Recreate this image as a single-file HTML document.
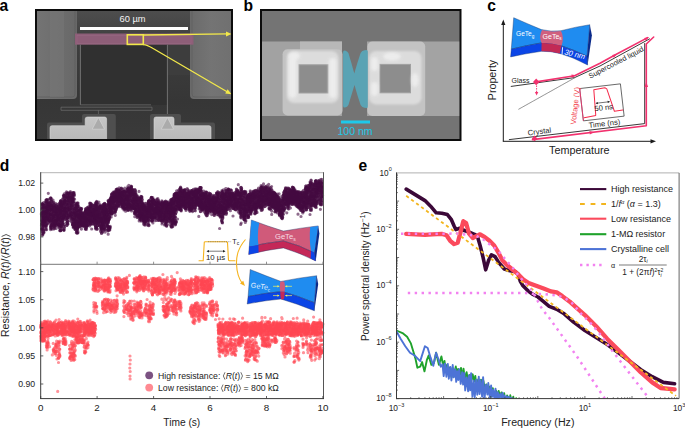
<!DOCTYPE html>
<html><head><meta charset="utf-8"><title>Figure</title>
<style>html,body{margin:0;padding:0;background:#fff;width:685px;height:428px;overflow:hidden;font-family:"Liberation Sans", sans-serif;}</style>
</head><body>
<svg width="685" height="428" viewBox="0 0 685 428" style="display:block;font-family:'Liberation Sans', sans-serif">
<rect width="685" height="428" fill="#fff"/>
<g id="pa">
<defs><linearGradient id="agbg" x1="0" y1="0" x2="0" y2="1"><stop offset="0" stop-color="#4e4e4e"/><stop offset="0.25" stop-color="#3e3e3e"/><stop offset="0.7" stop-color="#363636"/><stop offset="1" stop-color="#3a3a3a"/></linearGradient><linearGradient id="agpad" x1="0" y1="0" x2="1" y2="0"><stop offset="0" stop-color="#747474"/><stop offset="0.5" stop-color="#6e6e6e"/><stop offset="1" stop-color="#686868"/></linearGradient><linearGradient id="agpad2" x1="0" y1="0" x2="1" y2="0"><stop offset="0" stop-color="#6a6a6a"/><stop offset="0.5" stop-color="#747474"/><stop offset="1" stop-color="#707070"/></linearGradient><linearGradient id="agbot" x1="0" y1="0" x2="0" y2="1"><stop offset="0" stop-color="#c6c6c6"/><stop offset="1" stop-color="#b8b8b8"/></linearGradient></defs>
<rect x="36" y="10" width="196" height="130" fill="url(#agbg)"/>
<rect x="80.4" y="44.7" width="87" height="60.1" fill="#303030"/>
<rect x="167.4" y="44.7" width="23" height="30.3" fill="#3d3d3d"/>
<path d="M36 10 H77 V95 Q77 99 73 99 H36 Z" fill="url(#agpad)"/>
<path d="M36 10 H75 V94 Q75 97 72 97 H36 Z" fill="none" stroke="#5e5e5e" stroke-width="0.8"/>
<rect x="50" y="10" width="14" height="87" fill="#787878" opacity="0.5"/>
<path d="M232 10 H190 V95 Q190 99 194 99 H232 Z" fill="url(#agpad2)"/>
<path d="M232 10 H192 V94 Q192 97 195 97 H232 Z" fill="none" stroke="#606060" stroke-width="0.8"/>
<rect x="75" y="33.5" width="118.5" height="11.2" fill="#8e5e78"/>
<rect x="77" y="35.5" width="114" height="8" fill="none" stroke="#9a6a84" stroke-width="0.5"/>
<line x1="80.4" y1="44.7" x2="80.4" y2="104.8" stroke="#808080" stroke-width="0.8"/>
<line x1="167.4" y1="44.7" x2="167.4" y2="118" stroke="#808080" stroke-width="0.8"/>
<path d="M80.4 104.8 H151 M61 107.2 H152 M61 110.3 H152 M61 107.2 V110.3 M152 107.2 V110.3 M98.4 110.3 V117.5" stroke="#777" stroke-width="0.6" fill="none"/>
<path d="M84 114 Q82 114 82 116 V122.6 H49 Q47 122.6 47 124.6 V140 H115.8 V116 Q115.8 114 113.8 114 Z" fill="#4f4f4f"/>
<path d="M152 114 Q150 114 150 116 V140 H215 V124.6 Q215 122.6 213 122.6 H181 V116 Q181 114 179 114 Z" fill="#4f4f4f"/>
<path d="M87.5 117 H104.6 Q106.6 117 106.6 119 V140 H52 Q50 140 50 138 V127.7 Q50 125.7 52 125.7 H85.2 V119 Q85.2 117 87.5 117 Z" fill="url(#agbot)" stroke="#d8d8d8" stroke-width="0.6"/>
<path d="M156 117 H172 Q174 117 174 119 V125.7 H209 Q211 125.7 211 127.7 V140 H154 V119 Q154 117 156 117 Z" fill="url(#agbot)" stroke="#d8d8d8" stroke-width="0.6"/>
<path d="M98.4 117.5 L104.6 129.2 H92.2 Z" fill="#ababab" stroke="#d2d2d2" stroke-width="0.7"/>
<path d="M167.4 117.5 L173.6 129.2 H161.2 Z" fill="#ababab" stroke="#d2d2d2" stroke-width="0.7"/>
<rect x="80" y="27" width="108" height="3" fill="#fff"/>
<text x="132.5" y="22" fill="#f4f4f4" text-anchor="middle" style="font-size:9.3px;" >60 µm</text>
<rect x="127.3" y="34.8" width="16" height="9.6" fill="none" stroke="#f2e84a" stroke-width="1.6"/>
<line x1="143.3" y1="35" x2="228" y2="33.9" stroke="#f2e84a" stroke-width="1.3"/>
<path d="M231.5 34 L226 31.5 L226 36.5 Z" fill="#f2e84a"/>
<path d="M143.3 44.6 Q147 44.6 152.7 48.3 L227.5 92" fill="none" stroke="#f2e84a" stroke-width="1.3"/>
<path d="M231.5 94.2 L225.2 93.6 L227.6 89.3 Z" fill="#f2e84a"/>
<rect x="36" y="10" width="196" height="130" fill="none" stroke="#0c0c0c" stroke-width="2"/>
</g>
<g id="pb">
<rect x="261" y="10" width="199.5" height="130" fill="#747474"/>
<rect x="261" y="41.5" width="81" height="74.5" fill="#a2a2a2"/>
<rect x="367" y="41.5" width="93" height="74.5" fill="#a3a3a3"/>
<rect x="300" y="41.5" width="42" height="10" fill="#b8b8b8"/>
<defs><filter id="bblur" x="-10%" y="-10%" width="120%" height="120%"><feGaussianBlur stdDeviation="1.2"/></filter></defs>
<defs><filter id="bblur2" x="-50%" y="-50%" width="200%" height="200%"><feGaussianBlur stdDeviation="1.8"/></filter><clipPath id="bclip"><rect x="261" y="10" width="199.5" height="130"/></clipPath></defs>
<rect x="282.6" y="49.3" width="59.89999999999998" height="66.2" rx="5" fill="#c3c3c3"/>
<rect x="287" y="51" width="51.5" height="52" rx="7" fill="#dcdcdc" filter="url(#bblur)"/>
<rect x="299" y="64.8" width="29" height="28.200000000000003" fill="#8d8d8d" stroke="#a0a0a0" stroke-width="1"/>
<rect x="367.4" y="41.5" width="57.80000000000001" height="74.5" rx="5" fill="#c3c3c3"/>
<rect x="369" y="51" width="52.5" height="53.400000000000006" rx="7" fill="#dcdcdc" filter="url(#bblur)"/>
<rect x="380" y="64.4" width="30.5" height="28.39999999999999" fill="#8d8d8d" stroke="#a0a0a0" stroke-width="1"/>
<g filter="url(#bblur2)" fill="#efefef" opacity="0.9"><rect x="288.5" y="56" width="8" height="42" rx="4"/><rect x="329" y="58" width="7.5" height="40" rx="3.5"/><ellipse cx="294" cy="56" rx="6" ry="4"/><rect x="371" y="57" width="7" height="14" rx="3.5"/><rect x="371" y="82" width="7" height="14" rx="3.5"/><ellipse cx="392" cy="56.5" rx="9" ry="4"/><ellipse cx="415" cy="80" rx="3.5" ry="7"/></g>
<path d="M343.1 52 Q343.1 50.3 345 50.5 Q347.3 51 348.4 53 Q351.5 63 354.3 73.6 Q357.2 63 360.6 53 Q362 50.5 364.5 50.2 L366.5 50 Q367.8 50 367.8 51.5 V106.5 Q367.8 108 366.5 108 L364.5 107.8 Q362 107.5 360.6 105 Q357.2 95 354.5 85 Q351.5 95 348.4 105 Q347.3 107 345 107.5 Q343.1 107.7 343.1 106 Z" fill="#5aa3b4"/>
<rect x="341" y="120.5" width="29" height="3" fill="#1ec9ea"/>
<text x="355" y="134.6" fill="#1ec9ea" text-anchor="middle" style="font-size:10.5px;" >100 nm</text>
<rect x="261" y="10" width="199.5" height="130" fill="none" stroke="#0c0c0c" stroke-width="2"/>
</g>
<g id="pc">
<line x1="503.3" y1="141.3" x2="503.3" y2="23" stroke="#1a1a1a" stroke-width="1"/>
<path d="M503.3 19.5 L501.2 25 L505.4 25 Z" fill="#1a1a1a"/>
<line x1="502.8" y1="141.3" x2="652" y2="141.3" stroke="#1a1a1a" stroke-width="1"/>
<path d="M656 141.3 L650.5 139.2 L650.5 143.4 Z" fill="#1a1a1a"/>
<text x="496" y="80" fill="#222" text-anchor="middle" style="font-size:10.7px;" transform="rotate(-90 496 80)">Property</text>
<text x="579.3" y="154.3" fill="#222" text-anchor="middle" style="font-size:10.8px;" >Temperature</text>
<polyline points="511.2,86.4 574.6,77.6 600.0,66.0 649.5,38.9" fill="none" stroke="#222" stroke-width="0.9" stroke-linejoin="round" stroke-linecap="round" />
<polyline points="644.7,43.5 644.7,123.6 509.3,139.6" fill="none" stroke="#222" stroke-width="0.9" stroke-linejoin="round" stroke-linecap="round" />
<polyline points="518.7,109.2 574.6,77.9" fill="none" stroke="#555" stroke-width="0.6" stroke-linejoin="round" stroke-linecap="round" stroke-dasharray="1.2 0.6"/>
<polyline points="536.2,81.9 574.6,75.8 600.0,63.2 615.4,54.8 647.7,37.6" fill="none" stroke="#f2316e" stroke-width="1.6" stroke-linejoin="round" stroke-linecap="round" />
<polyline points="532.5,139.6 646.3,125.8 646.3,44.0 653.7,37.0" fill="none" stroke="#f2316e" stroke-width="1.6" stroke-linejoin="round" stroke-linecap="round" />
<path d="M646.3 82 L644.5 87 L648.1 87 Z" fill="#f2316e"/>
<path d="M594 132.3 L589.5 131 L589.8 134.4 Z" fill="#f2316e"/>
<path d="M576 75.3 L571.4 74.6 L571.9 77.9 Z" fill="#f2316e"/><path d="M617 53.9 L612.2 54.9 L613.8 57.8 Z" fill="#f2316e"/><path d="M649 36.9 L644.2 37.9 L645.8 40.8 Z" fill="#f2316e"/>
<path d="M536.2 78.6 L539.4 81.9 L536.2 85.2 L533 81.9 Z" fill="#f2316e"/>
<path d="M534.6 135.6 L537.4 138.4 L534.6 141.2 L531.8 138.4 Z" fill="#f2316e"/>
<line x1="536.6" y1="85.5" x2="536.6" y2="92" stroke="#f2316e" stroke-width="1" stroke-dasharray="1.4 1.2"/>
<path d="M536.6 95.5 L534.9 92 L538.3 92 Z" fill="#f2316e"/>
<text x="511.6" y="82.9" fill="#222" text-anchor="start" style="font-size:7.0px;" >Glass</text>
<text x="590.3" y="78.8" fill="#222" text-anchor="start" style="font-size:7.4px;" transform="rotate(-27.5 590.3 78.8)">Supercooled liquid</text>
<text x="528" y="135.5" fill="#222" text-anchor="start" style="font-size:7.6px;" transform="rotate(-7 528 135.5)">Crystal</text>
<g transform="rotate(-6.6 601.9 102.3)">
<rect x="581.4" y="86.1" width="41" height="32.5" fill="#fff" stroke="#333" stroke-width="0.7"/>
<line x1="581.4" y1="86.1" x2="581.4" y2="118.6" stroke="#f2316e" stroke-width="0.8"/>
<polyline points="582.5,115.5 594.3,114.6 595.3,89.0 606.5,88.2 608.3,89.5 613.3,112.6 621.8,112.3" fill="none" stroke="#f52a4a" stroke-width="1.0" stroke-linejoin="round" stroke-linecap="round" />
<line x1="596" y1="102.6" x2="609.5" y2="102.6" stroke="#222" stroke-width="0.6"/>
<path d="M595.5 102.6 L597.8 101.4 L597.8 103.8 Z" fill="#222"/><path d="M610 102.6 L607.7 101.4 L607.7 103.8 Z" fill="#222"/>
<text x="603" y="110.4" fill="#222" text-anchor="middle" style="font-size:7.6px;" >50 ns</text>
<text x="602" y="126.3" fill="#222" text-anchor="middle" style="font-size:7.6px;" >Time (ns)</text>
</g>
<text x="577.8" y="106" fill="#f23a4a" text-anchor="middle" style="font-size:7.6px;" transform="rotate(-84 577.8 106)">Voltage (V)</text>
<path d="M513.7 17.7 Q528 24 541.4 29.6 Q551 32 561 30.7 Q575 27 589.8 24.7 L587 56.2 Q574 50 561 45.7 Q551 42.5 541.4 42.9 Q526 45.5 511.3 49.2 Z" fill="#1f8cf0" stroke="#10306a" stroke-width="0.4"/>
<path d="M511.3 49.2 Q526 45.5 541.4 42.9 Q551 42.5 561 45.7 Q574 50 587 56.2 L587.6 65 Q573 57 559.6 53.4 Q550 51 541.4 51.3 Q526 53.5 510.6 56.9 Z" fill="#0b45e6" stroke="#10306a" stroke-width="0.4"/>
<path d="M589.8 24.7 L591.9 35.2 L587.6 65 L587 56.2 Z" fill="#0a2a8a"/>
<path d="M542 30 Q551 32.2 561 30.9 Q564.5 37 561.5 45.8 Q551 42.7 541.6 43 Q538.5 36.5 542 30 Z" fill="#d0607e"/>
<path d="M541.6 43 Q551 42.7 561.5 45.8 L559.8 53.4 Q550 51 541.4 51.3 Z" fill="#c22a55"/>
<text x="516" y="36.3" fill="#fff" text-anchor="start" style="font-size:6.6px;" >GeTe<tspan font-size="4.6" dy="1.6">g</tspan></text>
<text x="542.6" y="38.6" fill="#fff" text-anchor="start" style="font-size:7.0px;" >GeTe<tspan font-size="4.6" dy="1.6">s</tspan></text>
<line x1="562.6" y1="47.2" x2="562" y2="54.8" stroke="#fff" stroke-width="0.9"/>
<text x="564" y="54.3" fill="#fff" text-anchor="start" style="font-size:7.6px;" transform="rotate(14 564 54.3)" font-style="italic">30 nm</text>
</g>
<g id="pd">
<path d="M223.7 203.4h0M215.0 210.4h0M206.1 199.4h0M72.6 199.1h0M236.4 195.1h0M209.2 195.5h0M94.9 218.5h0M182.0 196.6h0M284.2 196.3h0M42.5 204.8h0M308.4 189.6h0M173.9 216.3h0M43.4 205.5h0M70.1 207.4h0M137.7 217.1h0M224.8 200.5h0M242.7 204.6h0M82.4 221.0h0M287.0 204.5h0M226.3 191.9h0M78.6 220.8h0M235.0 202.8h0M307.2 191.3h0M122.0 205.5h0M142.5 199.5h0M182.1 201.5h0M109.2 201.8h0M98.6 219.2h0M259.3 196.6h0M272.0 199.5h0M288.1 198.8h0M292.3 197.1h0M47.7 209.2h0M235.6 205.2h0M190.4 203.1h0M168.5 213.8h0M178.7 196.2h0M232.3 197.1h0M264.0 204.5h0M106.6 225.1h0M93.2 224.1h0M140.1 198.8h0M237.5 203.1h0M302.6 196.5h0M86.9 220.8h0M165.0 206.6h0M286.4 196.3h0M219.4 212.8h0M132.1 202.5h0M212.4 207.6h0M174.3 203.4h0M255.0 202.0h0M107.7 214.6h0M294.5 199.1h0M60.7 228.7h0M131.8 192.0h0M235.8 199.3h0M200.7 194.9h0M134.0 197.0h0M269.8 196.3h0M321.1 182.7h0M76.0 205.0h0M103.4 224.8h0M88.3 225.1h0M172.2 199.7h0M237.2 192.1h0M249.7 206.1h0M42.4 209.3h0M204.6 196.6h0M72.7 219.5h0M148.9 211.5h0M277.7 208.7h0M245.6 205.8h0M111.7 194.4h0M105.2 220.1h0M171.7 207.5h0M313.9 196.5h0M53.8 227.1h0M190.0 203.8h0M46.9 216.4h0M284.0 205.4h0M202.7 194.9h0M54.5 216.4h0M161.6 206.0h0M178.5 193.8h0M46.0 228.3h0M243.4 201.7h0M152.4 210.3h0M144.9 206.1h0M207.7 202.3h0M65.6 208.1h0M213.0 202.2h0M293.9 197.4h0M321.1 184.7h0M71.6 219.4h0M226.4 212.9h0M62.6 209.8h0M223.6 212.3h0M226.8 205.5h0M96.7 211.8h0M226.4 206.9h0M179.7 195.0h0M270.6 209.0h0M143.1 205.2h0M279.7 213.7h0M305.4 188.8h0M196.3 198.8h0M217.5 193.3h0M117.2 198.4h0M161.6 219.8h0M138.7 212.2h0M205.0 202.3h0M76.4 220.9h0M51.5 210.9h0M141.0 201.3h0M242.9 201.0h0M246.1 201.1h0M256.9 196.9h0M218.6 202.1h0M284.2 196.1h0M79.7 216.1h0M321.0 190.9h0M48.5 209.0h0M291.2 191.3h0M233.1 205.6h0M303.6 202.2h0M284.7 190.9h0M247.7 197.7h0M153.4 210.0h0M302.5 199.9h0M236.4 195.2h0M204.7 194.0h0M161.1 211.1h0M147.9 216.5h0M124.2 190.3h0M228.1 202.1h0M276.2 208.1h0M255.3 210.6h0M180.3 206.9h0M293.6 199.6h0M109.6 204.2h0M231.4 197.7h0M108.0 222.1h0M150.8 215.8h0M245.4 215.3h0M178.6 209.2h0M272.1 196.6h0M50.1 213.8h0M291.4 197.6h0M288.0 193.0h0M198.8 195.1h0M315.7 202.4h0M95.7 213.0h0M135.7 203.3h0M125.6 205.1h0M96.2 227.1h0M259.8 192.1h0M92.7 218.0h0M110.7 201.2h0M214.2 206.5h0M147.3 214.2h0M111.5 202.7h0M182.1 199.9h0M305.4 189.0h0M216.1 211.1h0M282.9 207.0h0M110.9 202.4h0M245.2 201.5h0M131.0 191.4h0M46.3 217.9h0M158.3 207.5h0M261.8 207.5h0M96.0 206.0h0M95.4 211.5h0M254.8 210.0h0M219.8 203.1h0M261.8 193.4h0M42.7 227.6h0M122.1 205.2h0M176.0 205.1h0M51.3 206.2h0M48.2 216.6h0M252.3 200.6h0M166.5 222.3h0M203.0 206.6h0M164.9 219.1h0M143.4 217.3h0M156.2 208.0h0M80.2 210.5h0M88.0 212.2h0M126.8 205.2h0M127.4 208.5h0M243.5 201.1h0M73.8 214.2h0M284.2 194.4h0M125.9 196.1h0M115.5 197.8h0M46.0 210.2h0M313.8 195.6h0M112.8 194.3h0M179.7 198.4h0M112.1 210.2h0M311.6 204.9h0M95.3 216.4h0M247.0 201.9h0M303.0 206.6h0M210.2 205.3h0M235.8 209.9h0M263.6 191.4h0M93.6 217.8h0M257.1 205.6h0M268.8 197.1h0M50.2 214.4h0M60.1 226.2h0M155.6 209.8h0M222.2 206.2h0M85.2 219.4h0M301.5 210.5h0M51.1 199.7h0M316.0 193.2h0M263.3 199.3h0M243.9 217.6h0M162.3 204.1h0M277.2 197.0h0M138.1 208.4h0M188.3 203.1h0M197.6 190.8h0M105.2 210.9h0M46.2 215.1h0M46.0 212.4h0M152.7 211.9h0M149.1 215.2h0M96.9 204.5h0M114.2 205.5h0M168.2 218.0h0M273.1 195.4h0M166.7 202.9h0M215.2 203.3h0M170.7 212.9h0M102.2 222.4h0M206.6 210.4h0M172.5 224.9h0M76.9 203.2h0M125.5 197.2h0M198.0 201.6h0M309.1 198.2h0M81.4 211.3h0M303.0 195.5h0M263.5 202.8h0M100.6 231.4h0M194.1 203.9h0M233.6 195.6h0M129.2 206.0h0M133.7 194.4h0M71.8 200.2h0M313.3 184.7h0M203.0 199.2h0M121.8 201.3h0M209.5 197.0h0M120.3 197.4h0M156.6 201.5h0M297.6 198.5h0M50.7 215.4h0M127.1 192.6h0M277.3 203.4h0M157.0 199.9h0M306.8 196.5h0M278.9 200.9h0M211.5 206.8h0M177.7 207.6h0M286.6 193.8h0M85.1 216.9h0M224.2 203.4h0M111.8 203.9h0M302.9 211.4h0M116.4 189.7h0M312.3 203.3h0M153.9 218.0h0M47.7 204.9h0M80.1 222.6h0M219.4 192.8h0M237.7 195.8h0M292.6 187.3h0M258.1 196.7h0M199.9 195.5h0M299.3 191.8h0M72.6 220.7h0M97.8 214.2h0M50.2 209.6h0M92.3 217.5h0M295.7 195.2h0M73.0 213.0h0M126.2 195.5h0M170.0 208.0h0M62.6 209.2h0M289.7 193.5h0M172.3 201.9h0M97.7 208.6h0M128.6 192.9h0M288.5 202.6h0M76.2 227.6h0M268.4 204.7h0M256.9 197.2h0M236.6 206.9h0M305.7 190.3h0M306.2 193.3h0M230.5 194.6h0M189.4 205.9h0M167.8 210.4h0M248.5 215.9h0M241.4 191.3h0M249.5 194.4h0M268.2 193.9h0M111.9 211.6h0M201.6 204.1h0M97.8 215.9h0M180.1 189.2h0M65.9 199.9h0M156.8 211.8h0M270.0 204.6h0M260.0 199.0h0M237.4 192.8h0M83.5 221.4h0M96.7 218.7h0M283.2 200.2h0M103.6 216.9h0M104.0 207.1h0M78.8 215.0h0M289.0 203.1h0M272.3 200.6h0M236.4 209.8h0M73.3 224.7h0M322.1 194.3h0M290.9 190.9h0M113.9 193.5h0M240.6 198.2h0M269.2 201.4h0M262.2 193.9h0M262.5 190.7h0M127.7 203.3h0M128.2 189.2h0M186.5 195.9h0M132.2 204.0h0M46.1 213.2h0M180.3 205.9h0M78.0 223.8h0M107.9 221.9h0M81.8 224.8h0M310.2 191.8h0M139.3 210.9h0M129.3 205.0h0M113.0 201.2h0M45.6 211.6h0M271.2 192.8h0M68.2 203.3h0M86.3 213.3h0M75.6 214.4h0M59.3 224.0h0M198.3 198.3h0M94.7 214.1h0M252.6 202.5h0M207.0 212.7h0M271.7 189.5h0M106.1 226.1h0M305.4 201.1h0M96.9 203.2h0M266.5 204.0h0M281.2 217.2h0M273.3 194.3h0M118.2 195.2h0M200.9 208.4h0M220.1 204.6h0M240.3 196.1h0M141.5 201.7h0M148.4 207.2h0M177.0 198.6h0M296.4 200.6h0M305.5 198.1h0M260.1 206.1h0M310.4 196.7h0M316.1 193.1h0M279.8 211.1h0M307.9 207.5h0M287.4 196.4h0M83.5 221.4h0M82.0 222.0h0M185.0 193.7h0M318.6 181.6h0M92.5 215.8h0M251.8 197.6h0M162.8 215.9h0M250.0 199.2h0M68.3 202.1h0M231.5 201.2h0M316.7 194.8h0M307.0 203.3h0M245.9 203.7h0M94.4 220.3h0M148.5 220.2h0M270.7 190.1h0M241.2 213.1h0M181.8 196.8h0M75.8 224.5h0M46.7 223.4h0M174.5 209.1h0M144.3 221.7h0M50.6 216.3h0M102.7 209.4h0M48.4 203.3h0M271.6 186.5h0M72.1 195.4h0M71.0 214.7h0M96.2 221.2h0M182.3 195.7h0M279.3 213.0h0M318.0 197.3h0M279.3 203.4h0M291.5 194.1h0M240.8 201.9h0M199.9 196.6h0M292.5 190.1h0M251.9 200.2h0M230.0 203.1h0M196.4 192.9h0M197.6 197.5h0M210.0 196.6h0M218.8 212.8h0M191.9 199.3h0M86.0 219.2h0M71.2 207.3h0M284.2 206.2h0M56.8 220.0h0M159.5 212.4h0M148.2 211.5h0M155.7 212.3h0M187.9 202.8h0M184.4 199.4h0M303.1 195.3h0M57.4 223.2h0M190.7 207.8h0M157.6 204.3h0M289.4 190.0h0M149.6 203.9h0M199.4 195.3h0M47.8 210.4h0M247.7 195.0h0M128.0 208.4h0M207.8 210.9h0M88.1 211.3h0M209.4 198.7h0M47.0 212.9h0M286.0 196.5h0M256.3 211.9h0M255.4 203.2h0M76.8 231.5h0M244.7 192.0h0M123.2 207.6h0M127.4 192.0h0M193.1 201.3h0M54.4 211.9h0M277.4 206.4h0M182.9 190.0h0M126.2 194.9h0M277.2 206.1h0M301.7 197.5h0M89.9 208.3h0M70.7 204.0h0M317.9 186.6h0M319.8 192.4h0M256.5 194.9h0M311.2 182.2h0M312.5 188.8h0M318.5 199.6h0M275.6 194.6h0M94.3 205.9h0M82.5 221.9h0M295.6 198.9h0M94.7 211.6h0M109.5 199.7h0M255.0 202.5h0M241.4 205.8h0M191.9 207.9h0M219.9 213.9h0M226.5 210.6h0M266.2 200.1h0M59.9 224.7h0M278.5 203.2h0M313.5 197.5h0M307.5 188.6h0M67.5 195.0h0M104.1 228.2h0M178.6 197.4h0M62.7 208.6h0M302.9 207.5h0M58.8 212.2h0M111.1 204.0h0M250.9 194.6h0M245.8 220.6h0M106.4 213.8h0M122.8 203.4h0M273.7 207.9h0M159.7 204.0h0M110.1 212.8h0M253.7 191.2h0M253.8 208.2h0M146.4 209.2h0M260.2 201.0h0M53.0 223.6h0M109.0 209.2h0M44.0 221.1h0M307.4 199.7h0M111.8 207.9h0M240.9 195.8h0M132.9 206.6h0M72.7 202.5h0M170.9 208.7h0M119.9 193.6h0M52.4 221.0h0M175.7 198.7h0M49.2 221.0h0M220.2 210.1h0M209.1 201.3h0M281.6 213.6h0M289.4 202.4h0M191.3 198.0h0M146.5 211.3h0M158.2 213.5h0M312.3 185.3h0M144.4 216.2h0M132.8 202.5h0M225.4 198.6h0M226.4 209.9h0M150.4 213.2h0M158.5 212.2h0M63.7 229.9h0M199.9 196.5h0M128.2 209.0h0M165.1 224.5h0M223.5 211.7h0M163.0 211.5h0M109.9 207.7h0M47.5 204.8h0M75.2 222.9h0M242.1 199.8h0M213.4 212.0h0M250.6 207.7h0M307.5 200.1h0M127.2 196.7h0M42.4 224.0h0M138.2 210.6h0M186.6 207.0h0M224.4 213.6h0M291.5 202.8h0M175.3 195.9h0M317.3 188.6h0M84.0 219.9h0M210.0 201.4h0M174.3 200.8h0M294.7 192.0h0M260.7 195.4h0M61.4 213.9h0M200.4 201.2h0M80.6 214.3h0M229.5 208.9h0M98.8 213.0h0M311.1 180.2h0M318.3 191.1h0M233.9 206.1h0M232.6 193.0h0M192.0 192.9h0M75.6 208.4h0M72.0 221.9h0M261.8 204.2h0M174.2 212.0h0M128.7 209.1h0M181.1 207.4h0M114.9 211.2h0M277.8 207.0h0M176.1 204.3h0M292.0 202.7h0M237.6 208.3h0M224.2 210.2h0M100.7 211.1h0M275.0 202.6h0M50.7 229.6h0M263.6 196.7h0M153.5 199.3h0M50.5 217.5h0M115.3 215.3h0M147.3 212.2h0M213.3 203.1h0M299.1 194.9h0M276.6 195.6h0M114.4 198.4h0M174.4 209.9h0M102.2 220.8h0M296.1 201.3h0M77.5 228.5h0M66.0 200.8h0M228.0 205.5h0M251.1 197.1h0M266.9 187.5h0M102.9 218.3h0M80.4 211.0h0M292.7 191.0h0M306.0 205.0h0M193.4 193.7h0M97.5 214.3h0M287.8 207.8h0M140.2 198.4h0M44.2 216.0h0M175.2 203.3h0M122.2 192.6h0M294.9 199.4h0M161.0 212.7h0M89.2 217.8h0M172.9 221.1h0M234.8 200.1h0M227.0 209.7h0M41.9 212.6h0M278.7 206.4h0M79.5 218.0h0M277.2 201.5h0M158.7 210.4h0M118.3 202.8h0M48.2 217.1h0M99.1 215.8h0M166.6 209.5h0M82.5 212.9h0M42.3 235.2h0M278.4 197.3h0M70.7 205.4h0M145.8 217.0h0M134.4 191.4h0M99.3 215.9h0M140.0 219.3h0M284.3 207.1h0M129.4 205.3h0M81.1 217.0h0M137.5 209.6h0M180.8 207.7h0M152.4 217.5h0M136.4 211.5h0M150.9 204.1h0M146.0 211.3h0M311.3 187.9h0M173.2 202.0h0M180.9 199.3h0M231.3 206.3h0M101.3 215.3h0M276.6 211.1h0M139.9 212.5h0M157.4 202.9h0M245.4 193.1h0M271.7 214.4h0M137.8 209.1h0M195.4 202.3h0M269.8 187.7h0M125.2 203.4h0M45.2 213.6h0M108.5 227.3h0M183.9 190.5h0M240.5 192.8h0M77.4 217.3h0M207.6 209.5h0M122.5 190.4h0M186.7 198.1h0M167.3 206.6h0M110.9 203.7h0M151.9 220.6h0M138.0 204.6h0M253.8 202.1h0M215.3 202.3h0M220.0 208.5h0M305.0 202.1h0M222.9 195.9h0M264.1 197.1h0M210.9 204.4h0M272.9 191.7h0M305.3 203.8h0M188.5 200.9h0M73.9 192.8h0M185.8 192.5h0M58.1 211.5h0M143.5 219.4h0M86.1 228.3h0M62.3 217.6h0M252.6 204.1h0M130.9 193.5h0M112.1 211.1h0M216.2 205.3h0M141.0 213.0h0M165.9 203.7h0M260.0 191.5h0M234.0 198.9h0M226.3 194.4h0M89.9 204.6h0M322.5 188.0h0M158.7 209.9h0M299.9 194.5h0M145.3 218.3h0M235.8 205.7h0M284.7 201.2h0M61.5 226.5h0M128.0 209.6h0M77.0 229.0h0M310.3 203.5h0M228.4 202.9h0M85.4 222.6h0M194.4 196.5h0M53.7 210.4h0M240.1 198.2h0M58.8 206.6h0M113.2 206.9h0M90.2 221.2h0M175.7 197.0h0M85.2 217.3h0M272.3 190.7h0M122.2 188.8h0M194.4 193.1h0M200.1 204.4h0M176.3 202.0h0M272.8 196.6h0M319.0 192.1h0M284.0 192.5h0M281.9 217.5h0M236.3 191.4h0M49.9 215.1h0M49.4 220.7h0M73.4 226.8h0M187.4 193.8h0M171.1 204.2h0M104.9 214.7h0M253.3 193.2h0M228.8 202.5h0M260.0 195.5h0M61.8 216.8h0M229.2 193.5h0M121.6 197.0h0M119.2 203.0h0M87.7 215.7h0M42.2 209.4h0M168.7 204.4h0M42.4 228.8h0M171.6 204.6h0M215.6 210.9h0M195.6 200.7h0M129.9 194.1h0M212.3 203.5h0M226.6 190.7h0M310.0 214.5h0M260.9 195.3h0M262.7 193.3h0M95.5 216.3h0M93.0 210.4h0M163.4 203.6h0M294.2 193.1h0M136.5 210.4h0M50.8 198.7h0M241.1 207.9h0M75.0 216.1h0M176.5 203.2h0M95.6 227.9h0M219.4 202.0h0M43.2 215.6h0M241.5 206.3h0M135.6 212.2h0M77.1 212.9h0M109.6 204.6h0M86.6 210.7h0M76.1 218.0h0M233.8 207.2h0M290.9 200.7h0M83.7 216.5h0M305.3 197.9h0M64.0 196.7h0M277.6 204.0h0M129.4 190.6h0M183.5 196.8h0M98.8 210.1h0M128.6 207.2h0M155.2 217.8h0M92.3 212.2h0M262.6 203.3h0M314.1 203.7h0M46.4 224.5h0M60.5 220.9h0M55.6 225.6h0M175.7 196.3h0M295.6 204.2h0M130.8 200.5h0M59.6 230.6h0M67.7 199.8h0M85.7 229.0h0M255.9 206.6h0M287.0 190.5h0M247.7 204.8h0M96.8 201.3h0M53.0 207.9h0M248.3 207.2h0M148.7 207.1h0M257.4 194.8h0M260.8 202.1h0M263.6 195.7h0M97.5 222.7h0M125.9 193.3h0M45.8 202.0h0M201.2 202.9h0M299.8 206.5h0M264.9 197.4h0M136.7 200.6h0M101.2 218.2h0M192.7 203.4h0M119.2 189.4h0M49.1 205.6h0M108.9 230.1h0M227.1 201.0h0M255.2 208.3h0M306.8 187.9h0M221.0 214.3h0M148.7 217.1h0M171.6 221.7h0M120.4 202.3h0M78.6 210.5h0M306.5 205.1h0M184.9 207.1h0M314.1 199.7h0M88.6 208.6h0M175.0 221.8h0M151.5 197.3h0M243.5 205.3h0M148.5 203.7h0M152.5 213.0h0M319.6 184.8h0M90.0 203.2h0M87.6 221.9h0M200.5 199.9h0M81.6 219.6h0M313.6 205.2h0M215.0 203.4h0M62.0 214.8h0M245.8 210.4h0M83.9 224.3h0M320.8 191.5h0M218.7 202.8h0M115.2 205.9h0M176.7 201.5h0M45.4 210.7h0M128.9 192.8h0M211.7 207.6h0M210.1 208.9h0M282.4 214.0h0M98.6 211.6h0M203.6 207.8h0M255.6 209.1h0M202.3 204.5h0M202.8 210.3h0M294.8 191.5h0M288.7 200.0h0M101.5 227.5h0M134.1 208.3h0M312.9 188.2h0M54.4 207.1h0M153.2 199.1h0M221.9 219.8h0M268.1 197.0h0M275.7 208.2h0M136.6 214.2h0M258.2 200.7h0M133.3 203.7h0M258.6 202.3h0M117.6 193.7h0M299.8 208.3h0M98.6 220.3h0M172.5 219.9h0M244.0 197.2h0M152.2 210.2h0M166.0 204.9h0M131.1 207.9h0M317.1 183.7h0M44.1 214.7h0M70.9 218.5h0M321.3 192.0h0M265.9 199.4h0M119.2 187.9h0M170.1 203.9h0M321.4 197.7h0M55.4 219.9h0M130.2 194.0h0M149.7 216.3h0M70.4 191.6h0M68.6 192.9h0M111.0 211.7h0M131.6 211.0h0M135.9 209.2h0M268.0 202.3h0M82.5 219.6h0M205.8 197.7h0M45.1 218.7h0M295.4 193.3h0M74.1 192.5h0M222.5 198.5h0M88.0 216.6h0M278.4 198.9h0M120.7 196.8h0M151.5 218.0h0M152.1 204.6h0M178.5 198.4h0M221.6 205.6h0M58.3 225.0h0M199.4 200.3h0M312.9 197.9h0M111.3 205.5h0M211.6 210.2h0M93.5 221.6h0M101.6 225.7h0M93.6 212.8h0M322.0 194.2h0M66.9 197.7h0M41.7 215.7h0M268.1 201.6h0M255.3 203.6h0M144.4 219.4h0M127.0 194.8h0M113.7 208.8h0M284.6 196.1h0M200.6 193.3h0M169.2 214.1h0M296.7 202.2h0M90.2 207.4h0M316.7 189.0h0M152.8 220.1h0M268.0 194.6h0M92.4 219.5h0M178.8 202.1h0M192.5 195.3h0M288.0 202.4h0M200.8 201.9h0M131.5 208.2h0M171.3 207.8h0M45.8 208.9h0M183.7 193.8h0M100.6 215.0h0M90.6 212.6h0M315.7 192.3h0M214.8 198.6h0M190.4 197.5h0M206.7 208.8h0M284.6 202.0h0M182.1 205.1h0M231.1 193.9h0M43.3 210.3h0M257.4 204.6h0M222.0 201.3h0M255.1 197.3h0M75.3 225.6h0M168.9 213.9h0M128.3 204.0h0M266.3 200.0h0M61.9 213.2h0M125.5 207.6h0M273.1 194.9h0M119.3 196.2h0M200.1 189.7h0M241.4 202.1h0M47.1 202.9h0M261.2 199.0h0M221.1 216.8h0M88.0 219.5h0M215.6 202.8h0M158.8 210.4h0M297.1 192.9h0M186.4 195.4h0M63.5 200.9h0M307.0 200.1h0M216.6 199.8h0M157.4 202.8h0M315.9 182.2h0M222.1 221.5h0M290.2 197.2h0M195.8 192.2h0M59.3 218.3h0M181.4 207.8h0M292.3 193.4h0M58.0 217.4h0M214.6 205.6h0M49.8 205.7h0M96.1 219.8h0M93.8 207.3h0M182.4 204.6h0M209.1 196.6h0M142.9 204.2h0M127.5 199.9h0M60.7 230.4h0M286.5 199.4h0M142.8 216.6h0M297.0 196.6h0M181.0 200.7h0M245.5 204.1h0M248.3 204.7h0M206.2 206.0h0M78.8 216.1h0M164.7 202.9h0M157.7 207.0h0M208.9 196.6h0M89.8 219.2h0M130.1 203.0h0M209.0 202.9h0M310.8 206.2h0M163.3 207.2h0M301.1 196.1h0M231.4 205.7h0M271.0 201.9h0M247.8 210.3h0M228.6 189.9h0M159.7 217.6h0M291.2 192.5h0M71.0 214.6h0M244.9 215.7h0M133.5 194.1h0M130.2 192.0h0M167.7 208.2h0M287.3 190.9h0M207.7 208.6h0M288.3 197.5h0M170.9 214.9h0M283.7 206.9h0M96.5 205.0h0M137.0 211.4h0M266.4 200.4h0M150.1 208.5h0M113.2 192.2h0M61.8 216.8h0M115.2 198.2h0M45.5 211.9h0M146.3 218.7h0M214.4 215.4h0M195.6 192.1h0M252.1 198.5h0M280.7 202.6h0M57.9 219.3h0M241.7 206.3h0M81.5 213.2h0M235.6 209.8h0M206.7 201.4h0M295.5 195.7h0M180.1 192.7h0M122.3 194.7h0M57.7 223.6h0M91.3 224.1h0M167.0 215.6h0M141.6 205.8h0M155.0 209.4h0M211.6 201.3h0M188.6 196.3h0M187.9 198.7h0M62.1 206.8h0M195.0 196.4h0M83.3 222.0h0M304.4 205.6h0M45.1 204.7h0M100.2 219.5h0M90.1 220.7h0M181.2 204.5h0M213.9 209.2h0M100.1 220.9h0M159.3 204.3h0M266.7 191.2h0M133.5 207.6h0M317.0 191.2h0M51.1 225.2h0M279.4 210.1h0M282.3 209.2h0M283.1 198.3h0M127.5 194.1h0M78.9 219.3h0M183.9 198.6h0M229.9 201.0h0M227.5 197.5h0M318.0 187.8h0M245.6 207.5h0M130.9 190.8h0M50.8 205.6h0M189.7 209.1h0M249.2 196.1h0M79.8 212.9h0M310.3 210.3h0M117.4 203.1h0M184.6 197.5h0M244.5 208.4h0M209.8 205.2h0M243.4 213.7h0M292.9 190.8h0M265.5 187.0h0M207.1 198.1h0M268.2 187.7h0M163.7 214.8h0M198.4 196.3h0M318.4 192.5h0M238.6 201.6h0M293.2 191.7h0M288.0 203.8h0M240.8 209.7h0M125.5 207.5h0M318.7 189.8h0M92.2 218.7h0M174.0 201.4h0M116.8 199.6h0M310.5 208.1h0M62.7 213.1h0M261.8 188.6h0M276.3 203.8h0M225.1 207.2h0M262.3 187.3h0M94.2 212.7h0M181.5 197.9h0M230.7 204.8h0M208.3 207.6h0M98.6 221.2h0M162.2 210.6h0M140.3 216.2h0M187.2 193.7h0M300.1 201.7h0M226.9 199.5h0M57.0 213.1h0M128.8 208.6h0M174.3 195.8h0M226.6 200.8h0M217.6 208.5h0M236.3 195.1h0M256.2 206.7h0M269.4 201.8h0M85.5 219.5h0M90.9 211.8h0M124.9 188.1h0M50.5 229.4h0M78.5 226.0h0M46.1 201.7h0M112.6 194.1h0M262.6 189.5h0M292.0 196.6h0M250.3 196.0h0M135.1 205.7h0M85.3 218.4h0M206.9 210.7h0M319.7 185.8h0M76.3 213.1h0M126.8 203.7h0M86.1 208.8h0M275.3 198.9h0M107.1 205.5h0M108.5 201.3h0M134.9 199.4h0M258.1 194.1h0M119.1 203.2h0M302.0 201.1h0M222.2 222.2h0M141.6 216.4h0M266.7 197.4h0M42.7 208.8h0M306.4 188.3h0M119.9 202.4h0M142.4 213.8h0M153.0 213.7h0M107.1 212.9h0M166.4 209.6h0M270.4 191.7h0M251.8 209.3h0M277.8 197.9h0M222.9 195.3h0M85.4 217.5h0M71.4 208.1h0M134.7 189.7h0M187.9 200.5h0M195.7 193.8h0M320.4 183.8h0M259.9 206.9h0M226.0 199.5h0M128.5 189.3h0M47.5 219.7h0M267.3 191.8h0M129.8 201.4h0M183.7 203.6h0M120.0 197.3h0M63.0 198.9h0M107.0 217.8h0M181.2 207.2h0M250.1 210.9h0M100.9 208.0h0M210.6 196.9h0M317.2 186.0h0M261.3 193.0h0M45.2 213.9h0M121.1 201.1h0M313.0 188.4h0M216.0 198.5h0M233.0 194.9h0M222.8 216.1h0M177.7 193.7h0M74.4 213.7h0M97.7 225.6h0M202.5 202.6h0M43.7 229.7h0M298.6 206.7h0M117.4 190.3h0M216.5 201.7h0M123.0 196.0h0M254.3 205.4h0M130.5 192.3h0M72.9 194.3h0M79.8 223.6h0M143.6 207.4h0M47.7 202.4h0M188.4 194.3h0M131.0 187.5h0M281.8 217.8h0M160.6 218.6h0M120.5 188.8h0M309.2 204.7h0M74.9 220.4h0M135.1 212.9h0M55.8 215.1h0M164.7 208.6h0M151.4 217.9h0M270.7 204.5h0M179.6 190.6h0M271.3 194.2h0M304.0 203.9h0M85.2 215.5h0M124.8 192.1h0M117.4 194.5h0M82.6 217.5h0M294.5 191.5h0M299.6 199.6h0M101.1 217.5h0M258.7 203.8h0M123.5 200.5h0M101.7 213.7h0M301.7 205.1h0M237.3 202.6h0M45.9 200.0h0M314.3 189.4h0M263.2 189.5h0M171.6 211.2h0M56.9 210.8h0M220.2 207.7h0M154.5 208.8h0M180.6 209.9h0M115.7 209.8h0M242.7 199.5h0M248.1 198.1h0M129.9 191.0h0M301.0 193.1h0M248.7 201.6h0M193.8 204.5h0M49.1 207.2h0M125.6 195.2h0M228.7 208.0h0M76.8 218.2h0M299.4 206.6h0M59.5 210.4h0M149.5 209.3h0M89.0 211.7h0M49.5 220.3h0M213.7 213.3h0M200.9 188.2h0M133.3 200.2h0M208.5 203.4h0M135.3 190.9h0M267.1 199.4h0M63.0 203.5h0M71.0 215.0h0M45.2 209.6h0M55.7 211.2h0M286.8 204.6h0M137.8 205.3h0M219.0 208.9h0M73.5 227.7h0M238.6 202.1h0M276.8 196.8h0M212.5 205.4h0M96.8 217.7h0M87.5 219.8h0M95.7 222.5h0M85.8 218.0h0M180.2 204.5h0M178.3 203.2h0M211.0 200.6h0M249.8 195.9h0M253.7 208.8h0M132.2 203.2h0M191.2 192.8h0M241.0 212.6h0M254.1 205.2h0M168.7 205.2h0M180.7 206.7h0M42.6 221.4h0M309.8 184.9h0M124.7 209.1h0M151.7 201.6h0M141.9 199.6h0M156.9 199.2h0M149.2 211.0h0M225.5 192.4h0M61.2 215.9h0M221.3 196.6h0M288.7 201.1h0M147.4 225.1h0M100.1 208.2h0M176.8 211.1h0M244.2 210.9h0M109.4 204.2h0M83.0 217.5h0M77.1 233.2h0M138.7 210.7h0M60.7 213.6h0M81.1 211.5h0M63.5 218.3h0M316.1 188.8h0M303.3 204.9h0M81.2 209.0h0M44.0 218.1h0M318.1 197.9h0M69.3 210.0h0M89.8 219.6h0M92.5 223.4h0M69.4 209.9h0M154.7 206.4h0M273.0 194.1h0M192.6 211.6h0M109.1 203.4h0M199.1 203.8h0M42.9 213.2h0M160.9 202.9h0M197.7 189.2h0M82.5 221.1h0M99.5 213.9h0M84.2 220.0h0M275.5 204.2h0M232.9 195.4h0M92.0 221.3h0M195.1 196.3h0M312.2 193.7h0M274.7 208.8h0M95.4 211.1h0M212.4 196.2h0M266.2 198.6h0M69.1 207.9h0M290.0 201.1h0M303.8 203.3h0M41.6 223.9h0M148.4 217.6h0M181.4 207.0h0M198.1 204.3h0M135.0 202.8h0M81.2 218.1h0M216.5 203.8h0M307.2 191.3h0M127.8 197.6h0M214.2 209.1h0M211.0 201.5h0M85.0 225.8h0M195.8 190.1h0M248.9 198.2h0M242.2 208.5h0M218.3 196.5h0M141.3 216.9h0M233.0 206.2h0M222.8 193.4h0M162.3 215.3h0M67.1 222.5h0M240.3 211.7h0M313.7 200.6h0M105.2 211.9h0M58.8 225.5h0M135.7 194.4h0M73.6 199.0h0M131.6 190.6h0M217.6 212.4h0M279.3 210.9h0M160.8 208.2h0M265.5 194.7h0M150.8 207.4h0M236.1 199.0h0M310.9 182.6h0M124.7 200.2h0M180.6 187.8h0M78.8 221.3h0M101.3 209.9h0M127.5 202.8h0M191.2 190.9h0M62.2 221.1h0M133.9 198.4h0M291.6 201.2h0M109.1 227.6h0M210.1 209.8h0M117.3 190.4h0M154.2 211.8h0M217.2 207.0h0M188.9 192.7h0M251.0 209.5h0M84.5 217.1h0M132.1 202.8h0M199.8 205.2h0M182.9 191.3h0M308.5 197.1h0M43.6 224.5h0M88.1 209.7h0M246.3 204.5h0M96.8 225.2h0M303.7 194.9h0M282.9 205.1h0M47.2 210.9h0M205.5 202.4h0M190.6 206.8h0M264.8 191.4h0M241.5 207.5h0M114.4 201.2h0M100.6 212.1h0M310.4 186.9h0M91.0 220.0h0M64.5 212.0h0M51.6 207.7h0M133.6 197.3h0M215.1 198.8h0M199.1 190.7h0M308.7 199.4h0M50.7 207.0h0M153.2 204.4h0M178.8 195.2h0M63.7 214.1h0M158.5 206.4h0M89.0 223.6h0M123.9 190.9h0M107.4 212.9h0M184.8 207.8h0M100.8 207.4h0M43.7 219.9h0M163.5 215.1h0M179.5 206.6h0M205.8 192.7h0M193.1 201.3h0M285.1 192.1h0M297.9 206.8h0M104.5 206.9h0M250.9 212.6h0M243.8 218.7h0M121.2 200.4h0M184.5 205.1h0M100.1 206.4h0M111.6 214.3h0M282.9 205.8h0M54.0 226.1h0M73.2 227.6h0M72.6 225.1h0M46.3 225.9h0M315.1 195.7h0M149.9 209.0h0M112.2 193.6h0M313.2 204.7h0M272.6 200.7h0M197.5 193.8h0M168.1 206.4h0M60.4 219.4h0M261.8 200.5h0M198.0 196.8h0M280.8 205.2h0M82.6 213.6h0M166.1 218.8h0M170.1 218.7h0M51.3 204.4h0M118.2 197.6h0M284.1 207.0h0M217.7 207.5h0M241.0 212.4h0M298.1 193.3h0M216.0 199.4h0M46.0 207.7h0M193.8 195.7h0M83.1 223.3h0M110.4 208.2h0M170.5 219.6h0M226.2 199.2h0M115.7 193.8h0M205.8 205.7h0M122.0 197.7h0M257.1 195.6h0M195.0 204.5h0M104.8 203.7h0M185.2 201.2h0M174.4 196.5h0M101.0 212.7h0M251.3 200.8h0M91.7 215.4h0M74.3 208.6h0M298.2 201.9h0M58.3 209.2h0M109.5 210.5h0M130.7 205.5h0M306.2 189.3h0M274.9 196.9h0M237.4 192.9h0M84.4 220.6h0M99.6 213.5h0M322.2 187.6h0M183.6 195.7h0M195.3 204.6h0M87.8 212.7h0M112.5 204.5h0M63.7 200.2h0M247.2 198.4h0M271.8 206.3h0M286.6 198.7h0M70.0 197.3h0M171.3 215.3h0M146.1 217.5h0M123.8 190.3h0M263.3 201.6h0M185.3 202.2h0M302.0 209.6h0M190.5 191.8h0M277.1 209.8h0M42.7 206.5h0M173.1 201.3h0M186.1 194.8h0M272.0 192.3h0M268.4 195.3h0M151.5 204.2h0M166.7 204.1h0M165.5 216.8h0M131.9 193.7h0M223.2 210.3h0M266.0 192.6h0M200.7 188.2h0M46.3 202.4h0M50.9 206.0h0M238.0 199.0h0M253.9 193.5h0M248.3 197.8h0M42.9 206.0h0M255.8 193.6h0M143.0 209.9h0M255.3 194.7h0M137.6 196.7h0M202.6 210.1h0M310.0 182.0h0M245.5 219.7h0M148.7 201.0h0M262.7 194.2h0M59.7 204.6h0M248.7 197.2h0M224.2 198.8h0M88.1 212.9h0M81.3 216.4h0M180.6 206.3h0M132.2 203.7h0M293.8 187.8h0M125.2 197.8h0M65.0 212.1h0M56.7 208.8h0M199.2 192.7h0M51.8 218.8h0M142.1 207.2h0M84.6 221.8h0M162.7 220.7h0M220.0 201.8h0M200.6 207.4h0M93.8 209.7h0M319.5 181.7h0M131.1 209.0h0M272.2 204.6h0M135.7 192.7h0M124.9 208.4h0M172.0 214.0h0M171.1 202.3h0M93.1 213.3h0M256.1 206.9h0M321.3 199.8h0M290.7 195.0h0M312.3 194.9h0M132.6 191.0h0M41.4 214.6h0M61.2 226.2h0M239.0 207.5h0M114.7 200.0h0M221.5 209.0h0M303.9 195.8h0M320.3 182.1h0M281.4 203.2h0M253.8 201.9h0M195.4 204.7h0M128.2 204.5h0M113.4 196.1h0M235.3 204.4h0M314.2 202.1h0M171.3 213.2h0M239.7 207.2h0M158.0 209.2h0M166.4 216.9h0M280.6 213.0h0M283.4 198.7h0M108.4 221.1h0M315.3 181.9h0M192.5 205.5h0M104.3 221.2h0M266.8 200.6h0M52.6 218.0h0M232.5 207.2h0M191.9 195.4h0M60.0 211.7h0M101.7 216.9h0M62.0 220.0h0M240.4 204.6h0M196.2 194.7h0M282.7 201.2h0M121.1 199.9h0M223.9 197.5h0M67.0 215.7h0M60.1 229.2h0M254.8 204.0h0M220.1 215.5h0M195.0 190.9h0M174.8 210.2h0M311.8 199.1h0M310.9 206.9h0M132.6 201.9h0M60.2 211.2h0M222.6 209.9h0M169.0 212.7h0M136.9 204.4h0M186.0 202.1h0M43.6 205.9h0M300.1 206.1h0M201.6 208.1h0M161.9 214.8h0M166.0 212.1h0M185.8 199.9h0M106.5 209.6h0M88.7 208.6h0M250.9 203.4h0M57.8 209.5h0M138.5 208.7h0M198.9 203.6h0M200.6 190.4h0M231.2 190.0h0M73.4 214.5h0M170.5 219.8h0M72.2 197.0h0M58.6 215.1h0M56.4 210.0h0M307.7 188.7h0M254.2 206.1h0M102.2 214.8h0M43.0 217.9h0M227.5 201.2h0M135.3 208.8h0M262.2 200.3h0M111.3 197.7h0M113.4 200.4h0M133.4 202.4h0M270.0 197.8h0M185.9 208.0h0M236.1 205.1h0M153.3 205.9h0M248.0 201.7h0M243.8 198.5h0M275.1 193.9h0M305.5 188.4h0M232.4 195.6h0M90.6 214.2h0M190.6 192.1h0M60.8 201.2h0M116.2 194.2h0M271.3 191.4h0M81.4 208.9h0M195.1 201.7h0M175.0 209.2h0M218.5 205.4h0M174.2 204.1h0M244.2 210.8h0M159.0 214.3h0M257.1 212.4h0M262.7 197.1h0M287.6 192.5h0M235.2 193.1h0M169.3 215.8h0M273.6 204.3h0M182.0 203.1h0M311.2 208.2h0M251.5 199.3h0M171.9 220.4h0M179.2 193.3h0M86.5 212.2h0M183.8 192.3h0M201.2 193.3h0M210.5 206.4h0M283.3 204.0h0M286.3 201.4h0M134.4 212.2h0M86.0 226.5h0M173.7 212.6h0M50.2 217.0h0M99.9 220.5h0M184.4 204.8h0M71.2 207.9h0M191.0 194.0h0M138.7 213.5h0M229.4 199.0h0M172.1 202.1h0M86.7 211.9h0M171.2 215.4h0M66.4 212.1h0M107.1 217.8h0M49.6 202.8h0M252.3 203.4h0M181.0 192.1h0M117.7 197.0h0M188.3 201.3h0M112.0 193.9h0M163.4 213.1h0M228.8 197.3h0M193.8 192.9h0M280.5 211.4h0M132.6 192.3h0M306.6 207.6h0M253.1 201.9h0M68.1 199.2h0M154.4 211.9h0M284.8 194.9h0M294.1 204.0h0M60.0 219.1h0M287.3 195.2h0M200.1 208.4h0M237.1 190.8h0M175.5 194.4h0M264.0 200.7h0M82.4 219.5h0M219.6 228.5h0M202.1 195.4h0M241.0 201.8h0M60.8 203.8h0M96.9 221.6h0M204.5 194.0h0M207.5 196.8h0M137.7 213.0h0M275.6 206.9h0M149.2 204.6h0M117.6 194.1h0M160.0 212.6h0M246.5 211.2h0M298.9 203.3h0M263.8 187.1h0M157.8 203.9h0M263.8 195.8h0M163.7 203.8h0M302.3 207.9h0M172.5 203.5h0M148.3 224.0h0M116.0 199.8h0M73.0 192.9h0M309.1 200.2h0M185.3 203.2h0M254.8 204.8h0M105.8 222.0h0M108.3 229.6h0M55.1 217.2h0M269.2 193.1h0M129.3 205.0h0M245.3 192.2h0M278.6 201.0h0M91.4 207.9h0M210.6 203.8h0M55.0 206.7h0M152.5 210.9h0M222.7 216.4h0M216.0 205.4h0M244.9 195.2h0M219.1 205.7h0M276.5 200.8h0M194.8 196.0h0M102.0 210.8h0M214.7 214.2h0M53.8 216.0h0M320.0 192.4h0M95.1 207.9h0M72.0 213.3h0M237.6 191.7h0M171.9 227.2h0M223.1 194.8h0M170.4 211.5h0M155.7 205.7h0M228.4 189.4h0M108.8 203.0h0M81.0 216.9h0M182.7 193.2h0M123.9 205.3h0M181.4 207.2h0M73.2 225.1h0M61.4 202.9h0M43.7 232.1h0M116.4 200.0h0M77.2 214.1h0M299.4 196.0h0M163.7 205.6h0M195.7 195.3h0M70.7 199.3h0M133.7 205.7h0M316.8 192.0h0M247.5 199.8h0M65.6 215.9h0M192.1 206.9h0M250.0 205.2h0M254.5 196.3h0M74.1 226.7h0M275.5 208.7h0" stroke="#420840" stroke-width="3.2" stroke-linecap="round" fill="none" stroke-opacity="0.6"/>
<path d="M138.9 202.8h0M182.3 194.8h0M266.3 205.5h0M200.3 207.9h0M110.6 199.7h0M259.7 192.8h0M66.1 209.8h0M144.3 204.2h0M179.9 209.1h0M174.9 196.1h0M63.7 204.0h0M199.1 209.0h0M172.7 209.8h0M298.4 205.1h0M162.5 220.8h0M182.3 196.4h0M103.9 224.5h0M163.2 214.4h0M51.7 223.2h0M76.9 214.6h0M248.2 195.8h0M164.5 210.9h0M117.9 206.1h0M229.7 200.0h0M50.4 220.0h0M131.6 186.6h0M312.5 183.3h0M126.5 207.0h0M58.9 210.3h0M250.4 205.1h0M101.9 210.9h0M94.1 216.4h0M97.0 209.7h0M192.4 190.3h0M179.2 198.1h0M179.4 206.4h0M101.6 228.5h0M316.4 203.1h0M259.2 196.6h0M46.3 203.2h0M281.0 209.0h0M301.1 198.7h0M62.0 218.2h0M288.7 196.6h0M245.1 210.0h0M252.3 199.8h0M210.3 194.0h0M288.8 202.8h0M135.3 213.9h0M252.8 209.6h0M110.0 202.6h0M92.4 222.6h0M310.3 205.9h0M131.1 206.0h0M256.3 197.8h0M180.1 188.2h0M269.1 204.3h0M119.7 202.8h0M118.8 193.5h0M140.3 210.4h0M149.4 209.1h0M269.6 198.2h0M80.5 216.7h0M100.8 206.7h0M154.7 213.5h0M41.8 215.5h0M293.2 201.3h0M223.1 210.8h0M307.1 199.8h0M309.1 197.6h0M217.5 207.0h0M287.6 205.3h0M68.6 214.2h0M204.1 212.0h0M164.0 211.4h0M85.8 221.3h0M274.8 193.5h0M319.2 187.9h0M173.5 217.9h0M157.5 208.6h0M315.3 181.0h0M234.6 200.7h0M119.2 203.1h0M133.3 197.9h0M297.9 203.1h0M131.1 191.2h0M245.2 192.8h0M267.2 200.5h0M120.1 189.4h0M73.6 212.3h0M60.3 210.4h0M62.2 205.6h0M236.4 196.9h0M54.9 213.9h0M162.0 217.2h0M188.3 205.4h0M77.5 222.3h0M217.8 191.5h0M239.1 196.2h0M286.4 189.2h0M155.9 203.2h0M198.6 202.1h0M301.6 193.4h0M227.3 201.9h0M81.2 220.4h0M228.9 204.5h0M223.0 196.5h0M321.3 185.3h0M165.5 201.3h0M116.2 205.9h0M270.8 208.6h0M265.5 197.5h0M254.8 203.1h0M43.3 231.6h0M81.0 208.7h0M63.4 206.1h0M185.2 199.3h0M223.4 204.0h0M207.0 205.0h0M207.0 214.0h0M241.7 204.7h0M248.7 217.4h0M294.7 193.6h0M302.3 211.3h0M309.2 206.9h0M311.3 200.3h0M177.3 201.5h0M196.9 191.0h0M135.0 192.6h0M65.3 209.4h0M308.4 195.1h0M93.3 210.7h0M56.5 214.7h0M238.7 199.7h0M76.0 209.3h0M250.0 201.2h0M106.9 210.7h0M206.3 210.0h0M79.2 217.0h0M73.5 212.7h0M125.0 192.2h0M118.7 194.0h0M289.0 195.5h0M191.2 202.1h0M142.1 201.8h0M137.1 197.6h0M205.6 199.0h0M138.8 205.9h0M165.1 204.6h0M50.8 209.1h0M42.4 228.2h0M134.5 195.6h0M202.4 202.8h0M109.0 207.6h0M63.1 205.2h0M192.4 201.1h0M260.5 193.1h0M260.9 201.7h0M205.7 212.8h0M194.5 199.3h0M54.6 222.8h0M289.3 192.0h0M183.7 201.0h0M110.8 198.7h0M193.8 203.3h0M218.9 215.0h0M227.9 192.9h0M214.2 203.5h0M119.5 199.8h0M223.5 207.3h0M261.8 197.0h0M266.2 190.4h0M251.3 198.5h0M181.1 196.4h0M103.5 225.9h0M93.8 213.7h0M110.3 210.4h0M174.3 205.4h0M64.2 227.5h0M179.9 208.9h0M84.7 213.5h0M109.7 214.1h0M162.5 206.6h0M57.6 222.2h0M248.9 206.4h0M150.0 207.9h0M252.8 206.8h0M79.9 216.6h0M263.0 205.8h0M53.9 222.4h0M235.1 196.8h0M249.3 197.0h0M55.3 205.4h0M103.4 217.0h0M287.7 201.9h0M169.0 209.4h0M257.6 193.2h0M277.4 209.2h0M313.5 203.6h0M275.2 203.5h0M254.0 194.0h0M218.1 207.6h0M241.0 187.5h0M63.3 217.8h0M257.2 198.1h0M213.1 199.1h0M69.9 196.8h0M214.9 203.4h0M299.5 203.0h0M318.0 182.8h0M163.9 210.1h0M238.2 200.1h0M64.7 201.6h0M118.4 197.2h0M85.1 222.8h0M165.5 211.6h0M215.3 208.7h0M205.9 211.0h0M157.2 214.7h0M256.4 197.9h0M298.7 199.0h0M211.5 208.2h0M146.8 210.0h0M108.9 202.3h0M189.5 204.8h0M125.2 205.5h0M83.9 225.6h0M82.7 214.0h0M104.2 205.0h0M266.6 195.7h0M116.1 205.5h0M236.0 206.0h0M219.5 210.3h0M138.6 200.4h0M307.5 197.2h0M183.4 206.0h0M72.5 199.1h0M77.5 214.4h0M241.0 192.9h0M90.2 209.0h0M310.6 182.3h0M189.6 208.9h0M161.9 208.7h0M271.8 191.7h0M237.6 208.8h0M152.6 201.5h0M103.1 208.1h0M275.1 195.7h0M88.2 219.5h0M46.0 204.3h0M136.5 207.7h0M162.8 209.8h0M249.8 202.8h0M47.1 218.0h0M44.0 232.5h0M102.9 223.8h0M166.2 208.2h0M61.6 216.5h0M69.0 193.2h0M321.3 187.8h0M307.8 195.4h0M314.5 196.5h0M221.6 202.7h0M308.3 188.9h0M237.5 203.1h0M226.1 208.6h0M209.2 206.7h0M216.7 201.6h0M171.7 224.0h0M224.0 208.2h0M315.3 185.6h0M105.0 204.1h0M264.2 198.7h0M165.7 217.0h0M310.7 205.1h0M101.8 222.4h0M180.4 200.7h0M166.7 202.9h0M303.1 211.3h0M143.7 224.3h0M168.7 204.4h0M89.9 213.4h0M94.9 206.1h0M262.4 203.7h0M60.5 230.8h0M243.6 216.8h0M282.0 212.9h0M162.6 212.5h0M205.3 197.9h0M150.1 212.9h0M221.8 203.9h0M302.7 191.9h0M195.8 199.7h0M80.2 222.5h0M67.9 204.6h0M174.5 196.6h0M221.3 204.9h0M234.0 205.7h0M87.1 220.5h0M209.4 209.0h0M236.6 200.0h0M313.3 190.1h0M85.4 228.4h0M46.3 207.2h0M180.1 209.4h0M205.8 196.2h0M251.1 195.2h0M92.2 205.0h0M316.2 204.1h0M173.4 207.6h0M175.8 195.8h0M176.4 195.2h0M73.5 226.4h0M176.2 221.5h0M63.7 229.9h0M52.2 211.5h0M271.6 207.2h0M316.9 186.6h0M144.2 217.5h0M291.4 198.8h0M241.0 207.4h0M176.3 196.3h0M143.2 209.3h0M306.3 203.1h0M299.7 202.6h0M93.2 224.0h0M135.3 197.4h0M287.4 196.8h0M312.0 196.7h0M86.2 210.8h0M317.5 193.8h0M246.1 204.7h0M138.4 209.2h0M275.6 208.9h0M315.1 191.5h0M226.1 194.1h0M240.3 206.4h0M255.5 193.6h0M316.9 192.4h0M52.9 217.8h0M96.9 217.6h0M148.3 212.2h0M250.4 205.1h0M86.5 219.8h0M184.3 191.9h0M113.9 207.6h0M163.8 214.5h0M252.2 191.9h0M164.0 204.1h0M50.8 197.8h0M278.3 204.3h0M193.8 193.6h0M63.8 217.0h0M69.7 199.9h0M177.8 196.6h0M192.8 203.8h0M158.1 211.6h0M121.6 191.5h0M210.6 204.9h0M41.7 219.9h0M45.1 211.7h0M57.9 221.9h0M283.5 199.6h0M116.5 195.9h0M278.7 204.8h0M218.7 205.6h0M99.4 206.8h0M92.1 207.6h0M59.9 215.4h0M214.1 207.0h0M119.9 206.6h0M99.3 222.6h0M179.9 206.5h0M142.4 208.5h0M265.7 199.8h0M144.3 204.2h0M220.8 199.1h0M197.8 191.1h0M287.1 203.0h0M228.1 200.2h0M275.6 195.9h0M146.5 208.0h0M280.8 206.7h0M104.5 217.6h0M42.2 207.9h0M194.2 193.2h0M234.7 194.4h0M174.9 209.4h0M226.9 198.8h0M279.8 214.0h0M226.0 205.8h0M143.2 206.4h0M166.6 202.1h0M172.2 201.5h0M73.4 193.3h0M167.1 217.9h0M240.8 217.4h0M167.0 215.5h0M126.1 199.7h0M86.3 223.1h0M274.4 199.4h0M175.9 222.0h0M91.0 218.3h0M262.9 196.6h0M101.6 233.2h0M140.1 217.6h0M147.7 206.7h0M268.7 184.4h0M61.0 216.5h0M201.1 205.9h0M309.3 204.0h0M149.5 207.5h0M239.5 206.4h0M212.1 206.0h0M141.1 203.0h0M52.3 212.4h0M157.2 211.7h0M44.3 216.8h0M297.7 204.8h0M96.5 206.6h0M219.0 211.4h0M87.9 218.8h0M152.7 209.1h0M125.2 206.2h0M120.1 198.6h0M121.0 195.6h0M145.6 217.6h0M213.7 208.3h0M304.6 197.5h0M205.8 209.4h0M318.0 187.7h0M178.9 205.5h0M296.9 196.3h0M95.5 217.5h0M178.6 207.5h0M156.2 204.6h0M274.2 205.4h0M166.8 209.7h0M233.5 196.8h0M72.9 217.3h0M68.0 200.4h0M56.4 211.5h0M272.0 192.3h0M131.8 193.0h0M146.8 214.5h0M95.8 227.2h0M165.7 218.2h0M116.8 194.4h0M135.2 210.0h0M48.7 220.8h0M107.0 214.1h0M171.1 199.6h0M320.0 201.8h0M141.1 213.2h0M230.6 189.9h0M193.6 192.8h0M207.2 200.0h0M261.6 190.6h0M127.0 200.3h0M298.6 197.1h0M241.4 216.1h0M112.8 201.4h0M315.3 183.7h0M152.1 202.8h0M254.3 191.2h0M92.3 220.9h0M200.1 207.1h0M52.0 210.7h0M298.0 214.2h0M63.1 219.9h0M188.2 196.3h0M144.2 219.7h0M153.7 210.6h0M315.2 186.7h0M151.3 208.1h0M293.4 195.5h0M81.6 222.9h0M153.5 215.5h0M244.3 195.2h0M107.7 214.3h0M167.7 219.0h0M280.2 214.9h0M317.3 190.3h0M131.1 194.2h0M103.3 206.5h0M249.2 194.5h0M240.1 211.8h0M241.6 188.4h0M275.3 207.5h0M210.2 200.6h0M123.8 200.0h0M213.9 201.9h0M165.7 202.5h0M153.5 202.5h0M89.3 210.3h0M259.1 194.7h0M123.3 202.1h0M279.4 214.1h0M121.2 196.3h0M268.1 202.3h0M90.4 223.1h0M180.7 191.0h0M137.4 210.5h0M226.4 213.2h0M149.2 204.2h0M147.0 218.4h0M195.3 204.6h0M250.4 195.6h0M78.3 226.5h0M139.0 209.3h0M75.9 225.2h0M275.6 208.2h0M79.1 219.5h0M146.0 203.5h0M95.9 218.1h0M308.1 200.5h0M201.6 201.5h0M228.6 204.9h0M103.8 210.0h0M267.0 198.0h0M194.5 210.5h0M56.7 223.9h0M136.3 201.6h0M244.5 219.9h0M217.3 207.6h0M110.0 205.9h0M178.0 194.9h0M186.3 209.9h0M288.1 201.9h0M250.4 213.9h0M306.9 194.7h0M159.9 216.4h0M180.5 209.2h0M47.3 216.0h0M100.7 226.9h0M77.7 219.5h0M231.0 197.5h0M140.5 200.4h0M51.2 226.8h0M148.2 202.0h0M71.6 204.1h0M122.6 207.1h0M99.9 207.3h0M212.9 200.3h0M162.0 220.9h0M91.9 220.6h0M67.1 212.7h0M300.8 197.9h0M246.2 207.3h0M308.3 192.5h0M134.4 213.7h0M159.1 212.5h0M235.6 196.0h0M258.2 206.2h0M49.4 214.6h0M223.3 201.1h0M118.7 193.7h0M287.7 207.0h0M269.2 200.9h0M156.7 220.3h0M232.4 201.5h0M161.3 213.8h0M204.6 205.7h0M64.7 200.0h0M278.0 205.4h0M77.4 225.4h0M267.1 202.8h0M190.0 209.0h0M158.7 220.1h0M75.8 214.9h0M257.8 191.5h0M199.9 206.4h0M311.9 203.9h0M315.4 190.4h0M290.5 201.3h0M132.9 194.3h0M102.9 212.8h0M289.2 203.1h0M248.7 200.9h0M244.1 201.5h0M177.1 197.6h0M260.7 207.9h0M247.8 203.4h0M131.2 193.9h0M319.5 201.3h0M303.4 197.1h0M278.0 210.6h0M49.6 209.4h0M83.1 216.5h0M70.6 198.5h0M219.4 193.0h0M186.0 210.4h0M307.1 191.2h0M215.7 207.8h0M292.3 194.2h0M274.9 207.2h0M180.7 200.7h0M178.2 206.4h0M148.3 219.3h0M117.3 192.5h0M303.4 209.2h0M62.6 219.1h0M120.8 202.9h0M120.6 201.7h0M213.9 204.6h0M261.0 193.3h0M245.7 207.0h0M198.3 204.5h0M159.3 207.3h0M61.3 221.2h0M92.7 208.5h0M272.3 199.7h0M86.0 219.0h0M51.7 220.5h0M116.9 201.3h0M149.3 211.6h0M320.5 203.3h0M291.8 199.0h0M304.5 208.3h0M277.3 194.1h0M41.7 218.4h0M173.7 207.3h0M174.4 221.4h0M202.1 204.0h0M227.5 194.6h0M43.0 209.3h0M74.4 224.7h0M46.3 212.4h0M247.6 195.4h0M166.2 211.4h0M153.8 216.0h0M56.6 220.1h0M120.3 200.5h0M193.6 198.4h0M263.9 205.2h0M322.5 196.6h0M53.9 224.9h0M306.3 189.3h0M206.7 215.8h0M87.9 218.8h0M222.5 209.4h0M245.4 218.0h0M60.3 225.3h0M62.6 221.3h0M231.2 201.1h0M129.2 206.6h0M93.2 210.0h0M82.9 213.4h0M151.9 205.4h0M105.1 232.1h0M293.3 190.7h0M174.2 221.3h0M95.4 216.0h0M207.2 207.0h0M72.9 201.6h0M313.7 205.6h0M46.2 203.6h0M315.0 202.4h0M131.1 199.2h0M255.2 199.1h0M258.3 202.3h0M278.9 198.7h0M236.1 201.8h0M315.7 200.7h0M239.3 192.3h0M250.8 200.2h0M84.9 221.5h0M214.4 205.0h0M144.5 211.1h0M208.5 211.3h0M200.7 188.7h0M265.1 203.2h0M177.6 193.5h0M176.9 193.4h0M60.8 212.7h0M222.7 192.4h0M163.0 208.5h0M128.7 204.2h0M84.3 217.4h0M246.0 205.9h0M139.8 210.2h0M268.5 190.7h0M78.0 232.5h0M288.0 200.3h0M110.0 201.6h0M66.0 211.6h0M79.8 219.5h0M194.7 192.6h0M112.1 196.9h0M96.0 210.6h0M105.1 221.8h0M88.3 210.0h0M111.5 200.3h0M191.4 210.3h0M166.2 201.8h0M145.6 209.3h0M105.2 213.0h0M271.2 202.3h0M224.9 208.3h0M129.0 191.3h0M320.2 203.5h0M65.0 219.4h0M86.4 227.3h0M191.1 200.7h0M249.9 195.3h0M146.8 211.1h0M313.3 193.0h0M64.8 226.6h0M250.6 191.8h0M131.0 209.0h0M300.3 198.4h0M99.3 225.5h0M144.9 223.1h0M196.1 194.9h0M159.8 209.0h0M154.0 210.1h0M136.1 208.3h0M194.8 209.6h0M163.7 219.3h0M185.0 204.0h0M276.9 203.7h0M98.6 211.1h0M65.8 219.1h0M50.8 198.0h0M157.9 203.2h0M179.8 205.4h0M266.1 189.5h0M61.7 226.8h0M174.5 221.7h0M251.3 195.5h0M274.2 199.5h0M164.5 219.0h0M57.3 218.8h0M131.8 201.6h0M208.4 204.9h0M235.4 192.7h0M246.9 197.8h0M161.6 211.6h0M42.7 226.3h0M206.6 206.8h0M143.3 208.6h0M254.7 203.9h0M53.3 216.2h0M205.4 201.4h0M180.2 202.7h0M85.9 211.9h0M204.6 199.1h0M228.5 199.3h0M293.7 195.9h0M291.1 192.8h0M321.4 186.2h0M51.5 222.1h0M320.2 181.0h0M41.9 229.1h0M206.8 212.8h0M290.7 191.1h0M305.7 188.9h0M268.9 189.9h0M176.3 203.0h0M163.2 204.0h0M70.0 201.3h0M294.2 194.0h0M77.0 224.1h0M242.8 204.8h0M293.2 188.9h0M288.1 189.5h0M127.8 197.6h0M166.4 202.1h0M157.7 214.2h0M114.0 203.1h0M316.0 205.0h0M276.7 208.0h0M276.4 204.1h0M270.8 202.7h0M209.0 201.9h0M145.9 210.7h0M301.0 196.5h0M173.8 216.7h0M275.2 206.9h0M109.4 219.0h0M79.5 224.2h0M167.2 216.7h0M55.0 220.9h0M277.7 204.6h0M303.6 206.8h0M316.0 190.5h0M135.0 207.2h0M315.1 185.0h0M86.7 223.2h0M181.6 203.2h0M175.0 217.1h0M143.6 211.7h0M182.3 200.0h0M223.9 204.2h0M103.4 229.0h0M132.4 206.5h0M66.2 215.4h0M189.4 202.2h0M212.8 211.0h0M124.1 203.2h0M135.0 204.5h0M83.4 218.4h0M101.3 228.6h0M233.7 204.8h0M121.5 204.8h0M252.4 207.9h0M125.3 199.8h0M167.5 218.3h0M67.7 210.7h0M155.6 210.0h0M206.0 194.4h0M71.7 215.8h0M200.6 190.0h0M58.6 211.1h0M191.6 199.7h0M152.0 200.7h0M57.2 209.9h0M208.9 202.0h0M321.8 190.9h0M96.1 211.6h0M250.3 204.7h0M51.0 225.3h0M215.4 203.0h0M192.7 198.5h0M319.1 200.9h0M117.7 193.2h0M277.4 200.1h0M241.8 202.5h0M97.5 207.7h0M145.6 208.3h0M94.2 216.3h0M273.9 205.9h0M165.9 220.9h0M217.9 194.0h0M130.9 187.9h0M76.1 223.3h0M203.6 199.5h0M106.3 224.7h0M144.0 215.6h0M301.0 216.5h0M272.8 192.4h0M97.7 215.6h0M42.7 209.3h0M232.1 203.4h0M298.6 206.3h0M132.2 204.1h0M227.0 201.7h0M159.8 214.2h0M174.9 195.7h0M60.5 226.5h0M50.1 209.4h0M130.7 207.8h0M74.3 224.1h0M147.4 215.9h0M227.6 205.1h0M151.7 216.2h0M301.2 203.9h0M225.5 210.9h0M169.8 212.5h0M246.4 201.2h0M221.3 198.1h0M58.6 216.8h0M204.3 200.4h0M103.5 220.3h0M145.4 221.0h0M104.1 228.7h0M270.3 195.2h0M175.9 204.3h0M310.2 204.0h0M181.1 203.1h0M49.5 223.2h0M274.3 205.8h0M203.3 203.7h0M160.5 214.8h0M57.9 206.8h0M75.9 226.3h0M61.6 205.9h0M131.7 191.8h0M75.5 221.2h0M221.5 203.5h0M166.8 217.4h0M148.7 225.7h0M196.9 194.6h0M42.4 232.0h0M166.7 210.3h0M147.5 209.0h0M94.6 211.3h0M177.6 205.2h0M106.5 216.4h0M141.7 196.9h0M141.1 215.9h0M282.3 217.3h0M263.4 197.8h0M106.0 212.6h0M95.1 210.3h0M111.7 203.1h0M247.4 213.1h0M56.1 228.5h0M103.4 204.3h0M63.5 214.5h0M193.9 209.9h0M185.4 202.6h0M44.0 222.4h0M67.6 207.6h0M248.7 205.3h0M228.3 206.6h0M239.5 195.0h0M76.6 210.4h0M57.9 226.9h0M259.5 204.1h0M269.2 208.3h0M265.1 191.3h0M82.3 223.3h0M259.4 202.0h0M211.3 204.9h0M267.6 197.9h0M261.0 187.5h0M124.2 191.7h0M234.3 199.0h0M297.9 195.8h0M276.5 209.5h0M194.6 197.3h0M222.6 202.3h0M227.5 204.5h0M258.2 204.7h0M49.0 206.1h0M182.8 191.3h0M234.4 202.5h0M43.3 212.7h0M78.1 218.1h0M63.6 201.3h0M306.1 186.0h0M146.9 211.0h0M250.2 200.5h0M43.3 208.9h0M181.0 188.3h0M248.5 202.6h0M178.0 203.7h0M232.4 202.2h0M76.8 220.8h0M156.4 207.3h0M166.3 221.9h0M305.6 194.8h0M218.1 195.1h0M180.4 202.1h0M135.3 199.1h0M157.2 212.5h0M244.9 193.1h0M73.2 224.7h0M153.6 216.2h0M67.1 193.6h0M299.0 207.9h0M124.3 204.0h0M210.1 196.5h0M171.9 211.8h0M74.6 229.1h0M257.8 194.3h0M93.1 216.7h0M278.8 202.8h0M161.0 209.8h0M270.6 193.3h0M320.6 204.7h0M196.6 200.9h0M106.3 217.0h0M91.5 211.3h0M114.2 193.4h0M174.2 220.5h0M89.3 220.6h0M192.8 191.1h0M312.8 190.7h0M199.1 189.7h0M133.0 208.2h0M167.2 211.6h0M108.9 218.1h0M165.3 213.7h0M173.6 203.9h0M277.2 202.0h0M311.0 194.3h0M233.8 208.4h0M56.1 224.6h0M153.5 216.2h0M222.6 191.6h0M226.7 194.5h0M190.7 193.8h0M216.4 209.0h0M261.6 190.3h0M261.4 205.3h0M225.9 194.8h0M140.7 200.5h0M42.2 212.4h0M274.9 203.8h0M321.3 188.9h0M124.0 196.7h0M140.4 202.4h0M233.1 194.7h0M208.3 199.1h0M106.6 214.9h0M281.0 215.0h0M309.2 203.2h0M130.2 207.4h0M114.4 212.4h0M52.2 206.0h0M152.1 217.7h0M136.0 211.0h0M68.0 198.2h0M77.4 228.5h0M250.3 205.5h0M83.4 214.0h0M90.4 210.6h0M182.5 204.7h0M256.7 196.3h0M307.2 196.9h0M112.8 201.2h0M255.9 210.8h0M87.3 219.6h0M121.3 204.3h0M167.3 219.9h0M209.5 209.0h0M163.9 216.7h0M210.0 208.1h0M114.1 203.9h0M266.8 192.6h0M274.9 199.9h0M292.2 198.8h0M233.0 193.2h0M138.0 199.4h0M164.5 207.6h0M82.8 224.1h0M86.8 225.0h0M296.6 201.5h0M214.0 207.0h0M49.4 213.6h0M318.8 200.6h0M189.8 199.6h0M268.9 200.7h0M187.6 206.4h0M231.9 202.8h0M240.8 200.1h0M258.6 192.7h0M285.5 200.4h0M69.8 195.1h0M114.7 197.1h0M186.7 196.8h0M250.0 201.2h0M306.5 206.8h0M64.5 202.8h0M152.2 217.0h0M170.6 203.7h0M215.3 207.0h0M76.0 211.5h0M221.9 209.6h0M169.5 224.4h0M294.2 195.5h0M193.3 205.7h0M59.4 220.2h0M101.3 221.8h0M71.1 194.0h0M91.0 203.4h0M225.8 196.9h0M181.8 202.9h0M64.7 213.3h0M72.8 211.7h0M245.6 205.5h0M81.6 218.2h0M173.2 220.5h0M67.5 204.9h0M267.2 189.3h0M129.5 199.9h0M317.9 183.3h0M200.5 199.0h0M49.6 214.1h0M268.7 191.2h0M127.9 191.2h0M77.9 231.3h0M264.7 200.8h0M89.3 217.6h0M49.5 218.0h0M108.0 207.0h0M174.2 213.4h0M239.3 200.9h0M127.0 196.7h0M317.9 190.4h0M69.6 215.5h0M179.7 191.5h0M175.7 197.3h0M248.9 209.5h0M253.6 195.7h0M79.1 215.7h0M98.4 207.0h0M253.3 199.3h0M249.1 195.6h0M320.8 198.8h0M66.3 215.2h0M80.6 221.9h0M218.6 211.7h0M269.4 191.4h0M187.9 194.1h0M255.1 208.2h0M220.2 194.7h0M92.9 211.7h0M95.3 220.4h0M262.3 197.5h0M204.7 206.9h0M310.6 193.6h0M202.9 208.2h0M54.3 204.1h0M243.3 195.3h0M293.1 202.8h0M302.7 205.2h0M105.7 214.7h0M169.2 216.4h0M53.9 216.4h0M309.3 196.4h0M90.4 223.7h0M308.2 200.2h0M60.5 220.9h0M136.6 209.4h0M51.6 222.3h0M281.2 205.5h0M139.1 207.7h0M148.8 215.2h0M256.0 203.5h0M143.2 211.4h0M60.8 222.6h0M280.0 213.2h0M183.8 191.0h0M64.4 196.7h0M285.4 200.2h0M52.1 207.6h0M145.6 208.5h0M170.7 216.8h0M121.0 188.7h0M186.4 198.5h0M178.3 203.4h0M258.1 207.1h0M278.6 208.7h0M319.6 182.8h0M264.8 196.0h0M138.7 205.8h0M190.5 208.4h0M66.6 210.6h0M316.8 202.9h0M120.7 194.8h0M154.7 202.1h0M100.0 218.0h0M170.2 207.6h0M272.2 194.4h0M271.2 191.3h0M96.0 222.4h0M120.6 191.5h0M170.7 215.0h0M308.1 206.0h0M175.7 209.7h0M304.1 194.0h0M205.9 207.6h0M178.6 198.1h0M234.2 199.5h0M90.1 209.9h0M307.9 191.5h0M197.5 193.7h0M136.8 194.9h0M145.2 207.5h0M262.5 198.7h0M319.5 188.4h0M264.1 198.9h0M89.8 214.8h0M299.4 196.5h0M322.1 202.0h0M128.2 196.8h0M197.1 197.8h0M321.9 182.5h0M68.3 214.1h0M67.3 213.8h0M165.8 217.1h0M80.9 209.3h0M139.2 217.0h0M63.5 206.0h0M65.1 206.6h0M280.9 211.8h0M209.9 198.8h0M149.0 209.6h0M271.9 203.8h0M256.2 200.0h0M141.0 215.5h0M110.7 208.8h0M230.5 197.4h0M94.5 206.0h0M227.8 192.3h0M148.0 208.4h0M96.5 221.1h0M133.9 200.0h0M207.1 211.0h0M292.4 197.1h0M93.5 217.4h0M292.0 195.9h0M232.9 196.9h0M251.6 201.5h0M131.3 194.8h0M91.8 216.0h0M266.5 204.5h0M285.6 198.6h0M65.8 216.7h0M108.6 220.1h0M308.1 198.5h0M277.5 201.8h0M241.4 201.0h0M296.6 191.7h0M271.7 202.5h0M241.5 200.9h0M189.1 209.5h0M43.8 207.7h0M250.4 210.5h0M44.7 213.9h0M276.5 195.2h0M52.7 225.0h0M124.5 208.2h0M201.0 202.4h0M306.2 192.5h0M199.0 197.0h0M176.0 194.2h0M315.6 188.7h0M221.8 209.3h0M302.2 201.0h0M317.3 202.2h0M107.7 225.3h0M104.6 211.5h0M42.9 234.5h0M306.1 195.5h0M185.2 199.2h0M203.4 201.5h0M218.4 209.5h0M115.7 207.9h0M153.0 203.6h0M255.2 208.3h0M260.8 192.4h0M120.8 193.9h0M141.1 214.0h0M197.6 198.7h0M229.3 196.4h0M198.8 216.4h0M130.6 192.1h0M231.8 204.5h0M179.2 196.0h0M182.1 196.3h0M108.4 205.4h0M77.0 222.6h0M102.6 218.2h0M123.7 196.2h0M308.1 207.6h0M83.4 226.1h0M184.6 206.8h0M60.0 215.0h0M63.4 195.8h0M138.0 206.2h0M104.7 224.5h0M318.4 182.4h0M61.2 226.2h0M210.8 205.2h0M320.3 204.7h0M177.6 205.8h0M68.7 213.4h0M289.3 189.1h0M128.2 199.8h0M271.9 194.9h0M65.8 215.6h0M218.7 208.9h0M185.0 205.7h0M288.3 193.8h0M131.6 199.7h0M69.5 212.8h0M259.8 205.8h0M114.9 208.5h0M297.4 197.0h0M193.5 204.8h0M158.0 213.5h0M210.1 208.4h0M195.2 192.0h0M176.8 194.3h0M59.3 208.7h0M186.1 194.6h0M182.3 193.2h0M161.8 211.7h0M293.1 201.1h0M61.0 203.9h0M97.4 223.2h0M100.5 210.3h0M132.8 189.8h0M151.3 215.0h0M48.1 216.6h0M294.1 200.5h0M145.0 208.9h0M123.1 205.9h0M320.2 200.8h0M195.2 196.4h0M43.0 204.4h0M127.1 205.4h0M114.4 196.3h0M294.4 195.4h0M260.3 194.8h0M59.0 207.7h0M300.0 206.6h0M132.9 193.1h0M222.2 216.7h0M75.3 222.5h0M195.6 203.6h0M164.0 207.7h0M263.8 205.3h0M256.0 212.5h0M103.6 220.0h0M74.7 205.5h0M200.4 195.9h0M117.7 204.1h0M209.0 204.8h0M86.9 224.3h0M231.5 200.2h0M102.1 218.4h0M139.9 198.2h0M267.5 193.2h0M87.9 213.8h0M66.7 225.4h0M225.2 196.4h0M52.7 211.7h0M315.0 203.9h0M278.2 204.2h0M116.0 197.2h0M161.1 214.3h0M92.2 213.1h0M188.5 202.8h0M228.5 190.2h0M123.3 200.2h0M259.0 192.7h0M304.0 193.0h0M175.5 220.6h0M215.2 209.3h0M91.1 211.8h0M56.0 207.9h0M198.3 191.7h0M105.6 210.0h0M162.0 219.0h0M134.7 213.7h0M213.5 205.9h0M195.5 198.3h0M211.5 197.3h0M274.3 200.0h0M245.2 205.2h0M143.9 218.2h0M232.5 199.6h0M208.8 210.3h0M185.4 197.5h0M202.3 201.7h0M271.4 199.0h0M268.8 203.6h0M97.3 214.0h0M196.2 191.8h0M79.6 221.6h0M191.0 192.7h0M77.3 205.4h0M112.9 203.3h0M139.7 201.9h0M203.1 197.8h0M204.3 200.6h0M109.3 205.5h0M63.9 196.3h0M140.5 211.9h0M72.4 201.2h0M74.0 225.6h0M134.1 204.0h0M314.8 187.4h0M86.1 222.3h0M322.4 193.2h0M142.1 204.8h0M147.9 210.6h0M259.3 203.7h0M160.1 209.6h0M297.9 197.0h0M308.1 188.7h0M239.7 210.3h0M236.2 205.1h0M124.6 207.6h0M237.1 202.9h0M74.6 205.6h0M44.7 221.8h0M164.0 206.7h0M149.5 202.1h0M213.1 207.0h0M309.7 192.0h0M72.3 203.9h0M91.0 208.2h0M243.9 208.9h0M138.1 205.0h0M245.7 192.6h0M215.3 197.3h0M289.7 197.7h0M210.4 200.0h0M221.5 202.7h0M247.5 216.6h0M238.4 205.8h0M75.0 222.8h0M269.6 200.6h0M286.0 193.2h0M142.0 209.5h0M306.0 186.0h0M189.0 198.8h0M230.6 196.9h0M266.4 188.0h0M114.9 207.6h0M92.2 219.3h0M177.4 196.3h0M117.4 201.3h0M162.5 202.5h0M69.5 207.1h0M201.4 200.9h0M236.6 194.2h0M309.9 200.1h0M320.5 190.0h0M321.8 193.6h0M185.8 204.0h0M270.9 199.3h0M123.6 191.5h0M157.7 215.5h0M59.1 224.3h0M264.5 206.6h0M289.9 191.9h0M244.9 216.6h0M113.7 202.0h0M255.6 197.0h0M67.1 216.4h0M122.5 193.7h0M310.5 209.4h0M287.5 194.9h0M129.3 190.5h0M298.5 193.5h0M50.9 205.2h0M131.0 195.7h0M54.3 215.0h0M71.2 196.0h0M76.6 208.1h0M223.8 208.7h0M172.2 209.7h0M284.0 194.5h0M241.9 191.6h0M135.9 205.9h0M84.5 224.8h0M129.9 193.0h0M61.5 214.8h0M261.4 210.5h0M240.7 187.7h0M313.0 189.4h0M169.6 208.5h0M172.7 223.5h0M97.3 211.3h0M169.5 221.5h0M118.0 193.4h0M257.0 199.6h0M204.6 193.8h0M200.0 206.0h0M89.5 216.3h0M118.5 198.3h0M216.4 193.1h0M102.7 222.7h0M93.4 218.3h0M309.4 201.8h0M64.3 202.2h0M126.5 206.5h0M131.2 196.8h0M167.7 208.1h0M85.8 225.5h0M227.3 203.7h0M105.8 208.5h0M146.3 209.2h0M296.7 199.9h0M81.4 222.7h0M63.6 210.6h0M219.6 202.4h0M134.4 208.5h0M169.0 218.6h0M304.9 204.2h0M166.7 207.3h0M156.3 213.8h0M306.0 207.7h0M183.2 190.3h0M199.5 206.8h0M232.0 202.8h0M48.9 206.5h0M175.0 201.2h0M219.9 204.3h0M221.9 198.6h0M194.4 203.8h0M57.2 219.7h0M82.7 216.7h0M318.5 195.8h0M310.4 184.8h0M48.9 213.4h0M244.1 208.6h0M260.7 201.4h0M286.1 192.6h0M248.6 202.0h0M222.5 206.7h0M91.1 212.6h0M113.7 203.1h0M134.8 200.7h0M65.8 196.9h0M104.1 221.5h0M283.2 197.8h0M205.4 201.0h0M67.4 209.8h0M179.5 208.4h0M207.5 195.8h0M279.9 208.6h0M51.3 214.1h0M250.8 210.9h0M198.8 191.8h0M43.3 230.9h0M283.7 192.3h0M99.7 206.8h0M284.4 203.8h0M303.9 204.1h0M61.5 225.7h0M76.6 211.5h0M110.6 211.7h0M116.7 207.0h0M199.0 205.6h0M278.3 200.7h0M154.5 216.7h0M271.6 196.2h0M136.5 204.5h0M234.0 201.4h0M318.9 190.4h0M47.8 206.1h0M69.2 209.8h0M144.8 213.0h0M194.4 208.3h0M91.2 212.7h0M308.4 198.2h0M46.8 210.5h0M265.2 193.3h0M160.5 211.3h0M264.4 202.0h0M252.8 200.9h0M52.6 211.2h0M237.3 198.8h0M179.8 208.9h0M131.5 206.9h0M91.5 223.1h0M157.5 211.9h0M118.2 194.2h0M158.4 208.6h0M257.0 193.2h0M117.9 206.8h0M103.8 214.5h0M309.1 197.0h0M53.9 221.7h0M216.3 207.5h0M95.4 210.5h0M119.5 198.8h0M283.0 214.3h0M182.9 197.1h0M182.3 194.3h0M271.9 194.6h0M244.7 204.6h0M222.4 209.3h0M274.8 211.8h0M89.6 208.3h0M200.9 187.5h0M85.3 225.9h0M73.7 206.8h0M56.7 206.4h0M96.5 212.8h0M79.7 215.1h0M256.4 205.8h0M305.1 194.7h0M201.9 200.5h0M49.2 199.2h0M241.7 191.4h0M206.4 201.0h0M152.6 203.4h0M226.0 207.3h0M72.6 216.9h0M296.1 198.4h0M47.4 216.6h0M222.4 194.8h0M122.7 199.2h0M213.7 201.8h0M173.6 217.7h0M161.1 204.6h0M141.9 204.9h0M216.8 198.0h0M42.5 215.6h0M106.1 213.2h0M184.6 195.9h0M193.5 194.9h0M154.6 216.9h0M54.7 227.2h0M305.1 192.7h0M264.0 190.2h0M124.3 192.0h0M130.8 192.5h0M290.2 197.4h0M112.0 198.0h0M214.0 206.1h0M106.4 224.6h0M227.1 201.2h0M81.8 226.1h0M258.7 200.8h0M95.6 204.4h0M85.4 211.2h0M128.9 196.5h0M250.8 199.5h0M172.2 226.4h0M317.7 187.4h0M217.8 210.6h0M148.5 213.9h0M150.8 216.2h0M278.6 207.4h0M230.0 203.6h0M104.1 226.9h0M43.6 230.3h0M48.7 216.4h0M171.1 221.1h0M44.4 219.5h0M50.5 214.0h0M66.7 218.3h0M236.8 191.1h0M235.8 203.2h0M285.1 197.0h0M224.1 204.2h0M166.5 218.5h0M60.1 224.8h0M262.3 198.8h0M72.9 195.0h0M61.3 216.4h0M92.0 210.5h0M290.9 201.4h0M133.8 198.0h0M132.5 193.4h0M224.5 206.1h0M101.0 219.5h0M156.7 204.3h0M143.7 218.4h0M120.4 203.8h0M73.3 224.2h0M293.0 196.6h0M202.7 194.7h0M285.5 188.9h0M270.4 194.0h0M104.7 204.7h0M63.0 223.1h0M137.2 215.6h0M226.0 209.3h0M274.4 199.9h0M224.8 195.0h0M193.2 194.7h0M247.9 204.8h0M144.2 221.8h0M194.5 198.4h0M203.0 204.1h0M234.7 205.8h0M108.8 227.1h0M103.5 206.8h0M285.1 201.3h0M154.6 207.8h0M74.4 217.9h0M219.6 208.1h0M223.4 200.8h0M286.2 205.0h0M55.8 212.4h0M160.5 215.8h0M46.7 217.0h0M135.7 211.6h0M96.7 221.8h0M60.0 217.3h0M312.3 192.8h0M117.3 188.8h0M301.0 200.0h0M273.8 197.9h0M253.9 203.5h0M86.9 220.0h0M43.6 202.6h0M226.4 199.6h0M51.4 210.0h0M198.3 193.5h0M321.5 202.6h0M205.2 206.2h0M143.9 215.2h0M315.4 189.1h0M167.3 214.0h0M125.5 198.6h0M109.7 218.0h0M141.5 202.1h0M224.8 198.7h0M164.0 211.6h0M65.1 195.4h0M233.2 201.4h0M47.2 218.1h0M42.6 222.8h0M246.3 213.2h0M43.0 223.8h0M155.2 213.2h0M106.6 219.2h0M67.2 220.6h0M262.2 199.9h0M273.8 196.2h0M270.8 193.8h0M282.2 206.7h0M278.4 203.0h0M166.3 211.6h0M171.1 226.8h0M284.2 210.9h0M77.9 210.3h0M304.6 194.8h0M282.0 208.2h0M315.9 184.7h0M62.2 207.7h0M320.8 186.5h0M192.2 210.6h0M114.6 194.9h0M301.6 205.9h0M52.4 206.3h0M85.8 221.8h0M140.3 207.4h0M206.2 205.1h0M58.2 211.1h0M170.6 207.2h0M267.2 198.9h0M290.2 191.9h0M167.0 206.6h0M212.2 197.5h0M147.1 212.7h0M254.0 199.0h0M134.3 199.6h0M164.5 208.9h0M260.4 197.6h0M194.9 205.1h0M95.5 216.9h0M173.5 202.6h0M101.2 211.4h0M169.3 213.4h0M250.4 200.3h0M284.6 208.8h0M168.6 210.8h0M175.2 202.5h0M72.9 198.3h0M230.3 199.6h0M51.0 205.8h0M248.4 207.7h0M151.5 207.7h0M271.2 198.5h0M101.4 218.0h0M77.0 206.4h0M109.1 206.9h0M163.3 212.0h0M177.6 200.8h0M201.4 207.2h0M290.9 194.2h0M69.1 199.6h0M296.2 197.8h0M274.2 193.2h0M131.8 195.5h0M302.8 204.5h0M266.5 191.9h0M168.7 216.8h0M145.9 215.5h0M109.9 203.7h0M310.9 201.0h0M152.8 197.6h0M103.7 210.2h0M235.9 206.2h0M276.4 204.6h0M210.6 198.3h0M141.9 217.0h0M149.9 217.0h0M140.6 215.8h0M55.8 224.9h0M238.2 197.3h0M203.7 205.1h0M123.6 195.9h0M188.0 198.5h0M300.9 204.6h0M171.7 204.4h0M279.4 207.7h0M274.4 193.8h0M114.4 206.9h0M162.3 222.4h0M41.5 219.9h0M121.3 191.4h0M238.3 191.9h0M237.3 193.0h0M295.0 202.1h0M304.0 202.6h0M131.3 196.9h0M115.8 192.7h0M217.9 198.1h0M177.9 195.0h0M285.2 192.2h0M149.0 206.3h0M216.1 201.6h0M260.8 197.4h0M274.5 202.2h0M285.6 203.4h0M315.8 200.6h0M209.5 199.6h0M148.9 221.6h0M188.9 196.2h0M189.2 204.1h0M251.5 205.8h0M318.9 196.0h0M236.8 192.8h0M193.1 200.5h0M183.6 202.9h0M236.2 193.2h0M205.8 210.5h0M312.1 199.3h0M83.7 224.6h0M221.0 196.6h0M235.5 192.2h0" stroke="#420840" stroke-width="3.2" stroke-linecap="round" fill="none" stroke-opacity="0.6"/>
<path d="M161.1 211.0h0M108.3 200.9h0M180.5 205.8h0M215.7 209.7h0M195.8 204.5h0M314.6 188.5h0M152.5 219.0h0M200.4 204.1h0M176.6 195.5h0M109.5 209.6h0M96.7 209.4h0M191.9 199.9h0M255.4 196.3h0M239.9 193.7h0M314.5 192.0h0M144.2 220.8h0M141.0 207.1h0M114.4 192.5h0M99.6 219.8h0M151.5 217.1h0M81.6 217.6h0M66.6 204.1h0M242.3 198.9h0M250.5 198.9h0M250.4 204.8h0M158.8 204.8h0M287.4 193.2h0M241.6 196.4h0M272.7 198.6h0M191.8 205.9h0M107.4 220.5h0M142.6 212.0h0M147.8 205.5h0M229.1 204.9h0M222.4 222.9h0M179.9 197.3h0M169.7 210.4h0M237.6 202.8h0M161.5 214.8h0M77.8 214.5h0M183.9 196.7h0M237.1 192.4h0M201.6 193.7h0M211.2 204.6h0M80.4 219.7h0M188.0 201.6h0M294.4 191.9h0M117.2 200.0h0M109.7 200.5h0M320.9 203.7h0M272.3 195.2h0M297.4 202.7h0M204.0 207.8h0M96.2 202.1h0M108.6 207.5h0M202.0 201.5h0M96.7 204.6h0M137.7 211.3h0M70.9 216.3h0M201.1 203.8h0M91.3 221.9h0M254.3 203.6h0M174.4 194.4h0M68.0 221.7h0M184.8 199.4h0M222.1 198.2h0M274.8 199.9h0M207.1 198.1h0M315.8 204.9h0M174.9 211.6h0M221.0 208.8h0M229.1 199.8h0M109.6 216.5h0M89.4 221.0h0M165.0 221.5h0M296.5 193.3h0M46.5 217.9h0M321.1 192.2h0M312.5 196.5h0M114.7 194.1h0M305.5 206.8h0M212.3 200.5h0M294.7 198.8h0M245.2 210.2h0M63.7 200.6h0M264.0 191.5h0M219.9 202.5h0M234.0 197.6h0M89.0 207.7h0M231.9 193.3h0M175.7 196.0h0M169.6 205.5h0M193.0 204.7h0M204.2 209.4h0M209.4 195.1h0M304.1 196.5h0M307.3 192.6h0M154.3 212.3h0M281.3 215.1h0M196.9 194.5h0M158.5 219.5h0M157.7 213.8h0M310.0 189.8h0M306.7 188.8h0M312.9 203.8h0M308.3 204.0h0M80.3 218.9h0M242.2 198.4h0M200.1 200.0h0M129.0 209.5h0M133.5 194.9h0M107.1 205.2h0M309.0 198.0h0M251.3 198.3h0M295.0 202.1h0M266.2 195.6h0M296.4 192.2h0M43.3 224.9h0M180.6 207.6h0M311.3 209.1h0M132.4 200.4h0M206.9 192.4h0M307.5 193.8h0M78.3 227.3h0M209.6 212.3h0M86.9 216.5h0M71.0 212.3h0M311.8 199.6h0M299.1 201.7h0M189.2 190.8h0M155.5 204.4h0M211.0 208.1h0M306.6 209.0h0M160.1 216.8h0M72.9 201.0h0M47.0 208.5h0M291.7 193.3h0M190.1 192.7h0M135.3 201.6h0M246.2 209.8h0M216.4 199.2h0M150.9 207.2h0M286.9 198.1h0M321.4 186.8h0M198.5 192.4h0M242.7 197.6h0M195.7 205.5h0M74.6 220.5h0M275.6 198.9h0M66.7 196.7h0M129.3 203.8h0M143.4 213.4h0M268.2 201.1h0M126.2 203.9h0M244.4 216.4h0M170.3 214.0h0M172.7 219.1h0M206.1 212.6h0M287.1 200.3h0M249.4 208.7h0M185.5 195.2h0M135.2 213.2h0M223.5 202.2h0M235.7 205.6h0M238.1 193.1h0M77.6 206.2h0M127.5 197.3h0M65.2 209.7h0M148.4 224.6h0M199.0 200.5h0M241.6 207.1h0M124.5 196.1h0M213.9 210.5h0M96.2 208.2h0M317.4 190.8h0M201.2 194.4h0M91.6 206.0h0M203.9 206.2h0M155.9 216.2h0M320.2 194.1h0M165.9 221.7h0M310.2 202.5h0M285.2 197.4h0M107.8 229.7h0M167.2 203.4h0M117.8 192.8h0M258.9 205.6h0M82.0 224.6h0M152.4 206.5h0M178.4 204.2h0M290.4 208.0h0M174.6 198.8h0M187.4 193.4h0M252.3 196.8h0M135.4 211.8h0M200.4 195.1h0M311.5 187.9h0M254.6 206.0h0M188.4 206.6h0M169.1 213.7h0M158.1 199.6h0M107.8 220.4h0M267.0 202.0h0M305.0 195.3h0M174.2 195.6h0M183.3 193.5h0M302.2 193.1h0M172.3 210.1h0M290.3 201.2h0M130.5 205.5h0M75.8 229.7h0M84.9 224.5h0M154.9 203.4h0M157.7 211.1h0M318.3 188.0h0M294.1 194.1h0M267.4 196.2h0M77.3 227.8h0M115.6 195.2h0M77.4 211.6h0M133.5 199.2h0M274.3 197.2h0M225.1 206.2h0M265.4 199.8h0M50.2 204.6h0M251.7 209.4h0M153.0 200.0h0M67.2 220.6h0M272.3 193.0h0M237.7 194.4h0M152.5 201.6h0M99.4 208.1h0M151.8 213.1h0M63.5 209.5h0M131.4 187.4h0M124.3 207.9h0M291.7 203.8h0M203.4 197.5h0M307.6 191.5h0M77.3 209.4h0M181.6 204.9h0M245.3 222.4h0M91.2 206.0h0M42.3 204.7h0M286.5 198.3h0M144.9 221.6h0M309.6 187.0h0M156.8 218.6h0M43.7 204.9h0M254.7 200.8h0M78.2 210.3h0M292.6 190.5h0M57.3 219.6h0M131.1 196.6h0M242.5 192.9h0M245.7 221.6h0M250.0 203.5h0M99.0 225.5h0M187.6 201.7h0M257.7 191.0h0M157.5 213.1h0M124.4 199.7h0M64.5 202.9h0M186.5 198.6h0M236.2 192.2h0M148.9 200.6h0M199.4 205.2h0M190.6 198.1h0M245.7 221.3h0M144.3 208.7h0M128.0 206.4h0M261.0 189.4h0M261.4 207.5h0M205.4 210.3h0M49.3 208.1h0M283.3 200.4h0M220.3 209.9h0M66.4 217.6h0M237.0 203.2h0M223.2 206.4h0M108.3 210.1h0M90.4 224.0h0M119.8 196.2h0M200.4 211.4h0M230.7 207.6h0M313.4 200.1h0M277.0 209.3h0M176.7 205.8h0M229.0 199.2h0M223.9 213.3h0M196.2 192.7h0M96.4 220.6h0M289.5 193.4h0M161.8 216.1h0M96.4 215.8h0M293.8 191.6h0M255.7 201.8h0M80.8 212.6h0M270.7 201.0h0M180.5 197.4h0M293.2 203.6h0M128.7 194.0h0M139.3 215.7h0M233.9 199.8h0M111.3 211.2h0M314.8 201.5h0M189.3 205.4h0M59.2 210.3h0M262.7 199.6h0M197.8 199.9h0M255.2 207.4h0M155.3 218.0h0M157.6 201.8h0M119.2 193.7h0M123.3 198.4h0M143.5 217.6h0M243.0 199.3h0M256.6 202.6h0M110.0 201.6h0M112.1 198.4h0M54.3 225.9h0M166.9 221.2h0M255.8 191.9h0M79.3 208.7h0M76.0 215.2h0M126.6 191.5h0M66.8 209.0h0M172.4 208.5h0M262.1 193.9h0M162.3 216.0h0M54.8 207.3h0M86.4 216.8h0M263.8 196.0h0M79.2 213.0h0M290.1 195.2h0M302.4 202.0h0M275.2 194.5h0M102.1 225.4h0M173.2 198.8h0M224.7 197.0h0M90.3 210.8h0M132.2 192.1h0M259.4 193.1h0M269.8 193.5h0M81.2 214.7h0M131.2 208.7h0M165.8 208.9h0M137.2 202.7h0M179.3 209.0h0M320.3 186.3h0M162.9 210.3h0M143.3 206.5h0M115.6 193.1h0M276.9 198.0h0M64.1 201.7h0M61.4 204.0h0M311.1 184.3h0M168.9 205.8h0M142.3 211.1h0M231.6 193.9h0M179.4 199.4h0M74.5 217.7h0M157.9 198.6h0M148.5 213.2h0M180.9 209.5h0M240.6 213.3h0M127.8 204.6h0M207.1 196.3h0M275.4 204.4h0M202.3 204.9h0M114.5 202.0h0M113.0 200.9h0M251.0 195.6h0M309.9 195.1h0M59.9 206.6h0M163.5 206.8h0M102.2 208.5h0M249.5 206.9h0M157.4 212.4h0M308.1 191.5h0M151.5 214.4h0M116.4 208.3h0M55.6 211.3h0M224.5 204.4h0M182.1 191.9h0M42.9 211.6h0M187.7 203.9h0M204.9 208.9h0M271.2 199.3h0M117.2 192.1h0M107.5 210.3h0M186.0 203.0h0M155.4 210.2h0M282.0 206.9h0M290.7 201.0h0M291.2 194.6h0M249.4 205.8h0M140.4 200.7h0M315.8 185.4h0M140.9 200.0h0M286.5 195.4h0M74.4 208.9h0M46.0 222.1h0M165.4 222.7h0M135.3 206.5h0M66.8 217.5h0M124.9 194.9h0M67.8 218.1h0M217.2 204.5h0M51.4 226.0h0M93.7 212.1h0M92.7 221.5h0M206.3 215.2h0M89.2 222.2h0M213.3 207.8h0M292.9 187.7h0M67.7 208.7h0M199.8 189.6h0M116.6 207.1h0M81.1 215.3h0M193.2 196.7h0M309.5 197.5h0M288.5 203.4h0M272.7 193.5h0M49.2 203.2h0M274.6 194.1h0M147.7 207.5h0M320.1 203.1h0M315.1 196.9h0M83.6 217.2h0M304.1 210.8h0M309.0 198.8h0M257.5 202.1h0M220.7 199.8h0M269.6 200.9h0M221.0 198.5h0M255.1 191.3h0M203.7 209.1h0M190.0 201.5h0M153.8 210.3h0M147.1 213.2h0M150.2 205.9h0M205.0 199.8h0M90.1 214.9h0M320.6 192.9h0M62.8 212.1h0M251.9 194.2h0M210.3 209.8h0M46.5 199.9h0M177.1 194.6h0M275.9 211.2h0M282.3 199.4h0M110.7 198.9h0M288.5 204.0h0M77.6 203.1h0M169.4 205.4h0M116.0 192.5h0M280.1 210.2h0M244.7 215.7h0M106.3 209.3h0M73.7 201.6h0M282.3 216.6h0M256.8 206.8h0M300.8 209.7h0M192.9 192.7h0M231.4 200.4h0M139.2 204.1h0M262.8 196.1h0M286.2 200.0h0M118.9 200.3h0M230.4 203.8h0M139.5 198.9h0M276.4 200.1h0M153.1 211.8h0M176.2 197.7h0M61.4 228.0h0M110.1 228.0h0M82.8 226.0h0M61.2 215.5h0M304.4 200.1h0M297.8 194.2h0M112.1 199.9h0M59.8 205.0h0M257.2 195.0h0M237.8 199.1h0M201.2 210.4h0M296.6 193.5h0M128.1 209.3h0M299.9 199.3h0M114.9 210.5h0M226.4 200.4h0M280.1 213.5h0M86.6 227.2h0M195.1 194.0h0M64.5 199.1h0M215.3 206.0h0M157.0 210.9h0M67.5 223.5h0M120.3 197.7h0M184.9 205.0h0M59.4 227.7h0M172.7 200.9h0M256.1 205.1h0M249.2 204.9h0M104.4 216.8h0M77.3 215.5h0M280.1 198.5h0M151.2 217.4h0M181.8 204.3h0M78.3 227.3h0M280.0 206.1h0M208.3 210.7h0M91.5 215.8h0M190.7 204.8h0M272.7 204.8h0M127.7 188.4h0M142.3 211.8h0M56.9 223.5h0M171.6 202.9h0M208.2 201.4h0M45.4 218.8h0M284.4 193.2h0M164.7 206.7h0M256.0 212.8h0M260.4 193.4h0M301.0 193.0h0M165.4 215.2h0M182.3 200.2h0M105.4 218.2h0M283.1 208.1h0M104.2 229.5h0M52.8 215.3h0M77.8 211.2h0M267.4 188.1h0M199.5 201.7h0M122.3 192.5h0M277.6 209.5h0M266.9 201.9h0M291.1 194.7h0M125.5 198.7h0M205.8 197.3h0M67.3 192.9h0M60.9 202.5h0M95.6 216.4h0M259.2 199.6h0M215.9 205.7h0M68.8 217.4h0M54.5 210.2h0M224.5 207.0h0M298.4 206.9h0M205.7 204.3h0M192.0 202.8h0M287.7 196.9h0M60.4 214.4h0M221.8 220.6h0M252.3 193.1h0M182.0 206.4h0M97.2 202.8h0M159.1 210.9h0M315.5 190.5h0M243.4 200.0h0M164.5 204.5h0M290.3 200.2h0M245.3 202.8h0M94.9 219.7h0M255.8 190.3h0M115.2 193.5h0M164.3 219.7h0M80.1 213.6h0M101.1 225.2h0M270.5 204.6h0M122.0 204.8h0M64.2 198.4h0M314.6 194.8h0M208.5 198.8h0M203.7 199.8h0M257.0 198.9h0M78.1 206.7h0M126.9 204.0h0M273.6 206.0h0M222.1 195.7h0M88.3 215.2h0M122.8 208.5h0M309.1 206.2h0M262.8 201.2h0M280.7 199.4h0M280.0 208.9h0M87.4 210.2h0M64.1 230.3h0M318.3 186.1h0M298.7 199.3h0M143.4 209.5h0M268.2 198.3h0M156.2 204.6h0M142.5 214.4h0M260.0 193.9h0M111.6 214.0h0M137.2 198.0h0M78.3 220.4h0M131.4 204.5h0M160.3 204.0h0M304.4 204.5h0M46.5 200.5h0M194.1 196.8h0M108.6 220.0h0M159.9 212.6h0M208.2 213.8h0M138.4 207.2h0M203.3 196.9h0M41.9 214.1h0M110.3 226.4h0M296.9 196.3h0M310.5 200.7h0M156.1 213.7h0M184.1 192.4h0M185.7 196.1h0M196.8 204.2h0M181.0 190.5h0M295.1 196.1h0M64.0 217.9h0M126.6 204.5h0M175.4 217.3h0M191.6 202.7h0M273.5 201.7h0M69.8 215.4h0M130.9 209.6h0M104.5 225.9h0M259.5 197.4h0M93.3 210.5h0M230.7 199.6h0M92.8 214.0h0M192.1 207.7h0M245.3 221.9h0M260.5 188.5h0M291.7 203.5h0M218.5 212.8h0M112.7 202.2h0M219.3 209.5h0M190.7 199.8h0M158.3 207.1h0M90.1 224.4h0M224.7 193.1h0M64.7 214.1h0M210.1 209.4h0M154.6 204.5h0M228.9 199.5h0M268.1 188.5h0M77.6 233.0h0M229.2 197.0h0M276.6 203.8h0M280.5 200.5h0M147.9 208.6h0M45.2 213.1h0M75.1 215.7h0M187.7 202.6h0M310.8 186.0h0M251.1 205.1h0M147.4 209.5h0M80.6 218.8h0M199.9 187.6h0M108.1 226.7h0M100.1 214.1h0M118.6 190.1h0M239.8 210.2h0M44.2 220.1h0M117.4 199.7h0M292.4 201.7h0M229.0 189.8h0M195.6 204.9h0M241.3 195.6h0M152.9 201.5h0M85.3 211.6h0M258.8 205.1h0M305.8 207.5h0M262.3 209.3h0M108.5 219.0h0M215.3 213.5h0M319.1 186.7h0M242.6 206.2h0M172.0 201.5h0M138.6 205.1h0M287.9 197.5h0M230.0 204.0h0M72.8 213.8h0M211.7 214.6h0M106.2 222.7h0M58.4 212.8h0M246.6 211.6h0M188.3 196.3h0M73.0 223.8h0M147.8 217.2h0M66.6 193.2h0M56.0 208.6h0M146.9 213.2h0M79.3 222.1h0M208.6 202.5h0M58.5 216.0h0M152.8 209.9h0M320.9 193.6h0M245.1 210.9h0M291.2 197.8h0M165.0 206.0h0M78.8 222.2h0M129.8 202.7h0M146.4 220.1h0M251.8 206.9h0M48.1 207.7h0M71.3 217.8h0M200.2 207.5h0M241.2 206.4h0M181.1 200.4h0M242.2 206.6h0M203.8 198.8h0M88.3 215.3h0M183.9 197.5h0M91.8 214.4h0M77.2 207.5h0M260.6 194.4h0M52.8 229.2h0M281.4 208.5h0M249.4 208.1h0M182.6 205.0h0M198.3 198.4h0M95.7 215.5h0M96.1 209.8h0M86.9 219.5h0M297.0 199.2h0M249.6 207.9h0M220.7 206.6h0M277.2 202.7h0M255.6 211.2h0M181.1 191.1h0M236.9 191.5h0M316.5 190.0h0M109.6 212.7h0M146.3 210.9h0M197.4 189.8h0M152.6 199.2h0M316.1 190.2h0M258.0 197.9h0M130.4 197.2h0M290.4 197.9h0M77.7 216.2h0M152.3 209.5h0M207.8 201.0h0M199.9 204.4h0M205.5 208.7h0M192.5 208.6h0M216.7 206.7h0M80.9 217.8h0M200.9 205.8h0M151.7 201.0h0M71.3 205.5h0M184.2 195.9h0M305.7 199.1h0M122.9 189.5h0M136.8 199.6h0M123.2 202.3h0M127.5 205.8h0M150.0 204.8h0M111.6 205.8h0M195.1 188.8h0M86.1 211.1h0M264.0 199.8h0M73.7 223.4h0M287.4 192.6h0M192.4 200.6h0M285.5 198.7h0M260.4 190.9h0M185.4 205.8h0M243.7 206.1h0M128.9 202.1h0M221.9 199.1h0M127.5 189.9h0M311.8 199.0h0M108.4 212.2h0M236.9 198.4h0M181.2 210.9h0M314.0 199.0h0M313.9 186.1h0M76.5 222.1h0M251.5 204.7h0M284.5 190.9h0M86.7 217.9h0M164.3 217.5h0M306.2 187.5h0M80.3 213.4h0M289.2 190.9h0M229.6 199.2h0M185.4 206.3h0M280.9 212.0h0M269.6 204.8h0M128.0 202.6h0M198.4 191.5h0M249.6 197.9h0M223.7 195.9h0M57.3 208.8h0M294.1 190.1h0M268.6 189.5h0M174.1 220.5h0M121.4 198.2h0M254.1 205.2h0M252.1 204.6h0M115.6 209.6h0M50.6 214.6h0M97.9 215.3h0M84.1 219.0h0M315.6 180.8h0M162.3 203.2h0M313.5 200.7h0M295.4 193.0h0M290.2 191.6h0M247.5 196.5h0M233.2 202.1h0M302.0 192.7h0M206.7 213.4h0M274.7 207.6h0M153.4 203.2h0M63.8 195.4h0M167.6 206.5h0M225.3 190.5h0M264.5 203.2h0M48.8 212.8h0M167.5 202.3h0M304.5 202.6h0M124.7 200.1h0M105.6 207.6h0M265.4 192.2h0M231.9 206.8h0M303.4 202.3h0M184.4 203.8h0M157.1 211.7h0M224.0 199.6h0M248.3 216.4h0M261.1 185.7h0M162.0 204.8h0M54.3 210.6h0M278.9 208.9h0M96.4 204.0h0M115.0 209.0h0M47.3 220.1h0M83.8 212.8h0M58.5 215.6h0M171.6 226.2h0M188.8 195.1h0M89.9 212.0h0M232.9 207.4h0M139.9 217.0h0M183.3 198.5h0M144.9 212.1h0M69.3 196.3h0M270.3 189.9h0M140.0 216.9h0M98.7 223.0h0M175.6 222.3h0M313.2 195.9h0M99.3 214.0h0M186.9 205.7h0M310.9 188.9h0M70.3 214.1h0M300.3 200.8h0M304.4 203.1h0M141.8 214.8h0M239.9 203.5h0M98.9 218.0h0M224.9 202.2h0M179.2 206.4h0M179.2 201.6h0M237.7 195.3h0M314.8 196.3h0M278.8 201.3h0M235.1 197.4h0M167.4 207.3h0M130.0 195.7h0M90.3 212.8h0M72.5 224.4h0M154.0 208.1h0M237.5 199.4h0M190.1 198.2h0M199.7 205.9h0M85.8 214.0h0M130.1 195.4h0M297.6 200.3h0M109.1 230.1h0M245.2 193.8h0M56.1 209.3h0M307.3 196.4h0M141.6 217.3h0M204.9 201.2h0M306.3 209.4h0M64.5 195.4h0M161.3 216.5h0M203.0 197.5h0M211.6 199.6h0M89.1 220.5h0M310.1 188.0h0M132.3 190.1h0M130.6 188.7h0M57.2 220.8h0M257.6 203.7h0M265.4 189.4h0M203.5 197.2h0M128.5 210.1h0M220.3 199.8h0M154.6 201.7h0M116.3 195.3h0M166.9 205.9h0M60.0 207.6h0M309.2 196.7h0M234.5 199.2h0M311.5 187.6h0M101.8 228.9h0M192.3 198.6h0M222.2 203.7h0M275.9 210.7h0M181.2 192.0h0M154.2 217.1h0M195.4 193.1h0M59.9 227.0h0M129.2 194.8h0M142.8 204.4h0M140.7 215.3h0M64.8 201.7h0M103.5 212.2h0M305.4 198.4h0M56.0 216.5h0M191.8 200.7h0M235.1 194.5h0M88.5 207.8h0M274.8 203.2h0M66.6 219.9h0M169.2 204.1h0M206.5 196.8h0M166.1 206.6h0M200.4 190.2h0M203.7 207.2h0M158.8 202.2h0M100.8 230.2h0M166.6 203.7h0M87.6 216.6h0M258.5 191.9h0M283.1 207.1h0M311.2 186.1h0M256.2 207.1h0M224.0 197.4h0M188.7 201.6h0M211.3 202.1h0M139.8 203.4h0M149.5 210.2h0M166.0 203.5h0M243.9 193.4h0M223.3 197.9h0M120.7 193.9h0M155.2 217.1h0M185.4 204.9h0M213.8 205.5h0M89.0 210.4h0M137.3 200.1h0M244.5 212.5h0M157.1 214.6h0M234.1 196.7h0M318.6 183.6h0M180.6 204.4h0M173.8 202.3h0M128.3 191.6h0M226.9 205.5h0M309.2 201.0h0M300.0 200.9h0M157.2 201.1h0M153.1 211.4h0M58.6 212.7h0M241.7 209.3h0M269.1 207.9h0M196.3 200.9h0M48.5 203.2h0M183.3 202.1h0M232.8 202.3h0M96.3 209.7h0M230.7 207.7h0M109.4 205.3h0M175.6 222.1h0M278.1 197.9h0M220.8 198.2h0M251.2 206.9h0M108.9 210.4h0M73.6 224.3h0M72.0 199.2h0M73.9 219.0h0M147.8 208.5h0M129.3 189.6h0M270.3 192.4h0M172.0 213.2h0M164.5 215.8h0M310.8 183.4h0M311.2 191.2h0M189.5 204.0h0M130.1 192.7h0M172.1 217.7h0M196.5 195.9h0M137.6 212.1h0M203.9 195.6h0M118.9 201.3h0M245.5 212.7h0M119.8 199.2h0M140.4 207.1h0M117.3 189.4h0M114.4 200.8h0M169.3 206.9h0M264.7 203.4h0M81.2 223.3h0M162.7 210.7h0M141.4 204.3h0M293.7 203.3h0M95.8 229.1h0M76.9 213.9h0M50.0 205.4h0M117.7 199.4h0M55.5 221.4h0M202.4 205.7h0M196.9 198.0h0M230.4 210.7h0M288.1 195.8h0M167.8 209.6h0M165.9 223.9h0M141.3 198.9h0M229.5 193.9h0M262.7 194.7h0M130.4 198.2h0M244.2 214.9h0M261.4 188.1h0M87.3 210.1h0M193.7 190.8h0M175.6 214.0h0M142.3 209.6h0M190.3 208.3h0M204.4 200.8h0M141.1 207.6h0M162.0 203.4h0M229.4 197.1h0M175.2 223.6h0M247.9 196.5h0M258.1 205.4h0M258.7 200.5h0M105.0 210.1h0M148.6 202.0h0M142.6 206.1h0M197.8 190.2h0M163.6 204.9h0M122.7 203.7h0M235.2 209.4h0M77.7 207.6h0M119.4 192.2h0M62.0 213.9h0M94.4 216.1h0M101.8 222.1h0M314.3 191.4h0M181.3 198.8h0M283.3 203.0h0M62.8 223.6h0M299.0 203.7h0M100.4 215.7h0M172.6 200.4h0M104.2 214.5h0M101.8 206.9h0M108.1 221.1h0M304.6 195.3h0M42.8 206.9h0M81.7 220.3h0M128.3 200.8h0M143.0 204.4h0M50.3 213.0h0M176.8 200.5h0M58.7 219.9h0M122.3 193.7h0M96.3 228.7h0M152.9 223.0h0M115.2 197.9h0M157.0 217.2h0M241.5 209.3h0M64.5 213.1h0M288.9 200.9h0M259.3 193.3h0M276.0 198.4h0M185.7 208.1h0M202.2 196.6h0M121.8 200.2h0M280.2 211.4h0M218.0 209.8h0M227.9 202.4h0M212.3 204.2h0M315.9 197.2h0M63.7 201.8h0M168.4 215.7h0M172.7 203.9h0M207.2 206.0h0M306.1 200.1h0M248.3 204.5h0M85.9 217.5h0M308.6 202.0h0M216.0 200.4h0M108.8 219.7h0M172.5 210.7h0M178.3 201.9h0M268.4 192.6h0M155.5 216.2h0M307.7 202.9h0M238.4 203.2h0M283.9 197.9h0M270.2 203.9h0M168.9 213.6h0M165.6 202.9h0M104.7 203.4h0M173.1 202.1h0M208.5 208.9h0M63.0 220.3h0M312.0 190.9h0M254.6 196.6h0M174.5 219.6h0M255.1 192.6h0M268.4 202.5h0M213.6 198.5h0M47.8 219.2h0M170.7 201.7h0M58.7 204.1h0M184.1 190.7h0M136.2 197.5h0M261.2 193.4h0M322.6 195.8h0M301.6 207.7h0M305.4 192.6h0M63.9 216.9h0M108.7 220.6h0M277.0 198.5h0M45.9 211.7h0M132.8 189.6h0M131.8 204.7h0M45.8 201.8h0M151.9 214.0h0M109.0 204.5h0M169.7 217.8h0M133.9 205.5h0M146.5 208.2h0M52.0 205.5h0M166.4 204.4h0M131.2 206.9h0M130.8 193.9h0M181.7 198.8h0M296.9 202.4h0M204.8 208.4h0M244.5 198.5h0M138.2 197.1h0M157.0 199.7h0M187.3 198.1h0M158.0 208.1h0M284.7 204.7h0M212.0 209.4h0M194.0 191.6h0M244.5 208.6h0M284.7 194.7h0M76.7 210.6h0M78.4 224.0h0M139.5 215.3h0M122.7 196.4h0M51.6 201.8h0M178.1 202.9h0M51.9 213.1h0M214.3 203.9h0M94.4 218.4h0M304.3 192.8h0M77.6 212.4h0M146.8 206.8h0M269.6 205.7h0M212.8 204.1h0M145.1 223.4h0M281.7 213.3h0M217.3 208.2h0M139.0 212.8h0M127.9 191.8h0M43.6 221.9h0M114.6 198.6h0M260.0 194.8h0M250.5 200.2h0M152.9 218.3h0M281.8 204.2h0M115.0 199.8h0M286.8 198.6h0M73.7 194.8h0M121.7 201.4h0M216.0 201.3h0M253.1 198.9h0M60.3 204.2h0M140.0 208.6h0M203.6 199.5h0M74.1 225.3h0M163.7 202.9h0M54.0 228.4h0M250.3 193.5h0M190.1 196.9h0M241.5 190.2h0M273.3 193.7h0M78.3 218.1h0M267.1 192.5h0M171.6 208.1h0M291.8 191.9h0M263.1 201.0h0M105.0 212.8h0M171.2 226.0h0M289.0 208.8h0M281.8 207.6h0M53.8 229.0h0M246.4 212.9h0M118.5 205.7h0M54.2 226.4h0M232.2 192.8h0M237.1 205.9h0M271.4 205.6h0M48.2 203.7h0M48.6 204.7h0M173.3 198.4h0M291.2 191.6h0M60.7 201.2h0M281.3 215.8h0M110.9 206.4h0M53.4 215.6h0M195.4 195.2h0M109.0 208.7h0M101.9 228.6h0M156.5 216.6h0M60.9 203.7h0M176.7 197.8h0M115.3 207.8h0M231.2 193.0h0M206.5 207.3h0M313.3 198.7h0M131.8 201.8h0M289.2 195.2h0M217.6 198.3h0M250.9 202.0h0M316.2 182.7h0M99.8 219.2h0M173.1 222.6h0M90.2 212.8h0M268.7 193.6h0M181.3 190.7h0M135.9 208.6h0M196.5 202.7h0M46.4 211.3h0M42.9 216.9h0M122.8 202.7h0M93.4 209.5h0M286.9 200.9h0M168.3 212.9h0M249.0 202.0h0M188.8 202.2h0M59.9 210.2h0M160.3 220.4h0M45.1 218.9h0M174.0 216.2h0M285.1 193.2h0M247.8 216.1h0M161.3 215.4h0M247.5 211.5h0M294.7 194.1h0M152.7 220.3h0M74.1 226.6h0M315.5 206.0h0M71.5 208.9h0M229.3 190.6h0M281.8 202.0h0M179.8 206.8h0M264.7 193.3h0M154.3 213.9h0M133.1 203.5h0M151.4 197.7h0M179.8 197.9h0M245.6 203.7h0M69.4 195.9h0M321.4 188.2h0M303.5 198.6h0M264.9 199.4h0M174.5 211.1h0M215.8 199.9h0M317.1 201.8h0M225.8 209.3h0M69.6 195.8h0M172.0 203.6h0M183.7 191.7h0M223.2 209.7h0M197.6 198.5h0M74.9 220.6h0M179.9 189.0h0M162.1 203.2h0M193.5 195.3h0M264.9 191.2h0M174.8 208.7h0M207.3 211.6h0M134.5 200.4h0M205.4 201.1h0M144.9 215.3h0M110.8 206.7h0M251.7 195.9h0M287.4 199.8h0M285.3 191.4h0M282.2 218.6h0M184.5 195.2h0M145.7 210.7h0M302.2 200.7h0M180.6 194.1h0M245.8 209.5h0M302.4 206.9h0M292.6 196.6h0M245.5 213.5h0M269.1 200.6h0M131.5 205.4h0M47.6 210.8h0M201.8 206.3h0M192.0 203.2h0M129.4 194.8h0M161.4 204.1h0M106.3 212.4h0M62.2 219.6h0M59.2 213.0h0M308.0 187.6h0M151.7 209.3h0M315.1 184.1h0M303.3 206.1h0M245.7 210.1h0M79.7 226.7h0M145.4 203.4h0M296.7 204.4h0M74.2 212.4h0M74.3 224.1h0M214.9 199.9h0M210.4 201.3h0M64.2 208.1h0M278.2 199.4h0M233.5 208.7h0M175.5 196.7h0M88.2 221.4h0M249.5 209.5h0M175.4 224.8h0M247.5 197.5h0M125.3 191.4h0M284.4 208.7h0M192.7 204.6h0M62.5 211.1h0M93.1 209.7h0M101.7 218.9h0M251.2 208.8h0M232.3 194.7h0M127.4 199.5h0M104.3 210.8h0M247.6 201.8h0M117.9 198.4h0M115.9 206.8h0M51.4 210.9h0M221.6 202.7h0M200.8 206.8h0M249.5 211.3h0M315.7 183.6h0M316.5 192.8h0M271.7 206.6h0M195.6 197.4h0M129.0 194.4h0M139.0 191.4h0M136.5 206.8h0M306.9 189.1h0M194.3 193.6h0M101.7 205.8h0M258.0 199.0h0M275.5 198.7h0M294.2 198.0h0M104.4 224.0h0M250.6 195.8h0M157.9 217.4h0M315.1 198.7h0M206.4 206.0h0M184.0 193.7h0M126.6 208.2h0M193.1 202.4h0M285.0 203.4h0M196.5 195.2h0M158.5 220.5h0M68.2 210.5h0M72.4 202.0h0M215.5 209.4h0M253.0 197.9h0M171.2 201.9h0M139.4 201.4h0M55.9 203.5h0M192.6 198.8h0M93.8 211.0h0M143.5 214.9h0M186.4 196.6h0M302.4 198.7h0M310.6 208.4h0M287.5 196.5h0M46.6 214.1h0M195.3 204.3h0M167.6 208.0h0M201.5 201.9h0M226.9 203.9h0M259.8 205.5h0M233.4 200.1h0M263.8 187.1h0M237.0 195.1h0M244.4 204.5h0M140.8 212.3h0M152.1 207.3h0M296.6 198.0h0M186.9 197.3h0M304.4 193.7h0M229.5 206.3h0M322.0 191.8h0M222.1 202.7h0M84.6 221.7h0M105.8 205.7h0M200.2 207.0h0M206.6 195.7h0M254.7 193.7h0M175.5 208.7h0M236.6 203.2h0M140.2 211.0h0M220.8 211.7h0M295.7 195.2h0M206.2 200.6h0M236.1 202.9h0M236.1 206.2h0M240.7 209.4h0M284.0 195.7h0M87.4 224.9h0M269.5 204.0h0M56.0 217.3h0M237.4 190.3h0M304.4 202.1h0M229.0 190.3h0M294.7 195.2h0M121.9 190.8h0M106.8 215.7h0M171.5 225.4h0M296.8 205.2h0M108.8 205.4h0M80.2 215.2h0M109.2 202.7h0M255.3 195.8h0M259.4 205.4h0M49.4 209.9h0M183.6 191.6h0M253.9 194.8h0M276.3 206.5h0M278.3 197.1h0M123.9 201.2h0M162.6 203.9h0M61.3 202.4h0M111.7 208.1h0M208.7 203.6h0M260.9 189.7h0M59.0 217.7h0M258.6 202.7h0M233.1 207.4h0M258.4 205.0h0M91.0 213.6h0M55.2 223.5h0M150.5 205.9h0M209.3 194.4h0M85.5 219.4h0M223.5 211.0h0M164.6 225.1h0M261.1 199.7h0M280.2 203.2h0M179.3 204.6h0M269.0 200.5h0M162.3 215.0h0M174.7 222.5h0M140.8 209.4h0M297.5 192.1h0M84.7 214.4h0M142.9 204.1h0M217.8 194.4h0M212.0 205.3h0M62.3 205.2h0M42.1 221.2h0M226.8 201.0h0M204.7 204.1h0M264.0 203.3h0M98.4 216.2h0M197.0 199.7h0M232.5 204.1h0M67.4 211.0h0M112.5 197.3h0M176.7 195.4h0M84.5 215.7h0M115.9 203.1h0M274.8 197.6h0M240.2 202.5h0M68.3 213.7h0M132.2 205.8h0M47.8 206.4h0M127.0 196.7h0M226.4 202.1h0M64.3 199.8h0M309.7 201.4h0M188.3 203.8h0M141.5 210.6h0M239.9 194.7h0M165.1 214.0h0M299.9 202.2h0M104.0 223.9h0M279.4 200.5h0M55.2 211.5h0M225.7 204.3h0M120.4 202.2h0M283.2 209.4h0M85.1 225.3h0M99.1 219.2h0M97.1 228.9h0M239.4 198.5h0M156.5 208.0h0M144.7 212.6h0M200.9 209.7h0M219.7 204.2h0M189.8 197.9h0M132.7 208.7h0M215.9 211.2h0M244.7 212.7h0M75.4 227.5h0M148.9 207.9h0M171.8 213.2h0M71.8 205.5h0M216.1 200.4h0M190.0 209.3h0M244.3 216.0h0M212.5 202.0h0M164.8 207.6h0M202.7 193.5h0M255.0 212.9h0M247.7 196.7h0M102.9 212.1h0M160.4 204.4h0M268.9 188.5h0M47.7 219.2h0M93.9 211.4h0M189.8 203.5h0M122.6 196.1h0M120.6 200.5h0M104.8 226.5h0M268.3 200.2h0M256.0 208.7h0M298.1 203.8h0M101.1 226.1h0M172.9 201.6h0M248.8 203.0h0M202.2 199.2h0M122.8 199.1h0M169.7 205.5h0M88.2 214.0h0M140.7 213.6h0M86.1 220.9h0M212.2 207.0h0M56.7 221.2h0M65.0 210.3h0M101.7 230.4h0M106.6 223.8h0M128.7 208.6h0M230.0 205.3h0M64.5 195.6h0M55.6 214.3h0M54.5 215.7h0M234.0 203.4h0M54.4 224.0h0M228.0 196.8h0M61.4 228.1h0M91.7 229.0h0M255.9 209.5h0M102.2 225.7h0M127.5 195.9h0M44.5 220.7h0M193.5 196.2h0M139.6 203.0h0M191.1 208.5h0M53.8 219.1h0M243.9 191.6h0M89.8 206.9h0M112.7 200.7h0M48.2 213.3h0M107.1 204.4h0M298.5 197.8h0M206.3 196.8h0M64.6 215.5h0M222.2 192.4h0M166.0 208.2h0M258.8 200.2h0M222.7 205.3h0M165.2 206.0h0M218.1 209.5h0M162.4 201.7h0M138.9 211.1h0M170.9 206.7h0M265.5 190.9h0M73.7 218.9h0M136.6 208.3h0M289.1 194.9h0M105.3 212.3h0M86.7 214.6h0M93.9 216.3h0M156.9 205.6h0M257.0 194.1h0M163.9 219.2h0M265.6 188.0h0M61.4 210.3h0M229.8 204.5h0M319.2 184.0h0M120.1 201.7h0M62.8 198.8h0M94.8 208.9h0M212.1 205.7h0M85.1 216.4h0M105.4 209.8h0M85.6 212.3h0M141.6 211.3h0M246.2 203.0h0M247.2 204.2h0M122.2 207.5h0M91.3 214.3h0M56.8 208.7h0M242.6 212.0h0M141.6 211.8h0M148.4 205.0h0M128.7 204.5h0M134.5 194.4h0M141.6 219.8h0M59.7 213.7h0M162.1 214.9h0M61.0 225.7h0M163.1 208.3h0M173.0 210.0h0M306.0 203.5h0M126.7 208.5h0M225.9 208.3h0M201.4 190.7h0M241.8 197.2h0M80.2 213.4h0M157.6 208.2h0M106.5 221.4h0M275.1 204.4h0M43.3 206.5h0M205.8 197.7h0M167.7 210.5h0M61.5 213.5h0M220.7 196.9h0M137.6 206.5h0M216.7 204.9h0M214.0 200.5h0M124.8 196.6h0M57.1 221.4h0M122.9 201.6h0M131.8 202.3h0M52.9 208.5h0M69.1 193.3h0M94.7 215.7h0M136.7 196.0h0M289.7 189.7h0M248.2 199.8h0M249.9 202.3h0M136.7 198.4h0M162.9 206.1h0M196.9 203.8h0M41.7 213.9h0M74.3 224.8h0M256.4 207.9h0M321.2 193.5h0M83.4 220.5h0M151.4 217.6h0M233.6 205.8h0M250.3 203.9h0M205.8 213.8h0M147.6 213.1h0M177.8 203.1h0M144.8 217.5h0M140.8 209.4h0M86.3 210.8h0M136.0 197.6h0M264.0 188.2h0M78.2 213.2h0M279.1 206.3h0M187.5 201.2h0M104.2 215.7h0M165.5 222.1h0M311.3 205.4h0M134.9 194.3h0M114.4 203.3h0M176.6 196.6h0M234.3 205.9h0M236.7 189.7h0M204.4 198.3h0M110.7 206.9h0M119.6 195.6h0M220.7 217.6h0M218.3 199.3h0M78.1 217.2h0M290.3 201.2h0M83.7 219.4h0M270.4 199.3h0M148.6 210.8h0M47.5 224.1h0M204.4 200.5h0M64.4 200.0h0M267.7 189.5h0M165.6 211.0h0M288.9 188.8h0M161.5 210.4h0M263.4 199.2h0M56.6 215.5h0M289.6 191.6h0M293.6 200.3h0M284.5 207.8h0M76.6 204.4h0M235.0 199.3h0M171.0 220.2h0M288.2 199.8h0M42.1 213.9h0M161.6 213.0h0M43.1 211.3h0M63.5 218.4h0M228.7 205.3h0M186.1 208.9h0M240.3 205.2h0M192.5 200.8h0M93.6 215.4h0M279.1 193.8h0M50.4 205.3h0M184.2 195.8h0M140.8 208.8h0M158.5 215.2h0M246.7 204.3h0M171.3 206.7h0M84.9 217.8h0M131.1 204.0h0M321.8 189.2h0M249.2 198.9h0M172.1 201.8h0M293.2 196.0h0M50.6 210.5h0M221.2 216.5h0M208.2 198.6h0M121.2 203.7h0M108.8 209.5h0M190.4 200.5h0M196.7 189.4h0M261.1 193.6h0M291.0 201.1h0M139.5 210.0h0M259.4 200.4h0M89.5 222.9h0M141.2 221.1h0M201.6 205.2h0M110.7 209.8h0M257.8 189.8h0M105.7 220.4h0M215.5 202.7h0M201.7 207.0h0M164.9 205.9h0M300.3 192.8h0M311.2 186.6h0M113.3 193.9h0M125.1 200.1h0M84.1 224.7h0M139.7 215.4h0M277.0 196.2h0M207.2 212.5h0M80.9 222.6h0M136.7 207.3h0M216.2 203.2h0M159.3 218.8h0M288.4 202.7h0M221.3 212.9h0M301.0 197.2h0M142.3 216.8h0M209.7 205.6h0M277.8 203.9h0M220.3 207.5h0M226.2 196.2h0M220.0 212.1h0M91.8 211.1h0M257.9 191.1h0M214.7 213.0h0M234.0 197.2h0M103.1 206.3h0M247.3 199.9h0M86.3 212.4h0M128.2 205.6h0M245.9 213.1h0M311.5 201.6h0M233.5 201.6h0M70.7 211.2h0M268.4 194.4h0M60.1 225.3h0M174.1 207.0h0M104.8 226.8h0M79.5 210.4h0M122.4 207.2h0M183.2 197.0h0M45.6 226.2h0M219.1 208.8h0M302.9 194.7h0M72.1 213.2h0M322.1 189.8h0M322.3 189.1h0M107.0 219.6h0M76.6 207.5h0M151.1 212.7h0M86.0 220.8h0M59.9 207.3h0M87.7 213.8h0M115.5 196.4h0" stroke="#420840" stroke-width="3.2" stroke-linecap="round" fill="none" stroke-opacity="0.6"/>
<path d="M295.8 195.4h0M187.7 194.3h0M71.8 217.0h0M133.8 203.6h0M178.0 194.1h0M243.7 210.3h0M53.3 209.3h0M244.0 219.5h0M79.9 226.3h0M194.7 197.1h0M56.0 209.4h0M71.9 204.9h0M49.1 208.8h0M170.0 208.4h0M82.3 224.9h0M212.9 209.4h0M103.8 204.2h0M72.7 217.2h0M227.2 204.7h0M145.0 224.4h0M265.6 189.8h0M56.4 211.7h0M67.8 207.0h0M222.8 211.9h0M261.1 205.8h0M99.1 208.3h0M128.5 208.1h0M118.4 201.7h0M229.0 205.2h0M161.4 204.7h0M269.8 207.2h0M298.1 198.2h0M295.6 195.7h0M146.3 217.7h0M270.0 207.3h0M266.7 192.3h0M134.3 202.0h0M135.1 208.4h0M239.9 193.8h0M174.1 218.7h0M177.1 192.6h0M254.8 213.5h0M265.5 188.7h0M61.9 211.0h0M85.5 218.4h0M54.9 205.9h0M191.8 194.9h0M186.7 204.9h0M48.2 201.4h0M190.3 195.1h0M53.7 211.4h0M60.5 213.8h0M170.9 210.8h0M176.3 193.5h0M308.8 192.0h0M139.1 207.0h0M214.3 207.6h0M58.5 216.7h0M236.1 204.1h0M58.6 220.7h0M300.0 200.3h0M223.3 196.1h0M166.3 224.4h0M60.8 215.6h0M233.0 197.1h0M152.2 214.2h0M206.4 213.6h0M103.8 204.2h0M168.5 210.6h0M272.9 197.5h0M322.0 200.3h0M169.1 209.6h0M219.1 199.3h0M116.9 198.7h0M126.6 204.7h0M297.4 197.1h0M270.2 205.1h0M86.2 212.5h0M109.5 216.0h0M181.5 194.3h0M91.0 204.7h0M126.3 199.4h0M312.5 191.8h0M234.3 208.5h0M308.9 185.6h0M98.2 213.1h0M280.8 201.1h0M269.2 209.0h0M119.6 194.3h0M301.7 208.7h0M243.1 202.4h0M200.4 198.2h0M70.6 200.8h0M266.4 196.0h0M166.6 207.8h0M194.5 199.6h0M312.4 190.5h0M219.2 203.9h0M42.3 218.9h0M86.0 225.5h0M252.3 211.1h0M248.3 215.7h0M160.1 216.9h0M225.2 194.7h0M124.3 208.2h0M211.1 211.7h0M114.2 197.4h0M293.8 195.4h0M245.2 209.7h0M193.6 194.2h0M206.0 192.8h0M154.5 215.1h0M230.3 193.3h0M269.3 191.4h0M210.8 205.4h0M97.1 229.3h0M165.3 210.0h0M283.3 214.2h0M149.1 225.2h0M143.7 221.2h0M308.3 203.4h0M55.4 213.6h0M275.8 198.0h0M299.6 195.0h0M80.8 217.6h0M263.5 183.9h0M102.5 228.1h0M298.7 195.4h0M171.9 222.9h0M59.9 221.2h0M214.0 199.2h0M168.3 214.2h0M160.2 211.3h0M157.5 213.7h0M139.6 208.5h0M183.3 205.5h0M248.0 195.8h0M301.2 197.5h0M140.2 206.9h0M318.1 195.4h0M261.0 201.6h0M315.7 187.3h0M260.3 202.6h0M300.7 205.8h0M136.8 202.7h0M100.9 228.7h0M131.3 206.1h0M273.3 197.4h0M134.5 194.4h0M145.5 211.3h0M191.5 200.1h0M175.5 209.0h0M237.0 205.0h0M239.2 206.8h0M108.2 220.6h0M88.8 220.8h0M250.6 194.3h0M237.0 192.0h0M201.0 190.5h0M243.8 214.6h0M159.4 212.2h0M107.5 216.9h0M260.2 190.4h0M48.4 206.3h0M159.1 206.0h0M127.1 203.0h0M315.9 195.4h0M106.0 211.4h0M142.4 217.8h0M251.3 200.7h0M193.4 189.3h0M137.8 205.2h0M185.3 208.7h0M273.5 201.9h0M133.6 203.9h0M170.5 222.0h0M187.3 202.5h0M96.6 209.0h0M119.8 193.8h0M102.0 214.3h0M195.2 198.3h0M135.0 212.3h0M293.4 189.8h0M320.1 188.3h0M110.4 201.1h0M43.9 217.1h0M283.8 206.4h0M46.0 214.8h0M43.8 220.6h0M62.4 207.7h0M184.4 205.6h0M305.1 204.9h0M274.1 192.8h0M73.2 219.2h0M160.4 216.2h0M301.4 200.8h0M101.6 216.9h0M161.9 200.9h0M319.4 183.5h0M206.5 211.0h0M307.7 198.9h0M146.8 207.6h0M182.6 197.1h0M265.1 206.5h0M195.1 203.1h0M149.0 218.0h0M151.6 205.6h0M249.8 202.6h0M281.8 202.4h0M165.8 204.3h0M78.2 222.4h0M149.5 204.8h0M113.0 200.6h0M77.4 206.8h0M141.4 211.2h0M64.8 210.2h0M70.3 198.9h0M89.7 225.9h0M265.0 201.5h0M210.1 202.6h0M144.4 217.3h0M228.5 207.7h0M262.0 195.3h0M226.6 204.0h0M150.4 207.7h0M148.1 213.5h0M172.8 212.9h0M291.5 195.8h0M227.9 192.3h0M294.4 200.3h0M45.1 215.8h0M145.1 221.5h0M185.8 203.1h0M173.0 202.8h0M175.6 201.0h0M159.9 216.2h0M316.1 183.9h0M255.9 206.5h0M160.7 219.0h0M41.8 216.1h0M126.4 194.4h0M42.5 228.8h0M317.8 188.5h0M51.7 215.4h0M150.5 207.5h0M151.8 200.6h0M167.4 204.8h0M105.9 218.6h0M273.6 205.4h0M109.3 208.6h0M248.9 194.1h0M217.3 193.3h0M56.1 214.3h0M70.2 197.4h0M127.8 188.6h0M210.4 200.2h0M214.2 201.9h0M198.9 205.6h0M270.8 199.0h0M155.4 201.5h0M41.5 225.7h0M317.8 197.1h0M176.4 206.2h0M277.5 209.3h0M142.7 206.2h0M49.8 214.6h0M214.9 201.8h0M245.8 210.9h0M237.4 201.4h0M148.8 218.3h0M207.0 206.7h0M218.2 213.8h0M119.7 193.7h0M114.6 199.9h0M254.9 204.9h0M206.7 198.3h0M127.6 195.2h0M172.9 212.8h0M303.5 190.3h0M181.3 198.8h0M272.2 192.0h0M164.0 206.8h0M49.8 221.5h0M68.8 199.8h0M94.4 222.0h0M144.8 221.3h0M247.7 212.0h0M244.6 196.8h0M135.3 190.9h0M192.4 194.3h0M319.3 189.2h0M189.9 195.7h0M147.9 218.5h0M79.8 219.9h0M165.2 222.1h0M182.8 205.7h0M188.1 198.1h0M290.0 193.4h0M161.3 212.8h0M81.5 215.6h0M114.4 198.4h0M307.0 198.5h0M198.3 199.1h0M269.9 199.0h0M146.4 210.3h0M87.4 218.8h0M151.4 197.6h0M114.0 197.4h0M240.7 196.0h0M116.6 197.5h0M262.6 192.1h0M129.5 196.8h0M285.9 202.2h0M289.7 191.9h0M83.1 216.3h0M304.0 196.5h0M178.9 196.7h0M273.0 206.5h0M200.4 202.3h0M186.3 202.7h0M234.9 199.4h0M144.6 219.4h0M129.6 193.5h0M261.8 206.6h0M229.5 195.7h0M121.5 197.3h0M56.8 207.9h0M227.3 205.6h0M199.9 191.9h0M101.0 227.7h0M192.0 199.5h0M176.6 201.2h0M42.0 216.8h0M157.5 200.0h0M77.0 216.8h0M54.7 212.7h0M220.5 209.0h0M212.5 201.7h0M187.1 194.9h0M185.9 198.4h0M143.3 209.6h0M162.9 211.9h0M59.9 224.3h0M105.8 209.9h0M239.6 198.7h0M274.3 200.1h0M135.0 191.2h0M241.4 212.9h0M293.6 188.2h0M82.5 222.9h0M98.3 204.5h0M100.8 220.5h0M255.8 195.0h0M52.5 222.7h0M260.8 205.2h0M189.5 192.5h0M290.6 200.1h0M257.9 201.5h0M164.7 205.1h0M92.3 207.4h0M71.4 206.7h0M157.9 201.9h0M241.8 214.9h0M60.4 230.2h0M83.6 224.9h0M310.4 186.4h0M88.6 212.2h0M314.3 192.3h0M53.9 208.5h0M66.2 202.4h0M76.3 232.7h0M141.9 197.1h0M318.7 180.6h0M177.4 199.1h0M122.6 194.2h0M184.0 202.1h0M107.2 212.3h0M258.6 202.2h0M186.3 198.8h0M128.0 210.0h0M78.9 210.2h0M119.3 195.1h0M86.5 222.1h0M289.6 198.9h0M197.7 192.3h0M59.9 226.0h0M261.7 194.4h0M87.2 225.5h0M142.0 207.3h0M280.1 210.9h0M311.8 201.2h0M225.6 210.5h0M148.1 211.6h0M296.1 200.7h0M250.9 194.8h0M175.1 196.8h0M102.4 212.6h0M319.1 189.9h0M315.6 195.4h0M238.2 192.4h0M265.9 201.7h0M70.2 213.7h0M215.2 203.6h0M213.0 196.9h0M226.2 193.3h0M180.8 196.5h0M267.6 201.8h0M186.3 197.6h0M304.9 197.1h0M201.2 203.5h0M85.1 213.2h0M306.9 199.0h0M205.4 195.6h0M230.9 197.7h0M257.0 202.7h0M145.7 206.1h0M87.4 207.7h0M95.7 225.7h0M164.9 215.4h0M290.8 197.4h0M287.1 203.4h0M165.9 217.3h0M60.9 213.2h0M102.4 219.0h0M119.0 191.2h0M273.0 194.2h0M317.6 200.9h0M175.5 214.1h0M141.2 217.8h0M199.6 205.7h0M122.9 197.6h0M112.6 213.6h0M238.3 184.7h0M107.9 230.3h0M219.6 215.4h0M282.8 211.6h0M284.2 198.3h0M315.7 207.1h0M154.3 210.0h0M41.6 223.6h0M187.4 199.9h0M46.3 206.5h0M309.2 188.2h0M288.4 205.6h0M152.6 210.2h0M128.2 202.6h0M71.5 203.1h0M286.5 201.4h0M150.8 215.8h0M311.1 193.7h0M154.0 203.6h0M301.3 194.5h0M154.7 200.7h0M47.8 200.7h0M149.9 207.2h0M41.8 225.9h0M297.5 204.1h0M321.5 182.8h0M140.5 219.3h0M235.3 197.4h0M315.1 196.0h0M113.3 201.6h0M48.5 217.5h0M66.1 212.5h0M188.8 200.5h0M273.3 195.1h0M198.5 198.4h0M142.6 205.1h0M129.9 192.1h0M47.4 217.0h0M123.3 204.3h0M133.1 201.1h0M166.6 217.5h0M96.5 217.8h0M109.7 201.7h0M272.2 193.6h0M309.8 201.7h0M160.8 208.0h0M90.3 217.9h0M271.7 204.4h0M266.1 198.7h0M241.0 210.2h0M311.1 180.5h0M53.8 218.9h0M192.8 197.9h0M42.8 227.7h0M266.3 201.5h0M77.2 204.7h0M279.6 215.7h0M194.4 193.5h0M64.0 214.9h0M97.7 220.5h0M211.1 206.9h0M135.9 197.8h0M205.6 213.5h0M76.6 210.3h0M65.6 199.7h0M137.3 215.9h0M281.4 205.3h0M121.6 200.3h0M247.2 201.0h0M73.0 196.3h0M197.4 202.4h0M94.8 212.2h0M108.2 234.2h0M186.0 192.8h0M189.2 192.5h0M153.6 215.2h0M143.2 220.2h0M274.4 205.4h0M113.7 199.1h0M228.3 207.1h0M122.2 192.3h0M188.6 192.2h0M172.8 203.9h0M109.1 214.8h0M60.3 209.9h0M162.6 206.5h0M91.0 207.9h0M155.6 210.2h0M165.2 204.5h0M159.2 203.7h0M60.2 215.5h0M154.5 216.0h0M207.3 206.5h0M144.4 222.3h0M81.0 213.0h0M281.2 201.6h0M175.3 198.7h0M176.0 206.3h0M96.5 225.5h0M183.0 195.9h0M207.8 205.9h0M49.9 214.5h0M275.4 207.8h0M235.1 200.1h0M168.7 220.5h0M99.1 213.1h0M243.8 213.4h0M308.6 192.2h0M280.0 214.2h0M230.2 200.4h0M103.2 225.8h0M133.3 202.6h0M215.7 210.6h0M134.6 195.9h0M304.3 191.5h0M309.5 193.0h0M217.5 200.8h0M68.6 200.4h0M241.0 213.7h0M66.6 218.8h0M207.4 205.2h0M185.3 208.2h0M316.2 196.1h0M111.6 194.4h0M235.5 203.2h0M120.7 199.9h0M174.8 194.0h0M107.3 225.3h0M185.1 197.2h0M77.8 226.5h0M201.1 187.6h0M206.8 203.2h0M320.1 200.5h0M136.9 204.2h0M109.0 207.5h0M261.4 196.6h0M322.5 191.2h0M321.6 190.8h0M194.3 200.0h0M170.9 216.6h0M209.8 196.1h0M223.3 214.5h0M90.6 221.1h0M134.0 208.2h0M227.9 195.0h0M53.3 212.9h0M57.9 220.1h0M177.2 201.4h0M162.3 202.9h0M58.9 215.9h0M111.9 211.6h0M310.4 196.8h0M170.2 204.6h0M280.4 201.4h0M158.4 203.8h0M82.8 215.1h0M260.2 201.7h0M190.8 207.5h0M301.9 194.8h0M63.4 215.1h0M234.4 204.2h0M116.6 191.4h0M61.8 211.5h0M172.8 198.4h0M171.6 202.3h0M138.4 211.5h0M135.2 189.9h0M101.0 205.8h0M110.4 200.1h0M244.9 204.1h0M73.2 222.2h0M157.1 202.0h0M219.1 194.5h0M97.1 206.4h0M161.8 218.6h0M283.7 207.6h0M115.2 212.2h0M208.9 201.2h0M288.8 201.6h0M260.2 191.6h0M144.8 208.9h0M225.2 209.1h0M233.0 205.1h0M206.4 207.4h0M102.0 223.2h0M86.6 210.6h0M312.6 187.8h0M214.2 201.2h0M209.7 193.3h0M95.5 225.9h0M262.1 186.0h0M276.3 208.7h0M98.2 205.3h0M100.2 216.2h0M241.1 187.3h0M87.8 210.8h0M262.0 206.3h0M315.0 202.5h0M253.3 191.9h0M189.2 194.6h0M81.2 223.6h0M111.9 199.6h0M315.7 183.4h0M204.8 207.6h0M43.8 215.7h0M124.9 195.1h0M87.0 214.5h0M89.3 221.6h0M104.3 216.3h0M177.6 201.9h0M93.4 220.7h0M46.2 208.0h0M48.7 209.9h0M313.5 190.3h0M214.8 208.2h0M191.5 203.6h0M139.9 219.3h0M315.3 196.5h0M192.0 207.9h0M123.8 200.5h0M288.5 205.9h0M244.5 191.3h0M131.9 192.6h0M54.3 228.6h0M85.6 211.5h0M97.0 211.1h0M100.5 217.7h0M297.2 192.1h0M248.7 206.7h0M310.5 186.2h0M170.3 219.2h0M64.2 208.6h0M250.8 193.9h0M302.2 207.7h0M205.1 202.8h0M303.9 197.0h0M265.5 193.3h0M314.5 195.8h0M145.5 215.4h0M84.9 217.1h0M140.1 201.9h0M129.6 204.1h0M288.3 198.0h0M310.2 194.2h0M227.4 196.2h0M158.6 200.6h0M204.7 195.9h0M168.4 207.7h0M129.3 200.3h0M112.3 208.2h0M72.8 202.0h0M242.8 202.0h0M244.2 217.9h0M88.6 209.8h0M207.8 208.1h0M191.2 208.2h0M244.4 212.2h0M320.2 184.6h0M226.1 209.8h0M53.4 213.3h0M80.1 218.6h0M67.4 198.2h0M301.7 201.9h0M186.9 193.7h0M230.3 193.4h0M53.5 213.9h0M242.3 208.2h0M141.1 218.1h0M195.3 207.7h0M209.0 208.7h0M80.5 212.7h0M311.9 195.2h0M54.5 210.8h0M222.2 191.5h0M226.1 198.3h0M318.6 186.8h0M85.9 214.3h0M110.1 205.4h0M177.5 195.3h0M166.2 205.4h0M144.7 218.6h0M237.4 191.4h0M132.3 194.6h0M205.1 202.9h0M218.8 208.2h0M64.9 202.1h0M209.0 198.9h0M251.9 201.2h0M105.0 214.7h0M278.8 210.2h0M150.3 215.6h0M56.2 210.8h0M321.4 204.5h0M70.9 211.5h0M156.5 210.6h0M184.7 190.1h0M102.3 212.0h0M187.9 204.4h0M153.5 208.0h0M271.7 199.6h0M46.6 229.7h0M80.3 208.6h0M292.9 195.9h0M166.0 204.4h0M53.0 200.1h0M220.0 204.0h0M196.9 197.2h0M265.8 194.8h0M291.9 191.2h0M148.3 219.1h0M162.5 220.0h0M267.6 198.0h0M127.8 197.4h0M160.1 209.9h0M104.4 206.9h0M90.0 215.2h0M277.4 206.0h0M310.5 197.0h0M258.5 188.2h0M51.3 228.6h0M106.5 219.2h0M273.1 205.3h0M46.9 209.4h0M262.0 188.9h0M132.5 192.3h0M69.9 201.7h0M46.3 212.0h0M271.0 195.6h0M86.1 221.7h0M230.4 203.7h0M267.9 199.5h0M128.6 195.4h0M191.2 196.9h0M184.8 189.6h0M98.6 216.1h0M292.9 200.5h0M243.0 207.7h0M239.0 193.1h0M293.7 189.0h0M142.4 214.3h0M124.2 193.4h0M76.4 224.5h0M282.6 206.2h0M175.6 224.1h0M253.3 208.4h0M82.2 222.6h0M272.1 202.8h0M261.3 206.3h0M93.9 217.6h0M164.7 202.0h0M309.0 192.1h0M288.2 198.2h0M297.0 198.7h0M122.1 192.5h0M148.0 211.7h0M244.9 217.9h0M146.9 205.1h0M50.2 203.2h0M92.9 214.4h0M160.8 207.1h0M118.2 196.8h0M134.4 208.7h0M54.2 211.0h0M243.1 208.6h0M102.9 224.0h0M124.8 209.4h0M254.3 196.8h0M222.8 207.2h0M165.4 206.3h0M101.5 220.8h0M111.3 197.2h0M267.5 197.0h0M317.7 193.3h0M41.6 216.8h0M259.4 198.5h0M312.3 190.4h0M89.1 211.2h0M87.0 215.0h0M70.2 193.0h0M124.4 191.7h0M43.1 228.0h0M251.7 210.3h0M78.1 204.8h0M310.9 193.5h0M279.6 202.9h0M252.2 201.7h0M144.3 216.3h0M207.5 212.7h0M67.7 217.7h0M246.5 212.5h0M212.7 202.0h0M121.1 203.8h0M116.9 202.4h0M155.3 202.6h0M109.4 227.9h0M113.1 198.3h0M241.2 209.6h0M192.3 199.8h0M140.5 198.4h0M42.3 204.0h0M269.7 197.3h0M97.7 208.1h0M239.8 199.2h0M232.2 208.5h0M243.8 208.3h0M242.0 205.1h0M277.0 197.0h0M78.1 216.6h0M46.1 220.6h0M254.5 198.5h0M48.4 202.8h0M260.6 207.0h0M203.1 207.1h0M286.5 203.6h0M132.5 192.8h0M307.9 188.9h0M123.0 205.2h0M301.2 199.1h0M201.4 203.6h0M134.9 194.8h0M142.2 214.9h0M256.9 190.7h0M310.0 188.9h0M204.9 193.9h0M245.4 206.2h0M60.1 212.0h0M309.2 201.1h0M312.6 184.0h0M144.7 213.5h0M46.0 205.5h0M251.1 197.4h0M152.5 203.0h0M200.1 187.6h0M314.4 199.2h0M211.4 206.9h0M158.3 218.8h0M41.5 228.3h0M233.9 206.3h0M317.1 196.9h0M88.8 222.7h0M133.3 192.6h0M108.6 228.5h0M262.7 205.6h0M111.3 206.8h0M188.4 198.4h0M246.9 199.9h0M152.2 200.9h0M253.5 196.6h0M104.9 214.3h0M110.3 200.6h0M59.6 217.9h0M227.4 190.5h0M287.9 196.0h0M68.5 209.1h0M96.3 221.7h0M250.3 209.2h0M215.7 211.6h0M83.9 218.8h0M162.6 219.4h0M288.4 199.6h0M133.8 207.0h0M313.4 200.6h0M217.1 195.9h0M102.4 210.1h0M103.1 221.5h0M294.2 198.1h0M56.8 220.6h0M104.1 220.4h0M52.7 216.3h0M127.8 189.2h0M109.5 210.7h0M137.0 202.9h0M64.6 203.0h0M104.1 212.7h0M174.4 222.0h0M305.5 198.1h0M60.9 214.6h0M296.3 194.9h0M105.4 216.5h0M225.0 208.6h0M244.9 204.9h0M259.7 200.9h0M306.3 194.1h0M201.1 203.1h0M90.8 206.6h0M311.1 203.0h0M261.2 192.8h0M250.6 194.5h0M44.7 222.3h0M202.6 193.0h0M135.3 193.3h0M257.2 206.4h0M55.3 213.2h0M46.9 211.6h0M226.9 193.4h0M302.2 208.5h0M123.7 193.9h0M218.5 198.0h0M100.3 209.6h0M298.7 198.1h0M293.2 190.5h0M227.2 202.3h0M139.4 204.9h0M283.0 200.5h0M228.6 193.8h0M264.6 190.9h0M216.3 201.6h0M85.7 210.6h0M246.1 197.9h0M218.8 204.2h0M155.8 208.8h0M50.9 209.9h0M315.8 199.7h0M163.8 212.8h0M151.8 221.1h0M296.6 199.1h0M140.4 216.8h0M280.5 210.1h0M214.7 205.1h0M157.8 200.0h0M58.6 214.6h0M62.7 224.6h0M94.2 215.4h0M54.1 226.6h0M46.6 215.6h0M224.0 209.8h0M302.0 191.8h0M130.8 200.9h0M48.8 219.3h0M309.5 200.4h0M276.2 195.9h0M221.5 209.0h0M306.8 196.3h0M179.0 207.8h0M294.8 195.4h0M81.9 214.1h0M88.4 219.6h0M147.4 214.0h0M162.0 203.2h0M205.5 193.8h0M139.8 207.3h0M56.9 207.6h0M84.0 217.2h0M110.5 208.2h0M172.1 209.1h0M160.4 207.9h0M234.4 195.0h0M218.4 198.3h0M295.0 200.6h0M47.3 214.9h0M64.4 216.4h0M166.5 212.4h0M192.2 190.3h0M112.0 203.3h0M164.4 217.6h0M267.2 197.6h0M183.6 207.5h0M43.6 231.4h0M295.1 201.5h0M76.6 222.0h0M180.5 206.0h0M211.5 208.2h0M116.8 205.5h0M65.0 205.3h0M189.3 208.2h0M299.7 202.6h0M112.3 209.1h0M109.0 219.1h0M304.9 200.0h0M80.9 225.5h0M269.5 194.3h0M138.4 215.1h0M149.1 205.2h0M77.7 207.1h0M322.3 187.3h0M117.3 204.1h0M281.9 207.8h0M121.1 193.1h0M135.1 212.8h0M262.2 209.9h0M195.3 203.3h0M86.4 229.4h0M226.6 199.1h0M154.3 215.0h0M151.6 214.8h0M46.0 216.7h0M56.2 213.4h0M156.8 201.3h0M95.9 228.3h0M205.1 208.5h0M222.0 208.3h0M102.9 215.9h0M281.7 196.3h0M88.0 208.1h0M102.3 228.3h0M267.4 194.6h0M51.5 217.0h0M173.6 203.2h0M108.3 222.7h0M156.1 211.6h0M123.6 205.1h0M144.1 215.4h0M115.5 195.9h0M286.6 188.8h0M210.2 194.3h0M137.9 215.9h0M99.7 209.1h0M98.5 220.7h0M202.3 199.2h0M198.8 189.4h0M155.7 204.7h0M74.8 226.6h0M184.5 191.5h0M256.7 207.8h0M189.6 197.5h0M50.6 220.4h0M210.2 209.0h0M250.0 209.5h0M316.7 193.7h0M279.8 206.1h0M125.5 192.0h0M276.8 202.1h0M56.6 206.1h0M95.8 203.6h0M113.3 196.0h0M300.2 205.8h0M97.8 216.9h0M279.0 205.5h0M180.9 191.6h0M309.0 199.9h0M166.1 211.7h0M262.2 199.9h0M163.2 206.1h0M105.9 206.7h0M321.4 190.5h0M300.2 203.6h0M183.6 203.1h0M65.2 204.6h0M155.1 216.8h0M225.1 202.6h0M114.8 196.6h0M140.5 218.3h0M241.7 199.7h0M41.9 216.3h0M301.8 205.8h0M147.3 222.6h0M188.4 193.6h0M163.7 207.7h0M291.1 195.7h0M203.3 198.0h0M208.3 208.8h0M287.1 200.9h0M96.2 211.5h0M252.9 196.3h0M271.4 205.6h0M265.3 194.0h0M113.6 202.8h0M55.2 223.5h0M104.5 214.9h0M234.3 198.5h0M92.4 214.5h0M93.4 208.0h0M242.2 213.6h0M310.9 205.6h0M75.1 214.9h0M245.7 210.7h0M153.3 216.8h0M90.7 206.3h0M298.9 204.4h0M43.2 213.6h0M281.3 214.6h0M76.1 222.6h0M133.4 198.1h0M91.2 215.0h0M134.9 200.4h0M316.7 193.6h0M104.3 210.4h0M108.9 203.7h0M123.4 192.3h0M189.9 211.1h0M54.5 223.0h0M305.6 198.4h0M158.0 202.5h0M63.4 211.9h0M60.2 204.6h0M140.2 213.5h0M226.5 196.2h0M57.4 219.5h0M108.5 204.5h0M255.9 210.6h0M175.6 194.1h0M122.3 199.2h0M216.3 197.4h0M313.9 203.6h0M147.3 216.6h0M131.6 206.8h0M233.2 207.4h0M91.3 215.4h0M149.0 210.8h0M131.1 186.2h0M288.5 198.7h0M171.8 200.7h0M194.4 199.7h0M73.7 219.7h0M272.5 195.4h0M68.9 198.6h0M287.2 197.0h0M238.8 204.0h0M272.0 197.8h0M242.3 200.2h0M248.4 197.5h0M243.4 210.4h0M241.3 207.7h0M171.2 207.1h0M290.2 199.3h0M301.4 200.0h0M261.6 210.0h0M312.8 186.2h0M57.0 215.4h0M292.4 198.6h0M267.4 199.9h0M284.5 197.8h0M150.1 209.5h0M141.1 204.0h0M248.7 200.6h0M305.4 197.7h0M164.7 212.5h0M239.0 194.2h0M135.4 209.5h0M107.3 226.7h0M316.7 189.8h0M210.5 206.5h0M235.5 197.8h0M42.9 233.6h0M108.8 207.6h0M166.7 226.1h0M69.2 203.4h0M162.5 203.8h0M277.7 203.9h0M119.0 190.6h0M147.1 218.3h0M50.8 208.9h0M99.1 205.7h0M204.7 201.6h0M254.3 205.6h0M291.2 200.3h0M78.6 215.1h0M75.8 223.4h0M231.9 206.9h0M61.0 226.6h0M304.3 199.4h0M279.4 206.2h0M292.0 190.8h0M302.2 196.4h0M114.7 194.7h0M91.3 214.6h0M106.1 205.9h0M195.8 198.7h0M97.3 213.4h0M200.1 203.7h0M67.9 215.1h0M137.0 197.7h0M252.8 195.3h0M48.5 209.9h0M270.0 202.8h0M222.4 194.1h0M175.2 203.4h0M259.0 196.8h0M130.4 190.8h0M222.9 217.7h0M170.0 212.5h0M176.4 209.5h0M267.3 197.8h0M310.9 193.0h0M203.0 197.7h0M173.9 208.9h0M283.2 195.7h0M285.1 195.4h0M219.1 210.1h0M222.0 192.2h0M155.3 213.5h0M123.6 207.1h0M143.1 211.2h0M208.4 202.8h0M225.6 198.8h0M215.0 212.7h0M108.1 218.1h0M182.9 193.6h0M53.2 219.7h0M89.9 220.9h0M189.6 208.8h0M275.8 205.9h0M82.0 219.7h0M84.5 217.8h0M218.6 212.7h0M269.2 203.2h0M184.5 200.5h0M181.9 194.3h0M76.7 206.5h0M181.1 203.0h0M255.6 205.7h0M127.4 196.8h0M250.4 211.3h0M124.3 203.6h0M176.8 203.4h0M166.3 209.0h0M303.6 202.5h0M237.0 206.2h0M197.2 199.9h0M255.7 204.3h0M213.1 204.9h0M129.2 204.4h0M108.2 207.0h0M52.6 224.3h0M97.4 217.5h0M118.8 205.4h0M303.3 196.5h0M282.0 200.8h0M94.6 206.8h0M191.7 193.8h0M314.2 199.2h0M158.1 200.5h0M50.2 219.1h0M164.8 217.1h0M150.5 218.6h0M315.8 192.2h0M206.1 199.0h0M199.6 189.1h0M152.7 218.1h0M317.6 193.3h0M100.9 220.7h0M238.8 190.5h0M190.1 208.5h0M170.2 203.2h0M104.3 217.1h0M312.7 192.2h0M128.5 194.9h0M90.8 211.2h0M145.9 219.5h0M93.9 210.9h0M53.2 207.7h0M133.1 201.9h0M61.5 204.7h0M154.4 213.2h0M227.9 209.3h0M253.6 196.9h0M141.5 206.4h0M167.7 210.2h0M97.0 220.9h0M102.9 211.1h0M103.9 207.3h0M176.0 203.2h0M105.4 207.7h0M129.9 197.7h0M203.7 205.8h0M208.4 202.1h0M259.1 202.2h0M200.6 194.5h0M180.2 197.5h0M219.0 212.6h0M191.0 198.8h0M172.8 215.0h0M62.3 223.8h0M179.7 201.5h0M80.2 209.3h0M43.5 225.8h0M216.1 200.1h0M76.4 221.1h0M296.9 206.6h0M95.0 224.1h0M63.5 218.8h0M97.5 225.8h0M189.5 195.5h0M162.9 211.7h0M281.0 209.1h0M67.8 205.9h0M247.1 204.2h0M98.2 211.8h0M134.9 206.8h0M217.9 210.2h0M261.6 195.7h0M114.3 202.2h0M48.2 207.5h0M103.1 225.3h0M195.8 195.8h0M43.5 221.2h0M148.1 210.9h0M180.0 193.1h0M160.7 216.5h0M178.4 194.3h0M151.0 204.5h0M241.1 216.2h0M261.7 201.3h0M311.7 196.6h0M141.4 218.2h0M205.0 204.2h0M300.7 198.8h0M179.9 199.8h0M114.9 197.5h0M150.8 213.9h0M99.7 216.1h0M292.9 201.0h0M214.3 212.8h0M102.8 223.9h0M279.5 207.1h0M239.5 205.2h0M228.6 189.1h0M167.2 209.1h0M54.6 221.0h0M245.4 212.7h0M144.5 219.0h0M63.4 215.6h0M224.8 208.2h0M266.1 196.7h0M119.8 200.8h0M280.6 204.3h0M256.7 202.7h0M316.6 194.9h0M322.2 197.3h0M169.4 218.3h0M180.2 206.8h0M177.1 197.5h0M227.6 206.1h0M300.8 199.2h0M291.5 197.4h0M65.7 206.6h0M318.0 194.9h0M142.8 206.0h0M208.5 201.0h0M189.3 208.9h0M231.7 200.8h0M110.5 203.5h0M140.7 201.0h0M187.5 198.2h0M320.9 186.4h0M112.9 207.1h0M294.1 191.5h0M169.8 208.0h0M187.6 203.5h0M222.3 211.1h0M173.9 206.1h0M209.2 199.3h0M210.6 202.5h0M213.9 201.8h0M231.0 200.4h0M45.5 225.5h0M42.9 228.7h0M244.6 208.5h0M165.2 213.6h0M126.8 201.8h0M310.4 200.3h0M51.1 216.4h0M152.1 199.4h0M158.7 210.5h0M271.1 193.6h0M43.3 207.8h0M111.9 194.1h0M48.8 207.4h0M42.7 208.0h0M311.4 186.3h0M214.1 209.2h0M95.7 224.6h0M219.7 196.4h0M280.6 207.8h0M225.4 208.2h0M264.2 192.7h0M252.8 203.0h0M64.6 204.0h0M160.7 219.6h0M255.5 203.6h0M228.6 208.8h0M215.0 201.5h0M227.8 193.2h0M175.2 193.5h0M294.0 189.2h0M110.3 208.5h0M302.9 193.1h0M212.8 199.4h0M147.5 219.0h0M158.5 219.8h0M293.4 193.2h0M194.2 200.6h0M140.2 210.5h0M161.2 212.7h0M293.0 190.1h0M173.4 211.5h0M191.4 204.1h0M48.0 217.3h0M172.2 211.2h0M248.3 211.3h0M254.3 192.1h0M217.6 195.2h0M201.0 197.1h0M159.5 216.3h0M59.2 209.3h0M268.5 200.4h0M101.2 225.6h0M270.1 199.4h0M213.8 196.7h0M49.9 211.0h0M210.7 193.9h0M222.1 222.3h0M310.7 204.0h0M199.1 202.7h0M260.8 198.5h0M59.4 216.6h0M307.1 196.5h0M206.3 211.3h0M74.0 217.7h0M142.7 208.3h0M262.3 209.1h0M306.5 191.5h0M218.3 212.9h0M110.3 206.9h0M112.3 196.3h0M174.1 222.7h0M220.3 196.2h0M145.2 210.3h0M316.1 203.6h0M205.9 194.9h0M244.2 209.1h0M191.0 208.9h0M221.5 194.9h0M244.1 215.7h0M206.3 192.5h0M137.3 197.9h0M124.4 194.9h0M134.8 216.7h0M188.4 192.5h0M69.0 198.0h0M70.4 193.3h0M156.9 207.4h0M290.7 194.8h0M261.0 208.9h0M58.6 225.0h0M140.3 205.1h0M89.1 211.3h0M141.8 212.2h0M211.2 203.3h0M223.7 198.4h0M114.8 195.9h0M130.2 199.0h0M290.2 194.1h0M237.4 205.0h0M307.4 198.5h0M85.7 226.7h0M229.0 200.3h0M287.1 194.8h0M118.5 198.1h0M96.0 206.1h0M162.3 205.5h0M261.4 208.4h0M231.0 201.9h0M112.5 197.2h0M70.7 208.8h0M80.7 213.8h0M206.9 213.0h0M221.1 210.2h0M50.2 215.0h0M217.4 196.5h0M145.8 212.8h0M320.0 198.9h0M127.7 210.4h0M253.1 205.5h0M190.0 205.6h0M90.8 211.2h0M266.5 199.6h0M308.8 200.1h0M44.4 216.2h0M241.1 211.1h0M197.2 196.6h0M211.0 207.3h0M284.1 205.8h0M249.1 205.9h0M134.4 193.3h0M245.4 212.9h0M292.4 201.8h0M218.4 214.7h0M270.5 187.6h0M44.5 208.1h0M112.4 195.7h0M192.4 207.1h0M256.7 205.4h0M187.6 204.1h0M144.0 214.9h0M111.6 209.0h0M61.1 205.1h0M83.5 222.2h0M50.6 227.0h0M161.7 207.5h0M250.9 199.0h0M272.0 193.3h0M215.1 205.9h0M105.3 208.6h0M300.5 206.3h0M214.5 201.9h0M237.7 191.9h0M101.7 214.8h0M243.2 192.6h0M275.1 197.2h0M296.4 205.9h0M89.8 203.3h0M131.2 193.9h0M249.4 202.4h0M42.4 231.6h0M130.4 195.8h0M44.5 211.9h0M187.0 197.9h0M320.2 190.6h0M95.2 219.9h0M114.7 205.0h0M91.6 216.2h0M212.8 198.3h0M189.7 203.2h0M205.6 195.7h0M125.1 201.6h0M202.1 194.3h0M156.3 206.0h0M205.7 214.2h0M83.8 214.3h0M73.2 192.8h0M148.7 203.4h0M294.7 196.7h0M282.8 207.2h0M247.9 217.6h0M148.0 211.1h0M89.7 218.8h0M183.0 190.9h0M180.3 195.8h0M206.9 209.5h0M90.6 224.2h0M96.2 216.1h0M73.8 210.3h0M75.0 227.5h0M111.2 197.5h0M57.4 215.7h0M145.6 218.1h0M54.6 227.4h0M159.0 205.5h0M141.2 207.5h0M83.4 222.0h0M313.8 188.7h0M60.8 202.2h0M264.0 196.3h0M306.1 202.7h0M291.5 196.7h0M244.5 205.8h0M69.9 193.8h0M302.5 197.4h0M283.6 195.4h0M68.8 196.9h0M72.6 199.3h0M107.5 220.7h0M189.4 191.8h0M93.5 209.2h0M52.2 216.8h0M220.4 205.7h0M150.3 211.0h0M295.3 201.0h0M81.8 223.2h0M226.2 199.5h0M92.7 209.4h0M65.2 207.9h0M202.4 209.4h0M59.5 222.6h0M127.8 207.8h0M176.6 197.9h0M240.7 224.5h0M95.2 212.8h0M68.1 198.4h0M135.0 213.7h0M221.0 213.9h0M238.1 201.8h0M270.2 194.0h0M288.9 202.9h0M73.8 223.4h0M232.8 195.4h0M136.1 200.8h0M118.2 201.0h0M128.7 187.7h0M83.8 215.2h0M103.9 220.9h0M74.6 216.1h0M113.3 194.1h0M286.8 212.8h0M121.0 198.9h0M97.2 217.3h0M240.4 194.7h0M244.8 215.5h0M192.4 191.4h0M85.9 217.0h0M241.9 193.6h0M141.3 212.1h0M202.3 204.9h0M63.2 207.1h0M213.6 200.3h0M293.2 195.4h0M214.8 213.7h0M261.7 202.2h0M269.5 198.2h0M165.2 206.6h0M179.6 193.4h0M257.6 205.1h0M319.9 197.1h0M157.1 201.9h0M261.0 197.3h0M171.4 214.3h0M309.1 202.0h0M163.2 210.5h0M105.3 204.8h0M115.5 200.9h0M283.8 194.8h0M94.2 218.1h0M187.6 189.5h0M175.3 193.8h0M71.8 219.6h0M240.6 208.3h0M200.6 200.1h0M261.0 206.9h0M228.1 203.0h0M81.1 218.7h0M258.8 200.2h0M271.4 189.6h0M80.7 220.1h0M71.0 204.0h0M146.1 218.4h0M246.4 210.1h0M186.0 201.8h0M194.6 200.6h0M185.1 204.4h0M207.7 209.3h0M153.3 210.6h0M52.1 218.8h0M310.6 191.7h0M178.1 208.8h0M127.7 190.7h0M299.1 206.2h0M275.5 207.2h0M155.6 200.7h0M266.4 191.3h0M95.2 217.9h0M241.2 217.9h0M56.8 204.6h0M237.7 202.1h0M195.6 206.9h0M286.2 191.5h0M299.2 199.2h0M321.3 196.7h0M314.6 200.0h0M176.6 190.9h0M149.5 210.4h0M121.0 193.9h0M189.3 193.5h0M180.1 195.4h0M311.5 191.4h0M262.7 192.0h0M313.5 191.3h0M196.6 195.4h0M182.0 205.4h0M251.8 195.0h0M316.0 204.5h0M100.2 212.8h0M100.8 221.9h0M190.1 195.2h0M53.8 202.2h0M97.0 217.0h0M170.4 204.4h0M144.8 215.0h0M79.1 217.5h0M194.7 190.0h0M269.9 193.9h0M90.5 211.6h0M106.9 218.6h0M113.8 193.8h0M182.5 201.3h0M306.2 187.6h0M274.4 194.3h0M75.9 214.9h0M302.4 195.4h0M226.4 195.7h0M83.1 216.0h0M299.0 198.7h0M62.8 213.7h0M201.6 202.4h0M207.2 211.7h0M62.1 219.0h0M86.1 224.8h0M178.7 205.9h0M131.4 193.1h0M200.7 206.3h0M260.7 203.0h0M185.5 195.1h0M83.0 215.2h0M76.2 222.5h0M110.2 213.5h0M290.3 197.4h0M260.8 196.7h0M290.1 190.1h0M315.2 207.1h0M142.6 213.0h0M130.2 195.2h0M300.2 196.4h0M313.3 186.5h0M74.4 212.8h0M280.4 214.2h0M69.7 215.4h0M294.2 201.5h0M105.2 215.9h0M82.5 224.0h0M187.0 194.6h0M258.1 202.2h0M87.0 212.8h0M240.0 203.5h0M280.9 210.4h0M166.0 219.4h0M145.9 217.2h0M258.9 204.3h0M141.1 209.0h0M260.4 207.6h0M293.4 198.8h0M72.6 205.6h0M62.2 216.1h0M93.4 205.4h0M71.7 216.0h0M126.0 199.2h0M50.7 205.7h0M287.7 197.2h0M71.7 199.2h0M78.1 203.1h0M55.2 218.4h0M92.0 219.4h0M118.0 199.1h0M270.1 198.7h0M119.6 199.7h0M204.7 203.7h0M232.2 206.3h0M42.4 217.3h0M138.2 200.1h0M220.6 213.8h0M169.0 214.2h0M283.8 207.3h0M137.3 199.4h0M307.7 202.3h0M296.1 193.9h0M54.7 224.3h0M53.0 216.2h0M91.3 204.5h0M270.4 194.6h0M130.7 206.0h0M161.8 204.2h0M91.3 213.5h0M67.1 193.3h0M144.0 206.0h0M278.1 204.4h0M316.4 191.8h0M197.8 202.6h0M113.0 207.9h0M279.8 205.1h0M82.2 223.3h0M178.2 208.8h0M239.2 206.1h0M236.9 208.0h0M284.2 209.2h0M52.4 205.0h0M260.8 207.7h0M87.5 209.1h0M213.5 201.7h0M60.7 207.6h0M247.0 209.1h0M262.0 199.3h0M81.7 219.1h0M264.4 189.7h0M285.5 203.7h0M310.9 200.6h0M67.5 221.8h0M99.1 217.3h0M315.3 188.5h0M54.2 225.5h0M102.3 215.1h0M159.6 219.6h0M147.0 212.2h0M304.8 191.3h0M200.5 189.7h0" stroke="#420840" stroke-width="3.2" stroke-linecap="round" fill="none" stroke-opacity="0.6"/>
<path d="M64.3 193.8h0M65.1 200.9h0M86.5 209.9h0M255.3 208.6h0M207.9 207.3h0M182.5 201.6h0M144.4 206.7h0M60.7 201.1h0M187.9 191.8h0M226.8 204.9h0M65.7 211.9h0M202.2 201.9h0M156.2 207.5h0M293.5 203.1h0M97.5 214.1h0M254.2 198.7h0M172.8 211.1h0M87.7 213.5h0M130.6 190.5h0M226.2 190.8h0M51.8 207.5h0M322.2 186.5h0M217.4 197.0h0M77.9 214.2h0M132.9 201.3h0M160.9 204.6h0M318.8 185.8h0M196.8 198.8h0M73.3 219.5h0M278.4 206.5h0M288.7 205.9h0M265.7 203.5h0M280.1 212.6h0M288.3 194.0h0M217.0 194.3h0M261.3 204.7h0M267.8 199.3h0M45.4 212.1h0M119.8 191.5h0M200.6 188.9h0M108.4 226.6h0M191.7 205.0h0M301.9 205.7h0M76.6 206.4h0M105.3 214.0h0M214.5 204.1h0M103.9 230.5h0M250.4 196.8h0M242.1 208.9h0M84.5 221.6h0M173.7 208.6h0M154.4 209.8h0M88.8 209.2h0M102.0 207.4h0M301.6 210.2h0M211.7 203.0h0M166.5 204.6h0M57.9 224.5h0M84.1 226.2h0M189.5 202.1h0M245.7 192.7h0M197.1 198.9h0M215.6 206.0h0M302.9 194.7h0M94.2 216.0h0M157.4 208.9h0M278.9 209.6h0M200.1 187.6h0M172.6 201.3h0M160.1 209.8h0M59.2 212.9h0M64.3 228.0h0M86.9 214.0h0M65.7 213.3h0M149.3 205.4h0M95.3 205.7h0M181.1 193.7h0M162.2 219.9h0M212.9 205.8h0M44.2 224.8h0M214.9 203.4h0M311.7 193.5h0M94.9 211.3h0M141.6 197.9h0M206.8 199.0h0M46.1 226.8h0M258.7 194.5h0M237.4 194.2h0M156.1 214.9h0M99.7 218.8h0M230.3 193.9h0M213.7 197.3h0M314.7 197.6h0M228.6 194.3h0M151.7 203.1h0M208.9 203.9h0M87.4 217.9h0M234.7 209.0h0M321.6 184.2h0M188.1 202.7h0M263.1 202.3h0M116.8 198.5h0M157.3 205.3h0M270.4 197.1h0M172.5 209.2h0M171.1 201.4h0M85.2 219.8h0M88.2 211.6h0M239.5 205.6h0M172.9 199.1h0M82.0 224.0h0M111.2 207.7h0M42.2 203.5h0M206.5 203.3h0M290.1 199.2h0M128.4 199.3h0M140.1 208.0h0M287.3 197.1h0M313.1 187.9h0M143.7 220.5h0M320.1 203.8h0M276.7 199.7h0M181.1 210.1h0M84.7 213.2h0M261.3 189.3h0M131.7 208.2h0M144.9 210.5h0M109.8 210.7h0M94.6 214.0h0M312.3 185.9h0M318.9 199.4h0M89.2 221.4h0M64.8 204.4h0M117.6 197.1h0M209.0 210.6h0M283.6 207.6h0M68.3 194.4h0M85.3 229.1h0M206.1 191.9h0M199.2 191.2h0M57.6 214.0h0M103.8 208.4h0M175.7 196.3h0M277.0 198.1h0M76.7 231.2h0M259.9 199.0h0M51.8 214.6h0M190.9 198.7h0M64.6 194.4h0M46.4 218.6h0M96.6 223.5h0M191.3 208.7h0M76.5 206.1h0M116.2 196.4h0M231.6 196.7h0M75.5 219.1h0M224.7 194.7h0M293.3 201.2h0M212.0 209.9h0M52.7 208.0h0M308.2 200.4h0M285.1 201.3h0M60.4 204.3h0M130.7 205.5h0M273.9 202.4h0M128.0 199.4h0M184.8 206.6h0M108.4 210.4h0M136.6 200.1h0M46.4 224.8h0M255.8 210.9h0M319.7 189.7h0M200.8 205.5h0M294.3 200.3h0M69.2 201.3h0M285.4 199.4h0M291.9 196.0h0M294.0 192.5h0M304.2 207.4h0M244.0 217.2h0M174.4 209.1h0M135.5 198.6h0M112.3 209.3h0M148.6 219.8h0M165.8 223.7h0M293.1 191.7h0M199.8 198.9h0M103.8 226.7h0M85.6 209.4h0M103.4 205.3h0M197.7 203.9h0M62.5 201.8h0M106.5 218.6h0M205.6 207.3h0M104.1 204.4h0M64.4 224.7h0M77.8 213.0h0M129.5 195.9h0M111.4 197.5h0M288.3 203.5h0M260.8 197.1h0M45.1 223.7h0M282.1 218.6h0M173.4 213.7h0M189.9 199.5h0M73.0 195.2h0M259.0 197.7h0M273.1 198.1h0M189.2 201.0h0M80.7 216.7h0M47.2 209.8h0M267.9 196.5h0M260.0 201.3h0M217.5 206.1h0M220.9 214.8h0M245.7 194.4h0M73.2 224.3h0M267.5 186.7h0M161.0 212.2h0M118.1 198.8h0M179.6 208.4h0M124.8 192.7h0M41.7 221.0h0M173.4 203.8h0M182.0 195.3h0M294.9 202.7h0M272.4 202.6h0M138.8 206.5h0M158.3 210.8h0M110.8 212.4h0M221.9 190.6h0M43.1 211.9h0M140.9 196.3h0M241.4 197.5h0M165.3 216.0h0M133.5 208.3h0M234.5 205.4h0M141.7 206.4h0M136.6 206.2h0M194.5 195.0h0M137.0 210.5h0M96.9 221.1h0M298.6 197.4h0M88.5 209.5h0M65.3 209.0h0M301.2 206.7h0M95.4 219.7h0M82.2 224.0h0M315.0 185.9h0M226.0 196.0h0M314.8 187.0h0M174.6 195.7h0M313.9 201.0h0M81.0 209.8h0M176.6 194.4h0M224.4 212.8h0M300.4 210.3h0M127.8 186.6h0M240.8 200.9h0M320.9 183.1h0M174.1 194.3h0M179.8 203.3h0M87.8 212.4h0M160.7 209.5h0M165.8 211.6h0M161.4 219.0h0M197.6 199.9h0M94.2 212.2h0M266.9 195.5h0M128.4 189.6h0M74.1 207.0h0M147.0 213.9h0M246.3 204.3h0M268.6 197.2h0M294.3 190.3h0M302.7 208.4h0M269.1 189.3h0M302.5 197.0h0M186.1 207.6h0M206.5 208.1h0M283.3 206.7h0M103.1 224.3h0M222.0 192.4h0M281.2 213.9h0M192.4 206.3h0M108.1 222.6h0M262.8 198.9h0M320.5 193.2h0M73.5 194.0h0M193.8 202.9h0M147.7 211.7h0M142.0 219.6h0M280.1 214.8h0M268.2 191.0h0M203.4 203.8h0M89.4 218.1h0M74.2 194.4h0M218.4 207.1h0M234.9 205.0h0M311.6 202.4h0M258.6 191.2h0M194.3 193.4h0M189.8 207.0h0M234.6 196.3h0M218.4 201.4h0M244.4 200.2h0M264.8 195.3h0M132.8 206.6h0M295.0 199.0h0M76.6 230.7h0M156.9 216.2h0M318.7 186.5h0M264.0 199.7h0M149.8 211.0h0M95.4 225.9h0M217.4 206.1h0M88.7 214.8h0M233.6 200.0h0M179.1 199.2h0M268.8 194.2h0M220.2 214.3h0M152.3 216.3h0M64.1 228.9h0M308.4 202.7h0M310.0 199.0h0M306.4 209.9h0M187.0 194.3h0M253.0 197.6h0M109.7 228.0h0M108.9 219.6h0M295.6 204.9h0M181.1 197.6h0M77.5 223.6h0M212.8 206.4h0M161.9 206.8h0M287.7 205.2h0M69.7 209.4h0M209.5 207.9h0M180.9 190.7h0M101.4 226.8h0M119.1 197.3h0M201.3 207.2h0M243.5 202.2h0M136.0 208.8h0M109.1 227.3h0M77.2 230.3h0M123.3 194.3h0M102.0 223.7h0M107.7 231.0h0M67.3 214.2h0M273.9 205.4h0M279.4 203.1h0M60.1 202.9h0M306.4 206.4h0M302.9 206.7h0M51.9 219.2h0M183.5 202.0h0M256.5 198.1h0M206.2 196.5h0M220.7 212.6h0M258.5 202.6h0M149.2 210.0h0M241.1 189.5h0M289.1 196.8h0M250.3 203.0h0M185.5 204.4h0M179.7 191.7h0M140.5 197.6h0M68.9 198.4h0M214.1 202.1h0M213.5 211.5h0M232.6 196.7h0M273.5 198.6h0M84.5 226.0h0M189.8 210.4h0M48.7 217.5h0M57.7 206.4h0M285.6 189.4h0M260.4 205.0h0M235.5 194.6h0M102.4 211.5h0M255.0 213.8h0M149.6 211.3h0M182.0 201.7h0M171.1 203.3h0M279.3 214.7h0M117.0 205.9h0M119.0 192.5h0M259.4 194.8h0M289.8 198.9h0M191.2 201.7h0M250.4 208.8h0M67.3 204.3h0M139.4 213.1h0M124.4 203.1h0M66.9 214.5h0M170.8 215.1h0M80.5 212.0h0M256.6 207.3h0M226.9 203.5h0M60.9 208.6h0M250.5 212.9h0M204.0 202.9h0M116.8 193.1h0M131.0 190.4h0M49.5 211.5h0M221.4 216.1h0M233.3 196.6h0M216.7 198.2h0M80.2 213.1h0M142.0 216.0h0M263.3 198.5h0M79.4 215.3h0M254.8 196.7h0M129.2 191.2h0M251.2 211.1h0M133.2 199.0h0M175.2 193.4h0M113.6 201.7h0M248.3 207.0h0M151.7 213.0h0M100.6 208.3h0M320.6 191.6h0M72.8 209.5h0M316.2 180.5h0M272.8 193.5h0M56.0 211.2h0M88.9 211.9h0M217.2 214.7h0M45.3 218.0h0M199.1 202.4h0M307.9 187.6h0M194.6 198.8h0M98.9 220.7h0M159.5 217.8h0M213.3 198.7h0M72.6 200.4h0M80.1 220.8h0M183.2 193.2h0M271.1 193.5h0M297.2 198.4h0M198.1 200.2h0M200.4 191.0h0M61.6 222.0h0M152.0 221.1h0M135.7 204.0h0M59.6 205.7h0M246.6 198.8h0M245.0 212.3h0M224.4 199.3h0M222.1 201.4h0M258.7 196.7h0M283.0 200.9h0M149.4 209.1h0M286.6 194.4h0M285.2 200.2h0M221.8 213.3h0M103.6 218.0h0M292.8 202.1h0M102.8 218.5h0M88.6 220.2h0M53.6 221.3h0M128.8 203.5h0M241.9 203.0h0M252.1 204.1h0M247.4 214.3h0M269.0 195.9h0M197.5 203.1h0M201.6 199.3h0M100.6 224.6h0M289.2 194.7h0M125.6 200.0h0M252.7 206.5h0M252.7 207.0h0M120.6 201.2h0M87.0 219.6h0M196.2 197.4h0M316.2 191.8h0M83.8 216.5h0M59.5 224.5h0M250.9 194.6h0M96.1 205.6h0M228.7 204.6h0M296.7 205.2h0M52.8 220.1h0M98.6 207.4h0M140.8 203.1h0M244.3 218.0h0M207.3 194.4h0M312.3 193.5h0M152.9 212.4h0M213.5 200.0h0M264.3 198.2h0M253.4 204.5h0M104.7 223.0h0M177.9 195.9h0M93.6 215.6h0M274.2 192.4h0M144.2 211.2h0M224.2 203.1h0M184.3 203.6h0M51.3 227.4h0M58.2 218.8h0M226.5 193.6h0M48.3 193.3h0M138.6 204.4h0M187.0 195.1h0M262.1 192.8h0M257.4 198.2h0M77.0 206.8h0M67.9 204.2h0M201.4 209.7h0M108.1 215.0h0M197.5 193.1h0M292.3 191.9h0M52.3 214.2h0M321.2 193.1h0M223.8 205.5h0M55.0 220.5h0M78.9 217.2h0M92.5 205.0h0M59.6 224.0h0M213.3 199.8h0M146.4 215.2h0M246.8 203.0h0M161.8 218.0h0M257.1 197.7h0M95.7 215.1h0M181.1 195.8h0M222.9 204.0h0M78.1 212.7h0M61.4 224.5h0M76.5 216.1h0M82.6 225.4h0M238.7 200.6h0M122.3 198.5h0M143.9 212.8h0M220.6 213.0h0M189.9 208.1h0M217.7 204.8h0M190.7 198.4h0M239.1 208.8h0M314.2 195.5h0M239.2 202.5h0M89.9 210.7h0M210.6 206.3h0M299.2 202.2h0M286.1 191.5h0M294.4 191.7h0M145.2 214.5h0M300.3 192.6h0M311.3 204.4h0M166.9 217.4h0M283.8 194.7h0M203.7 206.6h0M280.1 199.8h0M183.8 197.3h0M311.7 194.6h0M298.5 198.5h0M275.3 211.7h0M165.3 203.7h0M318.7 183.6h0M203.9 204.0h0M124.0 210.0h0M137.9 213.5h0M165.7 201.0h0M146.1 213.6h0M139.7 216.8h0M279.9 204.9h0M170.2 207.2h0M303.2 208.0h0M236.6 192.7h0M294.1 198.6h0M317.7 190.3h0M85.3 218.0h0M147.1 210.4h0M201.4 199.9h0M68.7 196.0h0M71.7 209.9h0M68.5 205.3h0M150.4 216.5h0M115.3 200.3h0M307.2 200.0h0M275.7 197.6h0M172.4 218.9h0M158.1 202.5h0M118.1 199.7h0M198.5 202.2h0M184.0 203.9h0M230.2 193.4h0M292.7 191.9h0M254.2 192.5h0M104.4 210.0h0M51.2 206.1h0M246.7 212.4h0M166.9 219.7h0M227.0 203.4h0M292.7 201.5h0M310.3 189.4h0M305.8 187.1h0M299.7 204.2h0M152.6 201.4h0M270.6 196.1h0M107.9 209.9h0M46.6 208.3h0M246.6 210.7h0M287.6 204.6h0M69.8 205.4h0M177.4 202.3h0M286.0 203.6h0M152.2 217.5h0M222.5 200.9h0M270.9 196.8h0M197.5 203.1h0M274.0 197.7h0M108.0 208.6h0M191.8 200.2h0M155.2 213.8h0M91.9 219.3h0M228.9 205.2h0M196.2 197.8h0M281.5 215.8h0M243.5 203.7h0M256.4 200.7h0M294.7 195.7h0M180.1 207.3h0M295.5 193.0h0M155.9 212.4h0M300.1 205.9h0M152.5 216.0h0M95.7 224.0h0M200.2 206.5h0M112.1 199.4h0M136.4 201.9h0M168.5 212.4h0M69.9 205.6h0M66.5 202.2h0M172.8 204.4h0M277.9 201.7h0M170.9 205.4h0M320.8 184.9h0M209.4 198.1h0M93.7 205.4h0M82.5 217.1h0M167.4 204.1h0M77.2 204.5h0M239.0 199.5h0M129.1 190.2h0M86.9 225.3h0M304.3 194.2h0M270.0 204.7h0M280.8 205.7h0M85.8 215.9h0M126.7 200.3h0M268.9 193.9h0M184.8 191.0h0M276.2 208.6h0M306.6 208.0h0M313.5 195.5h0M160.9 204.1h0M148.4 215.9h0M87.6 210.5h0M177.2 206.7h0M90.2 207.7h0M148.8 201.6h0M242.3 194.2h0M311.9 203.8h0M313.9 200.1h0M291.9 195.8h0M178.5 196.3h0M80.5 222.0h0M148.9 216.6h0M52.9 202.0h0M73.4 223.6h0M232.8 198.1h0M219.9 206.9h0M61.1 211.0h0M143.5 208.5h0M158.0 204.5h0M139.6 210.6h0M314.1 196.2h0M63.9 211.1h0M188.0 203.1h0M209.1 199.0h0M103.6 222.9h0M261.1 195.3h0M143.9 208.3h0M102.3 210.5h0M184.5 201.6h0M100.4 206.4h0M97.7 213.7h0M192.7 201.1h0M299.8 198.6h0M229.7 201.4h0M151.1 207.6h0M247.0 213.9h0M307.8 198.8h0M296.5 201.3h0M158.9 214.9h0M99.5 221.4h0M265.2 188.6h0M237.5 200.2h0M81.6 223.4h0M131.3 191.7h0M296.9 195.2h0M289.7 201.3h0M213.2 206.1h0M66.4 222.8h0M127.4 201.9h0M194.8 206.4h0M109.8 229.9h0M167.8 209.0h0M57.3 216.4h0M316.9 184.7h0M153.3 205.5h0M48.3 214.8h0M269.7 203.9h0M125.7 197.7h0M107.4 229.9h0M140.9 215.3h0M89.8 207.9h0M292.0 197.3h0M319.9 190.7h0M187.4 197.6h0M82.0 217.0h0M277.7 207.0h0M253.1 196.2h0M159.0 212.7h0M109.9 203.1h0M52.6 215.6h0M203.9 205.7h0M177.4 209.0h0M162.7 214.7h0M104.3 221.6h0M246.6 200.4h0M217.1 212.3h0M162.3 208.1h0M248.0 206.6h0M275.9 200.5h0M261.6 205.1h0M167.8 209.0h0M163.5 214.5h0M138.6 208.1h0M283.6 208.0h0M320.1 198.4h0M98.4 219.0h0M148.2 218.0h0M101.5 233.2h0M122.0 206.3h0M230.6 205.0h0M145.2 208.7h0M192.5 199.5h0M301.2 206.5h0M76.0 220.9h0M134.2 203.2h0M44.2 222.1h0M45.7 208.4h0M293.3 193.4h0M169.6 218.6h0M303.2 193.7h0M140.3 210.5h0M121.7 197.9h0M141.3 220.3h0M176.0 196.1h0M270.8 198.4h0M287.0 202.9h0M305.8 201.6h0M184.0 199.8h0M229.8 201.5h0M214.8 202.7h0M305.2 199.9h0M171.0 199.9h0M248.4 214.2h0M259.5 205.4h0M232.1 194.5h0M155.2 215.7h0M166.1 223.5h0M217.6 199.6h0M276.2 203.4h0M140.0 218.7h0M178.9 203.5h0M217.8 194.7h0M279.1 203.2h0M239.0 205.4h0M242.5 199.3h0M245.0 204.9h0M131.3 195.2h0M271.3 198.7h0M76.8 204.1h0M217.3 194.0h0M92.7 218.3h0M58.4 212.4h0M126.3 197.2h0M247.5 202.1h0M320.6 200.9h0M48.1 204.8h0M247.5 198.1h0M280.1 209.1h0M83.8 215.6h0M219.7 213.3h0M214.7 205.4h0M180.7 204.7h0M134.3 202.7h0M106.6 221.0h0M104.0 217.5h0M55.4 220.5h0M197.0 203.1h0M296.3 193.6h0M109.9 204.4h0M295.8 201.6h0M177.2 196.8h0M201.4 206.1h0M220.0 194.7h0M128.9 190.2h0M222.6 217.1h0M234.8 201.0h0M247.7 217.6h0M54.1 205.3h0M104.5 229.9h0M57.7 212.5h0M108.3 227.5h0M229.7 197.3h0M285.9 200.1h0M53.6 209.8h0M299.0 200.8h0M198.1 198.6h0M108.7 203.2h0M196.2 201.4h0M123.0 198.6h0M112.3 212.5h0M172.1 201.5h0M303.3 204.6h0M57.3 217.0h0M45.4 215.8h0M179.2 204.5h0M205.5 205.7h0M244.8 208.5h0M123.3 199.4h0M127.1 206.5h0M193.5 199.7h0M99.7 221.0h0M102.5 217.4h0M222.3 214.6h0M89.9 214.8h0M81.4 222.8h0M102.4 219.4h0M222.2 206.1h0M148.9 202.8h0M197.6 196.5h0M230.8 204.8h0M315.1 206.5h0M260.9 189.2h0M174.8 200.3h0M155.7 204.3h0M308.7 185.6h0M104.7 219.4h0M86.2 212.3h0M148.6 203.4h0M273.4 207.9h0M167.7 218.0h0M202.8 199.2h0M298.6 193.2h0M253.6 201.0h0M185.5 202.9h0M224.6 206.4h0M77.7 215.0h0M272.7 199.9h0M153.0 202.3h0M110.0 227.1h0M125.6 194.3h0M285.5 195.3h0M76.4 227.4h0M295.6 193.4h0M82.0 216.4h0M118.6 191.8h0M249.8 201.2h0M45.2 215.3h0M77.4 207.3h0M99.0 208.8h0M168.0 207.7h0M160.1 213.7h0M263.1 197.3h0M240.4 213.0h0M190.9 210.7h0M319.0 186.5h0M292.0 195.8h0M166.7 207.5h0M156.7 213.1h0M206.0 210.2h0M159.3 218.3h0M178.0 203.8h0M222.1 210.0h0M261.3 190.6h0M100.5 214.4h0M165.6 201.7h0M253.7 192.5h0M277.0 196.0h0M73.3 222.9h0M298.3 197.5h0M222.6 206.7h0M300.4 207.6h0M216.5 207.6h0M317.2 200.1h0M255.3 190.5h0M239.0 201.0h0M65.9 202.8h0M162.7 207.6h0M305.8 189.0h0M306.9 205.8h0M285.0 197.3h0M198.9 201.5h0M240.9 212.8h0M191.5 208.5h0M291.5 204.2h0M169.2 211.7h0M54.7 209.6h0M179.9 209.2h0M118.5 192.4h0M303.8 206.8h0M264.5 188.3h0M254.3 204.0h0M202.2 194.5h0M237.0 195.7h0M104.0 214.2h0M285.6 197.0h0M61.3 217.8h0M148.5 202.4h0M269.1 200.4h0M182.9 204.7h0M253.5 193.4h0M312.0 189.1h0M216.8 194.2h0M201.3 192.2h0M305.7 186.2h0M318.3 193.0h0M51.1 198.7h0M317.4 196.5h0M152.9 217.7h0M192.8 192.6h0M67.0 217.9h0M105.9 218.2h0M320.2 193.8h0M50.7 219.2h0M195.0 208.0h0M97.6 209.1h0M70.5 202.2h0M201.2 203.6h0M286.9 204.4h0M229.9 194.6h0M72.3 214.1h0M276.4 208.3h0M230.7 193.1h0M172.7 202.5h0M228.6 193.7h0M283.6 209.8h0M136.1 199.9h0M240.1 195.6h0M156.6 202.1h0M256.2 208.8h0M104.1 229.5h0M144.8 216.6h0M116.5 208.0h0M195.6 196.4h0M304.6 201.4h0M45.2 221.3h0M311.0 196.0h0M45.6 215.4h0M140.6 205.6h0M239.2 210.3h0M74.2 210.1h0M203.1 194.0h0M97.0 216.4h0M251.7 205.8h0M133.6 207.2h0M96.2 222.3h0M92.8 212.9h0M123.0 191.9h0M279.9 209.0h0M273.3 205.4h0M151.4 216.8h0M100.8 227.7h0M129.8 192.3h0M258.1 192.6h0M227.5 208.7h0M300.7 209.9h0M135.2 199.0h0M304.0 192.9h0M298.5 206.3h0M81.4 229.1h0M317.3 188.0h0M301.9 197.6h0M248.6 203.5h0M139.6 216.3h0M197.1 190.3h0M68.8 204.6h0M176.1 206.4h0M227.0 191.5h0M102.0 230.4h0M171.3 217.2h0M104.8 204.9h0M217.2 193.9h0M197.8 197.9h0M68.8 194.2h0M196.7 205.5h0M120.0 195.4h0M316.0 203.4h0M54.5 214.6h0M226.0 196.1h0M172.3 209.8h0M109.5 217.8h0M198.4 190.5h0M145.1 212.1h0M279.5 204.3h0M305.5 189.2h0M86.0 223.5h0M190.3 195.5h0M133.7 201.7h0M283.0 203.7h0M282.8 209.3h0M203.8 201.0h0M230.0 192.6h0M96.8 228.3h0M177.2 201.9h0M46.3 200.3h0M158.4 202.4h0M128.7 189.4h0M254.3 200.3h0M311.1 204.4h0M293.6 201.0h0M128.8 208.7h0M246.3 202.7h0M138.1 212.5h0M237.9 208.3h0M158.0 213.7h0M42.7 219.7h0M206.7 203.2h0M125.6 204.6h0M53.9 211.2h0M319.1 183.2h0M225.8 204.9h0M172.0 211.3h0M136.2 206.3h0M224.2 205.8h0M251.7 195.7h0M263.5 198.7h0M237.8 204.9h0M226.3 200.6h0M159.2 208.3h0M239.4 201.9h0M82.3 225.2h0M62.9 218.6h0M86.3 211.5h0M248.2 217.0h0M65.4 204.0h0M275.2 197.3h0M183.7 197.2h0M68.5 212.1h0M106.4 212.7h0M224.1 201.6h0M54.8 208.0h0M315.4 194.5h0M307.0 201.8h0M51.9 209.5h0M121.1 194.8h0M78.9 214.7h0M78.0 222.1h0M242.2 196.0h0M204.3 193.0h0M143.5 209.4h0M254.3 200.6h0M291.2 197.6h0M64.9 207.0h0M68.2 198.6h0M248.4 195.2h0M269.9 201.6h0M66.3 196.8h0M272.6 202.0h0M316.9 200.0h0M115.9 197.7h0M102.4 232.6h0M59.4 209.8h0M71.6 211.5h0M123.4 195.1h0M90.3 219.7h0M113.0 196.3h0M175.1 223.9h0M249.5 194.6h0M240.1 204.8h0M151.1 211.2h0M175.0 196.1h0M262.8 199.7h0M269.8 199.7h0M217.1 201.1h0M181.6 191.6h0M163.9 218.3h0M45.0 207.4h0M53.4 203.2h0M243.6 200.5h0M275.3 207.3h0M112.9 198.2h0M121.2 202.0h0M118.5 193.1h0M153.7 200.1h0M185.0 204.7h0M195.4 210.8h0M116.2 189.3h0M285.5 200.0h0M167.1 205.9h0M136.0 211.0h0M173.7 210.6h0M96.4 228.1h0M185.0 192.1h0M160.0 211.4h0M153.2 200.2h0M66.4 212.1h0M70.4 214.3h0M243.7 193.8h0M291.2 198.9h0M304.6 207.9h0M84.9 216.6h0M313.5 204.8h0M285.4 187.9h0M134.7 197.5h0M318.9 195.5h0M270.9 203.4h0M128.1 194.9h0M105.1 207.7h0M133.9 194.1h0M193.2 198.2h0M63.4 217.4h0M128.8 185.3h0M217.8 201.8h0M181.5 199.7h0M292.4 187.1h0M99.7 217.3h0M315.5 184.6h0M237.2 200.7h0M212.3 205.8h0M204.3 197.1h0M226.1 191.0h0M214.1 208.3h0M245.9 197.3h0M244.7 200.8h0M79.0 223.6h0M83.2 216.6h0M142.1 219.0h0M186.3 200.3h0M106.5 216.2h0M237.4 199.1h0M203.2 208.9h0M216.6 200.8h0M244.2 211.4h0M166.7 202.4h0M183.6 197.5h0M200.3 192.9h0M53.6 213.6h0M62.6 205.2h0M134.2 207.7h0M190.8 205.7h0M255.5 196.5h0M144.3 214.8h0M217.7 196.6h0M110.9 211.9h0M121.4 198.8h0M141.6 213.0h0M107.3 214.8h0M298.4 196.4h0M60.3 225.5h0M164.4 214.1h0M207.1 196.9h0M75.1 221.8h0M53.4 215.2h0M310.2 183.8h0M96.5 202.2h0M185.3 190.4h0M199.2 198.2h0M51.2 198.5h0M164.8 202.9h0M304.4 199.3h0M253.8 200.5h0M287.4 188.0h0M233.5 196.9h0M191.4 201.2h0M42.4 221.0h0M205.5 192.3h0M259.2 201.2h0M313.7 202.4h0M268.4 202.0h0M292.9 189.7h0M202.8 204.7h0M274.2 193.4h0M239.7 208.2h0M48.0 214.5h0M267.3 200.8h0M149.9 200.6h0M61.0 204.2h0M85.2 214.5h0M46.1 226.6h0M299.4 192.8h0M227.3 190.9h0M232.0 200.3h0M43.6 217.3h0M301.3 199.2h0M231.0 197.8h0M264.2 197.6h0M223.6 209.3h0M79.0 224.3h0M125.9 198.1h0M248.0 204.7h0M310.1 201.5h0M215.9 210.1h0M180.1 205.9h0M104.4 211.4h0M192.1 192.4h0M253.6 198.1h0M191.5 202.7h0M254.6 196.7h0M198.6 191.8h0M306.0 198.8h0M256.4 199.3h0M189.0 205.6h0M66.1 192.6h0M299.5 202.3h0M300.5 195.2h0M228.0 192.3h0M120.1 198.8h0M146.6 209.7h0M184.0 202.2h0M320.9 184.1h0M220.1 192.8h0M57.8 209.7h0M138.5 199.1h0M260.0 206.6h0M99.4 214.6h0M159.8 204.2h0M316.7 197.1h0M264.5 201.8h0M311.2 194.0h0M208.8 210.5h0M236.2 203.9h0M181.8 192.4h0M64.9 215.4h0M75.3 223.8h0M250.6 194.0h0M76.5 226.4h0M191.3 194.2h0M123.4 205.8h0M128.4 191.5h0M288.2 208.8h0M195.0 191.7h0M171.1 206.4h0M256.0 206.6h0M80.3 213.9h0M199.9 195.9h0M247.1 210.0h0M299.6 207.5h0M321.0 199.4h0M256.6 191.9h0M210.1 204.1h0M105.1 209.7h0M235.9 197.6h0M151.2 206.0h0M274.7 206.5h0M104.3 227.1h0M241.6 209.2h0M222.5 199.1h0M172.9 220.7h0M125.3 208.5h0M255.6 204.0h0M321.9 196.7h0M74.8 226.6h0M187.4 201.3h0M313.9 197.8h0M75.3 208.4h0M83.4 225.0h0M66.6 218.1h0M247.6 211.1h0M74.8 220.5h0M85.5 211.4h0M222.0 197.7h0M154.2 204.2h0M206.1 209.0h0M247.0 209.0h0M104.9 227.6h0M138.6 207.0h0M143.8 213.6h0M77.6 215.9h0M96.2 220.4h0M171.9 210.0h0M202.8 196.5h0M280.9 214.5h0M56.1 213.2h0M140.1 213.1h0M282.5 210.6h0M156.6 210.9h0M238.9 206.6h0M219.5 211.7h0M149.3 204.9h0M168.1 209.4h0M145.9 221.7h0M248.0 204.3h0M88.2 223.1h0M140.1 212.0h0M176.4 222.3h0M245.9 191.6h0M94.5 211.3h0M242.9 200.2h0M306.0 203.5h0M132.3 190.2h0M119.7 190.9h0M122.0 196.3h0M234.2 202.5h0M249.3 201.6h0M241.7 214.5h0M225.0 205.6h0M108.4 228.9h0M240.9 216.4h0M319.4 193.5h0M276.9 203.9h0M223.1 210.5h0M225.9 207.9h0M128.0 208.0h0M121.2 193.6h0M213.9 203.5h0M56.0 212.9h0M303.0 210.5h0M229.7 192.2h0M319.2 198.9h0M70.4 214.8h0M114.7 208.8h0M213.1 201.5h0M211.5 202.2h0M159.8 213.9h0M75.2 224.3h0M126.6 200.0h0M105.5 218.1h0M81.8 214.0h0M244.3 215.9h0M161.9 206.8h0M206.6 197.7h0M166.5 210.6h0M211.0 209.1h0M150.1 206.3h0M170.9 214.6h0M138.0 201.4h0M225.5 205.1h0M235.8 209.6h0M141.6 200.3h0M51.9 224.2h0M246.3 198.6h0M209.7 200.1h0M217.7 207.3h0M305.0 197.7h0M51.1 214.7h0M90.1 213.1h0M51.5 209.3h0M266.0 195.1h0M196.0 200.7h0M154.8 201.3h0M262.0 206.6h0M222.6 218.8h0M237.0 194.6h0M155.7 211.9h0M60.5 230.4h0M290.2 198.6h0M219.2 199.8h0M128.4 195.0h0M42.9 204.8h0M146.2 211.2h0M105.8 209.8h0M143.7 218.0h0M46.7 202.6h0M138.1 213.4h0M53.8 216.8h0M180.7 204.7h0M222.4 193.1h0M131.1 188.0h0M132.8 206.4h0M270.5 205.2h0M150.4 209.2h0M246.9 198.3h0M119.8 192.9h0M257.2 201.3h0M230.9 194.2h0M172.4 203.1h0M112.2 199.0h0M282.7 202.0h0M118.0 201.0h0M172.0 207.4h0M90.1 218.7h0M67.8 224.1h0M299.5 194.7h0M118.2 204.8h0M128.0 203.9h0M171.8 223.4h0M248.5 194.8h0M216.5 193.8h0M213.9 198.2h0M256.1 202.1h0M54.2 212.9h0M200.6 195.5h0M112.7 202.4h0M286.9 194.8h0M250.3 213.4h0M96.3 218.6h0M99.2 217.5h0M173.5 202.4h0M214.8 195.6h0M215.7 208.8h0M74.3 213.8h0M181.7 193.6h0M289.1 206.2h0M134.2 203.2h0M321.8 179.4h0M231.7 203.1h0M176.3 197.7h0M102.2 215.3h0M317.0 185.6h0M97.2 211.8h0M309.8 201.8h0M58.2 212.0h0M109.8 217.2h0M200.9 198.2h0M320.6 194.2h0M67.5 215.1h0M238.3 212.1h0M247.9 207.0h0M113.9 207.4h0M101.1 228.5h0M90.5 207.1h0M92.2 204.8h0M51.2 201.1h0M194.8 193.0h0M63.6 229.4h0M284.8 202.4h0M161.4 207.1h0M297.0 195.2h0M222.0 193.5h0M242.7 199.8h0M212.2 201.3h0M46.2 215.7h0M127.8 189.0h0M127.8 191.6h0M177.5 206.4h0M132.8 201.5h0M292.5 190.5h0M185.6 192.9h0M89.4 218.7h0M141.1 206.3h0M69.3 204.8h0M197.8 201.6h0M186.9 194.6h0M247.4 213.8h0M129.9 195.7h0M98.2 217.4h0M316.5 201.1h0M224.9 205.3h0M271.6 202.4h0M228.3 198.1h0M306.2 194.9h0M77.4 227.7h0M279.2 200.9h0M214.4 198.6h0M223.7 202.5h0M85.8 220.3h0M236.8 207.0h0M66.5 191.9h0M207.8 199.1h0M250.7 202.9h0M58.0 213.6h0M56.2 221.5h0M244.2 192.1h0M295.5 204.9h0M236.1 194.3h0M275.7 202.4h0M109.8 228.0h0M267.3 204.0h0M235.8 196.4h0M279.7 204.5h0M319.1 193.8h0M249.4 203.3h0M263.2 192.4h0M252.2 206.2h0M179.2 206.5h0M275.8 197.3h0M123.0 197.4h0M280.2 213.0h0M48.7 204.0h0M267.9 197.1h0M66.3 201.3h0M273.5 200.7h0M45.9 208.9h0M172.1 220.9h0M231.7 205.8h0M100.0 222.9h0M51.4 218.3h0M168.4 221.5h0M248.7 197.6h0M60.9 211.7h0M287.4 193.9h0M94.8 208.2h0M237.3 195.8h0M135.8 197.6h0M290.2 196.8h0M215.9 206.1h0M166.5 226.0h0M209.3 197.1h0M146.5 216.4h0M87.6 212.6h0M130.3 193.0h0M187.5 192.7h0M306.4 193.2h0M270.9 203.5h0M156.5 216.7h0M80.0 217.4h0M311.2 189.9h0M116.3 197.3h0M91.3 217.0h0M49.0 220.4h0M69.4 201.0h0M251.8 206.5h0M217.6 197.5h0M166.0 213.6h0M102.8 207.8h0M113.5 201.3h0M122.5 192.2h0M238.2 192.3h0M148.8 220.2h0M228.9 202.2h0M294.2 190.1h0M210.0 209.6h0M42.1 229.9h0M139.8 208.2h0M64.2 195.4h0M315.6 206.5h0M164.2 215.2h0M169.2 217.9h0M153.7 214.9h0M206.6 192.9h0M287.2 197.2h0M108.5 202.1h0M137.8 198.8h0M115.5 211.0h0M168.5 207.4h0M298.0 198.1h0M172.9 206.8h0M103.4 207.2h0M135.0 190.7h0M212.4 209.0h0M227.8 193.3h0M190.3 193.2h0M235.5 203.8h0M317.4 193.9h0M155.3 216.0h0M212.0 206.4h0M212.3 199.7h0M42.0 225.1h0M319.8 194.7h0M296.5 201.9h0M275.6 193.8h0M167.5 207.7h0M198.2 204.1h0M276.0 197.1h0M141.5 204.5h0M303.6 202.8h0M62.1 217.1h0M211.0 203.0h0M112.5 194.1h0M207.2 193.0h0M302.2 195.5h0M203.0 206.3h0M128.4 188.0h0M148.0 217.7h0M172.0 209.8h0M155.5 217.4h0M80.7 222.7h0M276.3 201.1h0M127.1 204.2h0M111.4 195.5h0M119.8 193.4h0M71.6 206.3h0M261.9 188.5h0M46.9 211.9h0M88.7 206.6h0M119.5 196.9h0M244.5 213.9h0M190.8 203.0h0M63.9 207.6h0M109.0 228.6h0M57.9 207.9h0M187.3 192.5h0M204.0 196.2h0M276.3 207.8h0M61.7 205.9h0M244.6 193.6h0M178.2 196.3h0M224.4 207.4h0M277.5 207.0h0M233.0 216.0h0M122.6 204.7h0M74.0 203.2h0M80.4 217.9h0M61.1 207.2h0M252.8 193.7h0M274.1 201.1h0M281.7 211.4h0M261.2 206.5h0M192.9 202.2h0M98.9 211.2h0M151.8 220.4h0M296.1 195.6h0M180.6 207.0h0M232.1 199.2h0M189.9 194.4h0M125.6 211.2h0M125.7 200.4h0M111.3 199.4h0M115.3 208.2h0M249.7 202.0h0M233.6 195.0h0M216.8 197.4h0M180.8 193.6h0M304.0 194.8h0M72.4 216.9h0M79.4 224.8h0M47.1 199.6h0M111.1 200.0h0M93.5 220.7h0M174.9 222.5h0M99.9 213.9h0M155.3 202.2h0M91.0 205.0h0M236.1 195.6h0M116.8 195.3h0M139.2 214.7h0M261.3 188.4h0M268.0 189.0h0M286.3 200.7h0M76.6 207.0h0M312.9 188.1h0M119.9 201.4h0M219.1 193.9h0M190.4 204.6h0M252.7 207.0h0M156.3 203.2h0M176.8 193.2h0M219.7 200.3h0M72.2 195.4h0M163.2 214.0h0M136.2 209.9h0M65.7 205.0h0M143.2 213.0h0M178.8 203.5h0M204.4 205.0h0M299.3 199.3h0M96.8 208.5h0M66.9 218.6h0M68.2 198.3h0M279.3 210.7h0M171.8 207.7h0M140.2 216.2h0M44.8 215.5h0M58.2 213.5h0M167.7 210.9h0M68.7 217.1h0M205.7 196.4h0M267.7 194.5h0M151.6 207.7h0M188.9 198.9h0M165.6 211.5h0M103.3 222.3h0M95.0 211.2h0M287.9 206.1h0M41.4 213.6h0M104.0 223.9h0M230.5 203.5h0M288.8 194.4h0M72.1 197.5h0M245.0 203.9h0M168.5 203.3h0M209.5 210.4h0M110.0 207.1h0M311.8 189.1h0M123.7 207.6h0M158.7 215.5h0M210.3 198.2h0M65.4 211.6h0M243.3 201.3h0M238.3 194.3h0M292.5 204.4h0M66.9 209.9h0M191.2 208.6h0M224.4 202.0h0M237.7 193.1h0M196.8 191.2h0M240.7 194.1h0M235.1 196.4h0M179.2 200.3h0M299.0 202.7h0M144.6 205.9h0M267.1 198.6h0M139.2 206.9h0M181.6 195.2h0M173.6 213.3h0M320.6 197.7h0M127.6 209.7h0M276.8 201.7h0M177.5 219.0h0M74.0 212.0h0M266.1 196.2h0M189.8 211.1h0M93.0 222.6h0M154.5 210.5h0M110.1 212.9h0M112.6 200.7h0M233.0 194.0h0M155.9 208.5h0M80.2 210.3h0M44.1 222.7h0M274.9 205.4h0M236.7 194.3h0M310.4 197.0h0M174.0 206.2h0M160.5 210.8h0M68.4 207.2h0M250.2 190.9h0M138.7 213.0h0M234.7 206.6h0M162.2 204.5h0M50.9 220.3h0M174.1 196.2h0M302.5 206.1h0M66.4 201.8h0M62.6 216.9h0M236.7 193.8h0M150.7 215.0h0M49.8 217.5h0M178.6 198.8h0M288.1 206.9h0M174.4 210.9h0M93.0 223.4h0M180.3 188.9h0M266.9 185.9h0M197.9 201.0h0M295.1 202.7h0M237.3 193.7h0M111.9 197.3h0M77.3 225.6h0M293.6 190.2h0M316.5 202.0h0M303.6 197.6h0M140.3 198.8h0M55.3 223.8h0M177.5 198.0h0M278.9 200.0h0M314.8 203.6h0M114.9 191.9h0M292.3 198.4h0M248.1 201.3h0M105.8 215.9h0M159.6 219.3h0M145.3 221.5h0M48.5 213.4h0M213.6 199.0h0M96.6 228.1h0M83.0 222.6h0M221.7 220.7h0M100.4 221.2h0M152.3 220.5h0M272.7 195.1h0M213.3 199.7h0M273.3 192.4h0M296.1 201.8h0M161.5 220.4h0M303.3 203.4h0M169.8 205.3h0M308.2 199.2h0M295.2 191.7h0M112.4 205.2h0M281.2 200.1h0M212.0 199.7h0M143.7 206.7h0M304.9 196.3h0M129.1 210.0h0M74.6 199.2h0M92.5 216.0h0M265.9 199.6h0M319.7 194.2h0M43.6 224.6h0M47.1 216.3h0M115.7 206.8h0M311.8 186.9h0M262.2 201.1h0M163.2 205.2h0M98.8 211.4h0M211.9 208.8h0M193.8 194.4h0M75.3 211.5h0M208.7 199.7h0M248.7 203.7h0M293.0 192.6h0M210.3 210.6h0M161.3 216.2h0M286.7 207.9h0M142.7 203.2h0M89.4 220.3h0M92.2 213.3h0M307.2 190.5h0M64.4 203.1h0M71.8 222.1h0M319.4 185.2h0M75.7 229.8h0M290.9 195.1h0M77.0 212.0h0" stroke="#420840" stroke-width="3.2" stroke-linecap="round" fill="none" stroke-opacity="0.6"/>
<path d="M146.2 208.1h0M147.9 206.7h0M60.8 220.2h0M47.7 203.9h0M209.9 197.9h0M207.4 204.6h0M231.0 197.1h0M278.0 205.7h0M98.3 220.3h0M181.1 210.1h0M314.2 185.0h0M170.8 212.8h0M56.6 220.7h0M274.8 198.3h0M92.5 211.8h0M282.9 197.1h0M161.8 218.5h0M293.4 195.0h0M102.0 218.1h0M175.6 201.8h0M238.7 204.0h0M142.2 211.2h0M209.4 200.8h0M285.9 195.7h0M290.0 189.2h0M269.5 194.6h0M128.6 190.1h0M178.1 196.5h0M126.2 200.9h0M320.3 179.8h0M124.7 206.6h0M91.2 221.8h0M47.8 216.9h0M175.2 207.2h0M132.5 196.9h0M148.6 201.2h0M206.0 212.2h0M316.0 194.2h0M45.1 215.1h0M316.4 186.0h0M142.2 210.1h0M164.9 202.3h0M243.0 205.5h0M102.8 207.1h0M293.2 191.8h0M150.9 213.3h0M219.0 207.4h0M149.4 208.9h0M306.7 196.2h0M251.1 199.3h0M265.7 186.7h0M95.6 225.5h0M186.4 200.2h0M297.1 194.9h0M201.4 198.2h0M293.9 199.6h0M225.7 212.8h0M212.9 200.6h0M197.6 194.2h0M45.4 219.5h0M257.5 193.3h0M97.7 218.6h0M54.3 224.7h0M216.9 195.9h0M236.1 203.3h0M106.0 209.4h0M124.0 201.0h0M202.6 209.3h0M221.6 212.3h0M165.7 209.6h0M196.3 189.2h0M304.6 207.3h0M98.0 213.0h0M159.2 206.7h0M107.3 212.0h0M256.6 194.5h0M179.3 201.8h0M229.7 198.2h0M200.1 204.9h0M228.0 189.2h0M318.7 180.8h0M93.1 214.1h0M215.3 207.2h0M168.3 207.4h0M85.0 211.6h0M136.9 215.8h0M168.7 215.8h0M211.9 198.9h0M127.5 190.5h0M240.5 200.4h0M178.4 205.8h0M295.1 198.5h0M246.6 211.4h0M151.9 210.2h0M273.2 197.5h0M210.7 203.4h0M101.5 226.6h0M188.9 201.2h0M228.6 195.5h0M72.3 218.8h0M211.6 210.5h0M169.2 218.4h0M147.1 220.3h0M177.5 193.9h0M205.6 195.1h0M58.5 211.1h0M147.6 220.8h0M73.1 213.9h0M300.9 202.2h0M210.5 205.8h0M131.9 189.3h0M116.9 198.3h0M288.5 188.2h0M265.1 192.4h0M134.5 198.3h0M94.3 216.5h0M179.8 206.2h0M152.1 199.2h0M170.3 210.8h0M156.6 207.2h0M121.8 194.4h0M67.7 197.6h0M316.0 182.9h0M247.8 202.6h0M147.5 212.5h0M111.2 217.0h0M84.6 217.1h0M205.7 194.5h0M290.6 199.7h0M176.0 198.3h0M199.4 196.4h0M108.8 212.5h0M73.6 192.9h0M152.6 199.5h0M175.3 198.5h0M102.0 229.0h0M258.8 201.7h0M293.8 192.7h0M206.2 197.8h0M246.2 210.9h0M108.1 200.6h0M309.6 196.7h0M115.0 203.1h0M180.3 198.1h0M127.8 201.7h0M105.3 229.1h0M288.4 199.4h0M126.7 206.5h0M239.7 194.4h0M55.9 209.1h0M261.5 189.8h0M168.7 204.4h0M222.5 206.9h0M261.4 191.2h0M285.9 195.0h0M58.7 218.3h0M210.9 208.2h0M229.5 202.6h0M96.6 217.2h0M244.3 219.7h0M241.7 198.0h0M188.8 207.9h0M298.3 191.6h0M128.4 198.4h0M168.7 215.1h0M223.9 201.3h0M139.5 213.3h0M229.6 202.1h0M45.5 222.2h0M220.9 202.0h0M290.9 202.8h0M299.5 199.9h0M285.7 188.9h0M53.2 221.2h0M307.2 190.5h0M280.5 214.3h0M219.1 210.2h0M219.8 204.3h0M314.2 199.8h0M301.5 205.3h0M152.2 206.1h0M59.7 214.0h0M172.2 219.9h0M254.6 196.1h0M288.9 204.1h0M43.5 214.6h0M129.6 204.6h0M64.0 195.3h0M201.3 207.8h0M135.0 194.0h0M299.4 196.6h0M238.8 204.2h0M114.1 198.1h0M239.3 206.9h0M105.1 207.6h0M280.7 209.2h0M225.2 208.5h0M279.3 213.5h0M144.7 208.8h0M147.2 215.0h0M82.0 225.1h0M140.4 208.1h0M106.3 217.3h0M104.0 205.1h0M321.5 184.9h0M121.2 193.9h0M60.3 211.0h0M302.8 212.9h0M164.5 212.6h0M93.3 210.8h0M150.7 214.5h0M252.9 198.6h0M159.9 215.4h0M118.9 202.9h0M184.7 194.5h0M209.8 194.1h0M108.3 218.0h0M247.5 204.6h0M153.4 213.8h0M252.5 197.0h0M78.1 225.8h0M175.4 194.3h0M237.0 193.2h0M305.9 202.8h0M81.7 208.5h0M86.7 215.4h0M232.7 196.8h0M243.9 212.3h0M105.6 221.7h0M196.2 197.7h0M165.6 205.9h0M274.8 208.2h0M120.5 201.2h0M163.2 206.8h0M228.4 206.7h0M97.2 220.5h0M306.6 187.7h0M146.7 218.0h0M102.7 208.0h0M143.7 219.7h0M267.9 191.3h0M142.4 204.2h0M211.8 202.9h0M124.4 199.9h0M170.5 215.7h0M44.8 206.5h0M182.3 198.4h0M67.5 195.5h0M190.4 192.5h0M214.9 210.8h0M101.6 212.0h0M140.9 203.0h0M316.3 181.0h0M236.3 201.5h0M115.1 212.2h0M143.9 223.3h0M162.4 206.4h0M152.0 201.6h0M289.7 201.4h0M153.5 200.4h0M171.2 203.1h0M107.6 222.2h0M55.9 210.8h0M111.7 201.9h0M49.9 202.7h0M111.6 213.3h0M251.0 213.4h0M214.0 215.1h0M50.1 220.1h0M179.4 205.1h0M236.2 199.3h0M171.5 226.2h0M179.2 197.0h0M115.6 209.1h0M170.3 216.4h0M321.5 204.8h0M175.5 210.8h0M231.4 196.6h0M252.1 198.9h0M191.1 193.9h0M74.0 209.5h0M67.8 224.0h0M177.3 199.9h0M228.0 196.9h0M42.2 206.1h0M180.4 193.7h0M41.8 229.4h0M223.6 195.4h0M199.6 198.7h0M152.6 205.1h0M161.8 221.2h0M241.6 189.0h0M249.2 204.2h0M215.5 195.7h0M202.8 204.6h0M162.8 211.3h0M196.2 193.9h0M113.7 192.7h0M242.4 194.9h0M320.7 179.6h0M139.8 212.8h0M257.2 200.1h0M190.3 209.6h0M76.2 208.1h0M129.2 204.1h0M205.9 199.5h0M89.4 219.8h0M61.3 211.6h0M54.3 211.2h0M132.0 207.6h0M285.0 190.5h0M42.9 204.1h0M216.5 204.4h0M280.1 209.0h0M319.2 191.8h0M161.0 215.5h0M51.1 205.4h0M118.2 194.7h0M316.0 197.0h0M232.1 198.0h0M283.4 195.0h0M143.6 215.5h0M73.1 223.8h0M144.9 218.3h0M245.0 208.7h0M52.1 225.2h0M236.8 200.9h0M199.1 202.0h0M322.1 189.8h0M137.1 217.6h0M193.1 199.5h0M220.8 207.3h0M176.4 202.7h0M116.6 206.8h0M184.3 199.0h0M258.4 192.6h0M206.4 213.0h0M62.9 203.2h0M233.0 197.2h0M68.5 216.4h0M280.4 214.0h0M285.0 198.3h0M105.3 207.9h0M271.7 211.1h0M134.3 204.2h0M89.4 211.4h0M115.4 201.5h0M271.7 197.8h0M241.3 192.2h0M166.3 212.4h0M66.6 202.9h0M262.2 206.1h0M128.5 196.6h0M151.4 209.8h0M180.6 200.7h0M281.1 210.4h0M182.2 197.4h0M311.5 193.1h0M166.1 202.6h0M288.9 196.1h0M226.1 214.4h0M121.3 188.2h0M81.0 211.7h0M230.9 205.7h0M189.4 207.2h0M270.7 192.8h0M158.1 214.0h0M113.1 199.5h0M72.3 192.9h0M280.1 213.9h0M269.3 199.2h0M213.1 201.9h0M67.1 225.3h0M126.9 189.5h0M318.1 185.7h0M141.3 201.5h0M151.6 217.2h0M212.0 202.4h0M221.5 207.2h0M242.3 215.4h0M235.2 194.9h0M56.0 215.1h0M58.5 223.7h0M44.2 221.1h0M197.3 204.2h0M265.4 198.6h0M95.5 223.7h0M76.5 224.0h0M78.0 216.3h0M150.2 201.6h0M96.0 217.8h0M208.1 207.7h0M161.2 203.5h0M265.5 194.5h0M96.9 202.9h0M306.4 206.5h0M156.3 208.3h0M69.7 220.5h0M225.0 201.9h0M110.4 210.6h0M63.4 215.9h0M296.0 203.8h0M114.9 199.7h0M95.4 203.1h0M135.6 195.5h0M305.8 207.7h0M274.3 206.7h0M147.2 209.0h0M264.6 198.7h0M315.2 205.5h0M283.4 195.2h0M265.0 197.6h0M300.2 194.0h0M235.2 203.6h0M79.6 223.0h0M310.7 183.0h0M107.3 218.9h0M145.6 221.5h0M132.7 207.1h0M261.9 203.2h0M251.0 214.1h0M272.0 197.0h0M307.2 196.1h0M94.0 212.9h0M52.2 216.2h0M297.1 196.6h0M77.2 209.6h0M56.9 213.5h0M113.9 206.2h0M315.3 202.4h0M275.0 208.6h0M50.6 222.4h0M61.2 204.0h0M143.9 216.3h0M225.7 197.7h0M294.3 202.8h0M254.5 200.4h0M282.5 203.8h0M278.4 198.7h0M231.7 198.2h0M276.7 205.8h0M78.6 213.8h0M81.2 223.3h0M56.5 225.2h0M228.5 200.8h0M216.8 210.5h0M295.2 194.4h0M316.8 191.1h0M226.2 192.8h0M296.6 192.5h0M118.1 190.7h0M94.1 216.8h0M70.0 201.8h0M212.5 199.7h0M286.8 202.8h0M114.4 192.1h0M187.2 188.6h0M76.9 232.2h0M278.3 205.2h0M49.2 222.0h0M270.0 194.0h0M199.5 190.9h0M44.7 205.7h0M233.6 197.0h0M170.0 208.1h0M233.6 198.2h0M241.2 223.0h0M108.7 200.7h0M207.9 199.9h0M96.3 208.3h0M300.0 196.5h0M73.4 226.7h0M312.7 194.8h0M287.9 202.1h0M232.3 201.7h0M103.1 207.8h0M322.5 191.3h0M111.9 209.4h0M73.9 210.0h0M109.0 205.3h0M114.2 209.1h0M160.0 214.0h0M123.3 206.9h0M44.2 221.6h0M244.9 202.5h0M136.2 209.4h0M158.0 208.0h0M109.3 216.6h0M100.1 204.5h0M62.5 213.8h0M243.1 193.7h0M171.2 207.0h0M154.3 202.7h0M104.2 216.5h0M212.6 206.3h0M223.7 202.3h0M229.1 199.4h0M125.8 208.7h0M252.5 198.3h0M96.6 226.9h0M248.8 200.1h0M209.5 201.6h0M305.3 199.2h0M115.1 191.3h0M261.0 205.5h0M269.6 199.4h0M105.0 218.8h0M75.3 228.4h0M76.0 217.9h0M290.1 201.0h0M192.1 206.3h0M48.8 206.9h0M53.4 218.4h0M174.6 212.4h0M50.2 209.2h0M51.4 221.8h0M148.0 208.4h0M43.6 218.3h0M188.2 190.3h0M217.9 199.0h0M175.6 207.3h0M317.2 187.7h0M75.5 208.0h0M147.3 213.8h0M258.2 196.4h0M135.2 212.7h0M203.8 208.1h0M158.1 208.7h0M318.2 186.5h0M319.6 190.5h0M264.8 188.1h0M46.2 223.7h0M51.2 225.3h0M201.9 204.8h0M282.4 200.2h0M322.0 184.8h0M250.9 211.7h0M191.5 190.5h0M227.8 205.4h0M186.3 203.1h0M110.1 204.5h0M63.2 204.2h0M72.6 195.5h0M222.4 212.7h0M107.0 220.2h0M166.7 202.8h0M180.5 193.7h0M266.8 196.7h0M226.1 188.7h0M78.4 206.4h0M273.6 205.2h0M65.9 210.1h0M131.6 206.8h0M201.0 197.5h0M170.7 200.8h0M114.6 201.1h0M143.1 219.4h0M46.2 202.0h0M291.9 191.0h0M99.8 214.8h0M53.7 204.7h0M164.1 209.6h0M60.4 216.8h0M261.8 208.2h0M166.0 216.6h0M211.5 202.2h0M251.1 202.2h0M211.3 200.4h0M319.1 185.0h0M84.2 225.6h0M84.9 220.2h0M152.1 210.4h0M135.5 212.0h0M263.7 195.0h0M258.1 208.0h0M313.7 193.2h0M249.6 196.3h0M320.6 187.5h0M161.5 212.0h0M163.3 217.2h0M213.7 201.2h0M116.6 200.5h0M295.0 202.9h0M127.8 207.3h0M266.2 194.0h0M255.8 198.8h0M231.2 203.6h0M215.0 204.8h0M64.0 216.2h0M159.3 204.9h0M291.3 196.4h0M145.6 207.3h0M126.0 196.4h0M54.5 215.3h0M179.7 201.6h0M111.0 197.2h0M143.6 222.8h0M108.5 218.9h0M287.1 199.3h0M205.0 203.2h0M104.1 222.0h0M207.3 215.5h0M127.0 190.2h0M151.1 212.0h0M260.3 200.9h0M44.7 217.7h0M61.5 207.6h0M73.1 223.3h0M65.6 196.6h0M272.5 199.6h0M145.3 211.9h0M194.4 205.4h0M129.4 189.2h0M217.0 199.7h0M174.4 223.4h0M226.7 205.6h0M205.1 203.9h0M84.0 225.0h0M94.5 209.3h0M234.6 206.4h0M98.1 207.0h0M133.7 203.8h0M227.0 203.2h0M188.0 198.5h0M278.9 206.1h0M137.0 202.3h0M139.2 215.6h0M248.0 203.0h0M71.1 216.9h0M43.3 210.8h0M67.5 205.5h0M115.7 191.0h0M261.2 188.2h0M192.5 203.7h0M146.7 214.4h0M315.2 183.9h0M214.3 212.6h0M319.9 194.2h0M174.7 211.5h0M43.9 216.1h0M252.3 209.4h0M159.9 208.7h0M308.3 188.6h0M269.3 197.9h0M84.4 224.9h0M79.8 214.0h0M93.3 212.2h0M46.7 208.1h0M188.8 203.2h0M164.1 213.2h0M276.8 207.1h0M101.3 227.6h0M315.2 190.2h0M86.4 217.7h0M94.7 222.6h0M321.3 196.6h0M79.1 216.6h0M188.1 193.7h0M306.0 191.0h0M77.1 223.5h0M155.1 220.7h0M137.5 205.9h0M75.2 204.6h0M298.9 198.2h0M281.4 217.3h0M110.1 199.9h0M229.5 195.5h0M169.4 217.6h0M158.5 212.0h0M303.7 206.9h0M239.0 205.2h0M60.6 203.2h0M277.2 212.8h0M289.2 193.4h0M233.8 206.9h0M171.3 226.2h0M297.5 198.1h0M85.7 208.7h0M285.7 199.3h0M55.4 216.2h0M47.1 220.3h0M127.0 199.1h0M315.5 189.4h0M231.4 190.5h0M161.3 209.0h0M196.5 192.1h0M139.8 203.1h0M123.8 202.2h0M66.4 213.6h0M112.5 212.7h0M279.4 205.8h0M217.4 211.1h0M163.6 221.1h0M161.4 204.3h0M59.8 208.9h0M233.4 204.6h0M190.6 209.8h0M242.2 205.1h0M282.0 202.6h0M199.2 204.4h0M142.7 214.4h0M296.0 197.3h0M76.2 217.7h0M315.3 185.2h0M47.3 221.7h0M217.5 196.2h0M239.6 206.1h0M281.0 207.3h0M166.5 202.4h0M289.6 200.1h0M111.8 202.8h0M173.1 215.5h0M101.5 225.9h0M198.0 192.2h0M111.2 207.0h0M303.9 205.3h0M319.3 184.2h0M261.8 206.7h0M50.3 198.5h0M241.4 214.5h0M159.6 202.0h0M156.7 218.5h0M217.0 194.5h0M102.9 213.8h0M260.9 187.3h0M86.8 209.1h0M299.8 208.5h0M217.6 192.3h0M253.1 194.8h0M304.8 192.4h0M312.8 202.9h0M109.6 205.2h0M311.5 210.3h0M149.8 211.7h0M312.4 195.3h0M143.4 218.3h0M61.7 207.0h0M188.8 199.9h0M225.3 204.4h0M320.5 203.7h0M207.9 205.2h0M180.0 206.6h0M263.8 195.0h0M218.7 210.5h0M280.5 207.5h0M306.8 195.6h0M71.1 208.2h0M176.7 206.7h0M225.7 198.3h0M50.8 209.7h0M229.1 193.0h0M273.0 195.8h0M270.5 194.1h0M56.0 222.8h0M80.7 212.7h0M174.0 215.1h0M200.6 211.6h0M218.0 199.5h0M130.8 195.4h0M310.9 199.7h0M187.2 194.1h0M139.6 209.5h0M234.3 205.9h0M179.5 190.2h0M127.9 191.3h0M238.6 202.6h0M164.2 205.1h0M157.4 208.2h0M144.1 208.7h0M268.6 196.2h0M117.6 196.3h0M97.3 221.1h0M278.4 201.5h0M257.7 201.6h0M72.6 224.2h0M68.5 207.8h0M185.5 207.9h0M43.0 211.7h0M241.1 200.0h0M216.7 200.3h0M79.5 226.1h0M316.5 203.5h0M316.5 189.6h0M134.5 199.1h0M87.2 216.9h0M144.0 205.8h0M202.4 207.8h0M209.8 198.7h0M47.0 199.8h0M72.0 213.6h0M184.6 202.9h0M169.2 207.3h0M152.7 217.8h0M189.9 194.2h0M239.7 213.4h0M186.1 206.2h0M125.2 190.9h0M301.1 201.1h0M126.3 193.7h0M116.9 205.9h0M244.0 209.2h0M142.4 204.4h0M220.1 216.7h0M200.3 203.1h0M44.2 214.5h0M321.7 202.2h0M77.8 213.2h0M291.1 203.0h0M90.9 219.8h0M157.7 210.0h0M206.5 200.1h0M136.1 202.9h0M232.8 199.8h0M112.5 204.3h0M192.9 192.4h0M232.1 198.6h0M74.2 219.6h0M118.8 193.0h0M161.7 221.3h0M288.7 195.7h0M117.9 205.9h0M309.2 187.6h0M196.3 201.0h0M113.6 193.9h0M119.0 200.5h0M203.3 207.9h0M298.2 194.6h0M292.3 203.4h0M172.5 219.8h0M153.9 210.4h0M275.9 199.7h0M45.7 229.7h0M64.8 200.5h0M114.2 192.6h0M190.0 208.5h0M206.9 196.9h0M270.4 194.7h0M216.9 192.8h0M322.5 183.3h0M251.0 196.7h0M106.6 220.8h0M62.8 209.7h0M175.3 220.3h0M279.5 214.6h0M104.5 214.9h0M310.2 198.1h0M213.7 198.5h0M126.5 206.7h0M184.7 192.9h0M74.8 219.7h0M96.0 211.0h0M245.9 211.6h0M209.4 199.8h0M86.0 223.1h0M247.9 206.3h0M170.2 210.4h0M135.3 210.6h0M88.8 212.4h0M276.2 202.3h0M115.3 201.3h0M72.9 196.3h0M148.5 214.4h0M217.0 208.3h0M286.2 188.2h0M120.4 194.7h0M306.5 190.0h0M75.1 224.2h0M308.9 190.2h0M256.6 199.0h0M84.9 218.3h0M153.5 211.1h0M292.2 204.2h0M247.8 201.6h0M47.9 206.4h0M240.7 214.0h0M311.5 204.6h0M97.1 218.8h0M278.2 196.6h0M173.3 208.9h0M80.2 208.0h0M158.2 215.8h0M172.3 225.2h0M301.1 203.4h0M205.7 204.8h0M259.3 196.0h0M191.5 193.9h0M59.0 219.5h0M150.5 198.8h0M306.1 195.5h0M160.6 213.2h0M242.3 211.0h0M251.4 201.5h0M276.5 206.1h0M305.3 193.7h0M48.9 212.8h0M301.9 202.2h0M213.5 204.8h0M107.5 225.9h0M185.0 189.8h0M55.4 217.1h0M210.8 202.6h0M59.3 213.9h0M260.9 197.0h0M282.7 217.2h0M84.0 216.4h0M85.2 218.1h0M143.5 221.8h0M44.9 213.5h0M137.3 208.0h0M187.0 197.6h0M321.1 192.0h0M226.1 201.0h0M275.0 203.7h0M297.2 203.0h0M223.6 195.2h0M171.9 206.9h0M57.2 206.4h0M239.6 203.5h0M100.0 205.6h0M321.9 193.2h0M241.3 188.0h0M81.2 219.1h0M217.0 199.1h0M149.9 200.2h0M225.3 204.9h0M232.2 194.9h0M244.1 206.9h0M139.2 220.9h0M210.5 194.7h0M257.8 198.9h0M302.3 205.4h0M260.0 197.9h0M289.6 199.7h0M92.6 209.3h0M113.0 198.0h0M225.4 188.8h0M62.6 222.8h0M211.5 210.7h0M74.1 226.0h0M269.2 203.8h0M143.1 206.9h0M95.2 212.9h0M249.3 198.8h0M238.9 200.9h0M244.0 217.6h0M76.4 211.1h0M305.2 191.9h0M43.6 205.5h0M185.3 203.9h0M51.0 228.4h0M314.5 190.2h0M305.8 201.7h0M301.3 207.2h0M279.5 209.2h0M44.6 224.7h0M148.8 215.4h0M256.5 206.2h0M274.6 196.2h0M124.4 195.0h0M96.3 222.6h0M129.0 201.9h0M128.5 200.2h0M128.7 198.8h0M44.5 216.1h0M192.1 194.7h0M220.9 205.6h0M171.5 202.5h0M284.2 193.2h0M193.4 200.5h0M183.1 196.5h0M243.9 206.7h0M142.1 203.0h0M262.7 192.7h0M321.2 202.2h0M50.7 226.4h0M293.6 200.3h0M306.5 187.7h0M156.5 215.6h0M186.5 194.4h0M75.2 209.9h0M71.4 194.1h0M60.6 219.7h0M200.7 207.0h0M189.7 196.9h0M286.3 192.1h0M201.0 201.4h0M206.4 196.4h0M182.5 204.2h0M308.5 191.7h0M57.9 208.7h0M205.7 204.3h0M277.6 205.2h0M240.0 202.4h0M300.3 197.4h0M216.3 211.9h0M288.3 190.4h0M116.4 191.8h0M234.7 204.6h0M115.3 208.8h0M281.4 212.1h0M297.5 201.9h0M141.8 203.6h0M180.7 188.5h0M105.2 206.6h0M193.9 197.3h0M321.8 190.2h0M319.7 191.8h0M42.6 207.4h0M252.4 206.5h0M211.3 209.7h0M95.6 225.5h0M47.8 203.4h0M199.0 190.1h0M321.6 192.6h0M246.7 206.0h0M297.8 198.3h0M178.4 190.4h0M131.0 204.8h0M169.9 208.4h0M244.4 192.9h0M214.8 212.8h0M290.1 194.3h0M238.4 208.2h0M322.2 185.8h0M257.8 203.3h0M282.7 203.3h0M281.0 207.4h0M108.0 214.9h0M209.4 205.9h0M141.6 209.5h0M73.7 196.2h0M317.1 192.2h0M153.7 214.1h0M151.2 217.6h0M116.2 209.7h0M201.9 197.9h0M253.2 194.5h0M210.4 194.7h0M154.2 210.9h0M103.2 214.2h0M187.1 202.0h0M180.1 192.6h0M54.2 222.3h0M224.9 194.3h0M217.7 201.1h0M195.4 191.2h0M58.4 219.1h0M42.3 223.3h0M236.4 194.7h0M208.0 199.8h0M49.4 202.6h0M186.7 196.6h0M84.4 219.5h0M124.2 191.7h0M167.4 215.5h0M239.9 196.7h0M168.8 206.6h0M79.2 210.0h0M280.5 214.1h0M67.2 201.0h0M262.9 188.3h0M176.3 193.3h0M173.2 203.8h0M70.4 192.8h0M70.1 208.5h0M116.0 196.0h0M204.1 196.8h0M102.4 231.7h0M73.5 220.0h0M322.4 181.7h0M187.4 202.7h0M153.1 213.9h0M269.8 209.1h0M151.8 206.5h0M209.2 193.1h0M188.4 201.6h0M185.3 207.1h0M98.9 202.0h0M110.3 202.4h0M279.4 204.1h0M292.5 198.8h0M127.9 189.1h0M146.9 216.1h0M297.5 202.4h0M199.0 191.1h0M98.3 214.2h0M309.7 198.4h0M77.7 228.6h0M80.6 212.0h0M280.5 203.9h0M43.2 207.7h0M264.9 200.4h0M298.3 206.2h0M225.2 210.9h0M81.5 217.9h0M250.3 206.1h0M292.8 188.1h0M91.3 215.2h0M186.9 193.6h0M237.7 191.5h0M180.5 200.9h0M261.0 189.0h0M317.5 192.5h0M64.1 197.7h0M296.7 196.4h0M104.6 221.5h0M116.0 203.2h0M138.4 201.2h0M118.2 192.4h0M87.1 225.4h0M77.1 219.5h0M143.8 209.6h0M253.3 199.2h0M180.3 202.4h0M267.6 196.5h0M192.0 209.0h0M307.5 201.7h0M148.3 203.9h0M74.5 215.4h0M157.8 203.2h0M300.5 197.6h0M307.8 185.6h0M263.2 189.3h0M205.0 198.3h0M193.2 194.2h0M104.3 207.2h0M113.9 197.7h0M283.3 211.2h0M282.0 204.1h0M162.7 209.2h0M255.2 204.7h0M116.7 198.4h0M60.2 205.1h0M238.4 207.8h0M293.8 194.7h0M281.4 217.1h0M278.4 203.4h0M151.0 213.9h0M282.7 211.8h0M129.2 204.0h0M79.2 215.2h0M141.6 217.6h0M198.8 191.7h0M320.8 187.1h0M190.6 209.6h0M43.3 207.5h0M169.6 209.2h0M229.7 201.5h0M257.6 191.3h0M191.7 196.0h0M128.7 202.8h0M99.4 208.7h0M157.0 206.6h0M153.3 205.2h0M209.9 205.5h0M253.0 199.0h0M70.0 206.4h0M220.9 212.9h0M100.0 225.1h0M136.0 212.3h0M174.0 217.0h0M224.8 203.4h0M308.5 190.6h0M43.9 226.4h0M53.2 207.8h0M106.5 209.7h0M131.2 186.6h0M163.5 206.4h0M175.4 210.4h0M43.0 233.1h0M161.0 204.7h0M46.3 213.7h0M98.3 214.6h0M267.7 196.9h0M49.6 216.5h0M50.8 228.0h0M82.8 215.2h0M263.6 191.7h0M306.5 203.9h0M148.6 216.3h0M275.8 208.0h0M54.2 205.2h0M288.8 196.4h0M273.7 202.7h0M109.7 227.5h0M235.5 204.7h0M199.7 205.4h0M98.3 211.4h0M103.3 211.5h0M133.8 204.2h0M300.9 199.8h0M57.5 223.5h0M235.7 194.8h0M126.1 195.4h0M100.9 212.1h0M285.2 191.6h0M77.9 214.7h0M317.6 184.3h0M71.1 194.1h0M307.7 199.5h0M240.3 195.5h0M103.6 219.5h0M109.9 204.0h0M293.5 197.9h0M158.9 207.6h0M97.8 221.8h0M161.9 203.2h0M145.5 215.4h0M90.8 203.9h0M185.1 208.2h0M192.4 194.6h0M119.3 194.5h0M261.4 197.6h0M195.2 196.0h0M292.5 193.5h0M141.0 207.3h0M277.5 196.3h0M45.1 206.6h0M42.7 222.3h0M105.1 229.4h0M73.2 200.4h0M200.7 198.6h0M90.8 220.2h0M214.8 196.5h0M297.5 203.9h0M295.8 204.2h0M314.9 190.2h0M116.4 194.6h0M59.3 221.4h0M320.0 192.3h0M185.7 208.3h0M150.8 208.7h0M206.1 211.4h0M310.8 193.9h0M234.1 201.3h0M56.4 215.9h0M291.3 195.8h0M223.3 213.9h0M76.1 213.7h0M110.7 197.9h0M197.0 202.0h0M231.1 200.0h0M184.8 193.3h0M166.4 225.1h0M206.5 212.5h0M256.8 191.6h0M160.2 214.8h0M144.9 225.2h0M313.3 197.4h0M186.1 201.6h0M313.6 190.0h0M97.7 223.1h0M158.7 214.9h0M242.4 198.0h0M238.2 207.6h0M78.7 213.6h0M239.8 196.8h0M186.0 202.9h0M256.2 199.9h0M85.4 225.0h0M244.1 193.2h0M211.7 205.7h0M265.2 189.8h0M176.2 208.9h0M295.2 195.2h0M293.2 200.8h0M44.3 214.0h0M297.1 194.5h0M67.6 224.0h0M194.0 203.1h0M215.4 207.1h0M214.2 209.6h0M140.8 206.4h0M64.2 201.2h0M175.2 217.1h0M168.0 202.1h0M217.1 199.3h0M275.4 205.9h0M276.2 209.9h0M279.5 203.3h0M177.4 199.5h0M171.8 208.3h0M253.0 206.8h0M260.1 198.1h0M149.8 202.0h0M184.2 195.7h0M42.6 203.9h0M312.7 198.7h0M125.6 196.1h0M297.9 202.9h0M203.2 193.4h0M240.5 199.2h0M79.3 215.5h0M154.7 220.5h0M89.2 216.5h0M276.0 208.9h0M263.5 197.7h0M56.3 205.9h0M55.1 219.3h0M167.0 210.3h0M301.7 196.0h0M159.2 206.8h0M197.9 191.9h0M280.6 201.9h0M80.2 222.1h0M273.7 200.7h0M267.9 190.5h0M55.7 216.2h0M267.6 204.7h0M129.1 203.3h0M193.1 194.4h0M66.5 205.2h0M306.3 209.6h0M280.6 215.1h0M75.7 209.1h0M109.8 202.8h0M199.8 195.9h0M174.9 203.2h0M161.5 210.2h0M122.9 202.1h0M156.4 210.5h0M195.0 207.5h0M81.0 221.6h0M68.6 209.1h0M52.1 213.6h0M211.1 211.3h0M247.8 208.7h0M83.2 218.0h0M241.7 207.1h0M76.0 223.8h0M127.6 191.8h0M168.1 201.9h0M206.3 208.2h0M310.3 192.7h0M129.6 189.8h0M225.8 210.3h0M175.4 195.6h0M214.2 201.1h0M73.0 197.5h0M146.9 206.6h0M152.8 215.6h0M223.0 196.9h0M316.0 201.5h0M110.4 211.1h0M320.6 187.9h0M126.3 202.4h0M50.5 220.0h0M295.2 195.8h0M263.1 207.0h0M68.8 199.0h0M298.1 202.4h0M163.6 219.7h0M272.6 202.2h0M223.0 208.5h0M147.1 209.4h0M208.2 206.1h0M107.9 225.8h0M74.1 194.3h0M213.2 195.3h0M127.9 204.0h0M48.5 210.0h0M319.9 189.3h0M265.0 204.7h0M289.3 193.0h0M118.0 193.8h0M74.9 207.8h0M84.0 222.9h0M230.6 191.3h0M240.3 193.5h0M263.9 198.0h0M227.0 202.7h0M159.5 208.4h0M162.2 222.2h0M178.6 205.5h0M270.8 201.1h0M51.3 201.2h0M97.9 223.3h0M227.6 199.0h0M52.3 202.8h0M233.3 199.1h0M295.8 203.0h0M59.7 202.8h0M62.9 222.1h0M262.6 201.2h0M57.4 215.0h0M200.1 197.7h0M125.5 199.5h0M112.7 202.2h0M286.0 194.8h0M236.9 205.9h0M243.7 197.2h0M244.2 210.5h0M248.5 203.7h0M194.2 200.0h0M87.0 207.9h0M133.8 203.3h0M90.2 216.8h0M80.8 208.3h0M195.0 192.1h0M46.6 210.6h0M203.6 208.3h0M191.0 202.5h0M247.5 215.3h0M295.5 195.7h0M178.7 201.1h0M243.2 203.2h0M275.0 205.4h0M207.1 203.1h0M257.6 204.9h0M119.3 190.9h0M316.3 207.4h0M214.5 198.0h0M296.1 201.4h0M276.6 203.3h0M150.3 215.3h0M183.1 200.8h0M257.5 206.0h0M71.3 215.1h0M183.0 200.1h0M164.7 211.1h0M61.5 209.9h0M152.3 207.5h0M75.4 203.2h0M236.4 189.0h0M238.4 192.2h0M208.0 195.4h0M232.4 201.3h0M152.9 217.4h0M95.5 212.1h0M175.5 207.3h0M259.6 196.5h0M303.9 200.2h0M92.0 208.7h0M51.6 203.3h0M94.5 218.7h0M217.0 212.2h0M216.5 211.0h0M133.0 192.5h0M275.5 209.9h0M296.1 195.7h0M140.8 211.8h0M176.2 212.4h0M315.6 193.3h0M148.6 207.8h0M182.3 194.1h0M208.9 202.1h0M69.8 207.9h0M158.3 217.7h0M168.0 208.2h0M294.0 199.5h0M94.9 211.2h0M174.6 199.4h0M172.3 212.2h0M69.0 201.5h0M276.2 202.7h0M149.0 204.0h0M162.0 203.9h0M318.7 183.2h0M277.9 208.4h0M200.8 207.7h0M44.3 205.7h0M293.9 194.3h0M167.5 219.3h0M120.3 203.9h0M156.3 205.5h0M73.0 205.1h0M55.0 209.3h0M59.9 213.6h0M141.0 219.1h0M87.4 214.7h0M196.8 203.4h0M224.9 209.8h0M314.6 189.8h0M312.0 205.9h0M199.3 201.5h0M72.2 197.4h0M230.6 204.7h0M70.0 199.1h0M306.8 202.0h0M113.8 198.5h0M172.9 202.8h0M156.8 211.5h0M193.2 206.3h0M185.4 206.7h0M246.8 206.6h0M272.2 205.8h0M123.1 204.2h0M71.3 208.6h0M286.2 190.4h0M133.4 202.7h0M104.6 206.4h0M43.6 214.6h0M82.1 223.2h0M64.0 226.0h0M60.8 200.7h0M198.1 204.2h0M59.8 225.3h0M210.6 195.2h0M145.8 218.3h0M141.2 196.7h0M189.0 204.8h0M61.0 217.5h0M204.2 205.6h0M175.1 196.7h0M185.5 203.9h0M255.4 200.4h0M240.9 214.7h0M318.7 181.6h0M203.9 207.9h0M78.3 215.0h0M286.0 194.9h0M122.2 199.8h0M279.5 208.7h0M247.9 196.3h0M302.5 197.3h0M86.1 215.2h0M211.8 204.2h0M318.0 186.1h0M211.3 208.8h0M230.7 197.6h0M279.9 202.8h0M179.8 205.0h0M175.9 221.1h0M310.9 191.3h0M152.4 212.9h0M145.7 217.9h0M190.6 199.1h0M247.1 197.4h0M176.2 212.6h0M234.3 204.7h0M297.8 206.8h0M307.2 193.8h0M120.6 198.0h0M158.6 201.7h0M242.8 201.3h0M90.5 206.1h0M194.9 202.7h0M226.1 210.7h0M319.8 193.1h0M150.6 202.8h0M232.6 194.2h0M176.3 200.9h0M230.5 194.0h0M134.3 196.7h0M201.8 194.0h0M135.5 197.2h0M155.1 205.0h0M313.6 197.6h0M58.2 214.6h0M125.7 204.3h0M143.1 208.6h0M238.7 194.3h0M282.4 209.7h0M203.8 191.0h0M221.7 195.2h0M43.5 205.5h0M50.6 198.0h0M306.0 188.8h0M256.2 200.5h0M288.9 199.7h0M76.9 205.6h0M186.4 203.2h0M182.8 198.9h0M142.5 213.2h0M260.7 207.8h0M109.4 212.0h0M95.9 206.3h0M125.7 192.0h0M321.7 181.0h0M273.5 205.2h0M232.5 203.0h0M112.0 210.9h0M186.3 204.0h0M67.4 207.3h0M170.0 205.8h0M270.4 194.9h0M65.4 196.5h0M245.7 207.8h0M138.4 200.6h0M158.3 211.3h0M62.9 216.9h0M259.6 198.8h0M171.1 210.1h0M172.9 226.3h0M274.6 193.1h0M151.9 217.9h0M215.9 206.6h0M153.0 214.6h0M246.6 201.0h0M42.2 208.5h0M162.0 224.0h0M218.3 203.9h0M224.1 198.5h0M297.8 206.5h0M97.9 209.2h0M120.5 201.8h0M198.3 192.3h0M288.1 198.5h0M119.7 199.2h0M182.7 195.1h0M54.1 211.1h0M293.0 197.9h0M292.1 195.3h0M217.6 204.0h0M130.1 198.3h0M43.1 209.6h0M222.2 201.4h0M248.1 209.2h0M200.9 200.5h0M195.1 208.3h0M162.1 221.8h0M137.8 210.0h0M67.4 210.2h0M138.4 206.6h0M297.5 200.2h0M289.3 189.5h0M312.3 198.2h0M220.6 198.4h0M118.2 191.7h0M138.5 210.6h0M319.8 185.1h0M242.7 203.5h0M117.4 201.9h0M279.1 207.3h0M195.0 199.7h0M170.8 200.0h0M208.4 203.2h0M44.4 226.1h0M78.3 210.6h0M156.2 209.3h0M209.9 196.3h0M174.8 196.6h0M73.3 199.8h0M157.0 214.2h0M169.3 216.8h0M185.9 207.4h0M246.0 210.2h0M248.5 204.4h0M92.7 210.7h0M278.2 201.6h0M234.1 196.7h0M267.9 191.4h0M45.7 220.9h0M164.8 209.0h0M53.3 216.6h0M196.8 194.8h0M208.1 204.4h0M269.4 189.9h0M243.4 206.3h0M260.9 191.7h0M84.5 219.5h0M317.3 190.9h0M80.0 217.4h0M225.4 209.3h0M132.8 201.5h0M196.1 189.4h0M245.7 200.3h0M234.7 196.6h0M151.2 214.5h0M150.0 211.3h0M285.2 203.0h0M138.8 201.8h0M283.7 210.5h0M81.3 218.4h0M192.7 192.9h0M300.0 200.4h0M189.8 202.8h0M169.5 204.7h0M287.8 205.7h0M104.5 210.4h0M42.0 223.8h0M298.2 196.1h0M262.1 200.2h0M282.3 201.6h0M52.1 218.4h0M321.7 202.6h0M103.2 210.6h0M207.8 212.0h0M229.6 197.1h0M222.5 199.8h0M127.3 190.2h0M251.4 208.9h0M285.8 191.1h0M100.4 222.3h0M241.5 201.0h0M245.3 215.2h0M280.0 199.8h0M65.9 207.9h0M55.6 210.6h0M255.9 196.4h0M91.5 211.2h0M78.7 217.8h0M165.7 213.9h0M207.7 212.7h0M226.5 207.0h0M263.2 198.9h0M280.1 212.4h0M291.6 198.6h0M111.2 203.4h0M231.6 202.7h0M320.4 209.3h0M311.4 196.3h0M295.1 189.9h0M280.4 208.8h0M174.7 195.4h0M79.6 211.9h0M79.0 226.6h0M156.8 215.9h0M300.0 205.4h0M43.1 223.3h0M50.6 215.3h0M218.7 199.0h0M74.4 195.5h0M244.6 219.4h0M171.8 200.4h0M109.6 229.1h0M191.1 195.1h0M237.7 206.7h0M289.4 190.8h0M82.6 219.4h0M148.5 207.8h0M203.2 197.3h0M119.0 198.7h0M112.4 212.2h0M121.8 192.9h0M105.2 217.3h0M209.8 197.6h0M309.6 187.1h0M274.8 205.1h0M49.1 219.9h0M128.5 199.5h0M191.4 199.4h0M170.1 204.1h0M104.9 222.4h0M47.1 205.0h0M144.9 220.9h0M173.9 217.2h0M85.6 220.8h0M114.8 195.3h0M130.6 194.5h0M153.8 209.6h0M295.8 194.4h0M313.7 202.6h0M216.5 206.3h0M253.8 200.9h0M223.4 189.9h0M221.1 207.7h0M251.8 199.7h0M101.3 212.4h0M168.8 216.6h0M291.3 196.0h0M290.1 198.6h0M317.5 203.4h0M135.4 209.8h0M314.5 201.3h0M100.6 219.0h0M43.5 210.1h0M298.7 199.7h0M295.5 193.9h0M247.7 205.4h0M287.8 195.0h0M137.2 199.5h0M51.9 225.8h0M274.5 206.7h0M116.1 206.0h0M238.9 199.4h0M254.5 208.0h0M83.1 222.7h0M180.6 187.0h0M152.9 210.6h0M261.0 195.4h0M178.6 202.6h0M139.6 214.9h0M150.9 208.2h0M151.3 210.0h0M86.4 217.0h0M113.6 197.0h0M121.0 194.8h0M83.6 222.9h0M98.3 218.2h0M165.4 206.0h0M76.1 223.3h0M305.9 188.7h0M208.4 206.8h0M135.1 210.7h0M235.5 202.3h0M67.9 218.0h0M151.6 220.5h0M180.0 203.5h0M156.2 205.9h0M154.9 219.1h0M253.3 197.5h0M123.5 204.6h0M105.1 221.2h0M151.3 197.9h0M230.8 200.6h0M71.0 202.2h0M265.6 186.7h0M195.7 198.5h0M282.0 210.8h0M99.4 219.4h0M284.9 193.4h0M130.0 194.2h0M270.2 196.6h0M172.2 200.3h0M224.4 205.1h0M130.3 199.9h0M112.1 193.8h0M150.0 216.4h0M74.3 224.2h0M70.8 212.6h0M247.2 201.7h0M70.2 203.2h0M65.3 205.0h0" stroke="#420840" stroke-width="3.2" stroke-linecap="round" fill="none" stroke-opacity="0.6"/>
<path d="M58.4 325.9h0M74.2 327.0h0M308.6 332.3h0M127.0 313.6h0M299.7 327.6h0M77.6 341.7h0M126.0 282.5h0M80.9 341.3h0M191.9 285.9h0M207.7 282.8h0M199.6 280.1h0M269.6 331.0h0M136.9 283.1h0M191.5 308.4h0M247.6 324.3h0M277.3 326.0h0M262.2 335.6h0M52.6 334.9h0M121.6 284.5h0M294.0 362.0h0M151.9 291.1h0M187.3 284.2h0M274.1 328.4h0M81.9 324.2h0M224.1 341.6h0M105.2 306.1h0M214.3 309.5h0M195.8 280.7h0M264.9 328.6h0M104.4 286.0h0M79.5 340.3h0M229.9 350.2h0M80.9 324.3h0M48.7 331.4h0M113.5 303.4h0M47.4 342.9h0M137.0 290.1h0M75.4 328.4h0M104.7 309.7h0M206.2 282.5h0M104.2 285.3h0M59.1 319.5h0M71.7 341.4h0M77.4 332.6h0M265.5 328.7h0M232.6 328.7h0M255.7 352.3h0M103.2 308.7h0M43.8 324.1h0M199.6 307.2h0M290.1 332.0h0M310.3 344.6h0M159.4 293.4h0M287.2 325.3h0M254.1 333.6h0M89.9 331.8h0M254.6 328.4h0M157.7 280.9h0M231.5 323.9h0M243.2 332.7h0M171.7 288.3h0M289.4 328.3h0M313.8 329.6h0M94.9 329.1h0M321.1 332.6h0M311.0 355.2h0M301.4 327.9h0M67.4 324.0h0M282.3 324.3h0M148.8 291.1h0M139.0 283.3h0M76.8 326.3h0M203.8 316.0h0M153.2 314.3h0M92.2 329.4h0M72.5 347.5h0M314.6 327.4h0M168.1 302.0h0M145.8 313.2h0M165.2 312.6h0M139.4 310.0h0M84.4 341.1h0M139.7 311.3h0M94.1 331.0h0M46.7 331.9h0M63.4 343.7h0M196.5 278.6h0M234.3 352.7h0M272.7 323.5h0M138.8 303.3h0M319.5 346.5h0M167.1 303.8h0M171.9 282.3h0M259.8 326.4h0M122.4 292.1h0M138.5 277.8h0M272.9 323.9h0M122.0 281.0h0M290.4 323.8h0M86.6 333.6h0M90.1 320.0h0M205.4 319.4h0M234.3 332.0h0M104.4 302.9h0M228.8 322.9h0M261.6 327.4h0M77.2 328.4h0M270.6 331.5h0M73.9 353.4h0M80.9 329.0h0M47.5 322.1h0M201.1 281.5h0M69.3 325.1h0M284.8 325.1h0M221.2 328.1h0M166.7 309.6h0M227.0 345.1h0M298.2 354.4h0M289.2 344.2h0M235.6 341.0h0M174.8 281.5h0M218.7 330.0h0M228.4 328.8h0M238.7 330.6h0M168.2 309.7h0M172.2 290.2h0M228.4 328.8h0M72.3 344.2h0M49.6 326.9h0M84.6 352.2h0M188.9 290.2h0M65.8 332.9h0M165.5 282.5h0M51.1 327.2h0M57.8 335.1h0M110.2 286.7h0M233.9 343.6h0M58.9 332.3h0M194.7 317.3h0M166.4 313.5h0M203.3 309.7h0M198.0 279.3h0M267.6 327.2h0M227.3 325.6h0M252.6 330.6h0M78.0 322.1h0M287.3 351.2h0M158.1 286.7h0M255.4 324.3h0M213.4 312.5h0M244.3 331.7h0M145.3 289.3h0M129.8 368.0h0M51.0 326.1h0M285.1 327.3h0M64.4 334.5h0M125.0 285.4h0M79.9 340.7h0M43.9 332.2h0M238.3 326.2h0M72.8 321.7h0M265.1 339.4h0M74.2 324.7h0M213.8 304.8h0M254.1 358.9h0M322.0 350.7h0M104.1 301.7h0M287.7 351.3h0M109.7 308.5h0M265.8 338.0h0M285.0 328.2h0M104.2 280.0h0M219.0 331.2h0M298.8 345.9h0M304.3 325.5h0M306.9 334.1h0M65.0 324.9h0M210.7 285.0h0M299.4 327.5h0M251.7 333.5h0M94.1 284.6h0M290.7 347.7h0M60.3 325.4h0M94.9 286.6h0M297.7 341.9h0M250.3 354.8h0M252.9 329.4h0M313.9 328.4h0M127.4 281.7h0M139.4 316.6h0M264.6 325.6h0M140.5 305.3h0M167.3 289.4h0M312.1 330.7h0M224.0 344.8h0M223.5 329.5h0M245.5 329.3h0M58.3 323.6h0M72.5 332.1h0M105.4 286.1h0M188.1 288.1h0M194.7 306.2h0M53.7 351.3h0M137.9 284.4h0M46.0 331.2h0M159.5 291.5h0M48.7 331.4h0M233.8 352.4h0M204.4 304.0h0M169.0 288.4h0M303.8 330.5h0M146.0 304.1h0M80.8 329.5h0M199.3 307.6h0M58.8 324.4h0M232.6 345.5h0M98.7 282.3h0M229.8 335.0h0M253.5 324.7h0M87.4 328.7h0M44.4 327.2h0M49.5 346.7h0M117.9 286.6h0M227.8 328.0h0M109.8 285.4h0M151.5 282.7h0M233.4 332.9h0M251.1 328.9h0M262.5 328.3h0M82.1 342.2h0M278.1 330.8h0M250.3 331.9h0M198.4 280.7h0M279.6 324.7h0M199.8 308.8h0M260.2 326.5h0M229.3 332.3h0M164.4 286.4h0M65.4 330.8h0M103.7 312.6h0M79.8 330.1h0M154.1 290.8h0M84.3 328.2h0M194.5 279.8h0M196.1 310.6h0M141.8 281.8h0M290.3 324.8h0M55.1 330.6h0M297.8 333.9h0M292.0 327.5h0M122.5 287.5h0M171.8 290.9h0M63.9 342.1h0M204.6 313.9h0M211.0 311.7h0M51.5 328.0h0M240.2 342.7h0M229.5 343.5h0M127.7 303.6h0M107.9 291.1h0M104.4 299.6h0M144.2 282.1h0M298.5 332.5h0M252.7 352.5h0M296.6 341.1h0M290.7 328.0h0M208.5 286.3h0M266.2 326.9h0M152.3 284.0h0M87.5 329.3h0M223.6 329.0h0M257.1 330.9h0M308.6 326.5h0M252.3 330.1h0M246.4 333.8h0M192.5 315.0h0M225.3 327.2h0M274.9 331.8h0M115.5 285.6h0M275.4 330.6h0M293.0 331.3h0M233.3 335.0h0M144.3 280.0h0M116.8 279.6h0M181.1 283.2h0M243.5 326.3h0M171.0 299.1h0M289.6 333.4h0M232.9 330.6h0M290.2 330.6h0M72.5 334.5h0M258.4 322.9h0M262.8 327.2h0M125.7 279.7h0M78.6 329.8h0M135.2 312.0h0M229.2 332.2h0M128.2 309.6h0M167.1 289.6h0M247.7 325.5h0M47.2 346.3h0M304.3 328.0h0M112.1 308.1h0M94.6 327.4h0M280.3 330.1h0M160.3 286.8h0M282.1 318.7h0M145.4 285.2h0M297.4 346.9h0M290.2 328.7h0M291.7 328.8h0M297.0 331.8h0M61.1 328.3h0M301.6 332.9h0M154.8 279.9h0M270.4 328.9h0M58.4 331.5h0M49.4 332.7h0M228.8 325.8h0M131.7 301.2h0M199.6 314.6h0M139.0 281.0h0M264.4 346.2h0M293.7 324.2h0M191.1 313.3h0M188.4 284.5h0M197.5 289.1h0M297.4 325.6h0M69.2 335.1h0M241.2 338.8h0M251.6 328.2h0M138.2 312.3h0M192.8 314.5h0M289.4 350.6h0M247.8 330.2h0M250.2 330.2h0M73.1 332.6h0M263.0 331.7h0M126.0 308.4h0M253.5 335.5h0M272.6 335.5h0M44.4 324.3h0M228.8 330.0h0M251.7 351.1h0M47.7 342.2h0M242.8 330.9h0M141.0 283.6h0M283.2 347.9h0M54.2 330.2h0M172.8 305.2h0M164.0 311.4h0M118.1 277.6h0M156.7 280.0h0M84.4 350.9h0M60.5 332.1h0M246.8 351.5h0M275.5 333.1h0M314.1 350.0h0M165.8 281.5h0M126.4 280.8h0M175.0 283.3h0M59.0 325.9h0M57.3 333.3h0M70.6 329.7h0M317.9 323.4h0M220.0 323.7h0M149.0 306.3h0M257.5 330.7h0M141.2 303.4h0M59.3 342.3h0M164.4 282.4h0M162.9 289.6h0M313.9 331.2h0M120.3 282.0h0M296.2 331.0h0M292.7 326.6h0M316.8 334.7h0M231.7 331.2h0M102.5 303.1h0M53.1 329.6h0M250.3 325.1h0M108.3 281.7h0M297.8 333.3h0M307.5 325.2h0M73.4 331.6h0M297.8 331.3h0M47.6 325.9h0M312.8 328.0h0M253.4 326.5h0M152.9 292.1h0M309.9 346.2h0M264.1 343.5h0M317.2 334.7h0M233.8 346.0h0M123.5 294.1h0M189.4 281.3h0M180.2 285.6h0M93.7 278.7h0M299.0 333.2h0M89.8 333.2h0M171.1 294.5h0M130.0 302.5h0M264.6 330.2h0M221.6 331.1h0M290.4 347.8h0M255.2 333.3h0M172.1 288.0h0M71.5 355.8h0M225.6 325.4h0M48.1 335.2h0M86.1 325.9h0M256.0 355.8h0M294.2 331.7h0M64.7 342.1h0M191.7 285.2h0M137.5 284.4h0M232.3 329.8h0M270.1 326.9h0M295.7 328.1h0M138.8 280.7h0M207.4 292.2h0M72.9 325.9h0M246.9 330.5h0M46.8 330.9h0M251.0 326.5h0M173.8 282.1h0M229.0 329.6h0M49.1 331.6h0M244.3 322.8h0M211.1 288.4h0M286.0 348.0h0M229.5 326.8h0M315.8 345.3h0M89.0 333.1h0M300.5 324.6h0M219.8 324.2h0M284.0 330.4h0M195.8 281.2h0M73.2 334.4h0M111.4 303.6h0M297.5 324.3h0M231.0 338.8h0M272.2 332.4h0M58.0 327.1h0M245.6 328.7h0M139.3 281.4h0M220.5 351.1h0M275.8 342.3h0M204.6 289.0h0M262.1 338.3h0M151.1 278.9h0M238.3 343.1h0M124.7 286.4h0M262.5 335.0h0M60.5 327.3h0M247.4 325.9h0M222.8 331.9h0M44.1 326.0h0M253.8 332.2h0M149.6 306.6h0M234.8 331.7h0M316.7 330.4h0M186.2 291.3h0M225.3 329.4h0M175.6 291.7h0M165.6 285.7h0M73.9 333.6h0M239.8 329.5h0M225.2 329.8h0M148.8 281.6h0M101.8 283.3h0M74.8 335.0h0M246.2 326.8h0M54.0 350.3h0M87.7 331.3h0M173.0 287.4h0M71.5 342.0h0M287.1 329.4h0M303.1 344.7h0M258.1 326.1h0M213.8 307.1h0M41.2 337.8h0M320.1 329.7h0M225.8 330.1h0M137.2 288.7h0M125.4 284.5h0M109.0 307.5h0M314.9 328.7h0M109.6 287.3h0M122.8 283.2h0M260.0 328.9h0M136.4 287.9h0M94.8 287.5h0M158.0 289.0h0M296.7 324.7h0M202.5 280.4h0M280.0 324.1h0M227.4 346.4h0M148.5 280.4h0M246.2 326.1h0M231.7 323.1h0M128.3 303.4h0M259.6 328.1h0M91.1 324.0h0M94.2 323.0h0M319.9 328.7h0M221.5 342.3h0M167.6 286.4h0M265.7 326.6h0M92.6 322.3h0M77.7 333.5h0M193.6 322.8h0M90.4 330.4h0M50.5 322.2h0M68.8 328.8h0M141.3 286.0h0M201.3 282.9h0M286.8 325.9h0M70.3 326.3h0M276.4 330.7h0M152.4 294.7h0M173.2 288.3h0M242.8 324.5h0M89.1 328.4h0M155.1 288.1h0M191.8 289.8h0M140.9 312.6h0M47.0 329.3h0M141.0 277.7h0M294.0 331.4h0M303.1 325.3h0M56.1 345.8h0M68.4 328.4h0M164.0 281.7h0M263.5 340.5h0M134.4 279.0h0M281.6 329.8h0M61.2 327.4h0M263.1 340.9h0M177.2 272.6h0M308.1 324.5h0M56.2 326.7h0M148.1 282.1h0M41.5 325.8h0M227.4 326.7h0M167.6 306.6h0M317.8 332.2h0M264.0 329.1h0M92.6 326.1h0M222.9 328.9h0M71.8 329.3h0M83.8 322.7h0M147.1 280.4h0M231.4 332.8h0M242.9 326.7h0M206.5 278.9h0M236.5 327.0h0M221.4 329.5h0M65.2 324.5h0M295.4 331.7h0M266.5 335.5h0M219.9 322.9h0M255.6 331.1h0M278.1 330.5h0M167.4 311.5h0M202.6 288.9h0M281.0 330.7h0M85.2 331.0h0M64.6 329.6h0M71.4 324.4h0M301.2 333.7h0M84.8 331.1h0M194.5 311.3h0M301.6 328.6h0M109.7 285.2h0M252.3 334.1h0M185.9 290.5h0M243.9 328.1h0M300.1 331.9h0M253.6 322.6h0M229.0 329.4h0M116.6 284.7h0M129.9 301.6h0M218.8 330.6h0M220.2 329.5h0M282.1 326.6h0M294.5 327.9h0M316.9 353.2h0M315.1 340.3h0M317.2 329.0h0M259.2 326.0h0M90.6 334.4h0M122.0 289.6h0M56.6 349.3h0M137.9 289.4h0M54.5 324.1h0M94.6 335.5h0M67.6 321.7h0M51.6 325.8h0M76.7 339.3h0M110.5 306.0h0M150.1 302.1h0M272.0 340.0h0M286.6 327.2h0M255.8 351.1h0M41.1 331.6h0M51.5 323.5h0M202.7 279.7h0M158.9 288.3h0M257.3 346.3h0M143.2 279.7h0M42.4 335.3h0M76.3 336.6h0M203.2 282.2h0M148.5 310.4h0M242.1 335.4h0M311.4 340.1h0M281.6 326.0h0M47.9 342.2h0M84.0 343.0h0M239.1 343.6h0M321.7 326.4h0M305.2 331.2h0M107.8 303.6h0M258.5 330.8h0M241.0 331.0h0M202.7 280.2h0M257.7 329.2h0M260.6 325.8h0M213.2 309.8h0M133.9 311.3h0M247.9 329.7h0M200.4 309.3h0M208.0 281.8h0M119.3 282.0h0M294.6 324.9h0M134.3 313.4h0M60.9 325.2h0M265.7 324.5h0M258.4 326.6h0M230.3 334.1h0M89.1 325.1h0M60.7 322.6h0M94.6 329.4h0M224.1 338.3h0M296.5 329.7h0M166.4 316.6h0M287.1 332.7h0M122.4 283.1h0M316.1 349.0h0M65.0 332.0h0M138.8 281.0h0M273.9 330.7h0M284.3 329.5h0M177.9 290.0h0M297.4 331.4h0M173.9 283.7h0M192.0 309.8h0M317.0 338.6h0M208.2 287.1h0M319.8 350.2h0M44.1 340.2h0M297.0 331.2h0M281.9 333.9h0M137.2 310.8h0M117.0 306.4h0M106.8 290.1h0M175.0 293.4h0M84.9 331.5h0M64.3 333.9h0M173.4 280.9h0M260.9 333.9h0M92.8 333.6h0M243.7 331.9h0M107.9 286.3h0M185.4 282.8h0M308.6 329.1h0M130.3 360.0h0M80.0 341.5h0M87.1 328.5h0M257.7 329.4h0M286.5 333.7h0M42.4 340.4h0M174.2 285.7h0M139.6 306.0h0M63.9 333.7h0M311.8 350.1h0M286.6 327.9h0M222.7 350.6h0M157.0 284.8h0M69.2 326.2h0M134.1 288.0h0M284.0 324.5h0M241.6 325.8h0M211.5 279.9h0M156.7 283.1h0M247.8 324.9h0M72.5 331.7h0M288.8 331.2h0M304.6 326.0h0M54.5 330.1h0M86.6 328.9h0M153.7 284.5h0M58.2 347.9h0M134.5 289.9h0M151.7 286.1h0M108.3 302.6h0M48.2 324.4h0M245.0 348.5h0M243.9 329.7h0M320.2 332.9h0M60.2 331.6h0M293.2 331.9h0M146.7 310.0h0M77.2 337.2h0M202.5 315.1h0M108.9 302.8h0M289.1 348.9h0M106.9 305.8h0M286.8 332.1h0M253.5 347.4h0M314.9 331.0h0M94.9 326.5h0M312.8 323.7h0M120.2 284.3h0M166.7 315.1h0M285.8 328.5h0M58.9 324.8h0M91.7 326.7h0M84.7 327.1h0M88.5 324.2h0M278.6 331.2h0M224.3 344.6h0M262.7 341.0h0M252.8 332.4h0M257.6 330.8h0M306.1 326.2h0M121.9 283.9h0M87.3 331.3h0M242.1 340.5h0M57.4 324.2h0M58.3 326.8h0M210.8 312.5h0M256.2 327.2h0M245.7 330.3h0M51.1 324.9h0M315.6 323.4h0M317.0 353.2h0M156.0 280.8h0M260.9 323.4h0M252.6 327.8h0M69.3 323.1h0M91.0 335.1h0M270.6 318.7h0M225.3 345.6h0M76.8 326.5h0M308.4 324.5h0M319.6 332.5h0M284.8 348.5h0M195.7 283.7h0M43.5 328.1h0M303.6 326.2h0M305.1 329.2h0M41.7 325.6h0M299.7 328.2h0M305.1 327.9h0M75.1 326.3h0M43.4 338.9h0M105.0 308.9h0M207.3 289.6h0M95.2 328.3h0M239.7 341.6h0M101.8 285.1h0M290.7 332.7h0M131.4 315.3h0M70.1 352.5h0M181.5 284.7h0M202.2 302.9h0M62.8 327.6h0M219.3 349.4h0M296.9 328.1h0M103.6 312.7h0M264.1 330.6h0M262.5 335.6h0M241.9 332.3h0M62.3 328.6h0M276.9 331.3h0M57.9 325.7h0M205.2 318.0h0M46.4 335.7h0M106.6 305.4h0M107.8 292.0h0M221.1 325.8h0M134.3 278.7h0M48.5 325.1h0M74.5 332.5h0M225.2 328.3h0M245.5 359.7h0M239.7 343.3h0M239.0 330.1h0M119.4 287.2h0M85.7 330.3h0M120.4 291.7h0M175.3 307.2h0M106.1 288.4h0M155.3 281.7h0M179.4 294.4h0M223.6 326.8h0M105.1 283.7h0M173.3 286.1h0M41.1 338.7h0M273.9 330.6h0M221.3 350.5h0M240.8 339.8h0M47.7 332.1h0M282.3 335.3h0M54.5 321.8h0M87.9 332.4h0M140.3 279.8h0M281.7 317.6h0M124.9 308.7h0M227.8 333.7h0M303.9 331.6h0M190.5 311.5h0M275.5 332.6h0M197.4 285.6h0M227.8 328.5h0M79.1 342.1h0M86.6 325.1h0M288.8 329.3h0M179.8 303.0h0M230.0 328.8h0M194.7 284.2h0M293.0 328.7h0M229.1 329.6h0M287.6 333.6h0M201.5 286.8h0M46.5 331.7h0M184.2 285.0h0M203.5 285.2h0M94.8 327.7h0M222.7 340.0h0M315.4 327.7h0M248.3 346.8h0M82.5 342.6h0M115.5 284.0h0M231.1 325.0h0M198.4 308.8h0M178.9 306.6h0M293.8 356.6h0M285.2 326.8h0M196.4 288.2h0M158.1 284.7h0M267.5 326.1h0M287.2 327.1h0M55.0 329.3h0M138.0 307.8h0M211.2 288.1h0M175.2 289.7h0M141.7 315.2h0M80.4 329.4h0M196.8 309.7h0M273.6 328.3h0M274.0 326.0h0M287.6 348.7h0M265.3 328.0h0M106.7 280.3h0M156.1 283.8h0M283.3 342.1h0M290.0 331.1h0M72.5 349.6h0M116.2 283.6h0M105.7 302.4h0M270.6 330.0h0M241.4 331.4h0M58.2 327.7h0M316.5 330.3h0M87.8 334.6h0M288.8 332.5h0M223.4 327.3h0M229.2 330.5h0M281.2 329.9h0M88.2 345.4h0M217.5 305.7h0M190.5 289.5h0M278.5 330.5h0M273.0 334.4h0M233.9 329.1h0M49.1 331.2h0M286.0 328.9h0M241.3 327.3h0M305.0 330.0h0M127.6 281.7h0M79.1 330.4h0M291.5 330.7h0M41.5 323.9h0M204.4 285.3h0M278.8 326.7h0M161.0 290.0h0M187.4 285.1h0M293.6 325.3h0M269.8 345.8h0M293.1 324.7h0M74.1 329.5h0M55.5 353.1h0M193.3 317.4h0M317.5 328.2h0M254.9 329.2h0M189.5 289.9h0M292.6 323.4h0M316.3 327.2h0M204.8 280.5h0M67.3 324.1h0M210.2 284.2h0M267.7 328.7h0M226.0 323.2h0M232.9 325.8h0M312.6 326.5h0M197.5 308.4h0M54.9 329.6h0M118.8 281.2h0M273.6 329.6h0M50.9 327.9h0M315.4 348.4h0M258.1 326.3h0M196.5 292.8h0M131.4 308.4h0M116.1 308.9h0M291.3 322.7h0M151.6 292.7h0M126.5 284.5h0M247.2 334.5h0M249.9 325.7h0M253.4 333.1h0M231.1 325.1h0M257.7 325.0h0M154.6 284.8h0M185.7 284.9h0M44.9 335.2h0M265.5 344.2h0M255.9 332.1h0M47.4 331.3h0M254.8 333.7h0M311.4 356.1h0M246.6 331.7h0M183.1 288.5h0M146.2 282.6h0M156.2 279.2h0M130.5 310.0h0M256.6 334.0h0M69.8 357.9h0M63.7 339.0h0M108.2 306.0h0M275.4 341.0h0M276.6 332.9h0M196.7 280.8h0M87.2 327.4h0M95.1 325.9h0M272.6 328.5h0M69.6 335.1h0M311.7 333.9h0M61.9 332.2h0M91.4 327.3h0M280.3 332.9h0M318.7 354.4h0M133.8 282.5h0M292.4 330.8h0M80.3 330.9h0M236.8 327.8h0M277.4 323.9h0M139.7 314.7h0M276.7 330.4h0M278.4 322.9h0M94.1 332.4h0M267.8 332.0h0M200.7 285.1h0M55.5 350.1h0M85.5 328.1h0M132.4 312.7h0M45.4 332.8h0M284.3 322.9h0M199.1 321.4h0M136.2 309.8h0M234.5 328.5h0M243.6 331.4h0M88.8 329.3h0M48.5 332.5h0M201.2 285.3h0M265.5 328.4h0M118.5 288.3h0M73.8 360.3h0M219.3 332.8h0M268.0 335.4h0M61.6 326.0h0M58.3 326.5h0M94.6 331.4h0M197.1 308.5h0M247.9 360.6h0M235.1 346.2h0M271.0 333.9h0M51.7 328.1h0M261.8 318.0h0M68.8 330.5h0M112.6 306.7h0M62.6 324.0h0M45.3 327.7h0M249.1 333.8h0M50.3 329.3h0M70.2 325.8h0M238.7 331.0h0M267.5 327.9h0M194.4 323.6h0M267.7 323.0h0M305.4 329.1h0M106.2 305.1h0M69.5 331.2h0M291.2 334.2h0M261.1 325.3h0M279.2 334.7h0M116.3 285.7h0M150.8 310.6h0M96.0 280.7h0M140.7 301.5h0M246.6 332.7h0M82.0 328.2h0M154.2 282.0h0M313.8 332.5h0M187.4 281.6h0M315.3 330.7h0M152.8 278.3h0M84.0 343.1h0M275.1 326.8h0M168.1 308.5h0M295.0 331.5h0M164.5 282.4h0M211.7 309.3h0M54.1 323.4h0M317.5 333.7h0M82.8 340.8h0M188.8 282.4h0M244.3 334.3h0M206.0 313.0h0M254.4 333.6h0M157.3 288.7h0M192.3 315.3h0M276.6 332.7h0M321.6 327.0h0M170.9 286.4h0M221.2 327.9h0M315.5 322.7h0M196.0 284.9h0M177.4 288.1h0M204.0 302.8h0M96.3 281.9h0M306.8 324.1h0M236.4 332.0h0M270.7 326.3h0M107.7 306.5h0M274.4 332.4h0M226.1 343.4h0M57.3 324.1h0M64.5 332.7h0M227.1 332.3h0M80.4 326.1h0M231.6 325.2h0M133.5 307.4h0M222.5 325.5h0M149.6 311.0h0M105.1 287.8h0M41.0 326.8h0M313.5 330.1h0M164.9 285.9h0M76.8 328.9h0M126.4 305.4h0M256.2 342.6h0M232.5 326.5h0M293.7 328.6h0M80.6 323.1h0M56.4 325.8h0M305.3 333.1h0M254.3 327.1h0M296.5 329.8h0M300.7 324.0h0M69.1 330.2h0M174.5 300.6h0M90.1 329.3h0M57.6 326.7h0M315.1 330.5h0M61.4 333.3h0M267.0 345.5h0M232.4 328.8h0M243.5 328.7h0M254.1 335.1h0M277.9 329.4h0M94.5 285.9h0M223.5 334.3h0M268.7 331.3h0M67.4 325.1h0M300.7 328.4h0M173.0 282.0h0M75.7 331.8h0M314.0 328.2h0M102.2 285.4h0M306.3 334.1h0M170.9 285.3h0M51.7 326.1h0M291.1 328.7h0M192.0 283.7h0M85.4 324.7h0M289.2 333.0h0M184.0 290.1h0M148.5 309.1h0M59.8 349.2h0M47.5 326.6h0M182.3 282.6h0M78.8 332.2h0M211.4 310.2h0M205.0 292.4h0M312.4 331.6h0M93.9 283.0h0M262.4 331.2h0M292.3 324.2h0M280.9 329.1h0M143.7 286.8h0M221.0 329.3h0M104.9 282.7h0M313.3 329.4h0M192.2 312.8h0M144.4 284.3h0M163.8 306.4h0M262.7 332.7h0M306.1 325.2h0M42.1 333.2h0M229.4 341.3h0M116.9 288.0h0M77.3 336.6h0M290.4 325.5h0M276.7 329.8h0M253.8 342.1h0M227.6 327.4h0M52.3 354.9h0M308.9 325.5h0M92.8 332.2h0M79.7 321.5h0M242.3 331.6h0M69.3 325.0h0M299.3 331.3h0M45.4 327.0h0M157.6 294.8h0M271.2 325.1h0M202.7 314.3h0M140.3 280.5h0M198.7 319.4h0M253.6 340.5h0M63.1 334.4h0M87.9 347.7h0M232.6 329.7h0M273.1 333.4h0M146.1 315.6h0M229.9 318.8h0M42.7 340.0h0M252.6 334.7h0M280.6 327.2h0M277.4 330.0h0M135.4 308.0h0M284.0 350.8h0M207.9 288.9h0M252.9 341.6h0M269.8 331.8h0M317.2 326.8h0M137.5 284.4h0M50.6 324.2h0M152.2 282.2h0M152.9 278.8h0M309.3 330.9h0M261.9 317.3h0M96.1 279.9h0M90.2 327.3h0M62.1 334.9h0M206.2 279.2h0M49.2 325.1h0M321.0 323.6h0M295.9 325.4h0M86.5 346.8h0M136.5 310.2h0M313.5 329.0h0M50.8 327.8h0M228.1 330.4h0M85.3 327.6h0M41.0 333.0h0M220.7 326.4h0M254.9 339.9h0M144.8 280.7h0M190.2 310.9h0M195.8 284.2h0M246.8 332.0h0M184.2 287.9h0M315.9 333.2h0M74.7 327.2h0M230.4 333.8h0M226.1 334.3h0M187.0 289.1h0M147.0 280.9h0M276.0 327.5h0M252.9 347.8h0M263.0 341.9h0M256.2 360.0h0M191.4 279.7h0M150.9 312.3h0M257.0 327.7h0M53.5 354.0h0M253.5 323.3h0M48.9 332.6h0M304.9 332.7h0M283.5 328.6h0M275.1 325.9h0M230.6 349.2h0M140.8 311.1h0M103.5 281.9h0M296.1 329.8h0M83.3 335.7h0M54.3 333.5h0M282.3 333.1h0M306.4 343.7h0M255.0 325.8h0M251.5 330.3h0M266.5 339.5h0M41.8 338.9h0M107.6 285.2h0M137.8 283.8h0M263.7 345.2h0M90.7 330.3h0M143.6 290.5h0M93.5 324.6h0M179.4 284.8h0M152.0 283.3h0M95.2 328.3h0M165.3 289.0h0M172.0 306.2h0M286.2 323.7h0M252.0 354.6h0M318.7 346.9h0M56.7 326.6h0M269.9 325.8h0M277.1 321.8h0M247.4 346.4h0M179.7 283.6h0M253.1 354.8h0M293.8 329.6h0M246.2 342.8h0M71.6 355.9h0M173.5 290.5h0M144.4 309.8h0M41.7 339.1h0M58.2 325.8h0M158.6 286.6h0M184.8 288.8h0M285.8 347.5h0M79.5 327.1h0M138.8 286.0h0M267.9 322.7h0M46.2 326.3h0M170.9 306.9h0M46.3 333.3h0M50.1 335.5h0M93.2 279.5h0M232.6 332.4h0M182.2 286.5h0M80.0 324.7h0M282.5 330.2h0M177.3 301.9h0M86.5 332.1h0M196.8 283.6h0M238.5 329.4h0M60.3 322.8h0M289.7 335.4h0M275.6 338.9h0M57.4 328.9h0M322.3 333.7h0M207.0 279.3h0M143.4 282.8h0M56.7 330.2h0M307.2 328.6h0M253.9 328.2h0M190.7 286.8h0M83.7 327.3h0M260.9 333.0h0M194.5 307.1h0M109.6 279.8h0M101.7 286.3h0M236.4 339.4h0M197.5 309.9h0M190.8 307.7h0M143.4 288.5h0M150.1 318.7h0M183.9 281.7h0M228.0 329.9h0M269.8 327.6h0M68.6 321.0h0M322.6 344.5h0M69.2 334.5h0M104.9 287.0h0M198.2 307.1h0M44.1 334.3h0M286.6 333.3h0M116.1 307.6h0M318.8 352.5h0M190.8 310.3h0M134.9 310.6h0M72.3 327.9h0M43.9 339.9h0M93.8 332.7h0M168.7 297.9h0M179.7 304.8h0M228.1 333.6h0M49.0 328.7h0M255.5 353.0h0M81.4 335.6h0M64.7 327.3h0M303.0 330.9h0M147.3 281.8h0M123.8 284.4h0M43.7 328.4h0M62.3 329.9h0M231.8 343.3h0M160.1 280.7h0M44.9 329.6h0M77.2 342.2h0M131.0 307.5h0M67.1 332.5h0M290.2 329.0h0M98.7 287.9h0M76.7 336.1h0M218.3 339.0h0M301.0 334.6h0M121.0 280.6h0M236.6 327.8h0M84.5 329.3h0M210.0 285.9h0M134.8 282.6h0M95.0 329.1h0M236.0 348.3h0M104.5 288.2h0M251.0 354.2h0M260.4 330.6h0M140.2 307.2h0M180.0 284.3h0M289.7 341.3h0M246.0 344.8h0M233.5 347.1h0M64.5 344.1h0M210.4 309.1h0M153.5 291.3h0M247.9 327.9h0M278.6 323.9h0M111.1 302.3h0M286.4 332.6h0M306.1 328.0h0M164.9 292.5h0M53.9 330.5h0M241.4 329.1h0M252.8 345.3h0M308.0 334.0h0M311.8 328.2h0M317.9 327.0h0M64.1 333.3h0M219.0 328.3h0M161.2 293.2h0M108.2 290.1h0M244.9 331.6h0M105.7 312.2h0M230.5 335.3h0M87.1 330.7h0" stroke="#ff4450" stroke-width="3.2" stroke-linecap="round" fill="none" stroke-opacity="0.58"/>
<path d="M54.8 325.8h0M130.6 312.6h0M152.5 295.0h0M202.1 305.4h0M188.0 289.1h0M236.4 350.8h0M246.9 327.1h0M218.7 348.9h0M243.2 326.0h0M145.0 286.6h0M304.9 325.5h0M130.8 310.9h0M289.7 327.5h0M61.2 325.7h0M42.5 328.6h0M55.0 330.8h0M245.9 331.1h0M256.7 353.1h0M142.3 315.4h0M294.9 324.0h0M225.6 329.6h0M84.6 322.6h0M305.3 330.7h0M78.4 328.0h0M75.9 328.0h0M310.2 333.5h0M226.0 350.6h0M119.7 284.9h0M154.3 287.9h0M165.1 286.2h0M138.0 279.8h0M43.0 338.2h0M148.9 312.9h0M246.3 351.8h0M49.9 332.7h0M303.7 324.3h0M233.5 318.9h0M303.2 343.7h0M163.7 289.2h0M156.1 286.6h0M94.0 290.7h0M251.5 330.3h0M159.8 283.1h0M175.6 311.5h0M150.7 310.9h0M260.3 327.4h0M260.1 334.0h0M220.3 328.6h0M263.1 343.7h0M91.9 328.2h0M243.1 328.3h0M57.3 334.7h0M229.7 329.7h0M284.4 328.6h0M251.4 351.2h0M313.6 332.3h0M46.4 332.0h0M209.7 303.6h0M287.2 327.2h0M140.8 314.5h0M252.9 329.3h0M206.4 290.7h0M292.3 328.9h0M179.8 289.2h0M62.4 327.0h0M90.7 330.0h0M164.2 288.4h0M164.9 295.2h0M57.9 324.5h0M227.1 327.1h0M126.4 306.7h0M54.7 327.9h0M205.3 317.0h0M234.6 331.8h0M228.3 332.2h0M42.1 328.2h0M203.9 312.4h0M257.3 325.0h0M190.3 291.7h0M89.9 321.9h0M196.9 282.8h0M125.0 283.5h0M210.4 286.1h0M234.8 350.3h0M155.2 289.5h0M206.8 284.6h0M112.1 309.6h0M72.7 329.7h0M288.4 344.7h0M40.8 332.8h0M229.2 327.5h0M42.1 326.3h0M166.8 289.1h0M197.2 311.9h0M297.1 346.2h0M189.3 285.8h0M117.0 306.1h0M131.2 308.8h0M180.2 301.5h0M204.6 281.0h0M126.6 309.7h0M70.1 325.5h0M238.5 332.4h0M43.3 329.7h0M292.4 335.6h0M251.8 323.5h0M272.2 341.9h0M266.2 333.9h0M101.7 286.1h0M222.0 350.9h0M290.5 329.9h0M86.2 335.0h0M102.3 287.1h0M183.8 292.7h0M219.0 344.4h0M63.0 325.8h0M287.0 332.5h0M311.7 351.9h0M42.0 324.9h0M209.3 281.5h0M219.2 344.4h0M116.0 305.0h0M312.8 331.7h0M220.8 331.2h0M220.8 329.7h0M255.4 334.7h0M174.9 289.2h0M289.3 324.2h0M285.0 356.9h0M281.9 348.7h0M94.3 332.4h0M296.5 334.0h0M161.0 287.8h0M64.3 328.5h0M303.7 333.3h0M54.2 328.0h0M81.2 329.6h0M243.3 333.8h0M216.0 304.4h0M317.0 329.5h0M244.0 331.0h0M165.1 293.6h0M145.7 283.5h0M140.7 280.5h0M262.2 329.9h0M242.4 329.4h0M307.4 327.8h0M191.6 286.3h0M110.1 305.2h0M259.0 329.8h0M197.0 283.7h0M77.0 331.2h0M77.6 328.8h0M317.2 331.6h0M269.3 322.7h0M62.5 324.1h0M289.7 349.6h0M144.0 283.4h0M205.2 288.9h0M295.1 328.5h0M73.3 324.4h0M271.1 327.5h0M248.0 328.7h0M151.3 284.6h0M222.9 332.9h0M275.4 327.7h0M194.2 319.8h0M245.0 326.9h0M300.1 325.3h0M86.9 331.7h0M240.7 339.8h0M84.0 327.2h0M220.5 329.5h0M190.8 307.4h0M192.5 309.4h0M86.3 338.8h0M70.9 329.0h0M238.9 333.0h0M302.1 326.4h0M251.0 327.7h0M137.1 285.8h0M316.2 325.6h0M234.7 328.1h0M102.6 302.8h0M143.2 281.8h0M71.7 331.6h0M251.7 328.6h0M266.1 345.4h0M294.4 333.4h0M67.5 331.4h0M56.4 333.7h0M263.7 344.9h0M253.6 334.5h0M43.6 330.1h0M48.4 326.2h0M151.0 318.9h0M254.9 326.4h0M274.6 328.1h0M314.9 344.6h0M241.8 338.3h0M74.3 321.4h0M301.1 332.5h0M48.0 327.4h0M225.9 346.6h0M290.6 334.2h0M160.7 286.8h0M304.3 328.3h0M261.7 324.5h0M278.4 330.2h0M287.2 344.4h0M310.4 345.4h0M187.1 293.9h0M233.7 325.9h0M83.9 341.5h0M74.8 333.7h0M262.4 332.3h0M289.5 333.0h0M96.1 290.2h0M193.4 308.4h0M64.7 329.3h0M297.2 355.7h0M303.4 344.5h0M155.6 284.3h0M209.6 278.9h0M233.2 325.5h0M117.3 281.9h0M104.3 286.0h0M102.6 308.4h0M70.1 329.1h0M215.5 319.5h0M204.6 319.0h0M247.5 329.7h0M236.9 326.3h0M197.5 288.6h0M170.1 285.1h0M275.3 342.4h0M203.2 317.4h0M276.2 333.3h0M138.8 304.1h0M62.6 333.5h0M94.9 307.2h0M299.2 326.3h0M86.2 326.3h0M41.8 332.4h0M293.2 333.5h0M47.6 332.5h0M198.9 311.8h0M242.7 328.4h0M115.4 312.2h0M246.8 325.2h0M294.4 329.8h0M220.7 351.1h0M277.4 328.9h0M305.5 325.8h0M314.1 323.5h0M312.1 332.9h0M46.1 328.0h0M234.2 328.4h0M126.3 285.4h0M311.0 354.5h0M62.5 332.6h0M269.4 327.4h0M68.7 325.2h0M258.4 332.1h0M198.7 319.9h0M212.1 307.5h0M220.6 334.5h0M232.1 330.2h0M192.3 314.7h0M116.7 301.6h0M78.2 327.1h0M201.7 284.7h0M242.4 334.3h0M256.8 326.5h0M265.5 326.4h0M246.9 353.0h0M188.1 280.4h0M218.4 326.8h0M296.6 329.7h0M166.4 314.7h0M89.2 333.3h0M55.1 328.5h0M240.6 338.5h0M69.6 322.1h0M58.2 341.6h0M77.9 322.6h0M43.7 337.8h0M73.1 320.8h0M248.0 345.5h0M76.9 334.5h0M60.3 333.6h0M90.4 326.3h0M190.5 284.4h0M284.2 326.0h0M54.3 326.3h0M255.4 328.7h0M242.3 329.5h0M50.4 333.1h0M297.8 345.5h0M89.4 329.2h0M315.8 326.0h0M93.0 279.8h0M124.9 285.5h0M118.1 285.5h0M299.8 323.2h0M287.7 329.2h0M296.5 329.5h0M170.6 291.4h0M320.9 347.7h0M291.4 330.9h0M100.2 283.9h0M154.7 285.0h0M192.7 321.9h0M289.3 334.0h0M279.7 324.0h0M254.7 327.9h0M61.8 328.0h0M202.4 281.4h0M303.8 333.3h0M54.7 328.7h0M195.0 313.9h0M86.9 332.7h0M75.7 330.8h0M94.2 287.5h0M87.6 335.1h0M59.5 349.2h0M199.0 305.1h0M156.4 285.1h0M231.7 328.2h0M268.9 331.9h0M319.4 322.1h0M122.3 279.6h0M138.5 283.6h0M111.0 305.3h0M138.3 307.2h0M279.1 327.2h0M245.5 335.8h0M291.4 323.8h0M308.6 325.4h0M188.5 284.8h0M310.8 349.1h0M316.0 358.5h0M298.2 328.7h0M182.9 291.4h0M150.8 313.6h0M194.3 290.0h0M298.0 333.9h0M87.2 328.6h0M315.2 350.4h0M148.2 286.4h0M300.2 325.3h0M58.8 327.5h0M166.5 314.6h0M64.1 334.0h0M240.4 340.5h0M58.6 327.4h0M138.4 302.9h0M73.0 328.1h0M256.1 328.7h0M313.3 322.7h0M238.1 326.3h0M321.7 333.0h0M159.3 292.8h0M221.5 331.2h0M176.8 305.4h0M172.2 307.5h0M91.2 322.8h0M301.4 336.0h0M69.8 358.5h0M230.4 344.3h0M200.2 310.3h0M109.4 285.4h0M53.2 349.8h0M315.6 353.2h0M291.2 323.5h0M57.9 351.6h0M140.2 305.4h0M276.6 330.5h0M269.4 326.9h0M48.9 334.8h0M274.6 341.1h0M192.7 322.0h0M217.5 308.1h0M234.3 348.8h0M234.2 324.3h0M221.6 328.2h0M61.5 330.6h0M203.1 314.6h0M65.0 329.2h0M231.7 347.7h0M77.4 331.9h0M92.7 330.2h0M63.9 326.7h0M79.9 335.9h0M123.9 303.1h0M70.1 327.4h0M306.6 325.5h0M252.0 330.5h0M316.7 324.4h0M124.2 312.3h0M286.6 329.7h0M209.5 309.9h0M312.5 327.5h0M165.1 291.0h0M319.9 326.2h0M201.2 280.8h0M60.5 328.1h0M62.0 333.6h0M143.0 288.0h0M206.5 287.0h0M119.4 288.3h0M229.5 332.2h0M77.9 325.3h0M265.9 329.6h0M84.0 342.3h0M57.5 327.0h0M56.0 344.5h0M71.1 327.1h0M291.0 321.9h0M271.3 329.3h0M105.0 284.5h0M81.9 325.3h0M86.3 326.4h0M308.7 328.3h0M86.1 330.9h0M299.9 327.2h0M79.0 330.3h0M155.8 285.3h0M306.6 332.0h0M43.9 328.6h0M259.6 327.3h0M297.1 330.0h0M49.9 333.8h0M205.8 285.2h0M120.3 281.7h0M312.7 326.8h0M110.5 305.0h0M262.0 330.1h0M210.4 284.2h0M131.5 316.1h0M150.6 318.1h0M246.1 330.8h0M274.9 341.4h0M234.6 340.1h0M140.1 279.9h0M189.4 292.4h0M72.5 326.1h0M311.7 325.4h0M216.6 306.9h0M95.3 287.1h0M149.0 285.0h0M94.9 280.2h0M79.4 333.2h0M246.4 330.1h0M166.6 289.2h0M166.3 282.9h0M225.1 323.8h0M252.4 330.8h0M43.6 335.9h0M138.0 312.8h0M231.0 328.9h0M250.5 330.7h0M321.8 351.9h0M234.4 349.6h0M138.7 304.8h0M275.1 332.1h0M161.1 289.5h0M259.6 327.8h0M290.5 335.2h0M243.7 327.1h0M276.1 342.2h0M266.0 324.0h0M113.7 306.9h0M320.9 322.3h0M62.6 326.0h0M127.3 291.7h0M231.9 334.2h0M54.0 334.1h0M316.4 331.3h0M182.0 293.8h0M91.8 326.4h0M170.1 287.8h0M176.8 305.2h0M267.5 335.2h0M285.1 334.6h0M268.5 328.2h0M137.6 286.2h0M150.9 313.5h0M144.6 287.6h0M248.6 346.3h0M74.3 326.3h0M288.6 349.1h0M247.2 331.0h0M64.9 324.8h0M235.4 349.6h0M276.0 329.3h0M271.0 333.3h0M245.5 360.2h0M294.2 329.7h0M47.5 330.0h0M301.3 333.6h0M160.9 288.4h0M165.0 311.6h0M195.8 292.3h0M294.4 336.3h0M140.1 275.6h0M256.7 350.3h0M197.7 290.0h0M165.0 317.3h0M216.8 315.4h0M209.2 280.3h0M159.3 288.5h0M55.1 351.0h0M181.2 307.6h0M241.9 338.8h0M149.0 318.2h0M190.0 312.3h0M254.4 333.1h0M300.6 325.0h0M317.1 327.4h0M265.4 326.6h0M307.4 325.5h0M77.1 329.7h0M294.0 325.8h0M267.9 328.6h0M180.4 278.8h0M45.3 321.6h0M118.4 289.8h0M308.4 330.3h0M292.7 329.7h0M284.8 327.1h0M312.4 353.3h0M198.5 310.5h0M310.4 328.6h0M50.8 328.6h0M306.0 332.9h0M307.0 333.2h0M234.5 328.5h0M191.2 291.1h0M125.7 289.8h0M131.6 316.8h0M254.6 333.5h0M196.1 313.8h0M145.5 310.3h0M273.7 322.0h0M221.1 326.8h0M311.1 358.1h0M55.6 351.6h0M254.4 356.9h0M70.6 356.5h0M188.8 294.7h0M282.2 326.9h0M176.7 309.6h0M135.7 288.1h0M242.0 324.4h0M276.1 322.9h0M237.9 344.9h0M276.8 332.9h0M255.9 322.7h0M64.9 341.4h0M104.3 285.7h0M112.2 311.0h0M289.7 348.7h0M276.0 333.0h0M128.6 303.7h0M258.9 328.8h0M68.9 323.9h0M87.7 325.2h0M285.6 327.7h0M69.7 324.8h0M321.5 335.1h0M278.2 327.9h0M103.3 285.8h0M163.6 290.9h0M273.7 329.1h0M282.8 345.2h0M223.2 325.1h0M150.1 317.5h0M258.2 326.3h0M228.4 332.2h0M261.3 329.1h0M193.1 311.2h0M79.3 330.5h0M289.8 328.4h0M199.9 319.9h0M302.7 343.3h0M110.0 283.1h0M49.9 329.6h0M131.8 313.0h0M166.0 305.7h0M233.3 326.3h0M94.6 280.7h0M231.8 333.3h0M47.6 343.1h0M92.0 323.9h0M87.2 326.8h0M220.5 323.1h0M96.9 311.3h0M258.5 328.6h0M273.6 330.2h0M42.1 336.0h0M78.2 342.9h0M300.3 326.6h0M253.1 325.9h0M301.4 323.9h0M250.1 323.8h0M50.7 335.3h0M126.6 291.7h0M127.6 283.0h0M121.3 282.8h0M283.8 323.7h0M230.6 327.6h0M205.0 316.7h0M302.0 330.9h0M210.0 289.5h0M316.2 349.5h0M277.6 326.5h0M292.1 330.6h0M152.5 306.1h0M216.2 304.1h0M182.3 284.0h0M231.5 344.8h0M264.3 331.4h0M86.7 345.4h0M256.9 326.9h0M119.9 284.2h0M316.0 351.2h0M129.2 312.1h0M43.3 330.7h0M254.3 345.8h0M64.7 343.1h0M139.3 284.0h0M234.8 348.4h0M93.9 310.4h0M320.6 334.9h0M206.5 287.2h0M268.3 322.2h0M195.3 281.3h0M181.5 287.5h0M274.6 331.6h0M232.4 345.6h0M264.2 345.2h0M205.6 289.5h0M80.1 329.2h0M299.8 325.7h0M86.3 329.3h0M308.4 331.5h0M136.1 287.7h0M313.8 329.9h0M175.4 281.6h0M269.4 329.1h0M168.3 290.6h0M287.2 328.4h0M228.0 352.5h0M271.3 329.3h0M257.5 332.6h0M153.2 287.1h0M274.6 338.0h0M183.5 287.9h0M98.8 290.5h0M232.7 333.0h0M171.2 280.7h0M322.6 325.6h0M246.8 330.0h0M92.3 329.9h0M55.5 344.9h0M260.4 333.6h0M264.2 342.9h0M208.4 285.1h0M139.5 317.6h0M247.9 344.8h0M71.8 354.4h0M318.0 333.1h0M233.4 347.2h0M243.5 330.2h0M62.1 325.7h0M224.9 333.6h0M250.7 351.1h0M229.7 324.8h0M206.5 291.5h0M236.7 327.8h0M281.1 327.4h0M136.1 281.0h0M205.3 288.2h0M197.9 278.4h0M268.8 333.7h0M296.5 348.2h0M225.7 348.8h0M80.5 339.3h0M241.0 333.0h0M243.1 329.5h0M140.5 281.1h0M280.5 324.0h0M179.2 306.6h0M255.5 333.1h0M197.6 282.5h0M75.3 333.9h0M48.0 331.3h0M216.5 302.2h0M153.3 292.7h0M44.8 333.1h0M231.4 347.1h0M212.4 283.6h0M241.7 329.6h0M321.5 345.1h0M258.9 348.6h0M298.0 331.9h0M228.0 328.3h0M180.3 306.7h0M259.7 327.5h0M131.1 311.6h0M57.2 333.7h0M89.6 325.5h0M246.5 354.6h0M94.3 285.6h0M298.1 350.2h0M182.8 286.5h0M63.1 343.4h0M304.3 335.2h0M122.5 290.7h0M197.6 309.3h0M167.9 304.4h0M140.3 307.3h0M310.3 350.1h0M206.3 317.2h0M53.0 326.4h0M247.5 331.4h0M71.3 332.1h0M306.9 326.2h0M57.0 331.3h0M179.8 282.6h0M77.2 340.8h0M275.2 330.2h0M132.2 311.6h0M225.6 348.9h0M93.2 287.7h0M175.9 306.0h0M248.8 331.0h0M62.5 323.1h0M47.6 330.8h0M65.1 331.1h0M251.8 330.6h0M138.5 282.2h0M130.7 317.2h0M173.8 290.3h0M43.5 340.5h0M167.0 307.0h0M133.1 320.0h0M52.9 331.3h0M274.8 328.7h0M222.6 330.2h0M244.5 323.2h0M272.5 329.1h0M281.8 327.8h0M41.5 331.3h0M241.7 336.8h0M72.7 330.3h0M83.9 333.5h0M281.9 326.2h0M296.9 349.0h0M120.6 284.2h0M152.0 305.4h0M232.2 334.2h0M241.1 345.4h0M80.7 331.3h0M77.1 329.7h0M242.2 330.9h0M256.6 325.4h0M270.0 330.2h0M123.7 306.0h0M260.3 331.3h0M41.2 326.2h0M266.4 327.1h0M307.1 323.3h0M218.2 341.7h0M230.4 325.1h0M172.9 283.7h0M120.1 284.8h0M102.9 305.2h0M235.0 326.8h0M115.8 278.0h0M102.3 302.8h0M52.6 325.0h0M270.0 332.9h0M92.7 323.4h0M41.0 327.8h0M191.1 313.6h0M62.9 334.3h0M105.7 303.6h0M250.6 328.1h0M107.5 311.5h0M320.9 330.4h0M126.6 305.3h0M73.6 353.7h0M156.3 291.3h0M116.0 286.4h0M298.0 335.0h0M277.5 329.7h0M320.0 350.5h0M75.0 324.8h0M320.9 326.8h0M222.6 331.7h0M269.9 324.9h0M72.9 357.1h0M272.8 331.2h0M62.0 335.3h0M253.2 344.3h0M227.7 347.0h0M234.2 329.9h0M183.1 290.5h0M122.1 282.0h0M260.5 329.2h0M63.3 323.5h0M58.1 327.5h0M104.9 283.4h0M137.5 288.0h0M108.0 304.6h0M247.2 327.9h0M154.1 281.5h0M150.1 313.5h0M249.8 330.6h0M249.3 351.4h0M238.2 344.0h0M317.6 323.7h0M59.9 356.2h0M206.0 287.8h0M312.3 330.2h0M51.1 330.4h0M48.0 338.4h0M291.6 331.3h0M235.5 355.4h0M299.6 327.3h0M95.9 306.0h0M184.1 293.1h0M267.6 343.9h0M242.2 326.8h0M108.3 291.7h0M94.5 331.9h0M317.0 349.0h0M47.4 330.7h0M208.9 285.3h0M152.7 307.4h0M134.2 279.0h0M267.7 343.7h0M275.7 330.0h0M267.5 338.6h0M108.2 288.8h0M293.3 329.3h0M320.0 323.4h0M48.4 333.0h0M283.6 350.6h0M268.0 343.1h0M48.6 331.3h0M204.9 285.9h0M267.7 330.2h0M289.7 332.6h0M252.5 331.1h0M259.6 331.7h0M239.8 329.7h0M141.5 283.4h0M255.4 323.5h0M278.5 331.9h0M203.5 288.3h0M148.8 282.2h0M184.7 293.5h0M221.2 326.3h0M304.7 329.7h0M189.1 291.0h0M314.6 325.1h0M307.6 349.9h0M163.1 309.4h0M270.3 327.1h0M224.0 326.8h0M247.2 334.7h0M320.5 324.2h0M255.9 336.3h0M208.0 280.6h0M274.6 340.8h0M76.9 337.2h0M188.8 294.1h0M65.3 341.2h0M320.5 329.2h0M46.4 323.5h0M110.7 306.1h0M186.8 282.9h0M72.7 326.7h0M249.9 326.7h0M199.7 285.1h0M58.7 358.3h0M250.2 353.4h0M108.3 289.9h0M269.8 328.6h0M307.4 325.9h0M50.7 327.1h0M210.3 283.1h0M189.4 294.1h0M253.0 325.5h0M197.9 287.4h0M57.8 332.2h0M57.0 359.0h0M175.7 306.6h0M204.9 289.2h0M91.2 327.8h0M142.0 316.1h0M180.9 310.9h0M227.4 329.2h0M174.8 305.4h0M284.5 346.4h0M218.2 326.0h0M269.2 328.7h0M304.7 328.3h0M98.7 278.9h0M262.9 329.3h0M65.5 334.1h0M79.2 325.9h0M42.0 333.6h0M197.7 283.7h0M279.9 330.3h0M266.3 330.8h0M61.7 326.5h0M41.3 322.4h0M109.4 305.1h0M209.6 288.5h0M74.2 354.9h0M137.5 309.5h0M320.7 333.7h0M138.1 288.8h0M145.1 281.3h0M316.0 327.0h0M291.1 333.3h0M232.5 339.7h0M258.0 326.4h0M285.8 329.5h0M123.9 316.6h0M75.3 345.6h0M202.4 283.0h0M101.7 280.3h0M315.0 328.7h0M274.4 332.5h0M243.5 331.0h0M94.8 329.0h0M74.0 327.5h0M283.4 330.1h0M234.6 323.1h0M244.3 327.4h0M230.9 346.0h0M166.4 284.6h0M130.0 356.0h0M73.0 336.2h0M58.3 327.8h0M95.7 329.4h0M280.5 325.3h0M318.9 339.2h0M305.2 327.1h0M271.3 329.5h0M250.7 327.3h0M110.6 310.2h0M73.3 355.8h0M139.9 283.8h0M250.1 323.5h0M164.8 297.5h0M61.7 328.9h0M57.0 327.5h0M203.3 308.0h0M70.7 325.0h0M183.1 286.3h0M102.5 306.4h0M41.4 324.1h0M281.5 327.4h0M182.4 289.1h0M197.9 303.3h0M256.2 329.1h0M245.2 333.5h0M106.7 300.0h0M188.7 282.2h0M236.3 329.5h0M312.9 329.9h0M57.9 328.1h0M176.5 308.8h0M268.8 330.1h0M200.6 283.7h0M198.5 316.8h0M117.5 279.7h0M146.2 311.6h0M59.2 353.7h0M95.0 283.7h0M57.9 329.8h0M64.0 338.0h0M280.4 333.6h0M65.6 328.5h0M280.3 323.5h0M166.0 279.7h0M85.9 332.2h0M234.6 331.6h0M245.5 328.8h0M105.4 280.4h0M204.5 277.7h0M120.9 284.7h0M314.8 349.0h0M169.1 288.2h0M205.9 288.3h0M42.3 336.0h0M134.5 283.7h0M56.9 347.6h0M267.9 326.2h0M300.1 332.8h0M165.8 313.2h0M284.0 330.5h0M62.1 334.0h0M220.3 330.8h0M220.8 345.5h0M301.2 329.5h0M304.7 333.6h0M127.6 287.5h0M126.5 306.2h0M219.4 330.9h0M58.6 326.4h0M321.3 340.2h0M252.3 335.5h0M226.9 352.6h0M109.7 303.8h0M138.0 281.6h0M256.4 343.6h0M85.3 325.4h0M100.4 286.6h0M284.6 336.0h0M145.8 284.0h0M116.0 290.7h0M300.5 323.1h0M73.8 332.1h0M286.4 328.6h0M126.8 277.3h0M230.3 323.4h0M131.1 318.4h0M270.1 327.1h0M258.9 324.7h0M80.1 328.1h0M137.8 313.8h0M246.8 328.2h0M286.3 341.4h0M317.6 335.5h0M192.0 293.7h0M51.1 329.1h0M238.9 332.4h0M58.7 334.3h0M308.1 333.1h0M88.0 322.6h0M91.8 331.8h0M71.5 326.1h0M78.5 342.9h0M158.4 285.9h0M148.7 314.1h0M47.9 326.3h0M79.5 331.0h0M236.9 327.1h0M244.4 332.9h0M286.9 348.5h0M275.0 325.6h0M241.7 328.4h0M85.8 335.5h0M186.1 292.3h0M284.6 323.3h0M241.0 332.6h0M42.5 326.6h0M141.1 283.8h0M123.9 282.7h0M135.3 309.8h0M143.1 281.3h0M107.5 301.8h0M154.4 278.4h0M87.5 343.6h0M292.9 325.0h0M255.8 356.5h0M209.0 289.9h0M159.2 292.2h0M159.6 290.1h0M41.4 328.4h0M48.6 326.2h0M259.2 325.6h0M264.1 328.5h0M196.6 277.0h0M203.6 292.4h0M273.8 321.9h0M314.9 334.0h0M70.6 356.6h0M130.0 364.0h0M229.4 325.7h0M245.9 328.1h0M139.2 277.3h0M320.8 329.0h0M210.7 287.4h0M256.4 328.1h0M152.8 283.7h0M258.5 331.4h0M94.0 328.3h0M240.6 340.4h0M43.1 340.2h0M50.3 330.8h0M105.4 288.2h0M276.6 341.8h0M174.2 305.1h0M257.0 331.8h0M239.8 341.6h0M53.2 343.4h0M125.8 288.9h0M225.8 329.1h0M256.7 349.3h0M238.6 341.2h0M204.2 285.3h0M312.1 325.2h0M67.2 326.4h0M42.0 325.3h0M279.0 329.1h0M287.4 321.9h0M75.6 328.2h0M107.5 280.0h0M258.4 328.9h0M90.6 332.6h0M299.9 326.2h0M290.6 330.9h0M109.4 282.6h0M266.8 339.4h0M277.4 323.1h0M321.2 338.7h0M287.8 328.4h0M224.1 334.5h0M234.9 330.6h0M260.5 325.7h0M93.4 286.0h0M234.8 328.8h0M63.4 323.6h0M93.1 326.5h0M262.1 331.1h0M197.6 312.2h0M222.5 343.7h0M48.8 329.5h0M75.6 329.2h0M294.0 347.6h0M275.2 326.7h0M264.9 325.2h0M121.0 285.3h0M236.8 327.9h0M74.8 351.3h0M205.8 281.8h0M198.2 311.5h0M166.4 304.4h0M104.0 310.2h0M262.7 345.0h0M153.3 310.2h0M143.7 290.9h0M187.7 282.8h0M196.9 282.2h0M318.1 332.9h0M233.5 327.2h0M312.0 333.5h0M74.7 331.8h0M90.4 331.0h0M143.4 283.4h0M229.3 346.6h0M211.5 306.5h0M193.4 320.3h0M184.4 287.9h0M295.5 330.5h0M303.5 327.7h0M71.1 321.8h0M88.5 326.0h0M264.7 324.8h0M151.3 291.0h0M203.5 311.9h0M72.5 331.7h0M256.1 328.2h0M211.5 279.4h0M77.9 332.9h0M120.5 286.5h0M267.9 344.8h0M62.8 331.4h0M228.9 328.1h0M196.5 292.4h0M167.3 290.9h0M276.5 326.1h0M276.5 322.9h0M288.6 347.9h0M142.4 314.1h0M239.2 330.6h0M229.7 325.2h0M265.8 328.7h0M288.1 339.4h0M110.4 286.3h0M48.4 335.9h0M259.0 326.9h0M152.1 286.5h0M74.9 345.0h0M198.2 318.8h0M70.6 326.3h0M98.3 280.1h0M45.2 335.9h0M253.6 330.4h0M261.7 322.8h0M221.1 341.4h0M291.5 324.3h0M218.5 327.5h0M64.0 338.8h0M75.3 324.7h0M58.9 354.0h0M195.3 307.7h0M106.6 307.9h0M50.3 331.4h0M166.8 305.4h0M295.4 333.4h0M89.8 328.5h0M44.2 335.1h0M130.9 306.3h0M268.8 328.1h0M284.6 331.3h0M89.2 325.5h0M249.0 350.7h0M287.1 325.3h0M77.9 332.3h0M197.5 311.9h0M170.4 290.9h0M65.6 322.6h0M72.7 346.5h0M218.2 326.0h0M86.3 338.3h0M233.3 328.1h0M198.2 279.2h0M205.9 316.4h0M186.9 284.0h0M279.6 328.4h0M43.5 324.3h0M190.1 281.7h0M163.2 307.4h0M125.1 285.3h0M161.5 290.1h0M191.6 281.9h0M303.0 330.9h0M272.7 324.8h0M106.3 281.7h0M274.7 333.4h0M296.5 346.4h0M153.8 285.1h0M315.1 333.0h0M43.9 333.5h0M190.3 313.0h0M231.0 329.4h0M44.7 340.2h0M42.4 330.5h0M95.0 283.0h0M290.0 328.5h0M194.3 307.3h0M246.2 330.9h0M249.6 356.7h0M264.5 325.9h0M255.4 326.2h0M275.3 326.0h0M87.1 331.4h0M83.5 327.8h0M153.5 313.1h0M274.1 329.2h0M180.9 305.0h0M223.4 335.4h0M174.0 302.7h0M117.3 288.3h0M156.8 279.7h0M164.4 315.5h0M98.5 284.4h0M149.4 318.0h0M241.7 333.5h0M315.3 331.3h0M307.7 321.2h0M232.8 326.0h0M270.4 329.6h0M258.6 328.9h0M192.3 314.3h0M228.9 325.5h0M291.9 328.9h0M91.3 325.6h0M220.3 326.3h0M74.8 334.4h0M289.3 331.5h0M270.9 330.7h0M284.0 328.8h0M278.2 330.8h0M220.8 325.9h0M272.0 340.2h0M44.5 322.4h0M96.1 305.9h0M315.9 342.4h0M51.5 327.8h0M70.5 332.8h0M206.2 289.2h0M261.5 329.0h0M70.7 332.3h0M82.0 339.5h0M179.8 306.0h0M262.7 326.3h0M134.9 280.9h0M165.4 313.8h0M47.9 329.0h0M117.8 283.8h0M210.8 283.3h0M295.5 336.0h0M275.5 326.9h0M293.2 333.9h0M42.0 333.3h0M268.0 339.4h0M274.3 331.9h0M69.3 333.7h0M194.4 314.6h0M279.5 331.9h0M46.2 327.3h0M320.7 353.5h0M273.5 332.4h0M102.3 286.0h0M161.3 289.6h0M243.9 329.6h0M87.5 335.0h0M209.9 307.8h0M165.2 314.6h0M163.2 306.7h0M90.0 330.0h0M155.7 290.9h0M322.1 352.7h0M296.1 331.4h0M89.8 325.2h0M251.7 333.0h0M46.7 347.0h0M261.6 327.5h0M322.6 348.7h0M94.7 283.2h0M221.6 322.4h0M54.2 332.3h0M314.3 325.3h0M190.2 288.5h0M63.2 342.5h0M210.5 287.8h0M256.1 328.5h0M83.8 326.5h0M220.0 344.7h0M191.6 316.6h0M196.7 305.6h0M75.0 331.1h0M199.2 317.0h0M45.0 321.1h0M157.7 285.8h0M262.2 339.1h0M167.9 305.0h0M284.0 327.4h0M219.2 355.3h0M313.5 327.1h0M238.4 322.3h0M321.4 327.0h0M144.4 311.7h0M209.2 288.2h0M270.4 330.8h0M194.6 283.6h0M156.9 279.2h0M189.8 293.2h0M91.6 333.1h0M74.2 334.9h0M114.0 309.4h0M245.7 329.0h0M105.7 289.7h0M246.2 329.4h0M213.5 310.8h0M163.8 310.2h0M296.4 331.5h0M182.7 284.7h0M228.7 325.9h0M139.2 305.8h0M275.0 330.1h0M232.2 327.7h0" stroke="#ff4450" stroke-width="3.2" stroke-linecap="round" fill="none" stroke-opacity="0.58"/>
<path d="M53.6 351.6h0M153.7 289.0h0M122.5 288.5h0M56.3 351.5h0M46.8 322.6h0M304.7 323.1h0M301.3 331.0h0M97.9 291.4h0M223.5 327.6h0M272.3 329.3h0M47.3 345.9h0M86.2 324.4h0M117.4 308.6h0M158.8 290.5h0M258.1 327.9h0M307.5 326.4h0M140.8 301.4h0M247.6 332.4h0M257.6 332.1h0M110.1 290.1h0M286.8 349.2h0M303.5 352.7h0M185.6 289.4h0M203.8 305.6h0M316.7 354.6h0M285.6 330.6h0M241.5 322.8h0M42.3 328.0h0M286.3 325.1h0M306.9 330.2h0M80.7 337.8h0M315.1 353.5h0M202.2 282.5h0M296.7 329.4h0M198.4 310.8h0M144.6 286.8h0M86.4 328.8h0M306.2 327.2h0M240.7 337.7h0M139.1 312.5h0M166.0 314.5h0M198.0 283.2h0M45.2 332.0h0M66.0 341.9h0M320.9 330.0h0M207.7 292.2h0M224.2 330.8h0M171.7 290.7h0M115.7 279.3h0M290.3 330.0h0M239.3 337.4h0M308.3 324.6h0M266.2 321.8h0M250.8 327.5h0M238.5 340.4h0M308.9 335.6h0M314.1 347.6h0M63.0 341.9h0M180.4 285.7h0M147.3 282.0h0M193.1 310.6h0M104.0 285.3h0M197.4 316.5h0M150.4 314.0h0M213.8 309.5h0M242.9 334.4h0M251.8 349.9h0M73.2 329.6h0M181.5 288.2h0M232.6 331.2h0M86.4 329.8h0M50.5 325.8h0M268.7 330.6h0M95.3 278.9h0M168.9 302.8h0M276.6 328.8h0M167.8 309.8h0M62.0 330.5h0M127.1 308.9h0M265.3 327.6h0M230.7 334.7h0M319.7 349.7h0M305.9 327.0h0M319.7 329.4h0M148.8 288.4h0M44.7 327.8h0M266.0 333.3h0M85.0 331.0h0M210.8 286.2h0M109.4 305.9h0M296.0 328.9h0M313.8 348.0h0M95.9 289.2h0M74.3 323.5h0M258.8 327.6h0M253.0 329.5h0M254.1 350.9h0M81.3 338.1h0M220.9 327.9h0M291.9 333.0h0M254.3 327.8h0M319.7 333.4h0M188.4 286.0h0M255.7 326.9h0M240.6 326.2h0M255.4 327.7h0M145.6 311.4h0M43.9 321.6h0M192.0 305.1h0M306.7 332.7h0M203.1 286.1h0M264.3 341.0h0M117.2 304.2h0M241.8 333.1h0M85.9 344.5h0M107.9 304.9h0M241.8 332.7h0M265.2 324.9h0M307.8 330.7h0M144.4 287.1h0M301.2 329.3h0M269.4 346.8h0M244.9 325.4h0M265.8 329.1h0M85.1 330.2h0M92.9 330.3h0M173.4 311.3h0M71.2 360.4h0M232.1 330.9h0M89.2 330.0h0M227.7 327.2h0M277.5 329.2h0M269.4 345.4h0M41.4 327.8h0M109.3 290.9h0M41.8 337.4h0M80.8 327.9h0M283.2 342.6h0M104.9 308.9h0M219.2 331.2h0M102.1 281.9h0M108.3 278.6h0M259.7 326.3h0M41.7 339.9h0M92.5 322.7h0M168.9 307.9h0M266.2 332.4h0M197.7 312.1h0M248.9 350.2h0M273.1 332.1h0M266.5 326.2h0M92.8 332.7h0M285.9 330.4h0M298.0 342.4h0M73.8 329.2h0M308.0 330.0h0M47.2 323.9h0M230.6 330.6h0M96.0 286.2h0M293.0 329.2h0M234.4 326.7h0M113.9 304.8h0M81.2 339.6h0M257.9 331.2h0M243.5 328.8h0M260.9 333.2h0M234.5 333.6h0M250.1 342.4h0M85.1 333.0h0M242.4 341.5h0M164.7 282.9h0M221.4 326.2h0M73.0 351.9h0M174.7 308.7h0M43.4 328.2h0M90.0 326.9h0M169.1 313.6h0M308.5 325.4h0M174.0 303.0h0M313.8 322.3h0M240.5 329.2h0M240.9 325.1h0M232.5 344.5h0M204.8 285.3h0M143.7 288.2h0M65.6 321.9h0M255.5 329.5h0M94.4 281.7h0M297.5 354.1h0M115.7 308.0h0M47.5 345.5h0M202.6 282.0h0M93.7 327.8h0M106.2 286.0h0M210.2 287.0h0M187.0 290.1h0M223.8 327.5h0M300.1 332.8h0M219.0 331.0h0M277.0 326.8h0M304.0 326.3h0M294.4 328.2h0M213.2 309.9h0M44.5 328.5h0M202.9 277.9h0M153.2 281.7h0M58.9 327.1h0M42.7 336.5h0M41.5 334.3h0M49.4 326.6h0M238.7 330.0h0M282.2 330.0h0M290.7 327.8h0M163.3 290.5h0M231.0 330.0h0M292.8 328.3h0M148.5 286.4h0M297.8 333.5h0M238.9 322.2h0M207.2 285.9h0M118.6 286.3h0M171.6 284.2h0M127.7 288.1h0M167.4 279.5h0M51.3 329.8h0M262.3 335.9h0M195.1 312.2h0M138.3 282.5h0M247.3 355.6h0M211.3 281.2h0M101.6 286.8h0M262.0 331.2h0M174.9 290.5h0M48.4 329.4h0M282.3 329.2h0M303.3 323.6h0M142.8 283.3h0M234.4 328.5h0M300.7 330.0h0M247.4 327.2h0M256.8 328.8h0M200.3 308.1h0M320.1 344.8h0M300.1 328.2h0M245.1 340.3h0M52.2 326.1h0M71.0 328.7h0M241.9 330.3h0M79.3 325.0h0M199.7 310.8h0M69.8 348.8h0M278.1 330.8h0M197.7 307.6h0M264.5 334.6h0M46.4 345.5h0M56.2 343.9h0M234.6 354.5h0M103.3 304.5h0M284.3 328.4h0M178.8 303.3h0M294.1 348.8h0M275.7 327.8h0M223.6 328.7h0M164.8 311.6h0M141.7 313.2h0M43.7 341.1h0M295.4 325.8h0M109.6 307.4h0M86.3 344.0h0M255.3 337.0h0M314.4 329.7h0M316.0 323.1h0M172.0 284.7h0M82.2 342.4h0M140.4 314.8h0M153.4 304.5h0M107.4 284.1h0M179.7 294.6h0M297.3 324.1h0M222.5 350.2h0M157.5 289.4h0M201.0 313.2h0M189.0 290.4h0M64.9 343.2h0M44.7 337.0h0M230.7 332.6h0M198.6 307.7h0M44.5 327.0h0M204.2 285.0h0M238.3 325.7h0M252.2 330.3h0M291.9 327.7h0M222.8 352.6h0M252.0 330.6h0M235.2 344.6h0M128.0 310.2h0M223.4 328.5h0M146.0 305.5h0M245.4 332.5h0M115.9 283.1h0M158.4 278.1h0M79.1 323.6h0M153.3 289.5h0M220.9 342.9h0M58.1 344.5h0M260.5 326.9h0M77.4 331.4h0M248.0 331.7h0M265.5 327.7h0M127.4 286.9h0M151.7 312.1h0M192.7 314.7h0M196.5 308.5h0M61.8 333.7h0M287.3 327.6h0M254.9 322.7h0M322.3 327.0h0M251.9 345.4h0M173.8 306.9h0M322.0 351.0h0M273.6 333.2h0M184.7 281.7h0M84.8 334.0h0M44.5 324.1h0M283.9 324.0h0M285.7 330.8h0M145.7 278.3h0M167.4 285.9h0M149.0 319.8h0M64.9 331.4h0M213.7 310.3h0M251.1 340.7h0M98.0 286.0h0M207.8 287.5h0M238.1 341.9h0M73.6 357.3h0M287.3 329.3h0M242.4 332.3h0M46.8 343.7h0M88.7 331.7h0M171.8 291.3h0M293.2 335.0h0M248.2 347.5h0M268.0 328.9h0M253.8 333.1h0M207.6 283.7h0M319.7 323.3h0M170.9 300.6h0M205.6 317.9h0M76.3 337.7h0M229.9 344.6h0M195.4 281.0h0M236.5 331.7h0M65.6 342.6h0M46.5 322.8h0M130.5 314.6h0M84.8 334.2h0M303.6 328.9h0M249.8 354.4h0M156.5 286.4h0M124.1 288.3h0M314.3 325.5h0M70.5 327.6h0M154.9 292.1h0M59.1 345.8h0M246.2 326.1h0M191.2 313.2h0M218.8 347.3h0M263.0 338.3h0M144.8 279.5h0M227.3 345.0h0M243.0 334.4h0M64.4 327.4h0M70.0 334.2h0M141.4 284.9h0M118.0 285.9h0M213.2 308.9h0M306.8 324.7h0M303.0 339.2h0M231.6 329.2h0M224.0 328.7h0M240.8 326.6h0M84.8 347.5h0M129.4 275.4h0M65.5 328.1h0M127.0 286.9h0M173.4 308.1h0M313.6 317.1h0M290.3 332.2h0M60.1 332.7h0M297.4 326.2h0M136.4 287.1h0M76.7 332.6h0M90.2 326.5h0M76.9 326.0h0M227.4 328.9h0M134.3 286.5h0M155.3 284.5h0M57.4 328.7h0M320.4 332.2h0M297.2 328.1h0M155.2 282.9h0M315.4 331.4h0M293.8 333.8h0M166.0 309.0h0M78.1 342.2h0M42.5 326.0h0M164.2 281.2h0M149.6 306.6h0M92.2 335.4h0M294.8 323.0h0M159.9 291.7h0M283.7 330.8h0M301.9 331.1h0M134.1 304.4h0M97.7 282.7h0M231.8 326.0h0M220.0 322.8h0M209.1 280.8h0M259.2 329.5h0M46.6 347.3h0M291.9 335.9h0M305.1 333.9h0M219.4 329.7h0M245.0 331.4h0M88.0 321.7h0M166.1 287.8h0M117.4 284.4h0M263.6 339.3h0M260.5 323.9h0M264.9 339.0h0M279.2 331.4h0M297.0 326.0h0M104.5 299.9h0M44.8 332.0h0M185.0 286.7h0M260.0 323.3h0M292.3 329.6h0M241.9 340.0h0M153.1 305.9h0M73.1 355.3h0M103.5 304.0h0M254.0 348.8h0M254.4 334.0h0M85.7 324.4h0M265.2 322.7h0M128.4 307.4h0M77.8 330.2h0M227.9 326.2h0M104.1 307.6h0M90.2 326.6h0M66.8 331.8h0M158.6 281.2h0M246.5 331.8h0M218.0 324.3h0M253.7 327.2h0M279.8 335.1h0M50.0 324.7h0M204.4 313.6h0M202.4 312.3h0M120.2 292.4h0M287.8 339.7h0M208.8 280.5h0M319.8 347.9h0M319.7 351.4h0M273.4 333.8h0M64.9 332.1h0M275.6 330.7h0M274.0 323.0h0M259.4 327.7h0M239.0 340.8h0M280.1 328.4h0M296.2 351.2h0M84.1 330.6h0M79.6 335.2h0M285.4 331.2h0M179.9 289.4h0M85.1 346.3h0M79.1 325.6h0M77.8 326.2h0M78.3 339.5h0M317.4 333.8h0M246.3 330.2h0M238.2 326.3h0M174.1 283.8h0M315.2 324.9h0M173.3 310.0h0M236.7 327.2h0M299.8 326.5h0M94.0 330.9h0M59.0 355.4h0M64.1 339.3h0M95.8 309.2h0M279.2 331.2h0M80.4 328.3h0M198.7 291.3h0M175.3 309.0h0M46.0 329.1h0M321.2 340.1h0M194.6 285.7h0M285.0 324.0h0M63.4 342.5h0M167.3 277.6h0M259.3 325.4h0M207.1 284.8h0M202.0 283.0h0M261.5 330.3h0M218.6 334.0h0M52.1 326.5h0M281.2 325.3h0M288.2 339.7h0M306.1 326.6h0M230.7 334.3h0M48.7 343.7h0M223.3 351.2h0M110.0 305.5h0M246.7 330.6h0M43.6 332.4h0M158.9 292.8h0M111.3 305.8h0M124.0 309.9h0M67.6 325.9h0M84.6 345.4h0M190.6 309.1h0M155.5 290.0h0M304.8 326.5h0M188.6 290.7h0M180.0 283.4h0M212.3 305.6h0M92.6 322.8h0M274.7 341.8h0M167.0 305.1h0M316.2 329.7h0M295.9 329.6h0M264.3 334.7h0M289.7 347.7h0M140.2 315.8h0M168.5 284.9h0M202.8 313.5h0M92.9 324.3h0M79.1 341.2h0M306.9 334.5h0M221.1 338.4h0M124.8 301.3h0M61.2 331.3h0M72.5 330.0h0M73.6 325.6h0M52.3 326.1h0M229.9 326.6h0M40.8 336.1h0M146.4 309.9h0M243.3 325.9h0M43.8 330.4h0M255.1 334.2h0M259.9 331.0h0M196.3 281.6h0M272.6 325.2h0M243.9 329.5h0M54.8 325.0h0M42.6 327.3h0M130.8 319.2h0M265.3 327.2h0M192.1 279.6h0M321.6 352.7h0M219.5 344.0h0M233.9 326.7h0M274.3 329.5h0M87.6 327.8h0M235.1 333.5h0M44.8 328.3h0M71.1 348.8h0M270.7 326.3h0M260.5 332.1h0M276.2 333.9h0M82.2 323.0h0M92.4 331.4h0M77.8 319.1h0M233.8 325.4h0M299.7 332.5h0M64.5 332.1h0M278.8 330.0h0M106.6 284.7h0M251.4 328.4h0M56.6 329.4h0M137.0 286.3h0M221.3 328.1h0M64.2 328.5h0M208.0 289.8h0M252.3 339.6h0M63.7 330.1h0M257.7 351.8h0M133.5 313.6h0M296.4 329.9h0M182.2 282.8h0M307.3 335.2h0M277.1 323.4h0M172.7 278.8h0M125.5 286.9h0M45.8 327.8h0M321.7 326.6h0M95.1 327.8h0M156.8 282.0h0M169.0 287.4h0M207.1 279.9h0M64.0 327.9h0M136.8 303.6h0M142.3 284.8h0M254.5 326.9h0M232.9 333.7h0M321.5 332.2h0M96.4 286.2h0M238.3 327.9h0M84.6 332.9h0M191.0 283.5h0M258.8 329.8h0M269.6 322.0h0M43.4 337.4h0M199.7 309.7h0M191.5 281.5h0M230.7 327.2h0M42.2 335.7h0M270.7 331.0h0M87.3 331.1h0M193.6 305.5h0M41.8 336.2h0M203.5 311.7h0M152.1 293.7h0M185.0 285.4h0M131.3 307.4h0M118.3 285.7h0M140.8 289.2h0M239.7 342.2h0M108.4 287.6h0M80.3 333.7h0M54.2 348.2h0M202.8 282.5h0M290.3 323.7h0M127.0 281.3h0M142.0 281.1h0M59.8 355.2h0M116.8 281.2h0M144.8 281.7h0M80.5 340.5h0M269.3 344.0h0M227.4 341.5h0M285.1 347.0h0M76.4 331.9h0M63.4 329.5h0M79.7 326.3h0M110.5 309.4h0M226.1 332.9h0M80.7 339.7h0M298.8 357.9h0M201.4 288.0h0M93.2 323.3h0M41.3 325.3h0M179.9 292.9h0M230.9 333.7h0M260.4 325.7h0M191.0 312.5h0M265.0 341.2h0M62.8 329.5h0M75.5 330.8h0M269.1 324.1h0M210.8 280.0h0M234.5 327.7h0M293.4 328.1h0M272.5 332.4h0M194.1 284.9h0M317.0 348.4h0M163.5 286.7h0M292.0 329.5h0M242.3 340.8h0M87.6 329.9h0M290.9 334.1h0M294.7 353.0h0M288.8 325.7h0M279.7 324.6h0M84.8 352.7h0M316.8 326.2h0M145.6 280.1h0M83.4 340.6h0M61.0 331.8h0M80.8 323.1h0M232.7 334.0h0M204.7 287.2h0M303.9 325.8h0M224.3 327.7h0M137.1 311.7h0M63.3 333.5h0M284.6 349.6h0M148.8 320.8h0M120.8 289.5h0M257.4 328.0h0M286.2 333.5h0M136.2 281.4h0M90.8 324.4h0M150.0 304.8h0M94.7 334.8h0M275.4 339.4h0M165.6 314.9h0M228.6 335.4h0M128.7 305.9h0M236.9 325.6h0M272.3 329.3h0M132.9 320.2h0M321.8 332.1h0M53.0 323.2h0M257.5 333.5h0M50.0 323.0h0M154.1 283.3h0M229.6 326.3h0M64.3 329.5h0M134.0 287.0h0M285.4 327.6h0M86.0 346.4h0M139.6 282.2h0M152.2 307.4h0M93.8 285.4h0M308.6 331.5h0M124.6 312.3h0M107.1 280.1h0M41.4 334.8h0M186.1 288.6h0M81.1 325.6h0M114.1 309.8h0M296.2 333.7h0M307.3 331.3h0M222.8 331.1h0M165.6 284.0h0M103.2 302.4h0M235.9 345.4h0M175.4 305.7h0M46.8 326.5h0M164.8 289.4h0M148.2 317.4h0M294.2 332.3h0M218.3 330.2h0M103.4 280.9h0M46.5 330.3h0M80.5 321.3h0M251.3 327.0h0M252.6 325.8h0M98.4 282.6h0M246.6 350.8h0M93.0 324.8h0M262.1 329.7h0M218.3 338.2h0M223.6 339.2h0M139.9 305.0h0M59.8 341.0h0M298.8 333.4h0M297.3 327.2h0M151.8 288.3h0M56.5 351.1h0M292.1 323.0h0M56.5 326.3h0M241.3 341.5h0M187.9 289.4h0M80.8 332.4h0M236.2 326.8h0M95.2 288.2h0M149.4 309.6h0M65.2 342.7h0M115.9 309.2h0M310.5 327.2h0M61.0 326.1h0M268.1 330.0h0M320.6 328.3h0M105.4 285.2h0M191.3 278.6h0M83.9 343.0h0M184.9 293.6h0M136.8 306.8h0M275.0 328.0h0M108.8 304.1h0M242.6 334.4h0M163.9 310.6h0M108.7 280.0h0M246.1 325.3h0M198.0 312.0h0M260.5 325.4h0M194.8 280.1h0M154.5 283.3h0M225.3 332.6h0M163.3 284.8h0M59.1 351.8h0M225.2 327.0h0M152.0 284.1h0M284.6 348.5h0M94.6 331.0h0M163.3 302.5h0M230.2 349.0h0M180.7 289.2h0M78.5 328.5h0M285.4 332.3h0M70.1 328.8h0M208.5 287.5h0M289.4 331.6h0M200.8 280.2h0M228.1 330.2h0M173.7 287.2h0M260.6 327.2h0M128.6 315.7h0M247.7 359.6h0M288.5 342.8h0M77.6 337.9h0M108.3 281.0h0M63.1 333.7h0M286.1 324.1h0M105.3 305.7h0M69.7 329.1h0M233.1 331.0h0M116.3 287.1h0M306.0 331.6h0M300.9 329.4h0M297.6 335.2h0M91.8 327.0h0M219.4 326.2h0M180.7 309.1h0M285.9 329.5h0M193.9 308.0h0M121.7 289.7h0M94.7 284.8h0M75.9 324.2h0M218.7 348.0h0M297.4 350.9h0M77.8 342.7h0M253.7 327.5h0M163.1 294.4h0M62.7 325.1h0M307.0 330.7h0M255.1 359.7h0M267.8 333.2h0M194.8 293.0h0M297.1 334.0h0M218.2 330.3h0M250.5 339.7h0M185.7 289.3h0M50.2 321.8h0M150.6 311.5h0M247.6 331.5h0M288.9 327.9h0M251.1 347.0h0M93.2 332.0h0M283.6 329.7h0M73.9 330.6h0M67.6 322.8h0M119.5 288.9h0M51.1 326.4h0M290.1 345.4h0M164.0 315.3h0M196.6 306.8h0M145.3 286.6h0M255.0 334.2h0M298.8 329.2h0M108.5 299.9h0M312.5 327.6h0M140.5 277.7h0M52.5 325.9h0M108.9 281.0h0M245.1 327.2h0M83.6 331.5h0M312.4 327.3h0M320.2 354.5h0M321.1 325.3h0M134.1 289.1h0M306.0 330.7h0M241.2 330.6h0M103.7 286.7h0M287.6 328.5h0M57.4 324.6h0M192.5 313.4h0M320.8 326.0h0M141.5 315.1h0M232.4 333.3h0M222.0 339.2h0M95.3 333.2h0M80.4 326.3h0M265.8 346.1h0M139.6 277.1h0M203.6 311.7h0M43.9 339.3h0M176.0 305.6h0M74.1 343.2h0M219.4 345.2h0M250.7 329.9h0M196.4 304.1h0M125.1 306.9h0M269.8 342.8h0M75.9 333.2h0M195.5 303.3h0M241.4 329.7h0M106.1 285.6h0M45.7 331.4h0M185.6 293.0h0M306.1 325.4h0M116.0 302.4h0M109.8 292.3h0M137.8 287.6h0M300.5 324.9h0M224.2 330.1h0M181.5 282.3h0M232.0 353.0h0M253.7 328.9h0M74.9 339.5h0M224.2 333.7h0M145.6 277.2h0M304.5 326.9h0M136.4 279.0h0M55.1 328.9h0M254.8 357.8h0M137.6 306.0h0M296.2 325.3h0M78.9 329.2h0M98.1 278.7h0M297.6 331.5h0M104.7 280.2h0M79.4 331.5h0M207.3 284.5h0M221.2 324.8h0M289.8 325.6h0M209.3 284.7h0M264.3 332.0h0M183.9 287.8h0M313.5 332.0h0M284.4 331.5h0M317.6 334.2h0M282.5 335.5h0M231.3 344.2h0M249.8 329.7h0M284.2 354.5h0M86.6 328.9h0M174.3 284.9h0M244.4 329.7h0M286.3 340.9h0M87.9 344.5h0M281.2 330.3h0M61.5 329.6h0M274.6 331.5h0M224.7 346.8h0M77.9 327.3h0M188.0 285.7h0M315.9 324.5h0M167.2 291.0h0M224.1 331.8h0M43.0 339.1h0M83.3 335.7h0M199.7 314.2h0M252.0 330.4h0M295.5 326.1h0M194.3 283.4h0M163.2 282.6h0M296.1 348.4h0M194.3 279.7h0M201.2 290.0h0M160.9 283.5h0M315.3 343.8h0M143.0 280.1h0M45.6 335.7h0M219.7 352.5h0M180.2 287.8h0M225.3 328.3h0M199.3 308.8h0M94.2 328.5h0M72.0 331.9h0M185.3 283.7h0M202.9 280.9h0M61.4 326.1h0M308.9 324.1h0M230.7 338.6h0M259.4 326.7h0M195.5 320.9h0M56.7 346.1h0M314.0 331.2h0M129.9 301.0h0M106.5 304.8h0M223.8 333.1h0M211.0 289.4h0M244.6 325.1h0M51.2 331.3h0M233.4 352.2h0M61.5 325.3h0M188.3 287.2h0M124.3 284.1h0M188.7 294.6h0M136.0 287.1h0M279.6 325.5h0M270.9 324.8h0M183.1 286.3h0M48.3 325.2h0M80.2 327.5h0M202.4 278.4h0M91.3 334.4h0M240.2 341.1h0M98.9 278.5h0M72.9 328.7h0M286.9 323.1h0M50.9 327.8h0M285.5 333.8h0M139.4 280.7h0M317.9 330.2h0M194.7 305.8h0M184.3 288.4h0M159.5 291.0h0M113.9 312.3h0M316.7 327.7h0M171.1 285.3h0M233.9 334.8h0M88.2 324.3h0M261.1 327.1h0M175.9 304.2h0M310.8 334.3h0M319.2 331.5h0M78.0 327.4h0M71.0 323.1h0M236.5 329.8h0M306.3 329.9h0M282.1 332.4h0M210.8 312.7h0M232.3 343.6h0M117.0 282.5h0M287.7 343.5h0M294.3 355.6h0M255.6 351.8h0M248.0 342.7h0M145.7 281.7h0M182.8 280.4h0M310.5 332.5h0M280.9 328.8h0M255.3 328.6h0M252.6 330.7h0M256.4 328.0h0M153.7 287.5h0M104.8 290.9h0M238.6 344.8h0M310.2 357.0h0M292.8 330.6h0M44.6 334.2h0M153.3 285.8h0M210.2 309.6h0M229.6 325.4h0M227.6 344.7h0M321.2 351.8h0M65.5 344.2h0M65.8 340.7h0M308.1 347.9h0M110.5 280.9h0M64.0 343.1h0M265.0 331.4h0M296.4 354.7h0M173.1 288.1h0M257.4 327.8h0M231.9 326.5h0M310.3 331.2h0M256.2 325.9h0M248.0 331.2h0M158.8 290.5h0M253.5 351.8h0M314.6 330.6h0M274.7 331.6h0M260.3 326.4h0M204.6 281.5h0M166.8 283.9h0M300.4 326.6h0M165.1 315.6h0M225.3 327.9h0M307.9 331.0h0M119.7 286.9h0M120.8 290.5h0M174.0 280.4h0M197.3 286.2h0M124.6 307.4h0M234.1 325.8h0M180.4 285.9h0M314.9 332.7h0M284.9 332.1h0M108.4 278.8h0M56.3 351.3h0M242.6 327.0h0M68.6 325.1h0M94.2 327.0h0M84.3 325.4h0M231.2 329.5h0M167.1 289.1h0M81.7 341.6h0M68.7 328.6h0M307.9 328.7h0M320.4 326.2h0M163.9 290.2h0M55.3 353.5h0M152.4 307.4h0M172.9 283.6h0M194.9 292.2h0M197.3 304.9h0M92.0 329.1h0M287.3 333.9h0M125.6 288.1h0M316.9 323.4h0M49.8 329.2h0M267.3 338.0h0M280.2 329.7h0M272.9 333.7h0M161.4 287.3h0M241.6 328.7h0M319.9 328.3h0M203.0 315.1h0M279.4 330.7h0M95.1 333.2h0M295.3 329.6h0M242.4 329.4h0M314.7 325.9h0M241.2 340.7h0M93.8 328.2h0M283.9 323.6h0M282.2 330.1h0M166.7 291.4h0M150.3 309.7h0M110.0 307.4h0M43.9 329.1h0M174.2 284.1h0M203.8 289.0h0M264.6 330.2h0M96.6 307.3h0M278.4 326.4h0M71.1 330.4h0M63.5 323.2h0M63.4 323.0h0M79.2 323.8h0M229.8 323.8h0M49.0 329.4h0M80.2 331.4h0M124.5 285.4h0M234.7 326.6h0M313.8 346.1h0M128.8 314.9h0M90.4 334.7h0M209.6 284.8h0M140.3 305.7h0M226.6 350.6h0M74.0 335.7h0M141.7 281.6h0M160.3 280.1h0M319.9 319.8h0M155.4 286.4h0M220.1 333.2h0M85.2 333.0h0M195.3 285.4h0M126.6 278.6h0M301.3 335.4h0M152.7 279.3h0M285.3 326.9h0M136.4 277.5h0M265.9 346.1h0M317.8 326.2h0M63.8 325.5h0M249.5 356.6h0M246.7 333.8h0M156.2 286.5h0M195.9 289.1h0M196.3 292.0h0M57.0 329.6h0M294.6 353.6h0M140.9 308.0h0M95.5 291.0h0M246.7 333.2h0M140.6 286.5h0M225.4 330.3h0M241.6 326.5h0M44.4 333.1h0M257.0 328.5h0M241.0 326.5h0M75.2 332.5h0M73.6 353.2h0M244.7 324.7h0M294.2 327.1h0M176.7 312.7h0M74.3 329.4h0M285.9 327.4h0M315.3 349.9h0M310.8 350.7h0M84.4 334.8h0M233.1 325.5h0M58.8 324.0h0M75.1 325.8h0M222.8 352.4h0M204.3 305.0h0M85.0 327.1h0M296.5 331.0h0M242.6 318.2h0M276.6 324.9h0M95.0 326.1h0M252.0 322.6h0M72.5 327.7h0M69.4 326.3h0M61.8 332.3h0M117.6 289.7h0M303.7 334.9h0M90.9 332.0h0M321.3 328.5h0M41.1 338.4h0M227.0 327.9h0M257.5 332.1h0M103.3 308.7h0M73.5 328.1h0M266.2 330.8h0M181.2 290.4h0M204.1 317.7h0M294.6 331.6h0M198.0 311.0h0M103.9 304.1h0M56.5 327.0h0M280.6 331.4h0M116.2 304.7h0M79.3 340.7h0M270.2 326.3h0M179.0 308.8h0M54.3 327.9h0M291.9 327.6h0M73.6 327.1h0M77.9 340.3h0M220.3 341.1h0M54.7 327.4h0M81.6 338.1h0M244.9 333.2h0M99.0 284.5h0M47.9 328.3h0M273.3 333.7h0M247.7 361.7h0M269.4 322.2h0M259.2 323.8h0M133.8 310.5h0M231.6 345.5h0M74.0 358.8h0M284.4 333.2h0M191.8 292.0h0M127.0 284.4h0M250.3 336.1h0M131.4 319.5h0M297.1 318.2h0M102.5 286.8h0M86.7 330.2h0M195.3 315.1h0M109.3 305.2h0M275.4 328.7h0M280.8 330.0h0M107.6 305.8h0M274.6 341.3h0M153.4 314.4h0M245.2 327.5h0M271.1 327.9h0M134.2 301.0h0M108.3 287.8h0M198.3 287.8h0M293.4 332.0h0M58.2 333.0h0M110.3 279.4h0M316.5 331.4h0M87.1 327.5h0M87.6 328.3h0M129.2 310.4h0M312.2 329.5h0M103.9 289.1h0M275.7 332.0h0M84.3 335.3h0M98.2 283.6h0M90.6 323.0h0M228.0 331.3h0M298.5 331.9h0M236.4 327.1h0M281.8 322.8h0M295.0 331.7h0M120.8 286.7h0M173.9 287.0h0M192.9 316.2h0M145.6 285.3h0M262.1 329.8h0M45.9 331.2h0M91.5 326.6h0M136.0 279.4h0M295.7 354.7h0M70.4 326.6h0M293.3 323.7h0M306.6 337.8h0M282.6 323.4h0M267.7 330.5h0M212.7 301.7h0M89.4 331.2h0M44.8 336.0h0M63.8 330.0h0M108.5 289.5h0M87.9 342.0h0M270.0 327.3h0M166.0 309.0h0M196.9 302.6h0M206.3 305.4h0M181.3 289.6h0M51.2 325.4h0M183.3 282.7h0M90.1 330.5h0M246.5 325.4h0M262.8 324.6h0M84.3 324.0h0M219.1 326.3h0M291.6 325.5h0M313.7 335.4h0M232.8 328.2h0M300.0 331.6h0M134.7 308.5h0M276.9 340.4h0M292.7 328.9h0M231.4 323.3h0M287.6 350.5h0M321.1 326.8h0M297.3 328.1h0M140.9 287.6h0M127.5 292.2h0M261.5 329.3h0M70.5 357.0h0M320.8 325.6h0M128.0 310.3h0M249.9 343.7h0M293.1 328.5h0M273.3 330.4h0M313.1 326.2h0M281.6 330.0h0M310.6 336.0h0M277.0 329.5h0M165.5 290.8h0M211.2 315.0h0M191.5 314.9h0M320.8 331.8h0M290.3 327.6h0M64.6 342.0h0M244.3 323.7h0M206.2 313.7h0M44.5 327.9h0M236.5 329.9h0M118.3 284.4h0M241.1 342.3h0M74.8 333.7h0M64.3 327.9h0M305.2 323.3h0M299.3 329.5h0M126.4 308.6h0M183.6 289.6h0M116.3 283.7h0M194.1 307.0h0M124.6 307.7h0M116.8 299.9h0M272.3 325.5h0M242.4 326.7h0M194.0 321.4h0M271.0 334.0h0M65.1 342.1h0M322.8 333.1h0M218.6 332.6h0M266.1 325.5h0M75.6 322.9h0M89.8 333.3h0M289.0 341.1h0M164.9 315.1h0M181.7 284.1h0M146.1 312.3h0M143.0 288.7h0M320.5 350.7h0M231.9 329.6h0M57.1 330.4h0M201.2 284.5h0M270.3 330.3h0M56.8 333.6h0M70.0 328.9h0" stroke="#ff4450" stroke-width="3.2" stroke-linecap="round" fill="none" stroke-opacity="0.58"/>
<path d="M52.6 331.7h0M262.0 333.6h0M291.5 329.2h0M60.2 327.1h0M190.9 292.8h0M124.1 279.0h0M231.7 326.5h0M307.4 326.0h0M48.0 326.0h0M137.6 283.2h0M246.9 343.5h0M141.5 283.5h0M249.9 348.0h0M313.1 327.1h0M82.3 342.5h0M234.9 325.2h0M154.1 287.5h0M130.6 311.1h0M291.0 331.7h0M318.0 331.9h0M71.2 330.9h0M165.9 282.6h0M130.7 313.3h0M163.8 309.4h0M86.2 348.7h0M301.0 324.0h0M240.4 330.7h0M190.1 288.0h0M320.4 349.2h0M78.4 337.8h0M290.3 350.5h0M117.6 282.4h0M240.6 343.0h0M223.4 352.9h0M164.6 284.5h0M199.7 313.9h0M294.2 362.2h0M314.6 328.2h0M272.4 329.2h0M139.3 303.5h0M95.8 288.7h0M290.2 353.2h0M54.4 322.9h0M319.7 333.2h0M164.8 281.8h0M171.7 283.8h0M40.8 327.1h0M86.0 330.7h0M52.5 330.3h0M136.9 290.2h0M70.1 332.4h0M77.8 327.2h0M47.2 328.0h0M86.8 331.9h0M175.0 289.3h0M221.2 328.3h0M257.3 361.2h0M221.1 328.3h0M79.1 340.4h0M81.3 339.3h0M71.4 330.8h0M238.7 342.8h0M164.6 287.4h0M252.5 349.2h0M104.9 289.9h0M250.8 334.5h0M197.2 290.8h0M225.7 322.4h0M209.0 282.6h0M203.7 288.2h0M307.6 333.1h0M244.0 326.5h0M84.4 323.6h0M245.4 334.9h0M207.9 281.8h0M307.0 331.1h0M301.7 330.0h0M218.5 332.6h0M166.0 316.7h0M49.8 326.6h0M58.4 357.7h0M71.5 345.2h0M204.1 287.2h0M58.5 362.5h0M235.3 354.4h0M156.7 293.3h0M205.7 282.7h0M322.9 324.1h0M287.6 331.8h0M70.5 331.1h0M250.2 336.2h0M254.0 333.6h0M139.0 286.8h0M312.5 324.6h0M165.2 292.5h0M320.5 340.7h0M246.9 350.7h0M65.5 344.5h0M182.9 286.6h0M190.6 287.1h0M259.2 329.9h0M150.7 308.0h0M71.8 336.0h0M103.6 284.4h0M73.7 330.1h0M92.4 327.4h0M317.1 347.9h0M206.6 315.2h0M53.3 326.4h0M80.0 327.9h0M57.3 329.7h0M120.1 287.2h0M52.2 326.9h0M262.2 345.6h0M289.4 329.2h0M274.2 325.2h0M94.0 286.2h0M319.7 329.0h0M232.7 332.6h0M239.1 326.6h0M209.6 287.1h0M155.1 288.1h0M279.0 331.5h0M197.2 288.4h0M219.2 318.8h0M290.9 323.7h0M68.9 327.3h0M284.6 338.9h0M280.1 329.6h0M152.1 309.5h0M179.3 308.8h0M103.5 284.6h0M94.3 331.4h0M314.3 328.7h0M316.0 330.7h0M63.2 325.7h0M47.0 341.6h0M253.3 332.6h0M234.9 344.6h0M184.8 283.4h0M72.8 358.3h0M51.0 331.3h0M136.5 310.2h0M161.0 286.0h0M123.7 290.8h0M67.7 332.2h0M303.7 343.8h0M163.7 285.0h0M255.8 329.7h0M227.6 322.3h0M46.3 323.6h0M253.9 334.5h0M313.1 328.4h0M269.2 328.3h0M48.2 329.9h0M259.1 326.8h0M235.9 345.8h0M107.3 285.9h0M196.0 278.4h0M216.4 304.2h0M180.7 282.0h0M264.4 331.1h0M166.3 284.7h0M87.5 328.1h0M47.4 336.5h0M64.2 331.5h0M321.1 353.2h0M172.9 310.5h0M166.4 312.2h0M291.7 327.1h0M94.0 327.7h0M169.3 288.1h0M194.2 305.8h0M270.6 327.8h0M286.5 323.9h0M174.6 286.4h0M173.5 287.2h0M61.5 325.6h0M109.2 282.3h0M42.2 336.6h0M257.0 334.5h0M96.8 306.3h0M310.5 356.1h0M221.6 339.6h0M289.7 329.6h0M202.5 285.6h0M227.9 354.0h0M225.9 349.8h0M276.2 327.7h0M238.9 333.3h0M86.5 328.3h0M170.8 292.8h0M319.9 336.7h0M62.3 326.1h0M93.2 289.1h0M303.5 322.7h0M104.7 305.7h0M172.8 284.6h0M205.1 286.7h0M228.9 323.2h0M208.1 283.2h0M82.1 325.4h0M55.2 336.0h0M80.9 338.0h0M250.1 326.6h0M98.3 282.4h0M150.0 315.4h0M54.7 331.6h0M71.3 326.4h0M245.6 330.3h0M52.1 330.9h0M42.3 341.3h0M109.4 286.0h0M321.5 326.6h0M230.1 330.0h0M285.7 332.7h0M227.3 328.5h0M172.6 309.7h0M317.4 332.6h0M152.5 294.5h0M159.6 291.5h0M283.3 353.0h0M50.7 327.6h0M265.7 343.6h0M149.9 314.3h0M84.4 334.5h0M320.2 324.9h0M306.1 335.6h0M322.6 326.5h0M121.7 289.0h0M143.0 281.7h0M58.3 325.9h0M120.1 279.7h0M259.3 325.7h0M285.9 326.8h0M293.7 328.7h0M159.9 290.4h0M287.6 345.8h0M47.3 342.8h0M174.7 279.5h0M90.0 326.5h0M41.4 324.1h0M258.8 356.1h0M245.7 355.3h0M163.2 284.1h0M195.0 287.2h0M190.3 310.5h0M58.0 324.6h0M222.9 332.4h0M239.1 338.7h0M42.5 326.5h0M196.7 289.0h0M44.3 331.7h0M139.0 283.6h0M106.4 311.4h0M187.0 287.4h0M231.7 350.7h0M152.1 283.0h0M303.7 319.9h0M203.3 287.7h0M290.1 332.2h0M69.6 345.6h0M82.1 335.6h0M218.3 325.3h0M165.6 310.6h0M50.3 331.5h0M136.2 309.7h0M228.3 335.0h0M286.6 353.2h0M96.5 278.7h0M106.5 308.5h0M300.3 333.4h0M299.7 329.3h0M185.6 291.5h0M258.0 328.2h0M44.0 334.3h0M59.0 323.2h0M172.8 310.8h0M195.6 306.1h0M54.7 327.6h0M178.9 302.4h0M151.9 309.5h0M89.9 325.3h0M152.1 309.9h0M238.9 329.3h0M265.9 327.8h0M278.9 327.4h0M307.9 345.1h0M142.8 277.5h0M254.9 359.7h0M71.2 329.4h0M47.3 326.0h0M221.5 342.0h0M186.2 280.3h0M145.5 277.9h0M112.4 305.3h0M220.7 328.4h0M269.4 322.2h0M241.9 338.3h0M253.2 331.3h0M297.5 326.4h0M235.3 327.2h0M277.7 325.9h0M123.8 287.2h0M157.4 288.7h0M316.6 342.7h0M245.3 322.8h0M85.5 331.6h0M279.9 325.0h0M250.7 330.1h0M262.7 326.8h0M273.9 331.1h0M64.6 332.3h0M135.6 288.6h0M144.6 282.5h0M94.5 288.7h0M311.8 329.4h0M71.7 327.8h0M203.8 283.3h0M108.4 282.9h0M298.9 358.9h0M52.5 334.4h0M163.1 288.0h0M79.8 326.7h0M119.4 286.0h0M233.3 327.5h0M201.2 283.4h0M162.9 289.3h0M316.3 326.9h0M77.3 327.4h0M287.0 327.6h0M181.9 282.2h0M299.2 331.4h0M148.5 310.6h0M199.1 315.9h0M142.0 286.6h0M166.9 288.3h0M189.7 285.7h0M304.1 330.6h0M305.1 327.8h0M271.4 330.4h0M285.3 338.6h0M259.6 323.8h0M117.0 286.0h0M227.8 327.8h0M47.0 332.1h0M270.2 344.5h0M137.0 302.1h0M75.3 350.0h0M297.1 327.6h0M54.1 333.1h0M59.2 323.5h0M212.7 315.8h0M278.7 332.4h0M261.8 338.5h0M48.9 329.4h0M305.8 327.8h0M75.8 336.6h0M250.9 326.7h0M222.2 349.2h0M299.0 328.3h0M139.7 280.1h0M43.4 328.7h0M181.1 287.2h0M288.8 325.1h0M184.6 290.4h0M286.5 334.2h0M251.4 330.5h0M297.6 331.0h0M246.0 326.4h0M64.7 341.3h0M82.6 342.4h0M267.7 338.5h0M71.7 328.8h0M298.3 333.8h0M262.1 325.4h0M110.1 283.5h0M285.5 338.8h0M252.8 330.7h0M64.8 327.0h0M252.9 329.4h0M166.0 307.4h0M78.2 326.3h0M280.2 331.1h0M84.1 328.9h0M292.1 329.2h0M291.5 331.0h0M190.9 289.8h0M229.7 330.7h0M153.9 280.7h0M105.3 287.8h0M207.5 293.0h0M95.1 304.9h0M89.1 325.6h0M174.2 286.4h0M75.7 323.8h0M266.4 345.8h0M255.9 330.8h0M171.2 282.2h0M189.9 284.9h0M314.0 332.4h0M306.0 328.2h0M242.5 340.2h0M170.2 292.5h0M233.9 335.9h0M169.0 302.7h0M76.9 327.3h0M74.6 351.0h0M275.2 329.6h0M269.6 340.6h0M138.5 278.4h0M285.2 342.8h0M90.3 330.3h0M204.3 311.5h0M296.2 329.6h0M72.3 325.9h0M126.7 286.8h0M240.9 335.1h0M276.8 331.5h0M108.7 282.3h0M49.3 330.4h0M204.4 307.9h0M151.1 318.4h0M265.2 331.6h0M105.8 310.5h0M276.1 327.8h0M69.6 325.8h0M195.2 304.0h0M58.3 335.1h0M180.7 306.8h0M199.0 310.0h0M233.3 331.1h0M191.8 284.2h0M166.7 287.5h0M116.1 282.1h0M154.7 284.0h0M46.9 332.4h0M165.0 288.2h0M69.1 323.5h0M151.8 286.0h0M47.3 326.3h0M255.7 327.4h0M208.5 283.3h0M271.0 327.4h0M145.0 288.1h0M298.9 332.2h0M251.9 354.9h0M316.4 327.9h0M167.4 314.7h0M141.1 315.0h0M139.6 312.2h0M212.6 286.1h0M42.3 340.3h0M66.2 333.8h0M234.1 344.4h0M45.0 327.5h0M196.9 289.7h0M187.3 280.5h0M87.1 326.9h0M62.4 330.9h0M78.2 329.0h0M108.7 277.9h0M200.9 289.7h0M247.9 342.2h0M264.5 340.2h0M222.9 324.7h0M234.1 327.0h0M93.6 283.4h0M289.9 352.4h0M48.1 331.7h0M242.6 340.9h0M90.9 324.3h0M208.6 286.8h0M205.8 287.8h0M241.2 330.1h0M308.6 331.5h0M136.0 311.0h0M211.7 307.5h0M83.9 331.1h0M277.4 324.9h0M152.6 285.1h0M193.5 315.6h0M47.8 341.0h0M200.3 309.7h0M201.5 281.1h0M258.2 329.3h0M98.5 286.2h0M57.9 331.2h0M174.6 281.4h0M185.0 284.3h0M265.2 334.3h0M231.1 328.8h0M241.2 341.3h0M223.7 329.8h0M45.8 322.7h0M198.3 287.5h0M127.3 286.1h0M281.5 330.4h0M310.3 326.6h0M188.3 290.9h0M199.8 281.7h0M166.5 307.0h0M289.9 326.0h0M73.7 328.7h0M205.2 281.9h0M241.8 328.9h0M50.8 327.4h0M136.7 287.7h0M251.7 352.6h0M142.9 284.7h0M74.9 329.0h0M315.1 325.3h0M258.3 329.4h0M191.1 282.3h0M141.3 286.9h0M226.6 354.6h0M201.3 289.1h0M314.9 355.7h0M43.4 326.7h0M47.2 326.7h0M94.0 312.1h0M232.4 328.2h0M191.3 289.6h0M173.1 309.3h0M218.9 351.6h0M224.3 342.9h0M268.3 334.9h0M218.5 329.9h0M268.3 329.2h0M195.7 289.6h0M257.4 327.7h0M212.6 285.2h0M156.8 286.6h0M94.0 278.6h0M295.0 333.1h0M279.9 324.1h0M54.6 333.3h0M105.6 288.1h0M69.4 333.9h0M75.0 345.8h0M254.1 327.0h0M275.3 332.8h0M220.0 346.0h0M228.7 325.3h0M253.7 329.4h0M321.2 351.2h0M266.2 344.7h0M233.9 328.7h0M170.2 293.9h0M89.5 333.0h0M268.6 334.7h0M191.2 280.5h0M258.9 327.7h0M218.5 337.3h0M259.2 327.8h0M65.5 331.8h0M95.2 283.8h0M321.3 323.4h0M264.7 331.0h0M303.2 329.1h0M294.6 332.2h0M63.1 330.0h0M299.1 334.1h0M294.9 325.8h0M260.1 333.4h0M121.0 284.7h0M246.0 352.8h0M318.0 334.2h0M137.5 281.5h0M272.6 331.4h0M89.7 331.1h0M49.3 327.8h0M299.7 329.4h0M285.3 333.8h0M244.6 324.9h0M214.4 305.3h0M130.5 310.2h0M244.4 330.3h0M269.1 322.9h0M210.6 279.9h0M57.2 326.4h0M108.5 300.0h0M47.2 332.6h0M241.0 327.6h0M211.4 279.4h0M154.7 288.8h0M308.1 326.0h0M312.4 346.1h0M93.4 284.6h0M85.0 332.1h0M210.6 305.0h0M79.6 331.2h0M300.5 334.3h0M318.2 326.6h0M101.5 288.2h0M73.1 330.0h0M307.6 344.3h0M158.7 283.3h0M238.5 339.4h0M245.0 326.0h0M270.4 326.2h0M44.1 324.9h0M49.0 325.4h0M225.9 323.1h0M236.9 329.7h0M70.9 349.3h0M278.9 330.4h0M41.6 328.2h0M222.6 330.2h0M70.8 333.2h0M125.1 287.8h0M187.1 285.9h0M80.8 342.2h0M94.1 305.1h0M164.0 279.7h0M58.5 332.3h0M184.3 294.3h0M237.0 334.0h0M90.4 331.1h0M314.2 325.8h0M207.0 283.9h0M47.4 329.3h0M71.2 353.3h0M239.8 345.9h0M286.3 324.2h0M310.3 334.1h0M140.9 283.5h0M243.1 328.3h0M254.2 333.4h0M289.9 342.5h0M138.4 310.4h0M276.3 330.4h0M67.2 334.4h0M263.0 338.2h0M233.6 353.2h0M209.3 289.7h0M62.0 323.4h0M293.6 333.7h0M307.6 327.2h0M156.9 294.0h0M181.0 303.3h0M224.4 352.8h0M74.5 328.4h0M80.0 326.0h0M291.7 333.5h0M231.1 329.5h0M305.1 327.4h0M70.2 348.9h0M292.9 334.8h0M255.9 331.6h0M303.4 328.3h0M163.8 280.4h0M202.0 317.2h0M251.4 332.2h0M232.0 334.8h0M85.5 327.1h0M281.0 324.4h0M265.7 325.9h0M78.3 335.9h0M258.1 325.0h0M261.8 327.5h0M317.8 322.5h0M230.3 323.5h0M144.2 281.4h0M290.8 332.9h0M165.4 286.1h0M160.9 278.8h0M78.8 331.1h0M140.2 317.6h0M315.6 325.8h0M203.9 318.6h0M75.5 326.6h0M140.3 287.9h0M271.5 335.0h0M85.1 325.1h0M208.9 285.5h0M52.9 330.6h0M72.1 335.6h0M303.0 326.7h0M134.6 311.8h0M126.1 286.4h0M189.8 293.6h0M249.0 334.5h0M72.3 323.0h0M229.2 327.6h0M307.6 344.3h0M242.6 326.3h0M78.2 332.1h0M204.1 317.5h0M238.5 322.4h0M89.4 327.2h0M71.7 331.6h0M253.1 332.4h0M74.3 328.7h0M238.8 343.0h0M102.1 281.1h0M247.1 325.1h0M71.1 349.4h0M268.4 322.2h0M226.2 346.2h0M226.4 351.1h0M216.7 309.6h0M317.3 331.3h0M170.8 285.8h0M107.9 299.3h0M153.5 286.9h0M281.6 323.4h0M294.2 328.3h0M308.5 324.7h0M114.3 300.3h0M180.8 285.9h0M96.5 280.5h0M174.2 308.4h0M289.4 323.3h0M251.8 324.3h0M95.0 306.3h0M200.8 285.2h0M282.3 332.6h0M126.1 287.7h0M59.5 356.8h0M171.4 289.2h0M209.3 281.0h0M117.7 283.0h0M50.4 328.6h0M255.7 330.9h0M231.0 342.1h0M285.6 328.7h0M254.2 330.5h0M273.7 327.7h0M83.0 339.6h0M107.3 304.8h0M198.7 287.7h0M166.6 289.4h0M230.3 329.8h0M321.2 331.9h0M270.0 325.7h0M293.9 330.1h0M251.2 333.1h0M258.3 324.6h0M94.4 326.9h0M148.8 284.8h0M256.2 331.7h0M247.7 326.5h0M93.5 284.6h0M176.7 314.8h0M234.7 327.6h0M52.9 325.3h0M167.9 310.9h0M110.4 309.0h0M159.4 293.2h0M168.2 310.3h0M307.7 331.9h0M239.6 328.4h0M207.0 281.1h0M286.4 323.5h0M267.8 328.7h0M180.6 284.0h0M56.0 331.8h0M72.0 333.1h0M285.4 341.9h0M218.8 326.9h0M297.9 330.1h0M243.2 328.3h0M201.6 288.1h0M81.3 338.6h0M90.7 328.1h0M153.8 286.4h0M189.1 286.1h0M228.9 331.7h0M259.2 331.6h0M280.7 331.9h0M243.3 330.1h0M230.7 328.1h0M206.5 290.0h0M91.8 333.8h0M70.8 355.3h0M227.1 345.0h0M65.5 329.5h0M88.5 324.6h0M157.1 279.1h0M308.6 330.0h0M225.6 324.5h0M286.5 345.3h0M250.3 328.4h0M58.6 342.7h0M137.7 278.5h0M271.9 340.8h0M239.0 331.1h0M287.0 331.9h0M303.7 328.8h0M291.1 327.8h0M316.6 329.9h0M258.7 330.0h0M308.6 328.6h0M180.7 287.6h0M142.5 281.9h0M220.2 331.3h0M84.2 332.0h0M65.9 325.6h0M306.0 331.3h0M45.3 326.1h0M246.1 344.5h0M269.7 328.9h0M255.0 322.7h0M182.8 289.5h0M130.1 379.0h0M93.6 279.7h0M214.3 304.8h0M62.7 332.5h0M46.9 344.9h0M203.4 316.1h0M198.5 281.0h0M47.9 329.5h0M269.4 334.5h0M269.4 339.8h0M117.6 289.7h0M315.8 333.8h0M230.0 343.9h0M60.5 324.4h0M304.4 324.5h0M310.9 348.9h0M200.4 306.4h0M85.3 351.0h0M263.0 327.1h0M139.8 276.1h0M50.8 331.9h0M266.5 340.3h0M204.3 282.5h0M301.4 331.5h0M246.5 331.7h0M216.4 313.9h0M93.2 327.7h0M49.8 332.2h0M264.3 338.7h0M299.5 329.7h0M183.6 286.3h0M134.5 282.7h0M140.0 313.4h0M238.5 330.7h0M286.5 348.2h0M291.8 329.8h0M244.4 334.5h0M79.4 329.9h0M139.0 305.1h0M287.9 347.2h0M40.8 340.7h0M185.2 291.3h0M292.3 330.6h0M121.5 284.6h0M304.0 333.0h0M289.7 325.0h0M252.8 330.3h0M110.9 300.1h0M270.2 326.2h0M307.3 328.1h0M47.9 320.9h0M45.9 326.9h0M233.9 326.7h0M300.7 334.5h0M200.7 308.1h0M299.6 326.1h0M79.8 336.4h0M281.1 335.3h0M246.4 332.8h0M297.0 356.7h0M222.6 327.7h0M262.4 327.7h0M243.1 342.7h0M246.7 347.4h0M245.9 322.9h0M195.4 303.5h0M166.2 289.1h0M274.4 328.6h0M261.9 330.3h0M72.1 323.6h0M312.2 330.0h0M298.9 329.5h0M256.3 351.0h0M116.5 307.5h0M264.2 325.4h0M52.9 332.2h0M56.9 330.8h0M138.9 279.9h0M276.1 334.3h0M44.5 323.9h0M128.1 309.3h0M222.8 333.0h0M243.2 324.1h0M93.7 283.3h0M104.7 282.5h0M203.4 288.2h0M63.0 324.0h0M137.0 305.5h0M208.1 288.6h0M253.4 324.7h0M108.6 288.1h0M130.2 307.6h0M147.8 282.7h0M253.2 329.1h0M172.3 286.8h0M274.7 330.8h0M57.5 333.1h0M142.0 317.9h0M144.1 280.9h0M239.9 342.1h0M160.4 281.5h0M59.4 354.6h0M160.3 285.8h0M247.3 331.0h0M287.2 329.4h0M79.1 325.8h0M269.0 321.9h0M78.0 329.1h0M166.8 314.4h0M145.9 288.7h0M316.0 332.1h0M72.0 328.0h0M115.5 307.8h0M44.4 337.1h0M217.4 305.6h0M176.1 305.9h0M289.2 327.5h0M149.8 305.0h0M65.0 327.7h0M204.1 308.5h0M109.2 287.0h0M248.7 332.0h0M46.2 342.0h0M113.8 307.0h0M124.6 284.8h0M225.8 354.9h0M275.2 338.1h0M159.3 283.2h0M268.5 338.3h0M64.3 342.5h0M175.0 301.5h0M194.7 280.0h0M251.0 355.5h0M321.0 332.3h0M71.6 332.7h0M116.8 289.1h0M208.9 283.1h0M44.3 329.6h0M299.9 326.8h0M266.0 326.8h0M72.0 331.4h0M80.7 331.4h0M307.0 335.1h0M182.1 288.6h0M105.4 289.7h0M197.4 288.5h0M320.5 354.0h0M73.4 331.6h0M59.2 330.7h0M243.8 331.3h0M77.1 327.7h0M49.2 335.3h0M110.7 312.3h0M195.2 290.3h0M265.7 325.8h0M187.8 281.8h0M90.6 327.1h0M127.8 286.7h0M148.6 282.5h0M265.0 330.8h0M197.7 291.5h0M106.0 285.6h0M193.4 308.0h0M175.1 283.4h0M66.0 343.8h0M227.0 344.2h0M250.3 347.3h0M288.6 332.9h0M70.6 327.2h0M177.0 304.1h0M103.7 282.5h0M252.2 333.9h0M71.4 325.5h0M305.6 325.2h0M148.5 289.0h0M247.3 327.2h0M109.9 284.5h0M105.9 307.7h0M95.3 278.0h0M296.8 330.3h0M54.3 327.4h0M147.3 283.1h0M202.0 290.5h0M303.6 331.0h0M76.6 326.5h0M244.2 327.3h0M98.3 283.0h0M158.5 288.8h0M69.9 325.7h0M174.8 299.8h0M159.2 293.7h0M266.8 341.5h0M290.6 335.6h0M279.8 324.8h0M149.9 316.8h0M85.4 330.0h0M268.1 333.5h0M315.5 335.2h0M76.4 339.3h0M311.7 360.3h0M143.7 288.0h0M92.1 331.2h0M312.9 331.6h0M251.1 348.3h0M74.7 332.5h0M46.3 328.7h0M279.4 335.0h0M232.4 322.5h0M78.9 329.4h0M247.2 327.4h0M157.1 290.4h0M101.2 281.9h0M183.1 287.1h0M148.4 315.5h0M264.3 334.3h0M294.7 334.3h0M313.9 328.0h0M219.8 356.5h0M296.1 329.0h0M135.1 305.7h0M184.9 282.7h0M131.6 315.2h0M166.7 299.3h0M104.2 306.5h0M189.2 286.5h0M297.9 327.9h0M259.4 328.5h0M117.1 295.8h0M319.7 322.6h0M103.2 308.5h0M271.4 328.6h0M226.6 345.8h0M228.1 332.8h0M74.2 345.4h0M187.9 284.1h0M256.9 332.7h0M218.3 325.1h0M256.5 328.7h0M303.8 330.2h0M97.7 281.9h0M210.9 283.4h0M254.7 351.6h0M219.5 326.8h0M63.8 322.7h0M160.0 286.1h0M210.9 286.9h0M262.1 339.1h0M304.1 327.7h0M300.6 328.0h0M137.0 284.9h0M56.3 329.4h0M147.0 306.1h0M308.9 330.2h0M80.2 336.3h0M197.0 282.9h0M251.0 345.0h0M308.6 331.0h0M152.5 280.7h0M165.7 285.2h0M296.5 327.0h0M198.4 277.3h0M308.4 332.3h0M156.6 282.3h0M54.1 333.5h0M284.4 330.5h0M213.9 308.1h0M321.7 340.4h0M75.9 336.0h0M201.5 277.9h0M258.3 353.1h0M245.8 323.3h0M133.9 282.8h0M245.2 327.0h0M93.9 327.3h0M128.2 306.9h0M112.2 308.5h0M301.6 326.6h0M47.3 328.3h0M99.8 289.7h0M310.1 328.2h0M308.3 324.6h0M260.6 335.7h0M240.3 339.9h0M250.5 346.8h0M294.3 331.4h0M274.5 326.8h0M268.9 330.0h0M121.1 286.4h0M72.6 322.7h0M126.0 281.0h0M145.5 308.0h0M141.9 282.8h0M108.8 308.9h0M227.4 331.8h0M190.5 283.0h0M145.1 286.2h0M180.4 293.3h0M141.0 313.8h0M46.3 329.1h0M272.7 323.2h0M268.2 334.8h0M61.6 327.5h0M86.3 330.7h0M254.1 327.9h0M218.8 325.6h0M146.6 313.0h0M204.5 310.8h0M218.9 330.6h0M46.9 331.2h0M307.6 332.8h0M276.7 326.8h0M256.8 329.1h0M94.0 334.8h0M138.6 281.2h0M232.2 350.0h0M64.0 332.6h0M102.3 305.1h0M244.9 326.1h0M295.5 329.2h0M319.6 324.4h0M76.8 341.7h0M272.9 333.4h0M149.1 315.6h0M146.8 282.3h0M226.6 339.0h0M203.6 284.0h0M146.5 304.6h0M58.9 322.7h0M116.0 309.5h0M317.1 325.5h0M65.2 328.7h0M231.2 330.6h0M87.3 320.8h0M59.5 322.4h0M78.9 330.6h0M286.8 352.3h0M125.0 288.1h0M135.1 315.8h0M244.2 328.3h0M313.7 326.7h0M187.2 282.0h0M151.9 310.3h0M85.8 331.8h0M266.6 342.0h0M319.6 327.8h0M274.2 322.6h0M79.5 328.8h0M252.6 332.4h0M316.4 348.0h0M91.7 327.8h0M261.0 330.6h0M206.1 319.2h0M304.1 330.8h0M223.4 333.6h0M155.4 279.8h0M314.3 332.0h0M317.0 333.6h0M163.3 306.4h0M140.4 317.3h0M227.2 325.1h0M117.0 300.5h0M218.9 344.5h0M85.4 351.7h0M182.1 283.9h0M43.8 336.0h0M220.7 340.3h0M65.8 328.8h0M47.9 330.1h0M224.2 350.2h0M294.5 356.5h0M45.0 324.9h0M306.9 331.4h0M180.9 286.2h0M210.0 311.3h0M123.6 311.1h0M155.8 291.5h0M180.6 281.5h0M69.7 327.7h0M320.5 331.0h0M55.2 334.3h0M304.5 331.3h0M134.5 283.0h0M319.7 329.3h0M195.6 285.6h0M170.4 288.0h0M94.4 332.3h0M247.1 340.0h0M85.7 325.2h0M262.1 328.6h0M217.6 309.8h0M109.9 282.1h0M148.4 312.5h0M276.0 326.8h0M236.3 332.1h0M236.1 323.8h0M260.6 330.3h0M50.6 328.6h0M167.5 313.6h0M173.8 283.5h0M88.7 328.7h0M252.2 349.5h0M141.3 281.0h0M220.0 347.9h0M256.5 328.2h0M157.7 292.2h0M272.8 326.3h0M311.8 352.0h0M305.9 325.7h0M233.9 324.7h0M85.3 327.0h0M95.6 285.4h0M89.0 335.7h0M56.7 335.6h0M77.8 328.6h0M94.0 323.9h0M102.1 281.5h0M249.9 348.5h0M69.4 323.7h0M303.2 326.6h0M95.1 325.3h0M71.9 333.8h0M257.3 332.8h0M306.5 341.1h0M48.8 330.8h0M125.9 283.0h0M257.4 332.9h0M261.2 324.6h0M62.0 331.2h0M312.1 333.3h0M294.2 332.4h0M238.1 332.1h0M82.4 330.3h0M83.1 335.7h0M163.8 288.6h0M107.8 288.0h0M123.7 281.6h0M202.5 286.7h0M43.5 323.5h0M63.6 329.5h0M180.2 303.5h0M260.7 326.6h0M250.6 341.8h0M216.8 314.4h0M235.1 324.5h0M141.5 283.0h0M257.2 332.5h0M183.9 292.0h0M261.4 330.1h0M76.7 330.0h0M89.2 333.2h0M128.1 312.4h0M243.2 326.0h0M56.7 328.2h0M92.6 333.7h0M79.2 337.3h0M311.8 348.0h0M303.9 330.4h0M126.6 286.2h0M88.8 332.6h0M252.6 334.4h0M209.9 279.5h0M106.1 308.5h0M239.0 343.2h0M264.6 335.0h0M104.2 284.8h0M269.4 326.4h0M256.9 325.7h0M106.7 285.2h0M132.3 317.5h0M309.0 329.9h0M89.8 332.6h0M95.6 303.0h0M71.3 324.5h0M75.1 356.2h0M89.5 326.1h0M234.8 319.3h0M312.7 327.7h0M222.9 352.5h0M71.0 333.3h0M42.5 326.7h0M147.0 281.0h0M163.8 289.7h0M190.2 287.3h0M105.1 306.3h0M117.1 302.0h0M313.0 327.4h0M130.0 376.0h0M93.6 288.7h0M320.3 356.7h0M168.7 310.2h0M286.4 325.3h0M116.1 311.2h0M303.0 347.5h0M83.9 332.3h0M318.0 332.4h0M220.0 331.5h0M126.3 309.8h0M250.5 330.1h0M275.7 338.8h0M158.4 286.2h0M245.1 355.8h0M319.1 349.8h0M317.7 325.0h0M43.6 331.9h0M199.1 319.0h0M115.6 277.9h0M281.6 326.3h0M251.1 327.1h0M74.1 328.8h0M65.4 327.6h0M227.4 352.7h0M253.2 351.5h0M224.0 330.9h0M69.2 326.8h0M287.7 333.3h0M176.4 313.0h0M88.2 326.2h0M224.7 347.8h0M52.7 326.7h0M54.0 329.1h0M285.0 330.1h0M135.1 304.7h0M213.0 309.1h0M313.5 329.3h0M296.8 322.3h0M296.5 326.4h0M212.5 309.5h0M275.7 329.1h0M211.2 301.7h0M290.5 327.1h0M312.4 332.4h0M198.7 306.6h0M281.7 345.6h0M260.7 324.0h0M261.2 322.3h0M77.9 339.1h0M245.5 347.1h0M104.2 290.9h0M163.9 310.1h0M276.4 334.7h0M195.9 285.9h0M191.9 282.6h0M242.5 324.7h0M95.2 325.6h0M292.2 326.4h0M293.4 327.3h0M77.3 333.1h0M75.6 328.6h0M301.7 325.3h0M190.2 284.4h0M83.8 326.1h0M49.3 329.2h0M295.9 326.7h0M263.5 340.6h0M212.5 314.2h0M45.4 326.3h0M257.9 324.5h0M105.2 308.0h0M266.5 326.0h0M41.5 337.7h0M287.3 341.4h0M320.3 327.8h0M268.7 331.1h0M278.4 328.3h0M177.8 287.0h0M254.8 353.0h0M307.2 333.5h0" stroke="#ff4450" stroke-width="3.2" stroke-linecap="round" fill="none" stroke-opacity="0.58"/>
<path d="M205.5 287.5h0M273.9 323.7h0M77.0 326.7h0M189.9 283.6h0M69.1 329.1h0M316.5 325.5h0M279.4 323.5h0M148.2 316.1h0M182.2 287.7h0M116.1 279.8h0M274.7 333.6h0M142.5 284.5h0M231.6 323.0h0M179.7 307.1h0M72.8 324.9h0M289.1 346.5h0M82.3 326.5h0M239.1 330.7h0M242.6 338.2h0M319.3 356.4h0M321.5 351.7h0M243.4 331.0h0M165.5 316.0h0M255.2 334.7h0M314.4 341.0h0M305.3 330.9h0M89.3 331.7h0M180.0 287.0h0M75.8 325.0h0M219.1 331.3h0M281.5 331.3h0M282.2 333.5h0M49.3 331.1h0M44.2 325.3h0M260.3 323.8h0M124.3 286.9h0M295.5 325.8h0M259.2 325.4h0M44.9 327.2h0M230.3 339.9h0M52.8 328.6h0M79.1 326.5h0M70.1 328.9h0M242.4 324.3h0M281.7 322.3h0M268.8 333.9h0M57.6 327.9h0M210.0 285.7h0M202.1 282.2h0M288.6 350.3h0M253.8 325.7h0M95.5 285.3h0M315.3 324.3h0M143.5 282.2h0M114.3 300.5h0M94.5 323.4h0M277.4 326.4h0M133.7 314.1h0M120.3 280.1h0M143.9 276.9h0M202.9 289.6h0M98.7 281.2h0M134.0 283.3h0M310.3 330.9h0M95.7 306.0h0M144.9 281.3h0M91.2 324.6h0M315.0 340.5h0M157.3 287.7h0M157.2 286.4h0M220.3 328.9h0M166.0 286.2h0M77.6 326.7h0M301.3 327.9h0M208.1 289.9h0M63.0 330.8h0M282.5 325.6h0M199.3 312.7h0M130.2 371.5h0M165.3 286.8h0M109.9 306.9h0M87.9 344.9h0M45.5 325.1h0M205.6 283.5h0M264.5 324.7h0M265.2 343.2h0M73.3 345.4h0M198.6 280.8h0M268.1 342.7h0M144.7 281.3h0M92.9 323.7h0M320.8 324.1h0M166.3 315.6h0M196.2 303.8h0M46.4 332.6h0M126.1 285.5h0M306.1 327.6h0M181.2 282.5h0M165.4 307.3h0M244.9 327.7h0M248.4 360.0h0M41.3 328.7h0M120.0 287.7h0M264.1 345.3h0M115.6 305.7h0M97.1 313.3h0M245.3 324.0h0M84.1 335.6h0M126.0 283.1h0M240.8 332.9h0M106.3 282.6h0M280.4 322.1h0M53.7 332.0h0M42.8 339.6h0M224.3 349.1h0M321.8 351.7h0M290.7 323.7h0M303.6 344.7h0M235.4 350.7h0M283.5 324.3h0M306.7 329.2h0M197.3 286.4h0M73.6 343.2h0M262.0 332.3h0M218.2 325.9h0M188.8 288.4h0M300.8 329.1h0M45.5 326.9h0M47.6 348.1h0M58.6 326.2h0M316.4 343.9h0M231.9 326.0h0M44.9 337.9h0M171.0 284.8h0M115.8 284.2h0M171.5 292.4h0M124.6 286.6h0M246.6 327.4h0M286.8 330.8h0M225.6 323.9h0M194.6 320.0h0M174.5 282.3h0M158.4 283.9h0M65.5 324.3h0M88.7 331.2h0M156.5 281.0h0M105.3 281.5h0M260.3 333.2h0M289.8 322.1h0M234.4 339.8h0M225.6 329.4h0M256.1 324.3h0M300.3 325.2h0M78.8 337.3h0M156.5 285.3h0M192.9 312.2h0M64.5 341.9h0M231.6 335.3h0M315.0 332.0h0M274.4 331.5h0M250.4 331.6h0M109.3 303.8h0M206.8 292.0h0M254.9 327.7h0M124.3 278.6h0M78.6 331.9h0M264.5 326.5h0M230.2 349.8h0M220.7 350.7h0M316.9 326.9h0M321.0 325.9h0M47.9 328.9h0M255.3 342.6h0M200.1 316.1h0M259.9 327.6h0M155.5 292.0h0M286.6 353.8h0M218.7 331.6h0M259.8 328.4h0M261.1 335.1h0M242.4 324.6h0M186.0 283.5h0M284.6 331.4h0M60.6 325.4h0M319.5 325.4h0M238.9 342.9h0M228.6 329.9h0M118.4 285.8h0M304.6 333.8h0M267.8 342.7h0M307.7 329.5h0M92.5 325.2h0M251.3 329.2h0M269.5 344.9h0M222.0 344.2h0M70.7 324.3h0M163.7 294.1h0M265.9 325.5h0M236.1 334.4h0M254.5 328.0h0M287.1 331.9h0M144.3 312.7h0M163.5 299.8h0M185.4 287.4h0M261.7 327.2h0M281.8 329.0h0M45.8 321.8h0M314.1 327.4h0M299.5 329.8h0M280.8 328.9h0M223.4 331.4h0M218.2 341.9h0M231.5 353.5h0M314.0 330.8h0M279.3 331.4h0M94.4 284.7h0M106.3 281.6h0M241.8 338.0h0M308.1 332.0h0M65.6 320.6h0M193.0 312.2h0M90.0 328.5h0M153.9 283.4h0M280.1 323.2h0M106.4 287.3h0M296.9 326.3h0M296.7 327.3h0M264.3 330.5h0M87.2 322.0h0M304.7 324.2h0M41.0 336.4h0M292.2 332.1h0M146.7 281.9h0M183.5 287.6h0M175.4 314.1h0M241.1 326.7h0M267.3 331.7h0M121.6 288.6h0M250.5 323.6h0M165.2 309.1h0M321.7 326.7h0M85.8 351.9h0M203.2 288.9h0M46.7 329.7h0M251.3 324.2h0M84.1 347.0h0M285.4 350.9h0M285.3 326.6h0M76.0 338.9h0M189.6 287.5h0M229.3 327.4h0M250.5 324.7h0M170.8 305.7h0M304.6 327.7h0M299.0 328.6h0M183.2 289.9h0M72.3 348.6h0M152.0 281.9h0M91.6 327.3h0M70.8 329.9h0M253.3 354.7h0M309.2 330.1h0M254.7 326.3h0M118.0 289.1h0M74.7 327.3h0M69.6 349.3h0M219.0 332.5h0M145.3 308.3h0M253.7 332.3h0M154.5 284.0h0M227.1 329.7h0M185.1 288.1h0M306.2 326.9h0M158.2 278.6h0M93.8 302.5h0M185.7 292.5h0M95.5 290.0h0M204.5 285.9h0M269.9 325.6h0M267.6 321.9h0M216.7 315.4h0M273.8 330.3h0M293.6 333.0h0M72.3 325.8h0M265.4 324.8h0M132.1 314.3h0M275.6 334.4h0M299.1 359.6h0M292.5 331.3h0M319.5 348.3h0M149.0 286.6h0M286.1 350.9h0M289.7 348.9h0M320.6 322.9h0M167.6 308.0h0M142.0 283.0h0M218.7 330.2h0M297.7 330.2h0M50.5 334.2h0M314.4 334.0h0M242.3 338.2h0M253.4 330.5h0M312.3 329.2h0M63.8 330.5h0M98.0 286.5h0M137.9 306.1h0M286.3 342.4h0M312.2 344.8h0M230.3 330.6h0M175.2 288.3h0M94.9 284.5h0M104.4 288.3h0M220.7 343.7h0M216.9 309.8h0M296.0 332.5h0M91.1 331.8h0M236.7 329.3h0M229.8 327.8h0M268.3 344.9h0M220.2 332.3h0M41.8 325.1h0M322.7 332.5h0M220.7 324.6h0M69.7 329.7h0M249.3 355.5h0M258.3 349.2h0M141.3 277.7h0M121.7 285.6h0M77.7 331.3h0M194.3 321.0h0M203.2 283.3h0M245.8 344.4h0M265.2 325.5h0M296.8 334.0h0M108.6 279.6h0M174.0 284.5h0M125.0 287.0h0M170.7 286.2h0M89.3 330.9h0M222.9 319.0h0M270.1 326.4h0M49.0 335.8h0M264.9 340.0h0M257.8 330.2h0M111.3 310.6h0M315.9 324.1h0M276.9 326.2h0M242.1 329.9h0M158.5 291.8h0M144.6 281.5h0M289.8 325.2h0M210.5 289.0h0M92.6 322.8h0M181.9 293.2h0M164.8 285.2h0M92.8 324.7h0M278.9 332.7h0M209.4 304.2h0M251.4 353.3h0M198.8 289.5h0M142.6 281.0h0M281.0 323.3h0M148.5 280.5h0M284.4 348.3h0M268.2 326.5h0M245.9 332.5h0M169.2 288.0h0M217.0 311.2h0M67.4 323.7h0M280.4 322.7h0M294.6 323.9h0M254.6 350.3h0M171.3 286.9h0M76.6 329.5h0M297.8 349.7h0M320.2 323.2h0M247.6 325.0h0M223.2 329.7h0M182.9 284.2h0M232.5 323.3h0M306.3 344.8h0M269.3 324.9h0M107.1 301.9h0M209.9 302.1h0M146.1 282.8h0M121.9 292.5h0M296.9 324.4h0M180.8 283.0h0M139.7 279.4h0M148.7 321.7h0M313.0 326.5h0M256.4 332.9h0M74.8 359.6h0M141.7 283.6h0M85.9 347.5h0M230.1 344.9h0M242.6 341.1h0M253.9 352.9h0M243.8 326.4h0M74.6 332.3h0M163.0 281.6h0M101.4 287.3h0M65.9 335.1h0M78.6 328.9h0M318.0 329.1h0M91.5 328.0h0M252.3 329.6h0M130.0 310.1h0M280.9 324.7h0M211.4 283.5h0M87.7 333.2h0M88.7 332.1h0M284.2 325.2h0M129.0 304.9h0M303.2 346.0h0M172.1 284.9h0M313.5 326.6h0M250.2 334.4h0M288.0 352.5h0M41.4 325.3h0M72.7 359.6h0M91.2 331.7h0M282.4 324.0h0M79.6 327.0h0M79.6 330.4h0M141.9 281.6h0M62.7 326.9h0M256.8 331.2h0M221.7 346.3h0M56.9 329.6h0M124.9 285.1h0M315.1 328.3h0M212.5 300.9h0M56.4 343.9h0M288.2 344.0h0M161.4 286.9h0M267.1 340.1h0M109.9 291.7h0M284.4 326.2h0M164.5 309.2h0M217.6 309.8h0M89.5 329.5h0M296.2 332.2h0M189.0 286.3h0M92.1 332.7h0M160.7 285.8h0M276.6 331.3h0M315.6 343.4h0M295.8 328.3h0M65.1 330.2h0M95.3 288.8h0M91.9 323.2h0M181.0 280.9h0M193.6 309.4h0M63.6 332.3h0M313.3 330.8h0M251.2 332.2h0M73.0 331.4h0M73.8 329.0h0M295.3 325.2h0M275.1 330.9h0M78.5 331.7h0M45.8 330.5h0M195.1 289.1h0M222.2 342.1h0M146.2 283.5h0M122.3 290.9h0M81.9 340.9h0M44.4 339.1h0M261.2 330.9h0M160.2 280.4h0M263.6 336.9h0M91.1 330.8h0M198.0 289.8h0M47.4 327.0h0M171.4 281.2h0M183.3 281.2h0M230.8 327.2h0M238.2 327.4h0M116.5 304.0h0M171.8 290.1h0M251.7 326.0h0M182.8 285.9h0M138.2 315.9h0M312.0 328.6h0M255.0 350.5h0M74.2 342.1h0M105.9 282.8h0M307.3 324.4h0M269.0 335.2h0M116.8 285.1h0M148.3 287.5h0M67.4 333.6h0M293.0 331.9h0M142.3 285.2h0M300.9 327.2h0M126.1 282.2h0M139.6 279.1h0M280.4 332.5h0M167.4 315.7h0M101.1 278.8h0M134.7 279.8h0M71.9 331.6h0M312.2 330.0h0M111.8 306.6h0M78.1 331.8h0M296.4 329.3h0M316.7 332.0h0M251.7 329.6h0M312.5 333.4h0M201.5 284.7h0M273.4 331.1h0M308.2 329.2h0M230.8 328.0h0M87.2 328.2h0M269.5 331.8h0M75.0 333.3h0M99.2 285.9h0M256.2 323.5h0M136.8 291.8h0M45.0 333.2h0M246.3 357.9h0M269.7 333.7h0M78.6 324.0h0M85.4 325.9h0M174.5 279.9h0M223.9 324.6h0M298.3 323.8h0M64.0 334.3h0M298.8 352.4h0M73.3 327.2h0M78.1 334.4h0M138.3 307.2h0M93.7 336.6h0M47.7 345.3h0M252.0 334.7h0M72.1 357.6h0M195.7 311.3h0M113.8 302.9h0M74.1 327.0h0M147.0 289.3h0M116.2 283.9h0M309.7 343.7h0M225.6 325.9h0M308.0 352.7h0M125.9 292.5h0M95.4 303.6h0M228.7 326.3h0M69.8 325.3h0M248.8 343.0h0M67.1 331.1h0M296.7 344.4h0M173.1 308.6h0M89.6 332.2h0M173.9 312.1h0M256.7 329.5h0M276.1 327.5h0M194.3 287.5h0M127.6 283.0h0M104.1 280.9h0M270.1 329.1h0M41.9 333.3h0M109.4 285.1h0M301.3 335.4h0M73.7 332.8h0M121.3 280.5h0M145.6 277.6h0M227.3 328.4h0M168.2 284.3h0M317.1 326.4h0M84.7 333.2h0M282.6 330.0h0M139.3 277.0h0M314.8 331.9h0M221.0 339.2h0M117.1 284.1h0M279.2 331.0h0M230.2 328.0h0M274.7 331.3h0M107.5 287.0h0M194.1 289.0h0M199.5 312.9h0M50.1 333.2h0M57.2 325.9h0M87.0 331.1h0M91.1 328.6h0M280.9 328.4h0M95.2 325.8h0M266.3 334.4h0M127.1 281.5h0M181.3 292.9h0M283.9 323.9h0M79.5 331.5h0M95.4 325.6h0M117.6 303.9h0M49.7 323.8h0M234.9 327.5h0M276.4 331.3h0M140.3 281.3h0M116.8 284.7h0M92.6 323.6h0M234.2 348.8h0M84.2 327.0h0M139.4 290.5h0M284.5 325.3h0M241.2 329.6h0M255.4 324.8h0M46.0 331.2h0M55.3 351.7h0M118.3 284.1h0M221.4 338.8h0M280.0 328.4h0M322.6 323.9h0M153.2 278.3h0M263.2 340.4h0M300.1 331.1h0M227.4 346.4h0M229.8 327.2h0M108.1 304.2h0M314.0 322.7h0M253.8 343.4h0M70.4 358.9h0M193.8 322.9h0M148.7 289.6h0M193.9 306.2h0M306.4 342.0h0M219.2 327.6h0M269.1 323.5h0M221.3 330.8h0M190.0 311.5h0M316.6 327.4h0M225.7 323.1h0M124.2 288.9h0M201.3 287.6h0M119.7 285.1h0M310.4 347.5h0M194.9 312.4h0M285.5 352.7h0M83.9 329.5h0M253.8 353.1h0M229.4 328.7h0M310.4 329.7h0M261.6 329.2h0M191.0 281.8h0M247.1 341.4h0M132.6 312.4h0M70.2 326.9h0M187.7 284.9h0M134.7 307.8h0M262.1 332.1h0M219.6 343.6h0M58.5 324.7h0M49.7 326.5h0M200.1 311.6h0M304.0 330.5h0M238.5 333.2h0M230.9 347.8h0M57.2 332.0h0M315.0 330.1h0M269.0 338.4h0M208.4 285.2h0M275.6 340.6h0M250.0 341.7h0M228.3 326.0h0M95.8 306.5h0M317.2 329.1h0M102.5 289.2h0M134.1 307.8h0M255.0 327.2h0M227.9 323.0h0M202.0 283.9h0M203.1 280.0h0M124.2 281.2h0M261.3 330.4h0M306.7 333.9h0M256.0 327.1h0M179.3 285.1h0M86.7 326.3h0M251.0 327.2h0M319.3 358.7h0M250.9 334.9h0M223.6 326.3h0M77.4 327.3h0M145.8 282.4h0M195.1 309.8h0M297.5 334.9h0M254.6 345.2h0M289.1 324.2h0M171.0 310.3h0M42.5 332.8h0M44.2 340.2h0M52.4 334.4h0M285.3 332.1h0M134.4 312.0h0M276.4 332.2h0M233.3 330.6h0M275.1 336.6h0M224.1 333.0h0M57.3 324.0h0M79.1 328.0h0M90.4 331.8h0M248.7 339.1h0M311.8 328.5h0M198.2 312.9h0M312.9 326.5h0M74.5 355.9h0M67.1 334.5h0M304.7 333.9h0M285.1 349.7h0M244.2 333.7h0M138.2 287.3h0M152.8 303.5h0M230.2 333.2h0M43.3 336.6h0M190.1 283.8h0M171.5 276.4h0M297.2 356.7h0M106.3 287.4h0M266.9 339.9h0M82.2 325.5h0M160.7 285.8h0M45.3 326.9h0M133.2 317.6h0M107.8 290.4h0M50.0 331.9h0M271.1 331.1h0M244.4 332.8h0M173.4 311.0h0M289.2 324.9h0M318.3 323.3h0M82.9 338.0h0M49.2 325.5h0M63.1 333.1h0M149.6 318.7h0M91.0 330.8h0M257.8 324.1h0M275.2 330.9h0M166.8 293.1h0M230.1 329.8h0M247.4 322.5h0M286.2 333.8h0M136.6 289.2h0M270.9 327.7h0M226.9 333.5h0M56.0 320.2h0M55.2 347.2h0M59.3 331.9h0M248.9 342.8h0M142.5 288.3h0M251.7 326.1h0M98.8 280.8h0M149.0 314.5h0M232.5 332.2h0M182.2 288.1h0M203.8 279.2h0M84.6 326.2h0M255.3 324.8h0M225.6 327.3h0M265.8 344.1h0M320.5 326.4h0M77.1 327.3h0M46.2 326.5h0M185.3 281.9h0M293.8 327.0h0M232.0 354.6h0M60.0 331.3h0M94.4 328.5h0M314.8 329.9h0M312.4 326.2h0M279.1 328.1h0M63.0 335.2h0M306.5 333.6h0M271.4 329.6h0M165.6 300.0h0M262.4 342.4h0M103.6 285.2h0M298.2 331.5h0M92.5 325.8h0M141.4 306.9h0M262.3 344.3h0M41.4 325.9h0M240.1 327.8h0M193.6 312.5h0M172.9 301.4h0M284.2 327.9h0M49.6 330.8h0M109.1 285.9h0M43.7 324.7h0M77.2 328.7h0M296.4 345.9h0M98.9 279.8h0M85.0 353.1h0M169.0 307.3h0M71.7 356.6h0M199.5 313.0h0M166.3 292.1h0M244.1 327.3h0M173.3 287.5h0M243.2 325.6h0M76.8 330.6h0M270.6 327.9h0M295.2 325.8h0M289.7 326.7h0M294.5 333.8h0M112.4 301.1h0M71.6 326.5h0M230.3 325.5h0M114.4 303.3h0M235.5 342.9h0M228.1 331.5h0M298.9 360.1h0M246.1 354.6h0M212.0 310.1h0M77.7 341.9h0M137.0 305.9h0M196.6 315.7h0M316.6 329.5h0M95.7 283.9h0M312.8 329.7h0M233.6 333.3h0M317.3 347.8h0M172.0 299.7h0M295.2 332.9h0M252.5 354.0h0M305.3 331.9h0M203.8 304.7h0M266.2 329.7h0M195.6 276.8h0M160.8 285.9h0M250.3 336.4h0M206.1 285.7h0M61.2 328.5h0M264.5 341.3h0M233.0 334.0h0M190.5 289.9h0M163.2 280.1h0M78.9 331.0h0M136.4 310.7h0M234.0 331.2h0M103.8 282.0h0M294.9 360.7h0M80.4 323.1h0M148.6 314.3h0M173.3 308.0h0M286.0 342.5h0M65.1 341.9h0M278.8 334.1h0M84.5 346.4h0M296.0 349.5h0M299.6 327.6h0M105.9 299.0h0M193.7 312.3h0M320.4 333.3h0M188.6 291.4h0M211.5 282.7h0M230.7 341.8h0M136.4 284.9h0M224.1 345.2h0M268.9 335.7h0M119.4 278.1h0M272.3 329.3h0M266.4 341.2h0M284.4 333.8h0M64.7 327.8h0M210.6 310.1h0M83.1 338.9h0M280.7 332.6h0M120.2 291.2h0M290.8 333.8h0M151.4 306.5h0M205.9 281.4h0M229.2 323.3h0M63.7 330.2h0M63.2 334.8h0M87.7 327.1h0M231.4 353.8h0M293.3 326.3h0M139.9 288.9h0M85.5 325.4h0M58.2 344.6h0M174.9 300.8h0M56.6 341.2h0M228.0 333.1h0M111.6 302.9h0M50.7 325.5h0M166.3 306.7h0M147.1 299.5h0M265.1 333.7h0M96.2 278.7h0M205.6 288.1h0M287.0 351.8h0M241.5 328.0h0M40.7 325.2h0M123.9 300.7h0M85.1 325.3h0M294.6 331.1h0M254.4 326.7h0M245.3 347.0h0M304.8 333.8h0M58.6 322.8h0M251.9 329.7h0M276.1 324.2h0M258.7 348.2h0M167.0 284.5h0M315.6 334.6h0M202.3 314.2h0M262.6 329.4h0M260.9 330.8h0M212.9 305.4h0M248.8 344.7h0M265.0 329.9h0M247.3 342.7h0M165.9 285.9h0M316.1 339.4h0M151.4 307.2h0M259.0 348.3h0M208.0 281.5h0M171.0 287.4h0M78.9 342.6h0M184.4 286.8h0M217.7 309.7h0M264.4 339.2h0M206.9 290.4h0M191.3 289.5h0M239.4 342.9h0M68.7 322.1h0M179.3 301.3h0M237.0 325.3h0M233.6 333.8h0M267.8 322.9h0M284.4 333.4h0M293.9 322.6h0M53.0 329.3h0M295.1 333.1h0M175.7 302.1h0M206.5 288.9h0M71.6 343.7h0M103.8 289.0h0M294.4 335.7h0M186.9 290.3h0M141.7 281.4h0M210.0 287.7h0M80.8 328.0h0M203.0 311.0h0M242.2 331.0h0M144.1 315.1h0M91.9 323.0h0M138.9 285.7h0M57.7 391.4h0M74.6 348.2h0M253.0 348.2h0M268.7 325.7h0M256.5 331.0h0M236.4 327.4h0M229.7 331.3h0M211.5 312.1h0M151.2 290.1h0M305.4 327.0h0M161.2 288.9h0M117.2 287.6h0M305.7 329.8h0M148.8 315.3h0M255.5 331.6h0M125.8 283.9h0M227.9 351.2h0M60.5 333.6h0M105.6 305.2h0M204.2 313.8h0M140.8 280.2h0M179.4 294.0h0M210.5 307.4h0M54.8 326.2h0M139.8 313.0h0M159.8 288.6h0M262.0 331.2h0M93.8 326.6h0M287.3 322.4h0M300.1 328.5h0M183.3 287.2h0M75.8 336.9h0M56.9 329.7h0M225.7 322.8h0M174.7 304.8h0M118.3 283.2h0M211.4 303.7h0M265.0 334.4h0M273.8 327.9h0M249.1 360.1h0M315.5 329.3h0M225.4 355.7h0M85.5 326.5h0M220.5 326.5h0M316.1 331.1h0M305.5 331.9h0M280.5 322.9h0M79.9 325.3h0M153.1 292.5h0M307.6 330.4h0M314.3 351.2h0M192.1 307.7h0M218.7 333.3h0M73.0 322.6h0M53.5 349.5h0M270.9 329.0h0M211.2 312.8h0M162.9 274.5h0M78.2 327.4h0M140.4 284.5h0M85.4 325.1h0M82.9 336.1h0M231.0 330.9h0M311.4 350.3h0M133.3 312.0h0M190.2 291.0h0M86.0 330.4h0M161.9 299.2h0M310.1 336.6h0M194.0 311.7h0M278.9 331.9h0M75.0 327.3h0M280.4 332.4h0M267.4 346.8h0M146.8 313.4h0M229.5 325.4h0M220.3 343.3h0M204.6 282.9h0M223.4 330.5h0M175.9 309.5h0M52.6 328.1h0M185.2 281.6h0M65.2 326.7h0M254.3 332.1h0M105.4 289.5h0M70.2 335.2h0M71.3 352.9h0M251.2 326.4h0M121.6 280.6h0M190.4 288.3h0M235.0 329.9h0M228.0 334.3h0M198.2 280.0h0M70.3 334.7h0M221.6 337.3h0M60.5 331.7h0M228.6 329.7h0M172.6 308.2h0M169.4 310.1h0M266.0 334.6h0M235.4 340.2h0M104.4 289.9h0M179.5 283.7h0M70.5 326.6h0M261.8 329.0h0M162.5 282.0h0M277.4 328.8h0M293.3 318.5h0M202.7 283.2h0M111.7 309.1h0M198.2 314.2h0M94.0 304.0h0M227.6 327.9h0M52.2 325.3h0M170.7 291.2h0M248.5 352.6h0M286.0 327.5h0M84.1 340.0h0M74.9 332.8h0M46.0 334.2h0M80.1 339.8h0M284.1 333.7h0M94.1 327.9h0M184.1 286.9h0M294.2 325.7h0M230.6 345.5h0M273.4 335.4h0M320.5 324.4h0M115.3 286.0h0M279.5 330.8h0M98.1 284.0h0M90.7 325.8h0M307.7 327.7h0M140.8 305.3h0M49.3 331.2h0M210.1 289.5h0M159.6 277.5h0M164.0 284.1h0M130.9 304.0h0M107.1 283.5h0M111.4 305.6h0M305.1 334.3h0M42.7 327.0h0M47.8 330.5h0M149.5 321.7h0M246.8 325.6h0M134.2 288.6h0M265.6 341.3h0M272.8 334.8h0M232.6 334.8h0M277.2 324.0h0M76.5 340.6h0M78.8 341.3h0M180.9 290.5h0M305.7 330.7h0M115.6 284.7h0M144.8 284.2h0M62.7 324.9h0M179.5 290.8h0M78.8 340.3h0M279.9 331.1h0M258.1 327.4h0M53.0 326.7h0M265.2 340.5h0M306.4 343.5h0M212.4 281.8h0M63.4 331.0h0M76.5 342.9h0M93.0 289.6h0M256.2 329.7h0M298.0 326.2h0M252.1 352.3h0M296.1 334.4h0M314.0 350.3h0M156.0 289.3h0M299.7 325.4h0M102.6 301.3h0M257.6 351.3h0M315.6 333.3h0M64.6 326.1h0M142.4 285.9h0M310.6 355.5h0M75.1 355.4h0M58.9 324.1h0M211.9 304.5h0M250.0 326.3h0M212.6 280.3h0M91.7 328.9h0M265.1 317.5h0M63.3 338.8h0M297.3 344.9h0M137.0 278.4h0M47.2 329.4h0M275.5 340.9h0M242.2 341.1h0M58.7 345.0h0M79.8 328.7h0M300.4 327.5h0M267.3 327.9h0M170.3 300.8h0M316.1 335.0h0M150.1 315.4h0M314.4 328.9h0M285.8 324.8h0M284.2 348.4h0M241.7 335.1h0M169.1 282.7h0M109.0 305.7h0M53.2 329.3h0M140.9 282.5h0M206.4 312.9h0M210.5 307.2h0M143.1 288.9h0M122.1 284.8h0M212.4 283.9h0M157.6 287.2h0M281.5 332.8h0M195.4 284.3h0M311.5 348.5h0M195.4 287.4h0M202.8 304.9h0M126.6 282.2h0M52.7 327.8h0M244.0 325.6h0M86.4 329.9h0M225.3 332.7h0M230.7 346.4h0M61.5 321.9h0M80.1 324.8h0M223.8 335.2h0M110.4 281.1h0M240.9 326.6h0M195.4 314.8h0M49.7 326.5h0M71.0 328.8h0M279.0 334.1h0M285.9 327.3h0M316.1 332.2h0M206.5 306.4h0M90.9 324.4h0M71.1 335.1h0M62.8 340.7h0M284.8 332.3h0M303.6 332.0h0M233.5 328.8h0M281.7 325.8h0M125.5 290.6h0M74.5 331.0h0M314.2 350.5h0M274.5 339.1h0M227.7 330.3h0M230.7 328.6h0M117.7 284.5h0M84.5 326.6h0M242.3 330.8h0M77.9 322.3h0M193.7 306.6h0M121.8 283.5h0M246.4 357.1h0M51.7 326.8h0M195.0 282.5h0M223.9 326.9h0M157.7 281.1h0M229.6 345.2h0M82.5 342.7h0M54.5 333.2h0M307.6 333.6h0M166.3 284.3h0M281.7 328.1h0M141.9 277.5h0M116.5 285.7h0M292.8 328.8h0M74.0 331.7h0M291.5 332.6h0M289.1 346.3h0M70.9 325.3h0M287.0 330.1h0M60.0 331.9h0M41.1 331.6h0M315.0 326.0h0M94.4 288.6h0M297.9 358.1h0M278.8 332.8h0M303.2 329.2h0M294.8 330.3h0M174.0 313.9h0M158.2 282.3h0M130.2 314.7h0M201.8 315.6h0M125.3 284.1h0M121.2 283.9h0M152.3 313.5h0M321.4 326.4h0M267.5 327.5h0M107.5 301.1h0M229.8 323.0h0M315.4 323.9h0M199.5 312.3h0M195.7 308.7h0M218.1 327.2h0M233.4 330.0h0M63.6 334.9h0M250.6 329.1h0M268.0 340.7h0M292.4 324.3h0M231.7 333.2h0M256.4 346.6h0M71.5 328.9h0M256.6 335.0h0M234.9 324.1h0M74.8 327.5h0M296.0 331.1h0M238.3 332.1h0M65.3 332.3h0M131.9 314.8h0M288.6 346.1h0M65.3 338.5h0M269.0 333.0h0M136.7 285.7h0M136.2 313.3h0M155.0 279.0h0M80.6 324.7h0M63.6 338.3h0M125.1 288.7h0M319.0 349.7h0M244.9 323.0h0M124.8 282.0h0M292.3 333.9h0M85.5 330.5h0M131.7 308.2h0M223.0 333.6h0M265.3 341.1h0M73.1 327.0h0M126.1 290.8h0M266.2 327.2h0M80.1 327.0h0M311.6 327.9h0M197.7 314.9h0M205.4 290.4h0M235.1 329.0h0M314.3 344.2h0M151.9 283.2h0M43.7 330.6h0M252.9 331.6h0M273.8 334.0h0M251.8 347.6h0M244.9 335.2h0M58.4 358.0h0M226.5 348.8h0M314.8 360.1h0M278.5 326.3h0M70.0 357.2h0M180.2 305.9h0M165.5 307.9h0M285.1 326.9h0M239.5 338.3h0M245.3 325.3h0M149.3 309.7h0M80.0 342.0h0M220.9 329.2h0M138.3 289.4h0M250.9 328.4h0M263.2 344.7h0M234.1 324.4h0M152.8 280.1h0M157.8 290.0h0M135.7 282.8h0M281.3 329.1h0M69.9 352.9h0M284.8 346.0h0M191.7 305.9h0M209.6 277.7h0M73.0 330.1h0M273.6 326.0h0M47.1 350.0h0M69.8 331.5h0M221.4 327.5h0M122.5 292.5h0M59.1 343.6h0M262.4 321.0h0M245.2 331.1h0M47.9 334.1h0M117.0 305.7h0M64.1 329.5h0M73.3 336.2h0M241.8 325.5h0M141.0 314.9h0M74.4 325.2h0M259.9 328.1h0M220.7 327.7h0M73.1 353.4h0M56.5 324.2h0M154.7 289.0h0M56.3 355.3h0M149.0 285.2h0M319.8 323.0h0M205.5 283.4h0M45.4 323.7h0M93.8 307.2h0M141.5 288.7h0M137.9 307.0h0M158.1 282.1h0M164.3 311.0h0M164.1 289.4h0M295.9 326.5h0M84.2 330.2h0M219.3 342.4h0M179.6 304.9h0M235.2 325.2h0M293.5 326.5h0M232.9 325.9h0M77.6 333.0h0M51.3 324.2h0M203.9 291.2h0M231.3 322.1h0M46.1 330.5h0M85.9 330.2h0M238.3 328.4h0M172.2 306.9h0M123.9 301.9h0M72.6 330.4h0M72.5 343.0h0M113.1 308.0h0M187.4 284.1h0" stroke="#ff4450" stroke-width="3.2" stroke-linecap="round" fill="none" stroke-opacity="0.58"/>
<line x1="40.7" y1="172.7" x2="323.5" y2="172.7" stroke="#b4b4b4" stroke-width="1"/>
<line x1="40.7" y1="264.3" x2="323.5" y2="264.3" stroke="#777" stroke-width="1"/>
<line x1="40.7" y1="172.2" x2="40.7" y2="399" stroke="#3a3a3a" stroke-width="1"/>
<line x1="323.5" y1="172.2" x2="323.5" y2="399" stroke="#555" stroke-width="1"/>
<line x1="40.2" y1="398.6" x2="324.0" y2="398.6" stroke="#3a3a3a" stroke-width="1"/>
<line x1="40.7" y1="398.6" x2="40.7" y2="396" stroke="#3a3a3a" stroke-width="0.8"/>
<line x1="40.7" y1="264.3" x2="40.7" y2="261.7" stroke="#777" stroke-width="0.8"/>
<text x="40.7" y="410.8" fill="#222" text-anchor="middle" style="font-size:9.8px;" >0</text>
<line x1="97.1" y1="398.6" x2="97.1" y2="396" stroke="#3a3a3a" stroke-width="0.8"/>
<line x1="97.1" y1="264.3" x2="97.1" y2="261.7" stroke="#777" stroke-width="0.8"/>
<text x="97.1" y="410.8" fill="#222" text-anchor="middle" style="font-size:9.8px;" >2</text>
<line x1="153.6" y1="398.6" x2="153.6" y2="396" stroke="#3a3a3a" stroke-width="0.8"/>
<line x1="153.6" y1="264.3" x2="153.6" y2="261.7" stroke="#777" stroke-width="0.8"/>
<text x="153.6" y="410.8" fill="#222" text-anchor="middle" style="font-size:9.8px;" >4</text>
<line x1="210.0" y1="398.6" x2="210.0" y2="396" stroke="#3a3a3a" stroke-width="0.8"/>
<line x1="210.0" y1="264.3" x2="210.0" y2="261.7" stroke="#777" stroke-width="0.8"/>
<text x="210.0" y="410.8" fill="#222" text-anchor="middle" style="font-size:9.8px;" >6</text>
<line x1="266.5" y1="398.6" x2="266.5" y2="396" stroke="#3a3a3a" stroke-width="0.8"/>
<line x1="266.5" y1="264.3" x2="266.5" y2="261.7" stroke="#777" stroke-width="0.8"/>
<text x="266.5" y="410.8" fill="#222" text-anchor="middle" style="font-size:9.8px;" >8</text>
<line x1="322.9" y1="398.6" x2="322.9" y2="396" stroke="#3a3a3a" stroke-width="0.8"/>
<line x1="322.9" y1="264.3" x2="322.9" y2="261.7" stroke="#777" stroke-width="0.8"/>
<text x="322.9" y="410.8" fill="#222" text-anchor="middle" style="font-size:9.8px;" >10</text>
<line x1="40.7" y1="183.1" x2="43.300000000000004" y2="183.1" stroke="#3a3a3a" stroke-width="0.8"/>
<text x="35.2" y="186.3" fill="#222" text-anchor="end" style="font-size:8.7px;" >1.02</text>
<line x1="40.7" y1="210.0" x2="43.300000000000004" y2="210.0" stroke="#3a3a3a" stroke-width="0.8"/>
<text x="35.2" y="213.2" fill="#222" text-anchor="end" style="font-size:8.7px;" >1.00</text>
<line x1="40.7" y1="236.9" x2="43.300000000000004" y2="236.9" stroke="#3a3a3a" stroke-width="0.8"/>
<text x="35.2" y="240.1" fill="#222" text-anchor="end" style="font-size:8.7px;" >0.98</text>
<line x1="40.7" y1="271.6" x2="43.300000000000004" y2="271.6" stroke="#3a3a3a" stroke-width="0.8"/>
<text x="35.2" y="274.8" fill="#222" text-anchor="end" style="font-size:8.7px;" >1.10</text>
<line x1="40.7" y1="299.7" x2="43.300000000000004" y2="299.7" stroke="#3a3a3a" stroke-width="0.8"/>
<text x="35.2" y="302.9" fill="#222" text-anchor="end" style="font-size:8.7px;" >1.05</text>
<line x1="40.7" y1="327.8" x2="43.300000000000004" y2="327.8" stroke="#3a3a3a" stroke-width="0.8"/>
<text x="35.2" y="331.0" fill="#222" text-anchor="end" style="font-size:8.7px;" >1.00</text>
<line x1="40.7" y1="355.9" x2="43.300000000000004" y2="355.9" stroke="#3a3a3a" stroke-width="0.8"/>
<text x="35.2" y="359.1" fill="#222" text-anchor="end" style="font-size:8.7px;" >0.95</text>
<line x1="40.7" y1="384.0" x2="43.300000000000004" y2="384.0" stroke="#3a3a3a" stroke-width="0.8"/>
<text x="35.2" y="387.2" fill="#222" text-anchor="end" style="font-size:8.7px;" >0.90</text>
<text x="181.8" y="426" fill="#222" text-anchor="middle" style="font-size:10.2px;" >Time (s)</text>
<g transform="rotate(-90 9.3 285.4)"><text x="-42.37" y="285.4" fill="#222" style="font-size:10.55px">Resistance,&#160;<tspan font-style="italic">R</tspan>(<tspan font-style="italic">t</tspan>)/</text><path d="M39.00 277.70 L36.99 282.18 L39.00 286.67" fill="none" stroke="#222" stroke-width="0.79"/><text x="39.79" y="285.4" fill="#222" style="font-size:10.55px"><tspan font-style="italic">R</tspan>(<tspan font-style="italic">t</tspan>)</text><path d="M58.18 277.70 L60.18 282.18 L58.18 286.67" fill="none" stroke="#222" stroke-width="0.79"/></g>
<circle cx="149.2" cy="375.3" r="3.9" fill="#7b5282"/>
<circle cx="149.2" cy="387.6" r="3.9" fill="#ff8a92"/>
<g><text x="158.00" y="378.6" fill="#222" style="font-size:8.7px">High&#160;resistance:&#160;</text><path d="M225.01 372.25 L223.35 375.95 L225.01 379.64" fill="none" stroke="#222" stroke-width="0.65"/><text x="225.66" y="378.6" fill="#222" style="font-size:8.7px"><tspan font-style="italic">R</tspan>(<tspan font-style="italic">t</tspan>)</text><path d="M240.83 372.25 L242.48 375.95 L240.83 379.64" fill="none" stroke="#222" stroke-width="0.65"/><text x="243.13" y="378.6" fill="#222" style="font-size:8.7px">&#160;=&#160;15&#160;MΩ</text></g>
<g><text x="158.00" y="390.9" fill="#222" style="font-size:8.7px">Low&#160;resistance:&#160;</text><path d="M223.09 384.55 L221.43 388.25 L223.09 391.94" fill="none" stroke="#222" stroke-width="0.65"/><text x="223.74" y="390.9" fill="#222" style="font-size:8.7px"><tspan font-style="italic">R</tspan>(<tspan font-style="italic">t</tspan>)</text><path d="M238.91 384.55 L240.56 388.25 L238.91 391.94" fill="none" stroke="#222" stroke-width="0.65"/><text x="241.21" y="390.9" fill="#222" style="font-size:8.7px">&#160;=&#160;800&#160;kΩ</text></g>
</g>
<g id="id">
<polyline points="199.0,260.7 203.2,260.7 204.3,242.0 205.5,241.7 226.5,241.7 227.5,242.5 228.5,260.2 229.5,260.7 235.0,260.7" fill="none" stroke="#f5b31c" stroke-width="1.1" stroke-linejoin="round" stroke-linecap="round" />
<line x1="208" y1="241.7" x2="231.5" y2="241.7" stroke="#555" stroke-width="0.6" stroke-dasharray="0.9 0.9"/>
<text x="232.3" y="243.8" fill="#222" text-anchor="start" style="font-size:7.2px;" >T<tspan font-size="5" dy="1.6">c</tspan></text>
<line x1="207.5" y1="251.2" x2="224.5" y2="251.2" stroke="#222" stroke-width="0.6"/>
<path d="M206.5 251.2 L209 250 L209 252.4 Z" fill="#222"/><path d="M225.5 251.2 L223 250 L223 252.4 Z" fill="#222"/>
<text x="215.5" y="260.2" fill="#222" text-anchor="middle" style="font-size:7.8px;" >10 µs</text>
<path d="M245.5 239.5 Q236 250 236.5 264 Q237 276 242 283" fill="none" stroke="#f5b31c" stroke-width="1.1"/>
<path d="M245 286 L240 283.5 L243.2 280.8 Z" fill="#f5b31c"/>
<path d="M251.4 220 Q267 226 283.4 231.1 Q300 228 318.2 225.9 L314.4 252.8 Q299 245 283.4 241 Q266 243 249.3 246.6 Z" fill="#d05a7a" stroke="#203060" stroke-width="0.4"/>
<path d="M249.3 246.6 Q266 243 283.4 241 Q299 245 314.4 252.8 L315.7 260.9 Q300 253 283.4 247.9 Q266 250 248.7 254.5 Z" fill="#c42858" stroke="#203060" stroke-width="0.4"/>
<path d="M251.4 220 L259.2 223 Q257 234 258.4 245 L249.3 246.6 Z" fill="#1f8cf0"/>
<path d="M249.3 246.6 L258.4 245 L258.6 252.5 L248.7 254.5 Z" fill="#0b45e6"/>
<path d="M318.2 225.9 L310.2 227 Q309 240 311 250.8 L314.4 252.8 Z" fill="#1f8cf0"/>
<path d="M311 250.8 L314.4 252.8 L315.7 260.9 L310.6 258.5 Z" fill="#0b45e6"/>
<path d="M318.2 225.9 L319.4 233.6 L315.7 260.9 L314.4 252.8 Z" fill="#0a2a8a"/>
<text x="285.3" y="238.8" fill="#f6dde4" text-anchor="middle" style="font-size:7.6px;" >GeTe<tspan font-size="5" dy="1.7">s</tspan></text>
<path d="M250.2 269.5 Q266 276 280.9 281.4 Q298 278 316.7 275.7 L314.4 302.7 Q298 296 282.2 291.5 Q265 293 248.1 296.5 Z" fill="#1f8cf0" stroke="#203060" stroke-width="0.4"/>
<path d="M248.1 296.5 Q265 293 282.2 291.5 Q298 296 314.4 302.7 L314.4 310.8 Q298 304 280.9 299 Q264 300.5 247.2 304 Z" fill="#0b45e6" stroke="#203060" stroke-width="0.4"/>
<path d="M316.7 275.7 L318.2 284.1 L314.4 310.8 L314.4 302.7 Z" fill="#0a2a8a"/>
<path d="M280.2 282 Q282.2 280.8 284.4 281.7 Q285.6 286.5 284.6 291.8 L280.3 291.8 Q279.2 287 280.2 282 Z" fill="#d05a7a"/>
<path d="M280.3 291.8 L284.6 291.8 Q284.8 296 283.8 299.2 L281 299.2 Q280.2 296 280.3 291.8 Z" fill="#c42858"/>
<line x1="273" y1="286.3" x2="279" y2="286.3" stroke="#f0f060" stroke-width="0.7"/>
<path d="M279.6 286.3 L277.4 285.2 L277.4 287.40000000000003 Z" fill="#f0f060"/>
<line x1="285.5" y1="286.3" x2="292" y2="286.3" stroke="#f0f060" stroke-width="0.7"/>
<path d="M285 286.3 L287.2 285.2 L287.2 287.40000000000003 Z" fill="#f0f060"/>
<line x1="273" y1="295.6" x2="279" y2="295.6" stroke="#f0f060" stroke-width="0.7"/>
<path d="M279.6 295.6 L277.4 294.5 L277.4 296.70000000000005 Z" fill="#f0f060"/>
<line x1="285.5" y1="295.6" x2="292" y2="295.6" stroke="#f0f060" stroke-width="0.7"/>
<path d="M285 295.6 L287.2 294.5 L287.2 296.70000000000005 Z" fill="#f0f060"/>
<text x="250.6" y="287.6" fill="#eaf2ff" text-anchor="start" style="font-size:7.2px;" transform="rotate(7 250.6 287.6)">GeTe<tspan font-size="4.8" dy="1.7">c</tspan></text>
</g>
<g id="pe">
<defs><clipPath id="ecl"><rect x="396.5" y="172.9" width="282.6" height="225.70000000000002"/></clipPath></defs>
<g clip-path="url(#ecl)">
<polyline points="395.9,330.3 402.5,333.1 407.1,336.8 410.9,343.4 413.7,352.7 415.6,359.3 417.4,367.7 420.2,366.7 422.1,362.1 424.5,371.4 426.8,360.2 428.6,355.5 431.4,364.9 433.9,363.0 436.1,352.7 438.9,364.9 441.4,356.4 443.6,367.7 444.5,360.9 445.5,371.4 447.1,364.6 448.5,370.9 449.9,367.5 451.6,377.3 452.6,368.0 454.3,373.4 455.8,366.5 456.9,375.2 458.1,368.9 459.7,376.1 461.0,367.9 462.0,379.6 463.5,368.7 464.9,378.6 466.6,372.2 468.1,381.7 469.8,374.9 471.1,381.1 472.7,374.3 474.0,381.5 475.3,375.9 476.5,388.8 478.2,379.5 479.7,389.4 481.0,379.7 482.3,392.0 483.4,380.8 485.0,390.1 486.5,384.5 488.3,393.0 489.6,386.6 491.2,396.7 492.8,388.1 494.6,396.2 496.2,390.8 497.5,400.0 498.7,391.0 499.8,396.6 501.4,392.4 502.9,403.8 504.2,393.3 505.4,405.2 507.1,395.4 508.8,405.4 510.3,395.3 511.9,404.1 513.3,396.8 514.7,407.9 516.2,398.1 517.4,410.6 518.6,399.5 519.7,407.3 520.7,400.3" fill="none" stroke="#1fa22b" stroke-width="1.9" stroke-linejoin="round" stroke-linecap="round" />
<polyline points="395.9,330.3 400.6,338.7 405.3,346.2 410.0,352.7 414.6,355.5 420.2,361.1 424.9,346.2 427.7,348.0 430.5,357.4 433.3,365.8 436.1,352.7 438.4,359.3 440.8,366.7 442.5,364.2 443.7,376.1 445.0,363.8 446.4,376.7 447.8,363.9 448.8,378.7 450.3,366.9 451.4,380.5 452.7,365.0 453.8,377.3 455.3,369.1 456.2,381.9 457.2,371.3 458.3,380.0 459.2,369.1 460.7,383.8 462.2,372.2 463.1,384.6 464.3,372.9 465.2,390.5 466.6,377.5 468.1,391.2 468.9,375.2 470.2,390.3 471.1,373.2 472.4,396.5 473.8,380.8 474.7,397.5 476.2,379.6 477.3,394.7 478.8,376.7 479.6,394.0 480.6,380.3 482.1,396.7 483.1,377.1 484.5,399.3 485.9,384.6 487.4,394.6 488.3,383.0 489.8,398.5 491.1,385.5 492.1,396.8 493.1,390.0 494.5,399.0 495.5,388.6 496.6,400.3 497.8,392.3 499.0,398.5 500.3,394.0 501.4,398.0 502.5,392.6 503.4,398.7 504.4,395.5 505.8,399.9 506.7,396.3 507.8,399.5 508.7,396.7 509.9,400.6 510.8,397.6 512.1,400.9 512.9,398.4" fill="none" stroke="#4d73d6" stroke-width="1.9" stroke-linejoin="round" stroke-linecap="round" />
<polyline points="406.2,189.1 425.0,200.6 430.6,206.2 436.2,212.8 441.8,213.3 447.4,214.6 451.2,219.3 454.0,225.8 455.8,229.6 459.6,228.3 464.3,230.5 469.9,232.4 474.5,234.3 477.3,236.1 480.1,245.5 482.9,256.7 485.7,269.8 488.6,260.4 491.4,254.8 495.1,256.7 498.7,262.4 504.3,269.0 510.0,270.8 515.6,271.8 518.4,274.6 520.2,281.1 523.0,285.8 527.7,290.5 532.4,294.2 538.0,297.0 543.6,301.7 549.2,306.4 556.7,309.2 564.2,313.8 573.6,322.1 584.9,330.5 596.1,337.5 607.3,344.5 618.5,352.9 629.7,361.3 640.9,369.7 652.2,376.7 663.4,382.4 674.6,383.8" fill="none" stroke="#3b0838" stroke-width="3.6" stroke-linejoin="round" stroke-linecap="round" stroke-linecap="butt"/>
<polyline points="406.2,233.9 425.0,234.8 432.5,234.3 441.8,233.9 446.5,235.2 450.2,240.8 454.0,244.0 457.7,242.7 460.5,232.4 463.3,221.2 466.1,223.0 468.9,233.3 472.7,238.0 476.4,236.1 480.1,234.3 484.8,237.1 489.5,240.8 494.2,245.5 498.7,253.1 502.5,260.6 506.2,264.3 511.8,269.0 517.4,273.6 523.0,279.3 528.6,283.0 536.1,285.8 543.6,288.6 551.1,291.4 556.7,292.3 562.3,296.1 569.8,301.7 573.6,305.2 584.9,315.1 596.1,326.3 607.3,338.9 618.5,350.1 629.7,361.3 640.9,372.5 652.2,382.4 660.6,388.0 674.6,389.4" fill="none" stroke="#fb4a5c" stroke-width="4.3" stroke-linejoin="round" stroke-linecap="round" stroke-linecap="butt"/>
<line x1="406.2" y1="195.8" x2="676" y2="395.9" stroke="#f2b51e" stroke-width="1.8" stroke-dasharray="3.2 3.0"/>
<polyline points="401.0,233.8 457.0,233.6 475.7,235.7 485.0,240.4 492.0,246.4 497.8,250.3 502.5,255.9 507.1,261.5 511.8,266.2 515.6,271.8 520.2,277.4 525.8,283.9 531.4,290.5 535.2,296.1 539.9,305.4 543.6,311.0 548.3,316.6 576.7,356.1 604.2,397.8 610.0,406.0" fill="none" stroke="#f282f0" stroke-width="2.5" stroke-linejoin="round" stroke-linecap="round" stroke-dasharray="2.4 4.49" style="stroke-linecap:butt"/>
<polyline points="407.8,293.1 526.0,293.1 532.4,293.8 545.5,294.2 553.0,295.1 559.5,296.1 566.0,298.9 571.6,302.6 580.9,313.5 591.4,324.0 602.0,336.6 612.4,351.0 649.0,398.5 655.0,406.0" fill="none" stroke="#f282f0" stroke-width="2.5" stroke-linejoin="round" stroke-linecap="round" stroke-dasharray="2.4 4.49" style="stroke-linecap:butt"/>
</g>
<line x1="396.5" y1="172.9" x2="679.1" y2="172.9" stroke="#b0b0b0" stroke-width="1"/>
<line x1="679.1" y1="172.9" x2="679.1" y2="398.6" stroke="#666" stroke-width="1"/>
<line x1="396.5" y1="172.4" x2="396.5" y2="399.1" stroke="#3a3a3a" stroke-width="1"/>
<line x1="396.0" y1="398.6" x2="679.1" y2="398.6" stroke="#3a3a3a" stroke-width="1"/>
<path d="M396.5 398.6h2.6M396.5 390.1h1.4M396.5 385.1h1.4M396.5 381.6h1.4M396.5 378.9h1.4M396.5 376.6h1.4M396.5 374.8h1.4M396.5 373.1h1.4M396.5 371.7h1.4M396.5 370.4h2.6M396.5 361.9h1.4M396.5 356.9h1.4M396.5 353.4h1.4M396.5 350.7h1.4M396.5 348.4h1.4M396.5 346.5h1.4M396.5 344.9h1.4M396.5 343.5h1.4M396.5 342.2h2.6M396.5 333.7h1.4M396.5 328.7h1.4M396.5 325.2h1.4M396.5 322.5h1.4M396.5 320.2h1.4M396.5 318.3h1.4M396.5 316.7h1.4M396.5 315.3h1.4M396.5 314.0h2.6M396.5 305.5h1.4M396.5 300.5h1.4M396.5 297.0h1.4M396.5 294.2h1.4M396.5 292.0h1.4M396.5 290.1h1.4M396.5 288.5h1.4M396.5 287.0h1.4M396.5 285.8h2.6M396.5 277.3h1.4M396.5 272.3h1.4M396.5 268.8h1.4M396.5 266.0h1.4M396.5 263.8h1.4M396.5 261.9h1.4M396.5 260.3h1.4M396.5 258.8h1.4M396.5 257.5h2.6M396.5 249.0h1.4M396.5 244.1h1.4M396.5 240.6h1.4M396.5 237.8h1.4M396.5 235.6h1.4M396.5 233.7h1.4M396.5 232.1h1.4M396.5 230.6h1.4M396.5 229.3h2.6M396.5 220.8h1.4M396.5 215.9h1.4M396.5 212.3h1.4M396.5 209.6h1.4M396.5 207.4h1.4M396.5 205.5h1.4M396.5 203.8h1.4M396.5 202.4h1.4M396.5 201.1h2.6M396.5 192.6h1.4M396.5 187.7h1.4M396.5 184.1h1.4M396.5 181.4h1.4M396.5 179.2h1.4M396.5 177.3h1.4M396.5 175.6h1.4M396.5 174.2h1.4M396.5 398.6v-2.6M410.7 398.6v-1.4M419.0 398.6v-1.4M424.9 398.6v-1.4M429.4 398.6v-1.4M433.2 398.6v-1.4M436.3 398.6v-1.4M439.0 398.6v-1.4M441.4 398.6v-1.4M443.6 398.6v-2.6M457.8 398.6v-1.4M466.1 398.6v-1.4M472.0 398.6v-1.4M476.5 398.6v-1.4M480.3 398.6v-1.4M483.4 398.6v-1.4M486.1 398.6v-1.4M488.5 398.6v-1.4M490.7 398.6v-2.6M504.9 398.6v-1.4M513.2 398.6v-1.4M519.1 398.6v-1.4M523.6 398.6v-1.4M527.4 398.6v-1.4M530.5 398.6v-1.4M533.2 398.6v-1.4M535.6 398.6v-1.4M537.8 398.6v-2.6M552.0 398.6v-1.4M560.3 398.6v-1.4M566.2 398.6v-1.4M570.7 398.6v-1.4M574.5 398.6v-1.4M577.6 398.6v-1.4M580.3 398.6v-1.4M582.7 398.6v-1.4M584.9 398.6v-2.6M599.1 398.6v-1.4M607.4 398.6v-1.4M613.3 398.6v-1.4M617.8 398.6v-1.4M621.6 398.6v-1.4M624.7 398.6v-1.4M627.4 398.6v-1.4M629.8 398.6v-1.4M632.0 398.6v-2.6M646.2 398.6v-1.4M654.5 398.6v-1.4M660.4 398.6v-1.4M664.9 398.6v-1.4M668.7 398.6v-1.4M671.8 398.6v-1.4M674.5 398.6v-1.4M676.9 398.6v-1.4" stroke="#3a3a3a" stroke-width="0.7" fill="none"/>
<text x="391.7" y="175.5" text-anchor="end" fill="#222" style="font-size:8.2px">10<tspan font-size="5.5" dy="-4.4">0</tspan></text>
<text x="391.7" y="231.9" text-anchor="end" fill="#222" style="font-size:8.2px">10<tspan font-size="5.5" dy="-4.4">−2</tspan></text>
<text x="391.7" y="288.4" text-anchor="end" fill="#222" style="font-size:8.2px">10<tspan font-size="5.5" dy="-4.4">−4</tspan></text>
<text x="391.7" y="344.8" text-anchor="end" fill="#222" style="font-size:8.2px">10<tspan font-size="5.5" dy="-4.4">−6</tspan></text>
<text x="391.7" y="401.2" text-anchor="end" fill="#222" style="font-size:8.2px">10<tspan font-size="5.5" dy="-4.4">−8</tspan></text>
<text x="396.5" y="411.2" text-anchor="middle" fill="#222" style="font-size:8.4px">10<tspan font-size="5.5" dy="-4.4">−3</tspan></text>
<text x="490.7" y="411.2" text-anchor="middle" fill="#222" style="font-size:8.4px">10<tspan font-size="5.5" dy="-4.4">−1</tspan></text>
<text x="584.9" y="411.2" text-anchor="middle" fill="#222" style="font-size:8.4px">10<tspan font-size="5.5" dy="-4.4">1</tspan></text>
<text x="679.1" y="411.2" text-anchor="middle" fill="#222" style="font-size:8.4px">10<tspan font-size="5.5" dy="-4.4">3</tspan></text>
<text x="537.8" y="425.5" fill="#222" text-anchor="middle" style="font-size:10.65px;" >Frequency (Hz)</text>
<text x="369.5" y="276.2" text-anchor="middle" fill="#222" transform="rotate(-90 369.5 276.2)" style="font-size:10px">Power spectral density (Hz<tspan font-size="6.5" dy="-4">−1</tspan><tspan dy="4">)</tspan></text>
<line x1="580" y1="189.1" x2="606.3" y2="189.1" stroke="#3b0838" stroke-width="2.1"/>
<text x="610.9" y="192.29999999999998" fill="#222" style="font-size:9px">High resistance</text>
<line x1="580" y1="204.1" x2="606.3" y2="204.1" stroke="#f2b51e" stroke-width="2" stroke-dasharray="4.8 5.8"/>
<text x="610.9" y="207.29999999999998" fill="#222" style="font-size:9px">1/<tspan font-style="italic">f</tspan><tspan font-size="5.8" dy="-3.5" font-style="italic">α</tspan><tspan dy="3.5"> (</tspan><tspan font-style="italic">α</tspan> = 1.3)</text>
<line x1="580" y1="218.7" x2="606.3" y2="218.7" stroke="#fb4a5c" stroke-width="2.1"/>
<text x="610.9" y="221.89999999999998" fill="#222" style="font-size:9px">Low resistance</text>
<line x1="580" y1="234.2" x2="606.3" y2="234.2" stroke="#1fa22b" stroke-width="2.1"/>
<text x="610.9" y="237.39999999999998" fill="#222" style="font-size:9px">1-MΩ resistor</text>
<line x1="580" y1="249.1" x2="606.3" y2="249.1" stroke="#4d73d6" stroke-width="2.1"/>
<text x="610.9" y="252.29999999999998" fill="#222" style="font-size:9px">Crystalline cell</text>
<line x1="580" y1="265" x2="602" y2="265" stroke="#f282f0" stroke-width="2.5" stroke-dasharray="2.4 4.0"/>
<text x="611" y="267.6" fill="#222" text-anchor="start" style="font-size:7.2px;" >α</text>
<line x1="619" y1="265" x2="666.7" y2="265" stroke="#222" stroke-width="0.6"/>
<text x="643.2" y="261.5" text-anchor="middle" fill="#222" style="font-size:8.3px">2τ<tspan font-size="5" dy="1.8" font-style="italic">i</tspan></text>
<text x="642.8" y="275" text-anchor="middle" fill="#222" style="font-size:8.3px">1 + (2π<tspan font-style="italic">f</tspan>)<tspan font-size="5" dy="-3.5">2</tspan><tspan dy="3.5">τ</tspan><tspan font-size="5" dy="-3.5">2</tspan><tspan font-size="5" dx="-2.8" dy="5.3" font-style="italic">i</tspan></text>
</g>
<text x="-0.6" y="11" fill="#000" text-anchor="start" style="font-size:15.6px;font-weight:bold;" >a</text>
<text x="243.6" y="11" fill="#000" text-anchor="start" style="font-size:15.6px;font-weight:bold;" >b</text>
<text x="487.2" y="11.2" fill="#000" text-anchor="start" style="font-size:15.6px;font-weight:bold;" >c</text>
<text x="-0.3" y="170.7" fill="#000" text-anchor="start" style="font-size:15.6px;font-weight:bold;" >d</text>
<text x="358.6" y="170.7" fill="#000" text-anchor="start" style="font-size:15.6px;font-weight:bold;" >e</text>
</svg>
</body></html>
